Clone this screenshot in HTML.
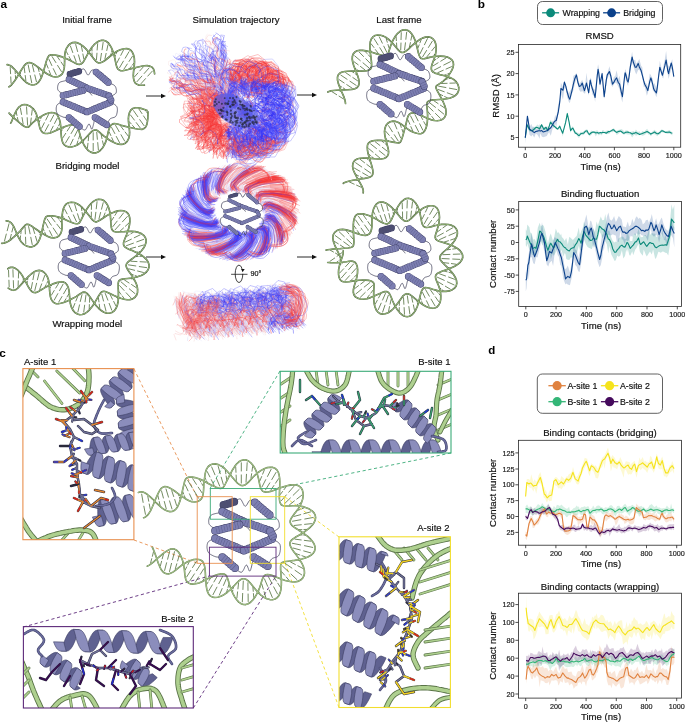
<!DOCTYPE html>
<html><head><meta charset="utf-8"><title>Figure</title>
<style>
html,body{margin:0;padding:0;background:#fff;}
svg{display:block;}
text{font-family:'Liberation Sans',Arial,sans-serif;}
</style></head>
<body>
<svg width="685" height="722" viewBox="0 0 685 722">
<rect width="685" height="722" fill="#fff"/>
<text x="0.6" y="8.1" font-size="11.8" text-anchor="start" font-weight="bold" fill="#000" stroke="#000" stroke-width="0.0">a</text>
<text x="477.8" y="8.0" font-size="11.8" text-anchor="start" font-weight="bold" fill="#000" stroke="#000" stroke-width="0.0">b</text>
<text x="-0.8" y="357.0" font-size="11.8" text-anchor="start" font-weight="bold" fill="#000" stroke="#000" stroke-width="0.0">c</text>
<text x="488.2" y="354.0" font-size="11.5" text-anchor="start" font-weight="bold" fill="#000" stroke="#000" stroke-width="0.0">d</text>
<text x="87.0" y="23.0" font-size="9.6" text-anchor="middle" fill="#111" stroke="#111" stroke-width="0.18">Initial frame</text>
<text x="236.0" y="23.0" font-size="9.6" text-anchor="middle" fill="#111" stroke="#111" stroke-width="0.18">Simulation trajectory</text>
<text x="399.0" y="23.0" font-size="9.6" text-anchor="middle" fill="#111" stroke="#111" stroke-width="0.18">Last frame</text>
<text x="87.5" y="169.0" font-size="9.6" text-anchor="middle" fill="#111" stroke="#111" stroke-width="0.18">Bridging model</text>
<text x="87.3" y="326.5" font-size="9.6" text-anchor="middle" fill="#111" stroke="#111" stroke-width="0.18">Wrapping model</text>
<line x1="231.1" y1="274.3" x2="247.5" y2="274.3" stroke="#111" stroke-width="0.75"/>
<ellipse cx="239" cy="273.8" rx="3.8" ry="8.7" fill="none" stroke="#111" stroke-width="0.8" stroke-dasharray="37.3 3.5"/>
<path d="M241.2,269.0 L244.7,269.0 L242.6,272.2Z" fill="#111"/>
<text x="250.6" y="275.8" font-size="7.2" text-anchor="start" fill="#111" stroke="#111" stroke-width="0.18">90°</text>
<text x="24.0" y="365.0" font-size="9.5" text-anchor="start" fill="#111" stroke="#111" stroke-width="0.18">A-site 1</text>
<text x="450.5" y="365.0" font-size="9.5" text-anchor="end" fill="#111" stroke="#111" stroke-width="0.18">B-site 1</text>
<text x="449.5" y="531.0" font-size="9.5" text-anchor="end" fill="#111" stroke="#111" stroke-width="0.18">A-site 2</text>
<text x="193.5" y="622.0" font-size="9.5" text-anchor="end" fill="#111" stroke="#111" stroke-width="0.18">B-site 2</text>
<rect x="537.5" y="1.5" width="125" height="23" rx="5" ry="5" fill="#fff" stroke="#3a3a3a" stroke-width="0.8"/>
<line x1="542.1" y1="12.8" x2="559.1" y2="12.8" stroke="#0b8a7a" stroke-width="1.3"/><circle cx="550.6" cy="12.8" r="4.45" fill="#0b8a7a"/>
<text x="562.5" y="16.0" font-size="8.8" text-anchor="start" fill="#111" stroke="#111" stroke-width="0.18">Wrapping</text>
<line x1="603.1" y1="12.8" x2="620.1" y2="12.8" stroke="#0b418b" stroke-width="1.3"/><circle cx="611.6" cy="12.8" r="4.45" fill="#0b418b"/>
<text x="623.2" y="16.0" font-size="8.8" text-anchor="start" fill="#111" stroke="#111" stroke-width="0.18">Bridging</text>
<rect x="518.5" y="44.5" width="162.20000000000005" height="102.69999999999999" fill="none" stroke="#262626" stroke-width="0.8"/>
<line x1="515.5" y1="137.5" x2="518.5" y2="137.5" stroke="#222" stroke-width="0.8"/>
<text x="514.5" y="140.1" font-size="7.2" text-anchor="end" fill="#222" stroke="#222" stroke-width="0.18">5</text>
<line x1="515.5" y1="116.2" x2="518.5" y2="116.2" stroke="#222" stroke-width="0.8"/>
<text x="514.5" y="118.8" font-size="7.2" text-anchor="end" fill="#222" stroke="#222" stroke-width="0.18">10</text>
<line x1="515.5" y1="94.9" x2="518.5" y2="94.9" stroke="#222" stroke-width="0.8"/>
<text x="514.5" y="97.5" font-size="7.2" text-anchor="end" fill="#222" stroke="#222" stroke-width="0.18">15</text>
<line x1="515.5" y1="73.6" x2="518.5" y2="73.6" stroke="#222" stroke-width="0.8"/>
<text x="514.5" y="76.2" font-size="7.2" text-anchor="end" fill="#222" stroke="#222" stroke-width="0.18">20</text>
<line x1="515.5" y1="52.3" x2="518.5" y2="52.3" stroke="#222" stroke-width="0.8"/>
<text x="514.5" y="54.9" font-size="7.2" text-anchor="end" fill="#222" stroke="#222" stroke-width="0.18">25</text>
<line x1="525.3" y1="147.2" x2="525.3" y2="150.2" stroke="#222" stroke-width="0.8"/>
<text x="525.3" y="157.8" font-size="7.2" text-anchor="middle" fill="#222" stroke="#222" stroke-width="0.18">0</text>
<line x1="555.0" y1="147.2" x2="555.0" y2="150.2" stroke="#222" stroke-width="0.8"/>
<text x="555.0" y="157.8" font-size="7.2" text-anchor="middle" fill="#222" stroke="#222" stroke-width="0.18">200</text>
<line x1="584.7" y1="147.2" x2="584.7" y2="150.2" stroke="#222" stroke-width="0.8"/>
<text x="584.7" y="157.8" font-size="7.2" text-anchor="middle" fill="#222" stroke="#222" stroke-width="0.18">400</text>
<line x1="614.4" y1="147.2" x2="614.4" y2="150.2" stroke="#222" stroke-width="0.8"/>
<text x="614.4" y="157.8" font-size="7.2" text-anchor="middle" fill="#222" stroke="#222" stroke-width="0.18">600</text>
<line x1="644.1" y1="147.2" x2="644.1" y2="150.2" stroke="#222" stroke-width="0.8"/>
<text x="644.1" y="157.8" font-size="7.2" text-anchor="middle" fill="#222" stroke="#222" stroke-width="0.18">800</text>
<line x1="673.8" y1="147.2" x2="673.8" y2="150.2" stroke="#222" stroke-width="0.8"/>
<text x="673.8" y="157.8" font-size="7.2" text-anchor="middle" fill="#222" stroke="#222" stroke-width="0.18">1000</text>
<text x="599.6" y="39.4" font-size="9.6" text-anchor="middle" fill="#111" stroke="#111" stroke-width="0.18">RMSD</text>
<text x="600.6" y="170.0" font-size="9.6" text-anchor="middle" fill="#111" stroke="#111" stroke-width="0.18">Time (ns)</text>
<text x="499.5" y="95.8" font-size="9.6" text-anchor="middle" fill="#111" stroke="#111" stroke-width="0.18" transform="rotate(-90 499.5 95.8)">RMSD (Å)</text>
<path d="M525.3,135.1 L527.4,114.2 L528.3,118.7 L529.5,127.0 L531.3,124.0 L532.4,126.8 L534.3,126.8 L535.7,129.6 L537.3,128.5 L538.8,128.3 L539.6,124.1 L540.3,125.4 L541.8,124.5 L543.1,130.0 L544.8,127.0 L546.8,128.6 L547.8,126.0 L549.1,127.8 L550.8,126.1 L552.6,120.7 L553.8,121.0 L555.3,114.8 L556.2,118.1 L558.3,104.0 L559.8,98.7 L560.9,82.7 L563.0,87.0 L564.4,80.2 L565.8,84.9 L567.0,88.4 L568.8,93.3 L569.8,91.3 L571.8,88.5 L573.4,75.8 L574.8,75.1 L576.4,73.1 L577.8,77.0 L579.2,83.8 L580.8,81.9 L582.2,79.7 L584.4,85.6 L585.3,83.8 L586.5,72.8 L588.7,91.3 L590.2,77.4 L591.3,79.3 L592.3,86.7 L594.3,89.2 L595.1,89.9 L595.8,84.8 L597.3,68.8 L598.1,64.3 L598.8,67.7 L600.0,82.6 L602.1,71.2 L603.3,85.0 L604.2,95.3 L606.3,75.1 L607.3,73.4 L609.4,66.3 L610.8,71.7 L612.5,82.2 L613.8,77.0 L615.3,75.9 L616.6,70.2 L618.3,79.0 L619.6,75.8 L621.3,86.7 L622.4,91.1 L624.3,77.8 L625.1,69.3 L625.8,70.3 L627.3,76.3 L628.1,80.7 L628.8,73.1 L630.3,61.7 L632.1,51.7 L633.3,60.4 L635.2,59.7 L636.3,63.7 L638.2,61.0 L639.3,58.9 L641.1,65.7 L642.3,67.2 L643.8,79.7 L644.7,82.3 L646.8,84.0 L647.8,86.6 L649.8,73.6 L650.9,75.2 L652.8,78.9 L653.6,86.0 L654.3,82.7 L656.4,87.9 L657.3,82.1 L658.8,71.7 L659.8,60.7 L662.4,72.5 L663.3,66.5 L664.8,59.4 L666.1,51.1 L667.8,65.2 L668.6,65.4 L669.3,67.4 L671.3,61.4 L672.3,59.3 L673.8,75.0 L673.8,78.4 L672.3,69.6 L671.3,69.2 L669.3,76.3 L668.6,79.0 L667.8,74.4 L666.1,61.3 L664.8,68.3 L663.3,78.6 L662.4,77.6 L659.8,68.8 L658.8,80.8 L657.3,93.8 L656.4,97.2 L654.3,91.9 L653.6,91.2 L652.8,90.2 L650.9,80.3 L649.8,84.0 L647.8,93.2 L646.8,95.7 L644.7,86.4 L643.8,87.2 L642.3,77.3 L641.1,73.2 L639.3,69.7 L638.2,70.0 L636.3,74.6 L635.2,72.0 L633.3,65.8 L632.1,63.1 L630.3,68.5 L628.8,80.2 L628.1,85.9 L627.3,84.3 L625.8,79.9 L625.1,77.1 L624.3,82.7 L622.4,102.4 L621.3,98.6 L619.6,89.7 L618.3,86.6 L616.6,83.5 L615.3,82.5 L613.8,84.2 L612.5,86.9 L610.8,84.2 L609.4,74.0 L607.3,79.0 L606.3,85.6 L604.2,99.1 L603.3,90.2 L602.1,75.9 L600.0,87.3 L598.8,76.8 L598.1,73.2 L597.3,78.3 L595.8,94.9 L595.1,102.1 L594.3,97.1 L592.3,94.3 L591.3,88.5 L590.2,83.7 L588.7,95.4 L586.5,85.0 L585.3,93.3 L584.4,93.6 L582.2,90.9 L580.8,92.1 L579.2,89.9 L577.8,84.7 L576.4,78.7 L574.8,83.9 L573.4,90.3 L571.8,94.3 L569.8,103.3 L568.8,101.8 L567.0,96.7 L565.8,88.2 L564.4,88.3 L563.0,99.7 L560.9,93.4 L559.8,103.7 L558.3,114.2 L556.2,127.2 L555.3,123.9 L553.8,127.7 L552.6,128.6 L550.8,135.7 L549.1,131.9 L547.8,134.0 L546.8,136.1 L544.8,136.7 L543.1,137.2 L541.8,136.6 L540.3,133.2 L539.6,138.7 L538.8,137.1 L537.3,134.5 L535.7,133.7 L534.3,137.6 L532.4,134.7 L531.3,136.5 L529.5,134.7 L528.3,128.1 L527.4,118.1 L525.3,143.7Z" fill="#0b418b" fill-opacity="0.2" stroke="none"/>
<path d="M525.3,136.7 L527.1,122.7 L528.3,126.5 L529.5,128.0 L531.3,129.7 L532.4,128.1 L534.3,127.3 L536.0,126.3 L537.3,124.5 L538.8,125.6 L539.6,127.4 L540.3,125.2 L541.6,124.0 L543.9,127.0 L544.8,127.2 L546.1,126.1 L547.6,129.7 L549.3,123.5 L550.5,119.7 L552.6,122.2 L553.8,124.8 L555.0,125.8 L556.8,127.1 L557.7,127.9 L559.8,124.5 L561.3,129.3 L562.7,132.5 L564.3,126.0 L565.7,120.0 L567.3,112.1 L569.1,121.0 L570.6,128.1 L571.8,127.6 L572.8,126.1 L574.8,131.3 L575.5,130.7 L576.3,132.0 L578.5,133.1 L579.3,133.5 L580.8,131.7 L582.8,131.9 L583.8,130.9 L585.3,130.1 L587.1,129.1 L588.3,132.5 L589.2,133.3 L591.3,130.5 L592.9,131.3 L594.3,131.3 L595.8,130.8 L597.3,130.3 L598.7,131.9 L600.3,131.7 L601.8,132.1 L602.5,129.9 L603.3,130.0 L604.8,131.8 L606.2,130.8 L608.5,130.2 L609.3,130.9 L610.8,129.9 L612.9,128.8 L613.8,128.0 L615.3,130.4 L616.6,130.8 L618.3,130.0 L620.3,129.5 L621.3,129.0 L623.3,130.2 L624.3,131.7 L625.8,130.2 L627.8,130.4 L628.8,131.2 L630.3,132.1 L632.2,131.6 L633.3,130.9 L634.8,131.9 L635.9,129.5 L637.8,131.9 L639.6,131.2 L640.8,133.3 L642.3,131.0 L644.1,131.7 L645.3,130.4 L647.1,128.7 L648.3,130.5 L649.8,132.4 L650.8,132.9 L652.8,131.3 L654.5,129.8 L655.8,130.9 L657.3,132.1 L658.2,132.8 L660.3,130.2 L661.9,129.2 L663.3,130.2 L664.8,131.1 L665.6,131.2 L667.8,130.7 L669.3,130.0 L670.8,131.1 L672.3,132.5 L672.3,135.6 L670.8,134.2 L669.3,133.4 L667.8,133.9 L665.6,133.3 L664.8,132.6 L663.3,133.1 L661.9,131.9 L660.3,134.2 L658.2,134.9 L657.3,136.2 L655.8,134.8 L654.5,134.2 L652.8,134.0 L650.8,136.2 L649.8,134.7 L648.3,134.6 L647.1,132.8 L645.3,134.5 L644.1,135.3 L642.3,135.8 L640.8,134.7 L639.6,135.2 L637.8,135.1 L635.9,135.7 L634.8,134.4 L633.3,135.7 L632.2,137.5 L630.3,134.4 L628.8,134.6 L627.8,134.4 L625.8,133.9 L624.3,134.5 L623.3,134.4 L621.3,132.7 L620.3,132.0 L618.3,134.0 L616.6,135.0 L615.3,132.1 L613.8,131.6 L612.9,132.2 L610.8,131.9 L609.3,133.8 L608.5,134.0 L606.2,134.2 L604.8,133.4 L603.3,133.2 L602.5,133.7 L601.8,135.5 L600.3,134.2 L598.7,135.5 L597.3,133.6 L595.8,136.5 L594.3,133.5 L592.9,132.9 L591.3,135.0 L589.2,136.3 L588.3,134.1 L587.1,133.2 L585.3,132.2 L583.8,134.9 L582.8,135.3 L580.8,134.7 L579.3,137.6 L578.5,137.7 L576.3,134.4 L575.5,133.9 L574.8,134.3 L572.8,130.4 L571.8,129.8 L570.6,133.0 L569.1,122.8 L567.3,115.3 L565.7,123.5 L564.3,129.6 L562.7,136.4 L561.3,131.6 L559.8,128.9 L557.7,129.9 L556.8,129.8 L555.0,128.0 L553.8,127.3 L552.6,126.0 L550.5,124.4 L549.3,127.2 L547.6,131.8 L546.1,129.0 L544.8,129.6 L543.9,130.4 L541.6,126.2 L540.3,128.4 L539.6,129.8 L538.8,130.2 L537.3,128.2 L536.0,129.4 L534.3,129.9 L532.4,133.0 L531.3,131.6 L529.5,131.7 L528.3,128.7 L527.1,126.7 L525.3,139.9Z" fill="#0b8a7a" fill-opacity="0.2" stroke="none"/>
<path d="M525.3,137.5 L527.1,124.7 L528.3,127.3 L529.5,129.8 L531.3,130.5 L532.4,130.7 L534.3,129.0 L536.0,127.3 L537.3,127.5 L538.8,128.2 L539.6,129.0 L540.3,127.5 L541.6,124.7 L543.9,129.4 L544.8,128.3 L546.1,127.3 L547.6,130.7 L549.3,125.9 L550.5,122.2 L552.6,124.7 L553.8,126.0 L555.0,126.8 L556.8,128.5 L557.7,129.0 L559.8,126.4 L561.3,130.1 L562.7,133.2 L564.3,127.4 L565.7,122.2 L567.3,113.6 L569.1,122.2 L570.6,130.7 L571.8,128.9 L572.8,128.1 L574.8,132.1 L575.5,133.2 L576.3,133.4 L578.5,135.4 L579.3,135.5 L580.8,133.7 L582.8,133.2 L583.8,133.1 L585.3,131.3 L587.1,130.7 L588.3,133.2 L589.2,134.5 L591.3,132.8 L592.9,132.0 L594.3,132.1 L595.8,133.0 L597.3,132.5 L598.7,133.2 L600.3,132.5 L601.8,132.9 L602.5,132.4 L603.3,132.5 L604.8,132.5 L606.2,133.2 L608.5,131.5 L609.3,131.8 L610.8,131.1 L612.9,129.8 L613.8,129.9 L615.3,131.5 L616.6,132.4 L618.3,131.5 L620.3,131.1 L621.3,131.5 L623.3,133.2 L624.3,133.1 L625.8,132.2 L627.8,132.0 L628.8,132.5 L630.3,132.8 L632.2,134.1 L633.3,133.3 L634.8,133.1 L635.9,132.4 L637.8,133.4 L639.6,134.5 L640.8,134.1 L642.3,133.6 L644.1,132.8 L645.3,132.3 L647.1,131.5 L648.3,132.2 L649.8,133.1 L650.8,134.1 L652.8,133.1 L654.5,132.0 L655.8,133.0 L657.3,133.8 L658.2,133.7 L660.3,132.1 L661.9,130.7 L663.3,131.1 L664.8,132.0 L665.6,132.4 L667.8,132.3 L669.3,132.0 L670.8,132.8 L672.3,133.2" fill="none" stroke="#0b8a7a" stroke-width="1.1" stroke-linejoin="round" stroke-opacity="1.0"/>
<path d="M525.3,137.7 L527.4,116.2 L528.3,121.5 L529.5,129.0 L531.3,130.5 L532.4,131.1 L534.3,132.6 L535.7,131.5 L537.3,131.1 L538.8,130.8 L539.6,130.7 L540.3,131.1 L541.8,130.6 L543.1,132.0 L544.8,131.4 L546.8,130.7 L547.8,130.3 L549.1,129.0 L550.8,127.7 L552.6,124.7 L553.8,122.4 L555.3,120.8 L556.2,120.5 L558.3,111.9 L559.8,101.7 L560.9,88.5 L563.0,90.2 L564.4,82.1 L565.8,86.1 L567.0,91.5 L568.8,97.4 L569.8,99.2 L571.8,91.3 L573.4,84.2 L574.8,78.7 L576.4,74.9 L577.8,82.0 L579.2,86.4 L580.8,85.8 L582.2,83.0 L584.4,90.6 L585.3,87.9 L586.5,83.0 L588.7,92.8 L590.2,80.0 L591.3,84.9 L592.3,88.5 L594.3,94.4 L595.1,97.5 L595.8,90.9 L597.3,75.2 L598.1,69.3 L598.8,73.3 L600.0,84.2 L602.1,73.6 L603.3,86.9 L604.2,96.6 L606.3,79.9 L607.3,74.9 L609.4,71.5 L610.8,76.0 L612.5,84.2 L613.8,82.4 L615.3,79.5 L616.6,77.9 L618.3,82.5 L619.6,84.2 L621.3,92.1 L622.4,96.6 L624.3,79.1 L625.1,72.7 L625.8,74.5 L627.3,80.7 L628.1,82.1 L628.8,78.7 L630.3,67.1 L632.1,57.0 L633.3,62.1 L635.2,67.2 L636.3,67.3 L638.2,63.4 L639.3,66.9 L641.1,70.6 L642.3,75.1 L643.8,81.0 L644.7,84.2 L646.8,88.1 L647.8,90.6 L649.8,81.4 L650.9,77.9 L652.8,84.6 L653.6,88.5 L654.3,90.1 L656.4,92.8 L657.3,87.3 L658.8,74.8 L659.8,67.2 L662.4,75.3 L663.3,71.9 L664.8,65.9 L666.1,60.0 L667.8,70.8 L668.6,73.6 L669.3,70.0 L671.3,63.0 L672.3,67.3 L673.8,76.6" fill="none" stroke="#0b418b" stroke-width="1.1" stroke-linejoin="round" stroke-opacity="1.0"/>
<rect x="518.7" y="201.5" width="162.79999999999995" height="104.89999999999998" fill="none" stroke="#262626" stroke-width="0.8"/>
<line x1="515.7" y1="209.9" x2="518.7" y2="209.9" stroke="#222" stroke-width="0.8"/>
<text x="514.7" y="212.5" font-size="7.2" text-anchor="end" fill="#222" stroke="#222" stroke-width="0.18">50</text>
<line x1="515.7" y1="226.2" x2="518.7" y2="226.2" stroke="#222" stroke-width="0.8"/>
<text x="514.7" y="228.8" font-size="7.2" text-anchor="end" fill="#222" stroke="#222" stroke-width="0.18">25</text>
<line x1="515.7" y1="242.5" x2="518.7" y2="242.5" stroke="#222" stroke-width="0.8"/>
<text x="514.7" y="245.1" font-size="7.2" text-anchor="end" fill="#222" stroke="#222" stroke-width="0.18">0</text>
<line x1="515.7" y1="258.8" x2="518.7" y2="258.8" stroke="#222" stroke-width="0.8"/>
<text x="514.7" y="261.4" font-size="7.2" text-anchor="end" fill="#222" stroke="#222" stroke-width="0.18">-25</text>
<line x1="515.7" y1="275.1" x2="518.7" y2="275.1" stroke="#222" stroke-width="0.8"/>
<text x="514.7" y="277.7" font-size="7.2" text-anchor="end" fill="#222" stroke="#222" stroke-width="0.18">-50</text>
<line x1="515.7" y1="291.4" x2="518.7" y2="291.4" stroke="#222" stroke-width="0.8"/>
<text x="514.7" y="294.0" font-size="7.2" text-anchor="end" fill="#222" stroke="#222" stroke-width="0.18">-75</text>
<line x1="525.8" y1="306.4" x2="525.8" y2="309.4" stroke="#222" stroke-width="0.8"/>
<text x="525.8" y="317.0" font-size="7.2" text-anchor="middle" fill="#222" stroke="#222" stroke-width="0.18">0</text>
<line x1="556.1" y1="306.4" x2="556.1" y2="309.4" stroke="#222" stroke-width="0.8"/>
<text x="556.1" y="317.0" font-size="7.2" text-anchor="middle" fill="#222" stroke="#222" stroke-width="0.18">200</text>
<line x1="586.4" y1="306.4" x2="586.4" y2="309.4" stroke="#222" stroke-width="0.8"/>
<text x="586.4" y="317.0" font-size="7.2" text-anchor="middle" fill="#222" stroke="#222" stroke-width="0.18">400</text>
<line x1="616.7" y1="306.4" x2="616.7" y2="309.4" stroke="#222" stroke-width="0.8"/>
<text x="616.7" y="317.0" font-size="7.2" text-anchor="middle" fill="#222" stroke="#222" stroke-width="0.18">600</text>
<line x1="647.0" y1="306.4" x2="647.0" y2="309.4" stroke="#222" stroke-width="0.8"/>
<text x="647.0" y="317.0" font-size="7.2" text-anchor="middle" fill="#222" stroke="#222" stroke-width="0.18">800</text>
<line x1="677.3" y1="306.4" x2="677.3" y2="309.4" stroke="#222" stroke-width="0.8"/>
<text x="677.3" y="317.0" font-size="7.2" text-anchor="middle" fill="#222" stroke="#222" stroke-width="0.18">1000</text>
<text x="600.1" y="196.8" font-size="9.6" text-anchor="middle" fill="#111" stroke="#111" stroke-width="0.18">Binding fluctuation</text>
<text x="601.1" y="328.6" font-size="9.6" text-anchor="middle" fill="#111" stroke="#111" stroke-width="0.18">Time (ns)</text>
<text x="496.5" y="253.9" font-size="9.6" text-anchor="middle" fill="#111" stroke="#111" stroke-width="0.18" transform="rotate(-90 496.5 253.9)">Contact number</text>
<path d="M525.8,229.2 L526.6,231.0 L527.3,224.6 L529.4,227.3 L530.3,232.4 L531.8,233.5 L533.1,239.5 L534.8,239.3 L536.0,241.5 L537.8,227.7 L539.7,222.8 L540.8,226.5 L542.6,224.7 L543.8,225.9 L545.5,231.7 L546.8,238.8 L547.9,243.3 L549.8,235.8 L550.8,233.4 L552.8,240.2 L553.8,239.3 L555.8,228.6 L557.5,233.1 L558.8,232.2 L560.3,235.4 L561.1,233.4 L561.8,237.1 L563.3,238.4 L564.8,241.1 L565.5,239.3 L566.3,238.0 L567.8,244.5 L569.3,236.8 L570.8,238.1 L572.9,239.9 L573.8,239.1 L575.3,237.3 L576.7,236.0 L578.8,227.5 L579.8,235.0 L581.1,231.6 L582.8,227.8 L584.0,221.4 L585.8,226.4 L587.6,227.1 L588.8,227.7 L590.5,226.2 L591.8,235.1 L593.5,228.3 L594.8,232.5 L596.6,221.5 L597.8,225.5 L599.4,220.7 L600.8,216.4 L602.3,220.2 L604.1,220.1 L605.3,214.0 L606.8,224.5 L608.3,230.9 L609.4,230.5 L611.3,237.6 L612.8,240.9 L614.6,242.4 L615.8,241.4 L617.3,241.9 L618.8,237.9 L620.3,237.5 L621.9,236.2 L623.3,237.1 L625.0,239.2 L626.3,238.4 L627.0,226.8 L627.8,232.2 L629.3,238.0 L630.2,241.0 L632.3,241.1 L633.2,234.4 L635.3,233.2 L636.4,236.4 L638.5,228.7 L639.8,233.4 L640.6,237.3 L642.8,236.9 L643.7,234.9 L645.8,234.9 L646.8,236.7 L648.8,229.7 L650.0,234.9 L651.8,233.0 L653.1,233.5 L655.2,233.7 L656.3,236.7 L658.4,237.5 L659.3,229.7 L660.8,238.2 L662.5,229.0 L663.8,239.9 L665.3,234.5 L666.7,240.0 L668.3,235.6 L669.7,225.1 L671.5,204.3 L672.8,209.8 L674.3,205.1 L674.3,230.3 L672.8,230.7 L671.5,229.2 L669.7,246.1 L668.3,255.5 L666.7,253.1 L665.3,252.8 L663.8,251.7 L662.5,251.6 L660.8,252.8 L659.3,252.0 L658.4,251.8 L656.3,257.8 L655.2,259.0 L653.1,249.4 L651.8,254.6 L650.0,251.5 L648.8,253.2 L646.8,256.6 L645.8,254.7 L643.7,249.6 L642.8,255.7 L640.6,253.0 L639.8,251.5 L638.5,243.7 L636.4,248.3 L635.3,249.4 L633.2,255.3 L632.3,251.3 L630.2,255.7 L629.3,254.9 L627.8,248.8 L627.0,252.2 L626.3,249.2 L625.0,256.1 L623.3,258.4 L621.9,250.2 L620.3,255.6 L618.8,256.7 L617.3,255.4 L615.8,260.3 L614.6,260.9 L612.8,257.2 L611.3,254.4 L609.4,245.7 L608.3,253.5 L606.8,244.3 L605.3,241.6 L604.1,235.3 L602.3,238.6 L600.8,233.8 L599.4,231.5 L597.8,240.3 L596.6,247.7 L594.8,247.3 L593.5,244.0 L591.8,249.2 L590.5,248.6 L588.8,247.8 L587.6,247.0 L585.8,244.1 L584.0,239.6 L582.8,244.4 L581.1,250.7 L579.8,249.7 L578.8,245.8 L576.7,253.9 L575.3,253.1 L573.8,253.0 L572.9,257.4 L570.8,257.5 L569.3,260.0 L567.8,259.7 L566.3,259.1 L565.5,254.2 L564.8,253.1 L563.3,256.5 L561.8,251.1 L561.1,249.8 L560.3,252.5 L558.8,249.7 L557.5,246.9 L555.8,252.3 L553.8,256.1 L552.8,253.5 L550.8,259.2 L549.8,251.4 L547.9,260.9 L546.8,254.6 L545.5,248.0 L543.8,242.2 L542.6,245.8 L540.8,241.6 L539.7,241.9 L537.8,250.3 L536.0,255.1 L534.8,254.0 L533.1,255.2 L531.8,254.8 L530.3,250.6 L529.4,249.8 L527.3,243.5 L526.6,246.9 L525.8,245.2Z" fill="#0b8a7a" fill-opacity="0.22" stroke="none"/>
<path d="M525.8,271.2 L526.6,274.6 L527.9,258.3 L528.8,253.4 L530.3,241.4 L531.6,233.4 L533.3,243.3 L534.6,247.5 L536.3,245.0 L537.5,239.5 L539.3,234.5 L540.8,230.4 L542.0,222.2 L544.4,238.5 L545.3,242.8 L546.7,250.2 L548.3,247.0 L549.4,242.2 L551.7,248.7 L553.1,241.9 L554.3,237.5 L555.3,237.4 L557.9,239.3 L558.8,239.2 L560.3,250.0 L561.3,251.9 L563.4,258.8 L564.8,268.4 L565.5,269.1 L566.3,268.5 L567.8,265.6 L569.9,272.2 L571.4,264.8 L572.3,260.4 L573.7,242.6 L575.3,249.6 L576.7,250.5 L578.3,257.9 L579.6,252.4 L581.9,236.5 L582.8,235.3 L584.4,222.2 L586.4,214.5 L587.3,219.7 L588.8,228.8 L590.3,220.4 L591.4,221.6 L593.3,228.4 L594.3,230.8 L596.6,240.7 L597.8,247.0 L599.6,255.7 L600.8,243.1 L602.3,233.8 L603.1,235.5 L603.8,229.7 L605.3,226.9 L606.8,217.2 L608.4,212.6 L609.8,219.3 L611.4,220.7 L612.8,219.0 L614.1,216.1 L615.8,222.0 L616.7,220.4 L618.8,216.1 L620.5,218.0 L621.8,219.8 L622.9,226.5 L624.8,226.8 L625.9,227.2 L627.8,221.6 L629.1,226.6 L630.8,224.8 L632.3,218.7 L633.8,223.2 L635.5,217.9 L636.8,216.2 L638.5,218.9 L639.8,217.8 L641.7,219.9 L642.8,224.5 L644.9,222.5 L645.8,220.3 L647.9,219.7 L648.8,223.0 L650.9,217.7 L651.8,213.9 L654.0,225.6 L654.8,222.6 L656.1,218.2 L657.8,224.9 L659.1,223.0 L660.8,219.1 L661.8,217.5 L663.8,224.8 L665.3,228.4 L666.8,229.9 L668.4,231.0 L669.8,226.8 L671.1,217.1 L672.9,225.0 L674.3,227.4 L674.3,247.5 L672.9,238.0 L671.1,235.1 L669.8,235.5 L668.4,244.4 L666.8,246.3 L665.3,240.2 L663.8,240.1 L661.8,233.6 L660.8,236.1 L659.1,242.5 L657.8,237.4 L656.1,234.6 L654.8,235.9 L654.0,236.7 L651.8,234.4 L650.9,228.0 L648.8,235.6 L647.9,241.1 L645.8,236.5 L644.9,235.4 L642.8,235.4 L641.7,235.2 L639.8,233.7 L638.5,234.8 L636.8,232.9 L635.5,235.5 L633.8,233.7 L632.3,237.1 L630.8,235.6 L629.1,239.8 L627.8,241.4 L625.9,240.1 L624.8,244.6 L622.9,239.4 L621.8,239.4 L620.5,230.7 L618.8,241.9 L616.7,241.6 L615.8,235.6 L614.1,235.1 L612.8,234.3 L611.4,235.2 L609.8,235.5 L608.4,234.5 L606.8,237.8 L605.3,240.1 L603.8,251.1 L603.1,247.8 L602.3,257.8 L600.8,265.0 L599.6,267.2 L597.8,262.0 L596.6,256.0 L594.3,244.5 L593.3,248.1 L591.4,236.6 L590.3,240.3 L588.8,242.2 L587.3,236.2 L586.4,232.3 L584.4,238.6 L582.8,248.2 L581.9,259.0 L579.6,272.1 L578.3,271.2 L576.7,266.4 L575.3,264.9 L573.7,257.8 L572.3,275.3 L571.4,279.0 L569.9,285.3 L567.8,284.4 L566.3,283.4 L565.5,284.5 L564.8,282.8 L563.4,279.0 L561.3,265.8 L560.3,265.0 L558.8,256.6 L557.9,255.5 L555.3,246.8 L554.3,256.0 L553.1,266.1 L551.7,260.7 L549.4,263.0 L548.3,266.5 L546.7,264.6 L545.3,255.6 L544.4,252.3 L542.0,239.5 L540.8,243.1 L539.3,249.8 L537.5,257.5 L536.3,257.0 L534.6,264.3 L533.3,263.2 L531.6,257.0 L530.3,257.5 L528.8,279.9 L527.9,269.9 L526.6,288.1 L525.8,291.6Z" fill="#0b418b" fill-opacity="0.2" stroke="none"/>
<path d="M525.8,239.9 L526.6,239.2 L527.3,236.0 L529.4,241.2 L530.3,243.4 L531.8,245.4 L533.1,248.4 L534.8,247.4 L536.0,248.4 L537.8,241.0 L539.7,231.1 L540.8,231.7 L542.6,234.7 L543.8,236.9 L545.5,242.5 L546.8,247.1 L547.9,250.3 L549.8,245.0 L550.8,243.2 L552.8,247.1 L553.8,247.7 L555.8,242.5 L557.5,239.2 L558.8,241.5 L560.3,242.1 L561.1,243.2 L561.8,243.9 L563.3,246.3 L564.8,247.6 L565.5,247.7 L566.3,249.1 L567.8,250.2 L569.3,251.0 L570.8,248.8 L572.9,247.7 L573.8,247.7 L575.3,244.9 L576.7,243.2 L578.8,238.6 L579.8,240.1 L581.1,243.2 L582.8,235.3 L584.0,231.4 L585.8,235.1 L587.6,237.3 L588.8,238.7 L590.5,240.5 L591.8,240.3 L593.5,237.9 L594.8,239.0 L596.6,239.2 L597.8,234.7 L599.4,226.2 L600.8,227.3 L602.3,229.1 L604.1,230.1 L605.3,231.9 L606.8,234.4 L608.3,239.0 L609.4,239.6 L611.3,243.4 L612.8,249.0 L614.6,252.3 L615.8,252.3 L617.3,249.9 L618.8,248.4 L620.3,246.1 L621.9,245.1 L623.3,246.6 L625.0,247.1 L626.3,244.3 L627.0,242.5 L627.8,243.0 L629.3,246.1 L630.2,248.4 L632.3,246.0 L633.2,245.1 L635.3,241.9 L636.4,241.8 L638.5,237.9 L639.8,242.9 L640.6,244.5 L642.8,242.5 L643.7,241.8 L645.8,245.1 L646.8,246.4 L648.8,243.7 L650.0,242.5 L651.8,243.4 L653.1,243.5 L655.2,247.1 L656.3,247.7 L658.4,246.4 L659.3,245.8 L660.8,245.3 L662.5,245.1 L663.8,245.3 L665.3,244.7 L666.7,245.1 L668.3,240.4 L669.7,236.0 L671.5,219.0 L672.8,220.9 L674.3,222.9" fill="none" stroke="#0b8a7a" stroke-width="1.1" stroke-linejoin="round" stroke-opacity="1.0"/>
<path d="M525.8,280.3 L526.6,279.0 L527.9,265.3 L528.8,262.7 L530.3,251.5 L531.6,243.8 L533.3,252.0 L534.6,256.8 L536.3,252.3 L537.5,249.0 L539.3,243.1 L540.8,236.1 L542.0,233.4 L544.4,242.5 L545.3,249.6 L546.7,260.8 L548.3,256.0 L549.4,251.6 L551.7,252.9 L553.1,249.0 L554.3,245.4 L555.3,242.5 L557.9,248.4 L558.8,250.3 L560.3,254.7 L561.3,257.5 L563.4,267.9 L564.8,274.7 L565.5,279.0 L566.3,277.9 L567.8,276.4 L569.9,277.7 L571.4,271.8 L572.3,265.0 L573.7,252.6 L575.3,255.0 L576.7,258.8 L578.3,262.8 L579.6,264.7 L581.9,247.1 L582.8,239.9 L584.4,227.5 L586.4,226.2 L587.3,228.4 L588.8,234.7 L590.3,229.7 L591.4,228.2 L593.3,237.1 L594.3,239.2 L596.6,247.7 L597.8,252.8 L599.6,259.5 L600.8,255.5 L602.3,246.7 L603.1,243.8 L603.8,240.8 L605.3,235.2 L606.8,228.4 L608.4,223.3 L609.8,224.9 L611.4,228.8 L612.8,227.9 L614.1,224.9 L615.8,228.6 L616.7,230.8 L618.8,227.3 L620.5,226.2 L621.8,230.2 L622.9,232.1 L624.8,232.0 L625.9,233.4 L627.8,232.8 L629.1,230.8 L630.8,229.6 L632.3,228.8 L633.8,227.7 L635.5,226.2 L636.8,226.4 L638.5,227.5 L639.8,228.7 L641.7,230.8 L642.8,230.2 L644.9,231.4 L645.8,230.0 L647.9,230.1 L648.8,229.1 L650.9,222.3 L651.8,223.6 L654.0,230.8 L654.8,229.3 L656.1,224.9 L657.8,229.9 L659.1,234.7 L660.8,229.5 L661.8,224.9 L663.8,230.7 L665.3,233.4 L666.8,235.5 L668.4,236.6 L669.8,231.7 L671.1,226.2 L672.9,230.8 L674.3,233.4" fill="none" stroke="#0b418b" stroke-width="1.1" stroke-linejoin="round" stroke-opacity="1.0"/>
<rect x="537.3" y="374" width="125.2" height="39.3" rx="5" ry="5" fill="#fff" stroke="#3a3a3a" stroke-width="0.8"/>
<line x1="548.4" y1="385.7" x2="565.8000000000001" y2="385.7" stroke="#e0823f" stroke-width="1.3"/><circle cx="557.1" cy="385.7" r="4.6" fill="#e0823f"/>
<text x="567.5" y="389.0" font-size="8.8" text-anchor="start" fill="#111" stroke="#111" stroke-width="0.18">A-site 1</text>
<line x1="600.9" y1="385.7" x2="618.3000000000001" y2="385.7" stroke="#f5e31c" stroke-width="1.3"/><circle cx="609.6" cy="385.7" r="4.6" fill="#f5e31c"/>
<text x="620.0" y="389.0" font-size="8.8" text-anchor="start" fill="#111" stroke="#111" stroke-width="0.18">A-site 2</text>
<line x1="548.4" y1="401.7" x2="565.8000000000001" y2="401.7" stroke="#34b677" stroke-width="1.3"/><circle cx="557.1" cy="401.7" r="4.6" fill="#34b677"/>
<text x="567.5" y="405.0" font-size="8.8" text-anchor="start" fill="#111" stroke="#111" stroke-width="0.18">B-site 1</text>
<line x1="600.9" y1="401.7" x2="618.3000000000001" y2="401.7" stroke="#450a5c" stroke-width="1.3"/><circle cx="609.6" cy="401.7" r="4.6" fill="#450a5c"/>
<text x="620.0" y="405.0" font-size="8.8" text-anchor="start" fill="#111" stroke="#111" stroke-width="0.18">B-site 2</text>
<rect x="518.4" y="440.3" width="163.10000000000002" height="104.90000000000003" fill="none" stroke="#262626" stroke-width="0.8"/>
<line x1="515.4" y1="452.9" x2="518.4" y2="452.9" stroke="#222" stroke-width="0.8"/>
<text x="514.4" y="455.5" font-size="7.2" text-anchor="end" fill="#222" stroke="#222" stroke-width="0.18">125</text>
<line x1="515.4" y1="469.0" x2="518.4" y2="469.0" stroke="#222" stroke-width="0.8"/>
<text x="514.4" y="471.6" font-size="7.2" text-anchor="end" fill="#222" stroke="#222" stroke-width="0.18">125</text>
<line x1="515.4" y1="484.8" x2="518.4" y2="484.8" stroke="#222" stroke-width="0.8"/>
<text x="514.4" y="487.4" font-size="7.2" text-anchor="end" fill="#222" stroke="#222" stroke-width="0.18">100</text>
<line x1="515.4" y1="500.6" x2="518.4" y2="500.6" stroke="#222" stroke-width="0.8"/>
<text x="514.4" y="503.2" font-size="7.2" text-anchor="end" fill="#222" stroke="#222" stroke-width="0.18">75</text>
<line x1="515.4" y1="516.5" x2="518.4" y2="516.5" stroke="#222" stroke-width="0.8"/>
<text x="514.4" y="519.1" font-size="7.2" text-anchor="end" fill="#222" stroke="#222" stroke-width="0.18">50</text>
<line x1="515.4" y1="532.4" x2="518.4" y2="532.4" stroke="#222" stroke-width="0.8"/>
<text x="514.4" y="535.0" font-size="7.2" text-anchor="end" fill="#222" stroke="#222" stroke-width="0.18">25</text>
<line x1="525.7" y1="545.2" x2="525.7" y2="548.2" stroke="#222" stroke-width="0.8"/>
<text x="525.7" y="555.8" font-size="7.2" text-anchor="middle" fill="#222" stroke="#222" stroke-width="0.18">0</text>
<line x1="555.9" y1="545.2" x2="555.9" y2="548.2" stroke="#222" stroke-width="0.8"/>
<text x="555.9" y="555.8" font-size="7.2" text-anchor="middle" fill="#222" stroke="#222" stroke-width="0.18">200</text>
<line x1="586.1" y1="545.2" x2="586.1" y2="548.2" stroke="#222" stroke-width="0.8"/>
<text x="586.1" y="555.8" font-size="7.2" text-anchor="middle" fill="#222" stroke="#222" stroke-width="0.18">400</text>
<line x1="616.3" y1="545.2" x2="616.3" y2="548.2" stroke="#222" stroke-width="0.8"/>
<text x="616.3" y="555.8" font-size="7.2" text-anchor="middle" fill="#222" stroke="#222" stroke-width="0.18">600</text>
<line x1="646.5" y1="545.2" x2="646.5" y2="548.2" stroke="#222" stroke-width="0.8"/>
<text x="646.5" y="555.8" font-size="7.2" text-anchor="middle" fill="#222" stroke="#222" stroke-width="0.18">800</text>
<line x1="676.7" y1="545.2" x2="676.7" y2="548.2" stroke="#222" stroke-width="0.8"/>
<text x="676.7" y="555.8" font-size="7.2" text-anchor="middle" fill="#222" stroke="#222" stroke-width="0.18">1000</text>
<text x="600.0" y="436.4" font-size="9.6" text-anchor="middle" fill="#111" stroke="#111" stroke-width="0.18">Binding contacts (bridging)</text>
<text x="601.0" y="567.0" font-size="9.6" text-anchor="middle" fill="#111" stroke="#111" stroke-width="0.18">Time (ns)</text>
<text x="496.5" y="492.8" font-size="9.6" text-anchor="middle" fill="#111" stroke="#111" stroke-width="0.18" transform="rotate(-90 496.5 492.8)">Contact number</text>
<path d="M525.6,493.1 L526.8,479.0 L529.0,478.9 L530.1,480.3 L531.2,474.2 L533.4,481.9 L534.6,479.3 L536.3,482.0 L537.6,479.2 L538.5,475.5 L540.3,471.9 L542.2,478.6 L543.6,487.2 L544.4,487.1 L545.1,489.7 L546.6,491.8 L547.3,495.1 L548.1,494.2 L549.5,491.0 L551.7,489.1 L552.6,486.2 L553.9,478.4 L555.8,477.1 L557.1,477.4 L558.3,479.3 L560.1,480.5 L561.3,476.0 L563.5,478.1 L564.6,479.6 L566.4,476.4 L567.6,476.4 L568.6,474.5 L570.8,473.1 L572.1,470.9 L573.0,466.8 L575.2,475.5 L576.6,477.1 L578.1,475.1 L579.6,471.2 L580.3,471.8 L581.1,467.9 L582.5,464.8 L584.7,457.7 L586.2,458.4 L587.1,458.4 L588.1,462.3 L589.6,468.2 L591.3,463.3 L593.5,465.0 L594.6,466.0 L595.7,465.3 L597.9,468.7 L599.1,464.9 L600.2,461.8 L602.4,457.4 L603.6,456.4 L604.6,455.3 L606.1,451.9 L608.0,447.4 L609.5,453.9 L610.9,457.6 L612.7,455.1 L614.1,457.3 L614.9,457.7 L615.6,460.3 L617.1,461.7 L619.3,459.9 L620.1,457.1 L621.5,459.7 L623.7,465.0 L624.6,464.2 L625.9,461.2 L628.1,461.7 L629.6,462.0 L630.6,464.9 L631.5,463.6 L633.2,462.1 L634.7,460.8 L636.5,468.1 L638.4,462.5 L639.6,457.3 L640.6,460.3 L642.8,456.9 L644.1,461.7 L645.0,460.5 L647.2,462.6 L648.6,462.2 L649.4,461.3 L650.1,455.7 L651.6,457.2 L653.8,464.2 L655.3,459.6 L656.7,453.6 L657.6,456.0 L658.5,460.1 L660.4,460.6 L662.2,456.5 L664.1,462.7 L665.1,468.8 L665.8,469.6 L666.6,468.3 L667.8,469.8 L670.0,464.7 L671.1,464.8 L672.2,460.9 L674.1,465.4 L674.1,473.8 L672.2,470.1 L671.1,472.0 L670.0,472.3 L667.8,476.1 L666.6,477.4 L665.8,477.0 L665.1,475.7 L664.1,476.7 L662.2,469.0 L660.4,469.6 L658.5,468.4 L657.6,465.2 L656.7,459.4 L655.3,468.5 L653.8,472.8 L651.6,468.8 L650.1,468.6 L649.4,467.7 L648.6,469.1 L647.2,473.0 L645.0,469.5 L644.1,469.4 L642.8,467.7 L640.6,470.2 L639.6,468.3 L638.4,469.4 L636.5,477.8 L634.7,470.5 L633.2,471.0 L631.5,474.3 L630.6,474.5 L629.6,473.9 L628.1,474.8 L625.9,469.7 L624.6,470.6 L623.7,477.8 L621.5,471.6 L620.1,468.3 L619.3,464.1 L617.1,469.3 L615.6,468.2 L614.9,467.3 L614.1,468.2 L612.7,465.4 L610.9,471.5 L609.5,462.5 L608.0,456.0 L606.1,459.0 L604.6,469.0 L603.6,463.3 L602.4,466.7 L600.2,468.8 L599.1,475.1 L597.9,478.6 L595.7,478.0 L594.6,474.4 L593.5,471.5 L591.3,469.3 L589.6,476.3 L588.1,472.6 L587.1,466.3 L586.2,464.8 L584.7,467.7 L582.5,472.6 L581.1,476.1 L580.3,478.8 L579.6,482.8 L578.1,484.7 L576.6,484.0 L575.2,481.3 L573.0,476.2 L572.1,479.3 L570.8,482.3 L568.6,482.8 L567.6,483.1 L566.4,482.0 L564.6,486.5 L563.5,486.2 L561.3,489.4 L560.1,488.1 L558.3,488.6 L557.1,486.0 L555.8,485.7 L553.9,484.0 L552.6,495.5 L551.7,500.8 L549.5,501.2 L548.1,499.6 L547.3,502.1 L546.6,502.3 L545.1,498.3 L544.4,498.2 L543.6,497.3 L542.2,487.4 L540.3,482.9 L538.5,483.8 L537.6,487.2 L536.3,493.8 L534.6,488.3 L533.4,491.6 L531.2,487.5 L530.1,488.3 L529.0,486.9 L526.8,485.4 L525.6,499.8Z" fill="#f5e31c" fill-opacity="0.2" stroke="none"/>
<path d="M525.6,506.2 L527.1,504.5 L529.0,507.7 L530.1,506.0 L531.6,507.3 L532.7,508.7 L534.6,507.8 L535.6,507.5 L537.6,504.5 L538.5,504.2 L540.6,505.9 L542.2,502.9 L543.6,505.1 L545.1,507.1 L546.6,506.0 L548.1,504.6 L549.6,506.1 L551.0,507.4 L552.6,508.8 L553.9,506.0 L555.6,508.1 L556.9,504.7 L558.6,505.2 L559.8,506.1 L561.6,504.6 L562.7,505.9 L564.6,507.4 L566.4,508.8 L567.6,508.5 L569.1,506.8 L570.1,511.1 L572.1,509.8 L573.7,508.1 L575.1,507.8 L576.7,505.4 L578.1,507.3 L578.9,506.2 L579.6,509.2 L581.1,507.2 L583.3,506.9 L584.1,506.3 L586.2,506.9 L587.1,506.6 L588.4,506.3 L589.9,509.5 L592.1,508.0 L593.1,505.6 L595.0,508.4 L596.1,506.4 L597.9,505.4 L599.1,505.6 L600.9,506.9 L602.1,507.3 L603.9,508.8 L605.1,507.3 L606.8,507.6 L608.1,507.8 L609.7,505.7 L611.1,504.9 L612.7,506.2 L614.1,508.6 L614.9,507.5 L615.6,509.4 L617.1,506.1 L619.3,505.7 L620.1,507.0 L621.5,507.8 L623.7,504.9 L625.2,503.8 L626.1,505.1 L627.4,507.1 L629.6,506.1 L630.6,506.0 L632.5,504.7 L633.6,505.7 L634.7,506.4 L636.9,508.3 L638.1,507.2 L639.1,506.7 L641.3,505.7 L642.6,506.9 L643.5,506.7 L645.7,509.0 L647.1,508.5 L647.9,508.1 L648.6,507.0 L650.1,504.6 L650.9,505.0 L651.6,503.7 L653.8,506.6 L654.6,506.9 L656.7,505.4 L657.6,507.4 L659.7,507.6 L660.6,508.3 L661.9,508.4 L664.1,507.9 L665.1,508.6 L667.0,505.6 L668.1,507.2 L670.0,508.4 L671.1,503.5 L672.2,508.2 L674.1,508.4 L674.1,513.2 L672.2,511.7 L671.1,512.8 L670.0,514.2 L668.1,514.2 L667.0,511.4 L665.1,514.4 L664.1,513.3 L661.9,515.7 L660.6,513.6 L659.7,514.4 L657.6,513.6 L656.7,511.5 L654.6,514.1 L653.8,512.7 L651.6,511.6 L650.9,512.2 L650.1,511.4 L648.6,513.9 L647.9,512.6 L647.1,512.7 L645.7,512.9 L643.5,510.6 L642.6,512.8 L641.3,513.9 L639.1,517.1 L638.1,513.7 L636.9,513.6 L634.7,511.7 L633.6,510.1 L632.5,511.6 L630.6,513.4 L629.6,516.1 L627.4,513.3 L626.1,512.3 L625.2,511.3 L623.7,512.6 L621.5,513.6 L620.1,513.2 L619.3,513.3 L617.1,513.6 L615.6,516.7 L614.9,515.8 L614.1,515.1 L612.7,511.9 L611.1,511.9 L609.7,510.7 L608.1,513.2 L606.8,513.3 L605.1,513.0 L603.9,514.4 L602.1,513.9 L600.9,511.9 L599.1,512.6 L597.9,512.2 L596.1,514.1 L595.0,512.2 L593.1,513.6 L592.1,514.3 L589.9,516.9 L588.4,513.7 L587.1,511.2 L586.2,512.1 L584.1,515.2 L583.3,514.6 L581.1,514.9 L579.6,513.7 L578.9,511.7 L578.1,515.1 L576.7,514.7 L575.1,515.4 L573.7,515.1 L572.1,513.2 L570.1,515.7 L569.1,514.7 L567.6,516.7 L566.4,517.3 L564.6,514.6 L562.7,514.4 L561.6,514.1 L559.8,510.6 L558.6,511.8 L556.9,514.4 L555.6,515.1 L553.9,514.5 L552.6,515.5 L551.0,512.2 L549.6,513.2 L548.1,513.2 L546.6,512.0 L545.1,515.2 L543.6,511.5 L542.2,510.6 L540.6,513.9 L538.5,512.8 L537.6,513.6 L535.6,513.3 L534.6,513.8 L532.7,515.4 L531.6,515.3 L530.1,513.1 L529.0,513.2 L527.1,513.3 L525.6,513.1Z" fill="#34b677" fill-opacity="0.2" stroke="none"/>
<path d="M525.6,531.4 L526.8,532.5 L529.0,521.2 L530.1,516.3 L531.2,516.0 L532.7,516.7 L534.1,521.9 L536.3,519.3 L537.6,518.3 L538.5,516.9 L540.7,511.4 L542.2,507.7 L543.6,507.7 L544.4,507.1 L545.1,506.4 L546.6,509.9 L548.1,508.9 L548.8,508.0 L549.6,510.0 L551.0,509.0 L553.2,509.9 L554.1,509.3 L555.4,512.7 L557.6,512.2 L558.6,509.7 L559.8,510.4 L562.0,512.2 L563.5,524.3 L564.9,526.2 L566.1,529.1 L567.9,526.4 L569.1,525.2 L570.1,526.5 L571.5,520.5 L573.0,513.0 L575.2,513.6 L576.6,514.1 L577.4,515.4 L578.1,517.3 L579.6,516.8 L580.3,517.5 L581.1,515.7 L582.5,516.2 L584.0,511.2 L585.5,508.3 L586.9,524.8 L588.1,524.1 L589.9,514.6 L592.1,514.8 L593.1,515.3 L594.3,516.2 L596.5,521.2 L597.6,522.6 L599.1,526.2 L600.2,526.5 L602.4,527.8 L603.6,517.7 L604.6,514.4 L606.1,511.5 L608.3,513.2 L609.6,512.4 L610.5,512.7 L612.7,511.1 L614.1,516.2 L614.9,517.2 L615.6,516.9 L617.1,515.9 L619.3,513.0 L620.1,514.5 L621.5,514.1 L623.7,515.6 L624.6,517.3 L625.9,515.4 L628.1,517.1 L629.1,518.4 L630.3,517.5 L632.5,517.5 L634.0,516.2 L635.4,508.1 L636.5,503.5 L637.6,505.1 L639.9,507.6 L641.1,508.4 L642.1,510.3 L643.5,514.7 L645.6,513.9 L646.5,511.4 L648.7,512.9 L650.1,512.8 L650.9,512.6 L651.6,513.7 L653.1,512.6 L655.3,515.3 L656.1,513.1 L657.5,515.7 L659.7,517.4 L661.1,512.3 L662.2,508.8 L663.3,512.9 L665.5,516.9 L666.6,514.7 L667.8,514.0 L670.0,514.5 L671.1,511.0 L672.2,515.4 L674.1,516.9 L674.1,522.8 L672.2,519.0 L671.1,521.8 L670.0,520.4 L667.8,522.0 L666.6,522.4 L665.5,521.9 L663.3,518.4 L662.2,517.4 L661.1,517.2 L659.7,521.1 L657.5,520.2 L656.1,521.0 L655.3,521.7 L653.1,519.5 L651.6,519.0 L650.9,518.5 L650.1,520.1 L648.7,520.1 L646.5,519.3 L645.6,520.5 L643.5,519.8 L642.1,514.5 L641.1,516.5 L639.9,514.2 L637.6,512.6 L636.5,510.8 L635.4,515.2 L634.0,523.1 L632.5,524.2 L630.3,524.6 L629.1,523.4 L628.1,521.4 L625.9,523.1 L624.6,524.0 L623.7,521.2 L621.5,519.7 L620.1,518.9 L619.3,518.1 L617.1,523.8 L615.6,525.5 L614.9,522.4 L614.1,519.8 L612.7,518.8 L610.5,517.5 L609.6,518.5 L608.3,518.7 L606.1,521.5 L604.6,518.4 L603.6,523.7 L602.4,533.9 L600.2,537.8 L599.1,532.4 L597.6,529.7 L596.5,527.1 L594.3,524.4 L593.1,523.5 L592.1,525.5 L589.9,520.3 L588.1,530.8 L586.9,528.6 L585.5,518.2 L584.0,520.4 L582.5,522.6 L581.1,522.6 L580.3,523.2 L579.6,523.4 L578.1,526.6 L577.4,521.3 L576.6,521.1 L575.2,519.0 L573.0,518.7 L571.5,531.2 L570.1,533.2 L569.1,534.1 L567.9,535.0 L566.1,534.5 L564.9,533.5 L563.5,530.8 L562.0,519.2 L559.8,515.5 L558.6,516.8 L557.6,516.8 L555.4,518.1 L554.1,517.4 L553.2,515.0 L551.0,515.7 L549.6,515.1 L548.8,514.0 L548.1,517.3 L546.6,517.0 L545.1,514.8 L544.4,510.8 L543.6,514.3 L542.2,514.3 L540.7,519.2 L538.5,524.2 L537.6,524.7 L536.3,524.6 L534.1,527.9 L532.7,528.0 L531.2,520.5 L530.1,523.7 L529.0,526.8 L526.8,540.1 L525.6,538.8Z" fill="#e0823f" fill-opacity="0.2" stroke="none"/>
<path d="M525.6,513.9 L527.5,517.2 L528.6,512.4 L529.7,508.2 L531.2,506.4 L532.7,509.8 L534.9,507.9 L536.1,510.4 L537.1,510.4 L539.1,510.5 L540.0,508.0 L542.2,507.9 L543.6,509.3 L544.4,507.7 L545.1,507.5 L546.6,508.5 L548.1,503.6 L549.5,506.2 L551.0,508.3 L552.5,512.3 L554.1,512.9 L555.4,514.1 L557.6,515.9 L559.1,523.1 L560.1,525.3 L562.0,525.0 L563.1,524.9 L564.2,526.9 L566.1,526.5 L567.1,526.8 L569.1,526.3 L570.1,527.0 L572.1,526.7 L573.0,525.3 L575.1,524.5 L575.9,527.4 L576.6,526.4 L578.1,525.9 L578.9,525.5 L579.6,526.9 L581.1,526.3 L582.5,522.6 L584.0,525.5 L585.6,525.6 L586.9,526.7 L588.6,525.9 L589.9,525.6 L591.6,525.1 L592.8,526.6 L594.6,522.4 L595.7,525.7 L597.9,529.7 L599.5,531.0 L600.6,529.8 L601.7,530.2 L603.9,529.0 L605.1,529.9 L606.1,527.9 L608.3,528.8 L609.6,528.3 L610.5,528.2 L612.7,527.2 L614.1,525.1 L614.9,527.7 L615.6,527.7 L617.1,526.7 L619.3,524.1 L620.1,527.1 L621.5,527.9 L623.7,527.8 L624.6,526.6 L625.9,527.0 L628.1,524.9 L629.1,524.4 L630.3,525.4 L632.5,527.0 L633.6,526.5 L634.7,525.1 L636.9,526.6 L638.1,526.1 L639.1,526.4 L641.3,526.8 L642.6,526.3 L643.5,524.1 L645.7,525.3 L647.1,525.4 L647.9,524.0 L648.6,524.7 L650.1,522.4 L651.6,524.0 L652.3,524.1 L653.1,524.2 L654.5,525.6 L656.7,524.9 L657.6,523.8 L658.9,526.2 L661.1,525.6 L662.1,525.1 L663.3,526.8 L665.5,527.2 L666.6,527.3 L667.8,525.0 L670.0,524.3 L671.1,524.3 L672.2,524.2 L674.1,524.1 L674.1,530.2 L672.2,529.3 L671.1,530.3 L670.0,529.2 L667.8,529.5 L666.6,531.1 L665.5,530.0 L663.3,529.5 L662.1,530.9 L661.1,530.2 L658.9,533.1 L657.6,531.7 L656.7,530.7 L654.5,531.4 L653.1,529.8 L652.3,529.0 L651.6,528.9 L650.1,527.4 L648.6,531.5 L647.9,529.1 L647.1,530.4 L645.7,531.2 L643.5,530.9 L642.6,531.2 L641.3,531.9 L639.1,532.5 L638.1,532.9 L636.9,530.2 L634.7,529.5 L633.6,529.4 L632.5,531.6 L630.3,529.8 L629.1,531.4 L628.1,531.3 L625.9,532.0 L624.6,533.6 L623.7,532.7 L621.5,533.5 L620.1,532.2 L619.3,531.5 L617.1,533.1 L615.6,532.1 L614.9,530.9 L614.1,531.7 L612.7,530.5 L610.5,534.0 L609.6,536.5 L608.3,531.7 L606.1,534.1 L605.1,535.0 L603.9,534.8 L601.7,533.2 L600.6,536.3 L599.5,536.5 L597.9,533.5 L595.7,531.0 L594.6,531.2 L592.8,530.8 L591.6,532.0 L589.9,531.4 L588.6,529.6 L586.9,531.1 L585.6,529.8 L584.0,530.7 L582.5,527.3 L581.1,529.4 L579.6,530.5 L578.9,530.8 L578.1,530.3 L576.6,531.2 L575.9,532.1 L575.1,532.1 L573.0,529.9 L572.1,530.8 L570.1,530.3 L569.1,529.4 L567.1,530.6 L566.1,531.8 L564.2,532.2 L563.1,530.9 L562.0,530.4 L560.1,530.1 L559.1,528.0 L557.6,522.0 L555.4,519.5 L554.1,517.9 L552.5,515.8 L551.0,513.4 L549.5,509.9 L548.1,511.4 L546.6,511.4 L545.1,513.7 L544.4,514.4 L543.6,514.8 L542.2,513.6 L540.0,516.4 L539.1,515.5 L537.1,513.8 L536.1,515.3 L534.9,514.1 L532.7,515.8 L531.2,512.6 L529.7,514.1 L528.6,516.8 L527.5,520.6 L525.6,519.7Z" fill="#450a5c" fill-opacity="0.2" stroke="none"/>
<path d="M525.6,508.9 L527.1,508.8 L529.0,509.7 L530.1,510.0 L531.6,511.2 L532.7,511.9 L534.6,511.2 L535.6,510.4 L537.6,509.3 L538.5,508.9 L540.6,507.9 L542.2,506.7 L543.6,507.4 L545.1,508.9 L546.6,509.0 L548.1,508.9 L549.6,510.1 L551.0,510.4 L552.6,511.3 L553.9,511.9 L555.6,511.0 L556.9,509.7 L558.6,509.6 L559.8,508.9 L561.6,509.8 L562.7,510.4 L564.6,510.7 L566.4,511.9 L567.6,512.3 L569.1,512.1 L570.1,512.6 L572.1,511.7 L573.7,511.9 L575.1,511.8 L576.7,511.1 L578.1,510.8 L578.9,510.1 L579.6,511.0 L581.1,511.9 L583.3,510.4 L584.1,510.8 L586.2,510.1 L587.1,509.6 L588.4,509.7 L589.9,513.3 L592.1,511.1 L593.1,510.5 L595.0,510.4 L596.1,509.8 L597.9,509.7 L599.1,509.9 L600.9,509.0 L602.1,509.5 L603.9,511.2 L605.1,510.6 L606.8,510.5 L608.1,509.4 L609.7,509.0 L611.1,508.9 L612.7,509.8 L614.1,510.8 L614.9,512.0 L615.6,511.4 L617.1,510.5 L619.3,509.0 L620.1,509.2 L621.5,510.5 L623.7,508.3 L625.2,507.5 L626.1,508.9 L627.4,511.2 L629.6,509.8 L630.6,509.5 L632.5,507.5 L633.6,508.0 L634.7,509.0 L636.9,510.5 L638.1,511.2 L639.1,511.2 L641.3,510.5 L642.6,509.8 L643.5,509.0 L645.7,511.2 L647.1,510.8 L647.9,510.5 L648.6,510.3 L650.1,509.6 L650.9,509.0 L651.6,509.4 L653.8,510.5 L654.6,510.0 L656.7,509.8 L657.6,509.8 L659.7,510.5 L660.6,510.8 L661.9,512.0 L664.1,510.5 L665.1,510.1 L667.0,509.8 L668.1,510.5 L670.0,510.5 L671.1,510.0 L672.2,509.8 L674.1,510.5" fill="none" stroke="#34b677" stroke-width="1.1" stroke-linejoin="round" stroke-opacity="1.0"/>
<path d="M525.6,534.6 L526.8,536.1 L529.0,523.6 L530.1,521.0 L531.2,518.5 L532.7,521.4 L534.1,525.1 L536.3,522.9 L537.6,521.2 L538.5,519.9 L540.7,514.8 L542.2,511.9 L543.6,510.2 L544.4,508.9 L545.1,510.2 L546.6,514.1 L548.1,512.6 L548.8,511.9 L549.6,512.8 L551.0,513.3 L553.2,512.6 L554.1,513.9 L555.4,514.8 L557.6,514.1 L558.6,513.4 L559.8,513.3 L562.0,514.8 L563.5,528.0 L564.9,530.9 L566.1,531.1 L567.9,530.9 L569.1,530.6 L570.1,530.2 L571.5,525.1 L573.0,515.5 L575.2,517.0 L576.6,518.5 L577.4,519.2 L578.1,519.8 L579.6,519.8 L580.3,519.9 L581.1,519.7 L582.5,519.2 L584.0,514.1 L585.5,514.8 L586.9,526.5 L588.1,528.0 L589.9,517.0 L592.1,519.2 L593.1,520.0 L594.3,519.9 L596.5,522.9 L597.6,525.7 L599.1,530.6 L600.2,533.2 L602.4,529.6 L603.6,521.8 L604.6,516.4 L606.1,514.9 L608.3,516.4 L609.6,515.9 L610.5,515.6 L612.7,517.1 L614.1,518.2 L614.9,519.3 L615.6,519.0 L617.1,517.8 L619.3,516.4 L620.1,517.1 L621.5,517.8 L623.7,519.3 L624.6,519.5 L625.9,520.0 L628.1,519.3 L629.1,520.0 L630.3,520.0 L632.5,519.3 L634.0,517.8 L635.4,510.5 L636.5,507.5 L637.6,509.0 L639.9,510.5 L641.1,511.8 L642.1,512.0 L643.5,517.8 L645.6,517.3 L646.5,517.1 L648.7,515.6 L650.1,515.8 L650.9,515.6 L651.6,515.5 L653.1,516.4 L655.3,517.1 L656.1,517.2 L657.5,518.6 L659.7,519.3 L661.1,514.9 L662.2,513.4 L663.3,516.4 L665.5,518.6 L666.6,518.7 L667.8,517.8 L670.0,517.8 L671.1,517.2 L672.2,517.1 L674.1,519.3" fill="none" stroke="#e0823f" stroke-width="1.1" stroke-linejoin="round" stroke-opacity="1.0"/>
<path d="M525.6,516.3 L527.5,518.5 L528.6,514.9 L529.7,511.1 L531.2,509.7 L532.7,512.6 L534.9,511.1 L536.1,511.7 L537.1,511.9 L539.1,513.3 L540.0,513.3 L542.2,511.9 L543.6,511.8 L544.4,511.1 L545.1,511.1 L546.6,509.7 L548.1,508.2 L549.5,507.5 L551.0,510.4 L552.5,514.1 L554.1,514.8 L555.4,515.5 L557.6,519.2 L559.1,525.1 L560.1,526.5 L562.0,528.0 L563.1,528.7 L564.2,529.5 L566.1,528.3 L567.1,528.0 L569.1,528.1 L570.1,528.7 L572.1,528.2 L573.0,528.0 L575.1,528.8 L575.9,529.5 L576.6,529.1 L578.1,529.0 L578.9,528.7 L579.6,528.8 L581.1,528.0 L582.5,524.3 L584.0,527.3 L585.6,527.9 L586.9,528.0 L588.6,528.0 L589.9,528.7 L591.6,528.8 L592.8,529.5 L594.6,528.3 L595.7,528.0 L597.9,531.7 L599.5,534.0 L600.6,532.9 L601.7,531.8 L603.9,532.5 L605.1,532.0 L606.1,531.0 L608.3,530.3 L609.6,531.1 L610.5,531.0 L612.7,528.8 L614.1,529.8 L614.9,529.6 L615.6,529.9 L617.1,530.3 L619.3,529.6 L620.1,530.0 L621.5,530.3 L623.7,531.0 L624.6,530.5 L625.9,530.3 L628.1,528.1 L629.1,527.9 L630.3,528.1 L632.5,528.8 L633.6,528.2 L634.7,528.1 L636.9,528.8 L638.1,529.3 L639.1,529.6 L641.3,528.8 L642.6,528.0 L643.5,527.4 L645.7,528.1 L647.1,527.2 L647.9,526.6 L648.6,526.3 L650.1,525.9 L651.6,526.4 L652.3,526.6 L653.1,526.9 L654.5,528.1 L656.7,527.4 L657.6,528.5 L658.9,529.6 L661.1,528.1 L662.1,528.2 L663.3,528.1 L665.5,528.8 L666.6,528.7 L667.8,528.1 L670.0,527.4 L671.1,527.7 L672.2,527.4 L674.1,527.4" fill="none" stroke="#450a5c" stroke-width="1.1" stroke-linejoin="round" stroke-opacity="1.0"/>
<path d="M525.6,496.5 L526.8,482.5 L529.0,484.0 L530.1,483.1 L531.2,483.3 L533.4,486.2 L534.6,485.5 L536.3,485.5 L537.6,482.7 L538.5,481.1 L540.3,477.4 L542.2,484.0 L543.6,491.2 L544.4,494.3 L545.1,494.6 L546.6,496.9 L547.3,497.9 L548.1,497.0 L549.5,495.7 L551.7,495.0 L552.6,490.0 L553.9,481.1 L555.8,479.6 L557.1,481.9 L558.3,484.7 L560.1,483.1 L561.3,481.8 L563.5,484.0 L564.6,482.3 L566.4,478.9 L567.6,479.3 L568.6,480.3 L570.8,478.1 L572.1,474.5 L573.0,472.3 L575.2,478.9 L576.6,479.9 L578.1,481.1 L579.6,476.8 L580.3,475.2 L581.1,473.4 L582.5,467.9 L584.7,463.5 L586.2,461.3 L587.1,463.3 L588.1,466.4 L589.6,470.8 L591.3,465.7 L593.5,467.1 L594.6,468.5 L595.7,470.8 L597.9,472.3 L599.1,469.6 L600.2,466.4 L602.4,460.6 L603.6,459.6 L604.6,459.1 L606.1,456.2 L608.0,453.2 L609.5,457.6 L610.9,463.5 L612.7,459.1 L614.1,461.3 L614.9,462.8 L615.6,463.0 L617.1,464.2 L619.3,462.0 L620.1,463.2 L621.5,465.7 L623.7,467.9 L624.6,467.8 L625.9,466.4 L628.1,465.0 L629.6,467.9 L630.6,468.4 L631.5,469.4 L633.2,465.7 L634.7,464.2 L636.5,471.6 L638.4,465.7 L639.6,464.6 L640.6,464.2 L642.8,462.8 L644.1,464.3 L645.0,465.0 L647.2,467.2 L648.6,464.7 L649.4,463.5 L650.1,463.5 L651.6,462.0 L653.8,468.6 L655.3,463.5 L656.7,456.9 L657.6,460.6 L658.5,463.5 L660.4,465.0 L662.2,460.6 L664.1,468.6 L665.1,471.2 L665.8,473.0 L666.6,472.7 L667.8,473.0 L670.0,467.9 L671.1,467.0 L672.2,465.7 L674.1,468.6" fill="none" stroke="#f5e31c" stroke-width="1.1" stroke-linejoin="round" stroke-opacity="1.0"/>
<rect x="518.4" y="593.2" width="163.10000000000002" height="104.89999999999998" fill="none" stroke="#262626" stroke-width="0.8"/>
<line x1="515.4" y1="604.6" x2="518.4" y2="604.6" stroke="#222" stroke-width="0.8"/>
<text x="514.4" y="607.2" font-size="7.2" text-anchor="end" fill="#222" stroke="#222" stroke-width="0.18">120</text>
<line x1="515.4" y1="622.4" x2="518.4" y2="622.4" stroke="#222" stroke-width="0.8"/>
<text x="514.4" y="625.0" font-size="7.2" text-anchor="end" fill="#222" stroke="#222" stroke-width="0.18">100</text>
<line x1="515.4" y1="640.3" x2="518.4" y2="640.3" stroke="#222" stroke-width="0.8"/>
<text x="514.4" y="642.9" font-size="7.2" text-anchor="end" fill="#222" stroke="#222" stroke-width="0.18">80</text>
<line x1="515.4" y1="658.2" x2="518.4" y2="658.2" stroke="#222" stroke-width="0.8"/>
<text x="514.4" y="660.8" font-size="7.2" text-anchor="end" fill="#222" stroke="#222" stroke-width="0.18">60</text>
<line x1="515.4" y1="676.1" x2="518.4" y2="676.1" stroke="#222" stroke-width="0.8"/>
<text x="514.4" y="678.7" font-size="7.2" text-anchor="end" fill="#222" stroke="#222" stroke-width="0.18">40</text>
<line x1="515.4" y1="694.0" x2="518.4" y2="694.0" stroke="#222" stroke-width="0.8"/>
<text x="514.4" y="696.6" font-size="7.2" text-anchor="end" fill="#222" stroke="#222" stroke-width="0.18">20</text>
<line x1="525.7" y1="698.1" x2="525.7" y2="701.1" stroke="#222" stroke-width="0.8"/>
<text x="525.7" y="708.7" font-size="7.2" text-anchor="middle" fill="#222" stroke="#222" stroke-width="0.18">0</text>
<line x1="555.9" y1="698.1" x2="555.9" y2="701.1" stroke="#222" stroke-width="0.8"/>
<text x="555.9" y="708.7" font-size="7.2" text-anchor="middle" fill="#222" stroke="#222" stroke-width="0.18">200</text>
<line x1="586.1" y1="698.1" x2="586.1" y2="701.1" stroke="#222" stroke-width="0.8"/>
<text x="586.1" y="708.7" font-size="7.2" text-anchor="middle" fill="#222" stroke="#222" stroke-width="0.18">400</text>
<line x1="616.3" y1="698.1" x2="616.3" y2="701.1" stroke="#222" stroke-width="0.8"/>
<text x="616.3" y="708.7" font-size="7.2" text-anchor="middle" fill="#222" stroke="#222" stroke-width="0.18">600</text>
<line x1="646.5" y1="698.1" x2="646.5" y2="701.1" stroke="#222" stroke-width="0.8"/>
<text x="646.5" y="708.7" font-size="7.2" text-anchor="middle" fill="#222" stroke="#222" stroke-width="0.18">800</text>
<line x1="676.7" y1="698.1" x2="676.7" y2="701.1" stroke="#222" stroke-width="0.8"/>
<text x="676.7" y="708.7" font-size="7.2" text-anchor="middle" fill="#222" stroke="#222" stroke-width="0.18">1000</text>
<text x="600.0" y="589.5" font-size="9.6" text-anchor="middle" fill="#111" stroke="#111" stroke-width="0.18">Binding contacts (wrapping)</text>
<text x="601.0" y="719.5" font-size="9.6" text-anchor="middle" fill="#111" stroke="#111" stroke-width="0.18">Time (ns)</text>
<text x="496.5" y="645.7" font-size="9.6" text-anchor="middle" fill="#111" stroke="#111" stroke-width="0.18" transform="rotate(-90 496.5 645.7)">Contact number</text>
<path d="M526.1,595.6 L526.8,609.9 L527.6,613.9 L528.3,618.9 L529.1,619.5 L530.5,618.6 L532.7,619.5 L533.6,620.2 L534.9,626.7 L537.1,616.7 L538.1,615.3 L539.3,611.4 L541.5,615.3 L542.6,616.5 L544.4,619.8 L545.6,619.9 L547.3,623.9 L548.6,619.0 L549.5,615.6 L551.0,614.9 L552.5,615.1 L553.9,621.5 L556.1,614.4 L557.6,613.4 L559.1,610.4 L560.5,615.1 L562.7,618.9 L563.6,619.0 L564.9,617.9 L567.1,621.3 L568.1,619.8 L569.3,615.6 L571.5,618.6 L572.6,618.0 L573.7,616.4 L575.9,609.7 L577.1,611.7 L578.1,615.8 L580.3,619.2 L581.6,622.9 L582.5,624.7 L584.7,618.1 L586.1,624.2 L586.9,623.9 L589.1,625.9 L590.6,621.5 L591.3,621.9 L592.1,616.4 L593.5,617.9 L595.1,615.1 L595.7,616.2 L596.6,613.2 L597.9,618.6 L599.6,617.3 L600.9,614.7 L602.6,614.9 L603.9,616.5 L606.1,621.9 L607.1,619.5 L608.3,622.4 L610.5,621.3 L611.6,623.0 L612.7,626.4 L614.9,620.7 L616.1,624.4 L617.1,623.0 L618.6,621.2 L620.8,620.2 L622.1,620.4 L623.0,628.5 L625.2,628.4 L626.6,621.5 L627.4,626.6 L628.1,627.1 L629.6,622.9 L631.1,625.4 L631.8,620.6 L632.6,621.0 L634.0,617.1 L636.2,620.4 L637.1,620.0 L638.4,624.3 L640.6,623.3 L641.6,624.2 L642.8,625.0 L645.0,623.6 L646.1,620.9 L647.2,621.7 L649.4,626.5 L650.6,622.6 L651.6,622.4 L653.8,620.5 L655.1,621.7 L656.0,622.7 L658.2,626.4 L659.6,623.1 L660.4,626.0 L662.6,618.9 L664.1,613.6 L664.8,614.3 L665.6,618.3 L667.0,617.5 L669.2,615.8 L670.1,618.0 L671.4,611.1 L672.9,614.5 L674.4,616.1 L674.4,628.7 L672.9,629.2 L671.4,627.1 L670.1,629.9 L669.2,630.6 L667.0,631.2 L665.6,630.9 L664.8,634.1 L664.1,633.4 L662.6,634.4 L660.4,639.3 L659.6,637.8 L658.2,636.0 L656.0,633.6 L655.1,635.9 L653.8,631.2 L651.6,639.4 L650.6,634.3 L649.4,637.4 L647.2,635.8 L646.1,632.8 L645.0,640.2 L642.8,637.9 L641.6,639.9 L640.6,638.4 L638.4,631.9 L637.1,633.4 L636.2,637.0 L634.0,631.7 L632.6,636.9 L631.8,637.7 L631.1,637.4 L629.6,636.0 L628.1,640.5 L627.4,645.3 L626.6,641.4 L625.2,642.4 L623.0,644.6 L622.1,637.0 L620.8,634.9 L618.6,631.7 L617.1,633.2 L616.1,633.9 L614.9,640.8 L612.7,636.7 L611.6,636.5 L610.5,634.6 L608.3,639.0 L607.1,632.9 L606.1,630.6 L603.9,631.0 L602.6,631.9 L600.9,631.6 L599.6,629.3 L597.9,627.2 L596.6,629.3 L595.7,623.9 L595.1,629.2 L593.5,627.0 L592.1,630.7 L591.3,633.1 L590.6,633.1 L589.1,638.2 L586.9,640.7 L586.1,638.5 L584.7,637.9 L582.5,636.3 L581.6,635.0 L580.3,632.1 L578.1,631.0 L577.1,626.3 L575.9,623.7 L573.7,634.0 L572.6,627.2 L571.5,633.2 L569.3,630.7 L568.1,630.7 L567.1,636.4 L564.9,630.0 L563.6,631.5 L562.7,629.4 L560.5,628.7 L559.1,623.1 L557.6,623.8 L556.1,629.6 L553.9,632.8 L552.5,631.4 L551.0,624.7 L549.5,626.9 L548.6,633.7 L547.3,634.3 L545.6,634.3 L544.4,627.7 L542.6,626.4 L541.5,626.6 L539.3,627.6 L538.1,626.3 L537.1,631.5 L534.9,637.8 L533.6,639.6 L532.7,632.6 L530.5,629.4 L529.1,632.0 L528.3,630.5 L527.6,624.2 L526.8,623.8 L526.1,612.3Z" fill="#f5e31c" fill-opacity="0.2" stroke="none"/>
<path d="M526.1,659.8 L527.6,659.5 L528.3,661.8 L529.1,659.2 L530.5,660.5 L532.7,656.7 L533.6,659.0 L534.9,657.1 L537.1,656.8 L538.1,657.4 L539.3,654.3 L541.5,655.4 L542.6,653.4 L543.7,656.4 L545.9,654.8 L547.1,657.6 L548.1,657.2 L550.3,658.3 L551.6,660.2 L552.5,654.1 L554.7,657.9 L556.1,654.1 L557.6,654.2 L558.3,657.6 L559.1,654.8 L560.5,657.4 L562.7,658.4 L563.6,655.6 L564.9,657.8 L567.1,657.8 L568.1,659.4 L569.3,658.9 L571.5,656.3 L572.6,659.2 L573.7,659.0 L575.9,655.9 L577.1,658.7 L578.1,657.2 L580.3,654.3 L581.6,657.5 L582.5,656.9 L584.7,652.1 L586.1,656.8 L586.9,657.7 L589.1,658.2 L590.6,655.1 L591.3,650.8 L592.1,654.7 L593.5,656.3 L595.1,657.7 L595.7,656.9 L596.6,656.3 L597.9,657.8 L599.6,657.8 L600.9,651.7 L602.6,654.8 L603.9,657.3 L606.1,653.4 L607.1,657.1 L608.3,656.7 L610.5,655.7 L611.6,655.4 L612.7,653.3 L614.9,658.0 L616.1,658.6 L617.1,653.9 L619.3,656.5 L620.6,653.2 L621.5,654.4 L623.7,655.8 L625.1,655.8 L625.9,656.0 L628.1,655.3 L629.6,653.6 L630.3,655.2 L631.1,655.8 L632.5,655.6 L634.7,653.3 L635.6,655.3 L636.9,652.7 L639.1,650.6 L640.1,653.5 L641.3,654.1 L643.5,657.5 L644.6,657.9 L645.7,657.6 L647.9,655.8 L649.1,654.0 L650.1,653.8 L652.3,653.6 L653.6,655.3 L654.5,654.7 L656.7,657.1 L658.1,654.6 L658.9,655.8 L661.1,654.2 L662.6,654.7 L663.3,655.8 L664.1,657.8 L665.5,658.6 L667.1,658.8 L667.8,655.5 L668.6,655.8 L670.0,654.3 L672.2,648.0 L673.1,649.9 L674.4,648.4 L674.4,657.6 L673.1,657.0 L672.2,658.3 L670.0,660.6 L668.6,665.0 L667.8,664.3 L667.1,666.5 L665.5,664.4 L664.1,663.9 L663.3,665.0 L662.6,662.4 L661.1,660.4 L658.9,662.2 L658.1,664.4 L656.7,665.1 L654.5,663.6 L653.6,666.2 L652.3,660.5 L650.1,662.5 L649.1,663.4 L647.9,664.1 L645.7,664.0 L644.6,665.9 L643.5,664.0 L641.3,662.0 L640.1,665.5 L639.1,661.6 L636.9,661.9 L635.6,661.4 L634.7,662.6 L632.5,664.8 L631.1,664.7 L630.3,661.9 L629.6,663.5 L628.1,666.3 L625.9,662.9 L625.1,661.6 L623.7,661.2 L621.5,664.9 L620.6,667.8 L619.3,666.5 L617.1,666.0 L616.1,666.6 L614.9,665.9 L612.7,664.3 L611.6,666.2 L610.5,665.3 L608.3,664.3 L607.1,663.3 L606.1,661.4 L603.9,664.5 L602.6,664.0 L600.9,663.2 L599.6,664.4 L597.9,665.7 L596.6,667.4 L595.7,665.0 L595.1,666.4 L593.5,663.4 L592.1,665.4 L591.3,663.7 L590.6,662.7 L589.1,666.1 L586.9,665.7 L586.1,664.4 L584.7,662.5 L582.5,663.4 L581.6,665.8 L580.3,666.3 L578.1,664.3 L577.1,666.4 L575.9,664.3 L573.7,667.1 L572.6,666.9 L571.5,666.4 L569.3,667.0 L568.1,666.9 L567.1,667.3 L564.9,666.4 L563.6,664.8 L562.7,664.9 L560.5,669.0 L559.1,666.0 L558.3,665.3 L557.6,663.9 L556.1,663.8 L554.7,666.0 L552.5,666.6 L551.6,667.5 L550.3,670.2 L548.1,665.1 L547.1,664.8 L545.9,663.8 L543.7,663.7 L542.6,663.5 L541.5,666.1 L539.3,665.8 L538.1,666.2 L537.1,666.7 L534.9,665.7 L533.6,667.5 L532.7,666.7 L530.5,665.7 L529.1,665.8 L528.3,667.5 L527.6,668.5 L526.1,668.1Z" fill="#34b677" fill-opacity="0.2" stroke="none"/>
<path d="M526.1,671.4 L527.1,663.3 L528.0,659.8 L529.7,664.4 L531.2,667.9 L532.7,666.9 L533.6,663.3 L534.9,666.9 L536.8,656.8 L538.5,666.9 L539.6,665.9 L540.7,667.5 L542.9,666.1 L544.1,668.4 L545.1,668.0 L547.3,668.2 L548.6,671.4 L549.5,669.8 L551.7,670.1 L553.1,672.0 L553.9,670.6 L556.1,666.6 L557.6,671.4 L558.3,672.3 L559.1,673.8 L560.5,671.0 L562.7,665.7 L563.6,666.8 L564.9,668.9 L567.1,668.3 L568.1,672.3 L569.3,671.9 L571.5,671.4 L572.6,674.7 L573.7,675.5 L575.9,676.6 L577.1,672.6 L578.1,671.1 L580.3,671.3 L581.6,666.8 L582.5,664.6 L584.7,673.6 L586.1,665.9 L586.9,667.1 L589.1,664.4 L590.6,661.0 L592.1,669.7 L593.5,668.8 L595.1,659.2 L595.7,664.5 L596.6,660.2 L597.9,659.0 L599.5,645.3 L601.7,649.6 L602.6,651.7 L604.6,652.2 L606.1,657.7 L606.8,664.8 L608.3,672.2 L610.5,671.5 L611.6,674.0 L612.7,672.2 L614.9,670.8 L616.1,676.7 L617.1,676.6 L619.3,670.8 L620.6,670.5 L621.5,669.0 L623.7,668.3 L625.1,663.3 L625.9,663.3 L627.4,660.9 L628.1,666.7 L628.8,671.0 L629.6,672.2 L631.0,668.4 L633.2,672.3 L634.1,669.8 L635.4,670.2 L637.6,666.4 L638.6,670.4 L639.9,673.1 L642.1,670.8 L643.1,673.1 L644.3,673.9 L646.5,664.3 L647.6,669.8 L648.7,670.3 L650.9,669.9 L652.1,671.3 L653.1,666.9 L655.3,674.1 L656.6,670.0 L657.5,669.3 L659.7,658.8 L661.1,669.0 L661.9,669.1 L662.6,667.7 L664.1,669.1 L665.6,669.8 L666.3,669.1 L667.1,669.8 L668.2,673.3 L670.0,665.9 L671.4,645.8 L672.9,652.6 L674.4,653.9 L674.4,662.5 L672.9,665.5 L671.4,664.0 L670.0,679.3 L668.2,684.9 L667.1,685.0 L666.3,684.4 L665.6,680.8 L664.1,679.3 L662.6,680.8 L661.9,684.3 L661.1,681.4 L659.7,680.0 L657.5,684.4 L656.6,680.3 L655.3,682.4 L653.1,679.9 L652.1,680.6 L650.9,677.7 L648.7,682.7 L647.6,684.3 L646.5,680.5 L644.3,682.3 L643.1,682.8 L642.1,683.4 L639.9,684.4 L638.6,680.8 L637.6,679.4 L635.4,682.2 L634.1,685.6 L633.2,682.7 L631.0,682.3 L629.6,683.9 L628.8,680.8 L628.1,677.3 L627.4,676.0 L625.9,676.4 L625.1,680.6 L623.7,687.0 L621.5,688.5 L620.6,687.8 L619.3,683.0 L617.1,685.3 L616.1,686.8 L614.9,685.8 L612.7,683.1 L611.6,688.3 L610.5,685.2 L608.3,685.2 L606.8,680.3 L606.1,667.6 L604.6,667.4 L602.6,662.2 L601.7,665.7 L599.5,662.0 L597.9,672.3 L596.6,672.7 L595.7,677.6 L595.1,677.6 L593.5,679.6 L592.1,680.6 L590.6,674.2 L589.1,678.1 L586.9,681.8 L586.1,686.5 L584.7,682.1 L582.5,681.5 L581.6,684.6 L580.3,681.9 L578.1,682.9 L577.1,686.2 L575.9,686.1 L573.7,688.8 L572.6,685.1 L571.5,683.6 L569.3,685.5 L568.1,681.9 L567.1,682.4 L564.9,683.1 L563.6,678.1 L562.7,682.7 L560.5,681.1 L559.1,684.5 L558.3,685.6 L557.6,681.5 L556.1,679.9 L553.9,680.4 L553.1,680.8 L551.7,680.3 L549.5,685.5 L548.6,681.4 L547.3,683.2 L545.1,683.0 L544.1,681.6 L542.9,681.0 L540.7,680.2 L539.6,687.6 L538.5,677.4 L536.8,675.2 L534.9,678.5 L533.6,675.7 L532.7,679.3 L531.2,678.7 L529.7,673.1 L528.0,670.3 L527.1,675.7 L526.1,684.1Z" fill="#e0823f" fill-opacity="0.2" stroke="none"/>
<path d="M526.1,655.7 L527.6,656.3 L528.3,654.3 L529.1,656.9 L530.5,652.8 L532.7,653.6 L533.6,654.4 L534.9,654.6 L537.1,654.4 L538.1,651.6 L539.3,651.2 L541.5,653.1 L542.6,646.5 L543.7,652.9 L545.9,653.3 L547.1,651.7 L548.1,657.0 L550.3,654.2 L551.6,655.5 L552.5,651.9 L554.7,654.8 L556.1,653.3 L557.6,655.1 L558.3,653.3 L559.1,649.7 L560.5,655.9 L562.7,655.2 L563.6,653.4 L564.9,655.0 L567.1,654.3 L568.1,653.1 L569.3,656.1 L571.5,652.1 L572.6,652.5 L573.7,649.3 L575.9,645.6 L577.1,649.4 L578.1,650.7 L580.3,652.4 L581.6,651.0 L582.5,649.3 L584.7,649.9 L586.1,649.0 L586.9,649.7 L589.1,654.0 L590.6,649.6 L591.3,653.6 L592.1,650.5 L593.5,651.1 L595.1,651.6 L595.7,651.6 L596.6,652.6 L597.9,650.4 L600.2,651.3 L601.1,651.8 L602.4,654.2 L604.6,647.5 L605.6,647.7 L606.8,643.4 L609.0,648.2 L610.1,649.2 L611.2,648.5 L613.4,648.1 L614.6,651.8 L615.6,651.5 L617.8,650.3 L619.1,650.5 L620.0,648.2 L622.2,648.3 L623.6,646.8 L624.4,649.0 L626.6,653.5 L628.1,652.7 L628.8,652.0 L629.6,650.4 L631.0,648.2 L633.2,650.1 L634.1,649.5 L635.4,650.1 L637.6,643.7 L638.6,647.6 L639.9,650.4 L642.1,653.1 L643.1,652.1 L644.3,653.5 L646.5,651.5 L647.6,652.4 L648.7,651.9 L650.9,652.1 L652.1,649.4 L653.1,653.0 L655.3,648.7 L656.6,650.0 L657.5,652.1 L659.7,650.6 L661.1,651.1 L661.9,648.0 L662.6,652.5 L664.1,652.8 L665.6,651.3 L666.3,650.2 L667.1,651.6 L668.5,649.3 L670.7,647.8 L671.6,647.9 L672.9,648.5 L674.4,649.6 L674.4,655.8 L672.9,656.0 L671.6,657.1 L670.7,656.7 L668.5,659.2 L667.1,659.7 L666.3,662.4 L665.6,662.5 L664.1,664.3 L662.6,665.9 L661.9,664.4 L661.1,662.7 L659.7,662.4 L657.5,664.0 L656.6,660.1 L655.3,660.3 L653.1,662.2 L652.1,659.5 L650.9,663.9 L648.7,663.8 L647.6,660.2 L646.5,663.3 L644.3,663.9 L643.1,665.5 L642.1,662.0 L639.9,658.6 L638.6,657.1 L637.6,656.1 L635.4,660.2 L634.1,659.7 L633.2,660.4 L631.0,660.7 L629.6,663.4 L628.8,663.2 L628.1,660.7 L626.6,660.9 L624.4,662.7 L623.6,659.3 L622.2,657.2 L620.0,656.9 L619.1,657.9 L617.8,663.0 L615.6,661.6 L614.6,659.9 L613.4,661.4 L611.2,659.7 L610.1,656.6 L609.0,659.0 L606.8,661.4 L605.6,658.9 L604.6,660.8 L602.4,663.0 L601.1,660.2 L600.2,661.7 L597.9,660.7 L596.6,660.8 L595.7,660.7 L595.1,661.7 L593.5,659.2 L592.1,659.9 L591.3,663.4 L590.6,661.1 L589.1,663.2 L586.9,661.5 L586.1,662.3 L584.7,662.2 L582.5,658.4 L581.6,660.6 L580.3,659.1 L578.1,662.8 L577.1,661.7 L575.9,661.1 L573.7,658.0 L572.6,661.0 L571.5,664.3 L569.3,663.4 L568.1,662.9 L567.1,661.2 L564.9,662.3 L563.6,665.1 L562.7,665.2 L560.5,666.9 L559.1,671.0 L558.3,664.9 L557.6,665.0 L556.1,661.9 L554.7,660.4 L552.5,663.8 L551.6,663.6 L550.3,664.1 L548.1,664.0 L547.1,661.9 L545.9,663.2 L543.7,659.4 L542.6,660.5 L541.5,665.0 L539.3,663.1 L538.1,667.1 L537.1,662.8 L534.9,663.0 L533.6,663.2 L532.7,660.5 L530.5,661.1 L529.1,666.0 L528.3,667.3 L527.6,664.3 L526.1,666.5Z" fill="#450a5c" fill-opacity="0.2" stroke="none"/>
<path d="M526.1,664.1 L527.6,664.3 L528.3,664.1 L529.1,663.2 L530.5,662.7 L532.7,661.9 L533.6,662.0 L534.9,662.7 L537.1,661.2 L538.1,660.6 L539.3,660.5 L541.5,660.5 L542.6,661.1 L543.7,661.2 L545.9,660.5 L547.1,661.5 L548.1,661.9 L550.3,661.9 L551.6,663.2 L552.5,663.4 L554.7,661.2 L556.1,658.3 L557.6,660.4 L558.3,661.9 L559.1,661.7 L560.5,661.2 L562.7,661.2 L563.6,661.0 L564.9,661.9 L567.1,661.9 L568.1,662.0 L569.3,662.7 L571.5,661.2 L572.6,661.6 L573.7,661.9 L575.9,661.2 L577.1,661.1 L578.1,661.9 L580.3,661.2 L581.6,660.5 L582.5,660.5 L584.7,658.3 L586.1,660.3 L586.9,661.2 L589.1,660.5 L590.6,660.0 L591.3,659.7 L592.1,659.9 L593.5,661.2 L595.1,661.8 L595.7,661.9 L596.6,661.8 L597.9,660.5 L599.6,660.2 L600.9,660.8 L602.6,660.6 L603.9,659.8 L606.1,659.1 L607.1,659.6 L608.3,659.8 L610.5,661.3 L611.6,661.1 L612.7,661.3 L614.9,662.0 L616.1,660.9 L617.1,660.5 L619.3,661.3 L620.6,660.9 L621.5,659.8 L623.7,658.3 L625.1,658.7 L625.9,659.1 L628.1,660.5 L629.6,659.1 L630.3,659.1 L631.1,659.1 L632.5,660.5 L634.7,659.1 L635.6,658.9 L636.9,657.6 L639.1,656.1 L640.1,657.5 L641.3,659.1 L643.5,660.5 L644.6,660.5 L645.7,659.8 L647.9,659.1 L649.1,658.9 L650.1,658.3 L652.3,657.6 L653.6,658.5 L654.5,659.1 L656.7,659.8 L658.1,659.8 L658.9,659.1 L661.1,657.6 L662.6,659.0 L663.3,659.8 L664.1,660.3 L665.5,661.3 L667.1,661.6 L667.8,661.3 L668.6,660.2 L670.0,657.6 L672.2,654.7 L673.1,654.5 L674.4,653.2" fill="none" stroke="#34b677" stroke-width="1.1" stroke-linejoin="round" stroke-opacity="1.0"/>
<path d="M526.1,679.5 L527.1,669.3 L528.0,666.3 L529.7,669.3 L531.2,672.2 L532.7,672.9 L533.6,671.6 L534.9,670.7 L536.8,667.8 L538.5,672.9 L539.6,674.2 L540.7,675.1 L542.9,676.6 L544.1,677.0 L545.1,678.1 L547.3,676.6 L548.6,677.0 L549.5,677.3 L551.7,674.4 L553.1,675.5 L553.9,675.9 L556.1,674.4 L557.6,677.2 L558.3,678.1 L559.1,677.8 L560.5,677.3 L562.7,672.9 L563.6,674.0 L564.9,675.9 L567.1,678.1 L568.1,677.9 L569.3,678.8 L571.5,679.5 L572.6,680.2 L573.7,681.0 L575.9,682.5 L577.1,680.1 L578.1,678.1 L580.3,676.6 L581.6,674.9 L582.5,672.9 L584.7,678.1 L586.1,676.3 L586.9,675.1 L589.1,670.0 L590.6,669.3 L592.1,674.4 L593.5,675.1 L595.1,672.2 L595.7,670.7 L596.6,668.7 L597.9,664.9 L599.5,651.7 L601.7,657.6 L602.6,657.3 L604.6,657.6 L606.1,662.0 L606.8,672.3 L608.3,676.7 L610.5,677.4 L611.6,678.1 L612.7,678.2 L614.9,679.6 L616.1,680.8 L617.1,681.1 L619.3,678.9 L620.6,677.9 L621.5,677.4 L623.7,676.7 L625.1,670.5 L625.9,667.9 L627.4,667.2 L628.1,671.0 L628.8,675.2 L629.6,675.7 L631.0,676.7 L633.2,678.2 L634.1,678.2 L635.4,677.4 L637.6,673.8 L638.6,675.3 L639.9,677.4 L642.1,676.7 L643.1,677.0 L644.3,677.4 L646.5,675.2 L647.6,676.8 L648.7,678.2 L650.9,673.8 L652.1,674.9 L653.1,676.0 L655.3,677.4 L656.6,676.5 L657.5,676.7 L659.7,673.0 L661.1,673.1 L661.9,673.8 L662.6,674.8 L664.1,676.0 L665.6,676.8 L666.3,676.7 L667.1,677.6 L668.2,679.6 L670.0,670.8 L671.4,657.6 L672.9,656.9 L674.4,657.6" fill="none" stroke="#e0823f" stroke-width="1.1" stroke-linejoin="round" stroke-opacity="1.0"/>
<path d="M526.1,660.5 L527.6,660.9 L528.3,661.2 L529.1,660.0 L530.5,657.5 L532.7,657.5 L533.6,658.2 L534.9,658.3 L537.1,657.5 L538.1,657.2 L539.3,657.5 L541.5,656.8 L542.6,656.2 L543.7,656.1 L545.9,656.8 L547.1,658.4 L548.1,660.5 L550.3,660.5 L551.6,659.2 L552.5,659.0 L554.7,657.5 L556.1,656.8 L557.6,658.3 L558.3,659.7 L559.1,659.8 L560.5,661.2 L562.7,659.0 L563.6,659.0 L564.9,659.0 L567.1,657.5 L568.1,659.2 L569.3,660.5 L571.5,657.5 L572.6,655.7 L573.7,653.1 L575.9,654.6 L577.1,654.9 L578.1,655.3 L580.3,656.1 L581.6,655.1 L582.5,654.6 L584.7,656.1 L586.1,655.3 L586.9,654.6 L589.1,656.8 L590.6,657.1 L591.3,657.5 L592.1,656.3 L593.5,654.6 L595.1,656.0 L595.7,656.1 L596.6,655.7 L597.9,654.6 L600.2,654.7 L601.1,655.4 L602.4,657.6 L604.6,654.7 L605.6,653.3 L606.8,652.5 L609.0,654.7 L610.1,653.6 L611.2,653.2 L613.4,654.7 L614.6,657.1 L615.6,658.3 L617.8,656.1 L619.1,654.0 L620.0,653.2 L622.2,652.5 L623.6,654.0 L624.4,654.7 L626.6,657.6 L628.1,657.1 L628.8,656.1 L629.6,655.3 L631.0,654.7 L633.2,655.4 L634.1,654.5 L635.4,653.2 L637.6,652.5 L638.6,653.3 L639.9,654.7 L642.1,658.3 L643.1,658.4 L644.3,657.6 L646.5,656.1 L647.6,656.6 L648.7,657.6 L650.9,656.1 L652.1,655.9 L653.1,656.1 L655.3,654.7 L656.6,655.8 L657.5,656.9 L659.7,656.1 L661.1,657.7 L661.9,659.1 L662.6,659.1 L664.1,658.3 L665.6,657.1 L666.3,656.1 L667.1,655.1 L668.5,653.2 L670.7,651.7 L671.6,651.5 L672.9,652.5 L674.4,652.5" fill="none" stroke="#450a5c" stroke-width="1.1" stroke-linejoin="round" stroke-opacity="1.0"/>
<path d="M526.1,607.7 L526.8,615.0 L527.6,619.6 L528.3,623.8 L529.1,624.0 L530.5,625.3 L532.7,626.7 L533.6,627.8 L534.9,630.4 L537.1,623.8 L538.1,622.0 L539.3,618.7 L541.5,620.9 L542.6,622.0 L544.4,623.8 L545.6,625.9 L547.3,628.9 L548.6,625.2 L549.5,622.3 L551.0,619.4 L552.5,624.5 L553.9,628.2 L556.1,621.6 L557.6,619.0 L559.1,616.5 L560.5,619.4 L562.7,625.3 L563.6,625.8 L564.9,626.0 L567.1,627.5 L568.1,626.4 L569.3,624.5 L571.5,624.5 L572.6,623.5 L573.7,621.6 L575.9,618.7 L577.1,620.7 L578.1,622.3 L580.3,626.7 L581.6,629.2 L582.5,630.4 L584.7,631.1 L586.1,631.5 L586.9,631.9 L589.1,634.1 L590.6,629.2 L591.3,627.5 L592.1,625.7 L593.5,622.3 L595.1,620.9 L595.7,620.1 L596.6,620.6 L597.9,622.3 L599.6,623.2 L600.9,623.5 L602.6,623.8 L603.9,623.8 L606.1,626.8 L607.1,627.6 L608.3,629.7 L610.5,629.0 L611.6,630.0 L612.7,630.4 L614.9,632.6 L616.1,629.8 L617.1,628.2 L618.6,626.0 L620.8,629.0 L622.1,631.6 L623.0,632.6 L625.2,634.9 L626.6,633.2 L627.4,631.9 L628.1,631.2 L629.6,630.4 L631.1,630.1 L631.8,629.7 L632.6,629.0 L634.0,626.8 L636.2,629.0 L637.1,628.3 L638.4,628.2 L640.6,630.4 L641.6,631.6 L642.8,632.6 L645.0,629.7 L646.1,628.3 L647.2,627.5 L649.4,630.4 L650.6,629.3 L651.6,627.5 L653.8,624.6 L655.1,627.4 L656.0,629.0 L658.2,631.2 L659.6,632.1 L660.4,631.9 L662.6,626.8 L664.1,625.3 L664.8,625.3 L665.6,624.7 L667.0,623.8 L669.2,622.4 L670.1,622.0 L671.4,620.9 L672.9,622.4 L674.4,623.8" fill="none" stroke="#f5e31c" stroke-width="1.1" stroke-linejoin="round" stroke-opacity="1.0"/>
<path d="M11.1,83.5L10.7,76.5M10.6,74.1L10.2,67.1M15.6,78.6L15.4,75.2M15.3,74.1L15.1,70.7M20.2,72.2L20.4,74.0M20.4,74.5L20.6,76.3M24.2,67.2L24.9,73.1M25.2,75.1L25.9,80.9M28.1,64.5L29.7,72.5M30.2,75.2L31.8,83.2M32.3,64.8L34.1,72.2M34.7,74.6L36.5,82.0M38.1,67.9L39.2,71.9M39.6,73.2L40.8,77.2M44.0,71.7L43.9,71.3M43.8,71.2L43.7,70.9M50.8,74.9L48.9,70.1M48.3,68.5L46.3,63.7M56.5,75.3L53.1,68.3M52.0,65.9L48.7,58.8M61.6,71.8L57.4,65.1M56.1,62.9L51.9,56.3M63.7,65.9L60.9,61.7M59.9,60.4L57.0,56.2M64.5,58.8L64.2,58.3M64.1,58.1L63.8,57.7M66.1,51.2L68.2,55.0M68.9,56.3L71.0,60.2M70.3,45.7L72.9,52.9M73.8,55.3L76.4,62.4M75.6,44.1L77.7,51.9M78.4,54.5L80.5,62.3M81.4,46.0L82.5,51.7M82.8,53.6L83.9,59.4M87.5,50.8L87.6,52.1M87.6,52.5L87.7,53.7M92.1,55.8L92.0,52.5M92.0,51.4L91.9,48.0M96.4,60.0L97.0,52.8M97.1,50.4L97.7,43.3M100.3,61.1L101.5,53.0M102.0,50.2L103.2,42.1M104.8,59.4L106.2,53.0M106.7,50.9L108.0,44.5M110.6,55.5L111.2,53.2M111.5,52.4L112.1,50.1M116.9,51.8L116.0,54.0M115.7,54.7L114.8,57.0M123.5,50.0L120.6,55.7M119.6,57.6L116.7,63.3M129.2,51.4L125.0,58.5M123.6,60.8L119.4,67.9M132.6,56.0L128.8,61.8M127.5,63.7L123.7,69.5M134.0,63.0L132.0,65.5M131.4,66.3L129.3,68.7M133.9,70.2L134.9,69.1M135.3,68.7L136.3,67.6M134.3,77.1L138.2,72.7M139.5,71.2L143.4,66.8M136.7,82.0L142.1,75.8M143.9,73.8L149.3,67.7M140.8,83.9L145.8,78.3M147.5,76.4L152.6,70.8" stroke="#4f6d3a" stroke-width="0.8" fill="none" stroke-opacity="1.0"/>
<path d="M8.9,86.9 L9.8,86.3 L11.2,85.1 L12.8,83.3 L14.7,80.8 L16.7,77.8 L18.7,74.4 L20.7,71.0 L22.7,67.9 L24.5,65.3 L26.2,63.6 L27.7,62.7 L29.5,62.6 L31.4,63.0 L33.5,64.0 L35.9,65.6 L38.4,67.5 L41.2,69.6 L44.0,71.7 L46.9,73.7 L49.8,75.3 L52.6,76.5 L55.3,77.0 L57.9,76.7 L60.3,75.6 L62.2,73.8 L63.4,71.4 L64.2,68.4 L64.5,65.2 L64.6,61.6 L64.6,58.0 L64.8,54.5 L65.4,51.1 L66.6,48.1 L68.2,45.7 L70.3,43.7 L72.6,42.6 L75.1,42.4 L77.8,42.9 L80.5,44.3 L83.1,46.2 L85.7,48.6 L88.0,51.2 L90.2,53.9 L92.1,56.5 L93.9,58.9 L95.5,60.8 L97.1,62.2 L98.7,62.9 L100.5,62.8 L102.4,62.1 L104.5,60.8 L106.8,59.0 L109.2,57.0 L111.7,55.0 L114.7,52.7 L117.9,50.8 L121.1,49.5 L124.1,48.7 L126.8,48.6 L129.2,49.3 L131.0,50.5 L132.4,52.3 L133.5,54.8 L134.3,58.0 L134.5,61.6 L134.3,65.2 L133.9,68.8 L133.5,72.2 L133.3,75.3 L133.5,78.1 L134.0,80.7 L135.1,82.9 L136.9,84.3 L139.1,85.1 L141.4,85.3 L143.6,85.2 L144.4,85.1" stroke="#4e6140" stroke-width="1.65" fill="none" stroke-linejoin="round" stroke-linecap="round"/>
<path d="M7.1,64.6 L8.5,64.9 L10.1,65.5 L12.0,66.8 L14.0,68.8 L16.3,71.3 L18.7,74.3 L21.3,77.5 L24.0,80.4 L26.7,82.8 L29.5,84.3 L32.2,85.0 L34.4,84.8 L36.5,84.0 L38.3,82.4 L40.0,80.1 L41.4,77.4 L42.6,74.2 L43.7,70.8 L44.6,67.4 L45.5,64.1 L46.3,61.2 L47.3,58.7 L48.1,56.9 L49.1,55.6 L50.5,54.9 L52.5,54.7 L55.0,55.0 L57.9,55.6 L61.2,56.6 L64.5,57.9 L67.8,59.2 L70.8,60.7 L73.3,62.1 L75.4,63.3 L77.5,64.2 L79.4,64.4 L81.0,64.0 L82.4,62.9 L83.8,61.2 L85.1,58.9 L86.6,56.2 L88.2,53.2 L90.0,50.2 L91.9,47.3 L94.1,44.7 L96.6,42.5 L99.1,41.0 L101.6,40.3 L104.0,40.4 L106.3,41.3 L108.4,43.0 L110.1,45.4 L111.6,48.1 L112.9,51.2 L114.0,54.8 L114.8,58.3 L115.5,61.6 L116.1,64.6 L116.8,67.0 L117.8,68.8 L119.1,70.0 L120.8,70.7 L122.8,70.7 L125.2,70.2 L128.1,69.5 L131.4,68.6 L134.8,67.7 L138.2,67.0 L141.4,66.3 L144.2,65.8 L147.1,65.6 L149.9,66.1 L152.1,67.3 L153.5,69.1 L154.2,71.1 L154.5,73.0 L154.6,73.8" stroke="#4e6140" stroke-width="1.65" fill="none" stroke-linejoin="round" stroke-linecap="round"/>
<path d="M8.9,86.9 L9.8,86.3 L11.2,85.1 L12.8,83.3 L14.7,80.8 L16.7,77.8 L18.7,74.4 L20.7,71.0 L22.7,67.9 L24.5,65.3 L26.2,63.6 L27.7,62.7 L29.5,62.6 L31.4,63.0 L33.5,64.0 L35.9,65.6 L38.4,67.5 L41.2,69.6 L44.0,71.7 L46.9,73.7 L49.8,75.3 L52.6,76.5 L55.3,77.0 L57.9,76.7 L60.3,75.6 L62.2,73.8 L63.4,71.4 L64.2,68.4 L64.5,65.2 L64.6,61.6 L64.6,58.0 L64.8,54.5 L65.4,51.1 L66.6,48.1 L68.2,45.7 L70.3,43.7 L72.6,42.6 L75.1,42.4 L77.8,42.9 L80.5,44.3 L83.1,46.2 L85.7,48.6 L88.0,51.2 L90.2,53.9 L92.1,56.5 L93.9,58.9 L95.5,60.8 L97.1,62.2 L98.7,62.9 L100.5,62.8 L102.4,62.1 L104.5,60.8 L106.8,59.0 L109.2,57.0 L111.7,55.0 L114.7,52.7 L117.9,50.8 L121.1,49.5 L124.1,48.7 L126.8,48.6 L129.2,49.3 L131.0,50.5 L132.4,52.3 L133.5,54.8 L134.3,58.0 L134.5,61.6 L134.3,65.2 L133.9,68.8 L133.5,72.2 L133.3,75.3 L133.5,78.1 L134.0,80.7 L135.1,82.9 L136.9,84.3 L139.1,85.1 L141.4,85.3 L143.6,85.2 L144.4,85.1" stroke="#a2c783" stroke-width="0.85" fill="none" stroke-linejoin="round" stroke-linecap="round"/>
<path d="M7.1,64.6 L8.5,64.9 L10.1,65.5 L12.0,66.8 L14.0,68.8 L16.3,71.3 L18.7,74.3 L21.3,77.5 L24.0,80.4 L26.7,82.8 L29.5,84.3 L32.2,85.0 L34.4,84.8 L36.5,84.0 L38.3,82.4 L40.0,80.1 L41.4,77.4 L42.6,74.2 L43.7,70.8 L44.6,67.4 L45.5,64.1 L46.3,61.2 L47.3,58.7 L48.1,56.9 L49.1,55.6 L50.5,54.9 L52.5,54.7 L55.0,55.0 L57.9,55.6 L61.2,56.6 L64.5,57.9 L67.8,59.2 L70.8,60.7 L73.3,62.1 L75.4,63.3 L77.5,64.2 L79.4,64.4 L81.0,64.0 L82.4,62.9 L83.8,61.2 L85.1,58.9 L86.6,56.2 L88.2,53.2 L90.0,50.2 L91.9,47.3 L94.1,44.7 L96.6,42.5 L99.1,41.0 L101.6,40.3 L104.0,40.4 L106.3,41.3 L108.4,43.0 L110.1,45.4 L111.6,48.1 L112.9,51.2 L114.0,54.8 L114.8,58.3 L115.5,61.6 L116.1,64.6 L116.8,67.0 L117.8,68.8 L119.1,70.0 L120.8,70.7 L122.8,70.7 L125.2,70.2 L128.1,69.5 L131.4,68.6 L134.8,67.7 L138.2,67.0 L141.4,66.3 L144.2,65.8 L147.1,65.6 L149.9,66.1 L152.1,67.3 L153.5,69.1 L154.2,71.1 L154.5,73.0 L154.6,73.8" stroke="#a2c783" stroke-width="0.85" fill="none" stroke-linejoin="round" stroke-linecap="round"/>
<path d="M12.7,118.6L12.5,117.7M12.4,117.3L12.2,116.4M16.2,112.0L17.0,115.8M17.3,117.1L18.2,120.9M20.3,107.7L21.6,114.8M22.0,117.2L23.2,124.3M26.5,106.5L27.0,114.6M27.2,117.3L27.6,125.5M32.3,109.3L31.5,115.5M31.3,117.6L30.5,123.8M36.5,115.5L35.9,117.6M35.7,118.2L35.0,120.3M39.0,122.6L40.1,120.0M40.5,119.1L41.6,116.6M41.4,128.6L44.5,122.4M45.6,120.4L48.7,114.2M44.9,131.6L48.8,124.3M50.1,121.9L54.0,114.6M50.3,131.8L53.4,125.8M54.4,123.8L57.5,117.8M56.3,129.8L57.9,127.1M58.4,126.2L59.9,123.4M64.0,127.2L62.8,129.0M62.4,129.6L61.3,131.4M70.4,126.0L67.0,131.3M65.9,133.0L62.5,138.3M75.0,126.9L70.9,133.9M69.5,136.3L65.3,143.3M77.7,130.0L74.4,136.6M73.3,138.9L70.1,145.5M79.7,135.5L78.5,139.3M78.0,140.6L76.8,144.5M83.1,142.8L83.4,141.7M83.5,141.3L83.7,140.1M87.4,148.3L88.0,142.9M88.2,141.1L88.8,135.6M93.2,151.1L93.2,143.0M93.2,140.4L93.2,132.3M98.4,150.0L97.7,142.2M97.4,139.7L96.7,131.9M103.5,145.2L102.4,140.5M102.1,139.0L101.1,134.3M106.9,137.9L107.0,138.1M107.0,138.2L107.1,138.4M109.0,131.6L111.0,135.9M111.6,137.3L113.5,141.6M111.4,127.1L115.0,133.9M116.1,136.1L119.7,142.9M115.4,125.1L119.4,132.0M120.8,134.4L124.8,141.3M120.4,125.7L123.8,130.2M124.9,131.7L128.3,136.2M128.0,127.1L128.5,127.7M128.7,127.9L129.2,128.5M134.8,128.0L132.3,125.2M131.5,124.2L129.0,121.4M140.4,128.1L136.0,122.3M134.6,120.4L130.2,114.6M144.3,126.0L139.5,119.3M138.0,117.0L133.3,110.3M146.7,120.6L143.3,115.6M142.2,113.9L138.8,108.9M147.7,113.8L146.6,112.2M146.2,111.6L145.2,110.0" stroke="#4f6d3a" stroke-width="0.8" fill="none" stroke-opacity="1.0"/>
<path d="M10.7,123.1 L11.7,121.3 L12.7,118.8 L13.9,115.9 L15.2,112.8 L16.9,109.7 L18.9,107.1 L21.3,105.3 L24.2,104.5 L27.2,104.9 L30.3,106.3 L33.1,108.6 L35.0,111.2 L36.4,114.2 L37.4,117.5 L38.2,120.8 L38.9,124.0 L39.6,126.9 L40.4,129.4 L41.6,131.4 L43.1,132.8 L45.1,133.5 L47.5,133.5 L50.3,133.0 L53.1,131.8 L56.0,130.4 L59.2,128.9 L62.5,127.5 L65.9,126.2 L69.0,125.3 L71.8,124.8 L74.1,124.8 L76.0,125.3 L77.3,126.4 L78.2,128.0 L78.9,130.1 L79.4,132.5 L80.2,135.4 L81.3,138.8 L82.7,142.3 L84.3,145.5 L86.2,148.3 L88.4,150.6 L90.7,152.1 L93.2,152.9 L95.6,152.9 L98.0,152.0 L100.2,150.5 L102.3,148.3 L104.1,145.4 L105.6,142.2 L106.7,138.7 L107.5,135.3 L108.2,132.1 L109.0,129.3 L109.8,127.0 L111.0,125.2 L112.4,124.1 L114.1,123.6 L116.0,123.7 L118.3,124.3 L121.2,125.2 L124.4,126.1 L127.9,127.0 L131.3,127.8 L134.6,128.5 L137.5,129.0 L139.9,129.3 L141.9,129.4 L144.0,128.6 L145.7,127.0 L146.8,124.6 L147.4,121.7 L147.8,118.5 L147.9,115.5 L148.0,112.9 L148.0,111.9" stroke="#4e6140" stroke-width="1.65" fill="none" stroke-linejoin="round" stroke-linecap="round"/>
<path d="M9.1,113.1 L10.3,114.4 L12.1,116.2 L14.4,118.3 L17.0,120.6 L19.7,122.9 L22.3,125.0 L24.5,126.5 L26.5,127.3 L28.1,127.2 L29.4,126.3 L30.7,124.8 L32.2,123.1 L34.3,121.3 L36.8,119.3 L39.6,117.3 L42.6,115.6 L45.7,114.1 L48.7,113.0 L51.4,112.5 L53.8,112.7 L55.8,113.5 L57.3,114.9 L58.4,117.0 L59.5,119.6 L60.3,122.8 L60.7,126.3 L60.9,130.0 L61.1,133.7 L61.4,137.1 L62.0,140.2 L62.9,142.9 L64.4,144.9 L66.3,146.3 L68.7,146.9 L71.4,147.0 L74.3,146.3 L77.3,145.0 L80.3,142.9 L83.1,140.5 L85.6,138.0 L87.9,135.5 L89.9,133.4 L91.6,131.7 L93.2,130.5 L94.7,130.0 L96.2,130.1 L97.8,130.8 L99.4,132.1 L101.3,133.8 L103.7,135.8 L106.4,137.9 L109.3,140.0 L112.4,141.8 L115.5,143.2 L118.4,144.1 L121.1,144.4 L123.4,144.1 L125.3,143.2 L127.2,141.3 L128.6,138.7 L129.4,135.6 L129.6,132.2 L129.3,128.6 L128.9,125.1 L128.5,121.6 L128.4,118.4 L128.7,115.4 L129.5,112.6 L130.8,110.2 L132.8,108.5 L135.2,107.7 L138.0,107.8 L141.0,108.4 L143.7,109.2 L146.0,110.1 L146.9,110.4" stroke="#4e6140" stroke-width="1.65" fill="none" stroke-linejoin="round" stroke-linecap="round"/>
<path d="M10.7,123.1 L11.7,121.3 L12.7,118.8 L13.9,115.9 L15.2,112.8 L16.9,109.7 L18.9,107.1 L21.3,105.3 L24.2,104.5 L27.2,104.9 L30.3,106.3 L33.1,108.6 L35.0,111.2 L36.4,114.2 L37.4,117.5 L38.2,120.8 L38.9,124.0 L39.6,126.9 L40.4,129.4 L41.6,131.4 L43.1,132.8 L45.1,133.5 L47.5,133.5 L50.3,133.0 L53.1,131.8 L56.0,130.4 L59.2,128.9 L62.5,127.5 L65.9,126.2 L69.0,125.3 L71.8,124.8 L74.1,124.8 L76.0,125.3 L77.3,126.4 L78.2,128.0 L78.9,130.1 L79.4,132.5 L80.2,135.4 L81.3,138.8 L82.7,142.3 L84.3,145.5 L86.2,148.3 L88.4,150.6 L90.7,152.1 L93.2,152.9 L95.6,152.9 L98.0,152.0 L100.2,150.5 L102.3,148.3 L104.1,145.4 L105.6,142.2 L106.7,138.7 L107.5,135.3 L108.2,132.1 L109.0,129.3 L109.8,127.0 L111.0,125.2 L112.4,124.1 L114.1,123.6 L116.0,123.7 L118.3,124.3 L121.2,125.2 L124.4,126.1 L127.9,127.0 L131.3,127.8 L134.6,128.5 L137.5,129.0 L139.9,129.3 L141.9,129.4 L144.0,128.6 L145.7,127.0 L146.8,124.6 L147.4,121.7 L147.8,118.5 L147.9,115.5 L148.0,112.9 L148.0,111.9" stroke="#a2c783" stroke-width="0.85" fill="none" stroke-linejoin="round" stroke-linecap="round"/>
<path d="M9.1,113.1 L10.3,114.4 L12.1,116.2 L14.4,118.3 L17.0,120.6 L19.7,122.9 L22.3,125.0 L24.5,126.5 L26.5,127.3 L28.1,127.2 L29.4,126.3 L30.7,124.8 L32.2,123.1 L34.3,121.3 L36.8,119.3 L39.6,117.3 L42.6,115.6 L45.7,114.1 L48.7,113.0 L51.4,112.5 L53.8,112.7 L55.8,113.5 L57.3,114.9 L58.4,117.0 L59.5,119.6 L60.3,122.8 L60.7,126.3 L60.9,130.0 L61.1,133.7 L61.4,137.1 L62.0,140.2 L62.9,142.9 L64.4,144.9 L66.3,146.3 L68.7,146.9 L71.4,147.0 L74.3,146.3 L77.3,145.0 L80.3,142.9 L83.1,140.5 L85.6,138.0 L87.9,135.5 L89.9,133.4 L91.6,131.7 L93.2,130.5 L94.7,130.0 L96.2,130.1 L97.8,130.8 L99.4,132.1 L101.3,133.8 L103.7,135.8 L106.4,137.9 L109.3,140.0 L112.4,141.8 L115.5,143.2 L118.4,144.1 L121.1,144.4 L123.4,144.1 L125.3,143.2 L127.2,141.3 L128.6,138.7 L129.4,135.6 L129.6,132.2 L129.3,128.6 L128.9,125.1 L128.5,121.6 L128.4,118.4 L128.7,115.4 L129.5,112.6 L130.8,110.2 L132.8,108.5 L135.2,107.7 L138.0,107.8 L141.0,108.4 L143.7,109.2 L146.0,110.1 L146.9,110.4" stroke="#a2c783" stroke-width="0.85" fill="none" stroke-linejoin="round" stroke-linecap="round"/>
<g><path d="M64.0,94.5 L63.6,94.2 L62.9,93.9 L62.2,93.4 L61.4,92.9 L60.5,92.4 L59.7,91.9 L59.0,91.3 L58.4,90.6 L58.0,90.0 L57.7,89.2 L57.6,88.3 L57.6,87.4 L57.7,86.4 L57.9,85.4 L58.2,84.5 L58.5,83.7 L59.0,83.0 L59.5,82.5 L60.2,82.1 L61.0,81.8 L61.9,81.5 L62.8,81.3 L63.7,81.1 L64.6,80.9 L65.4,80.7 L66.0,80.5 L67.4,80.0 L68.4,79.7 L69.0,79.5" stroke="#34344e" stroke-width="0.7" fill="none"/>
<path d="M64.0,101.5 L63.5,101.7 L62.8,102.0 L61.9,102.2 L61.0,102.6 L60.0,102.9 L59.1,103.4 L58.2,103.9 L57.5,104.4 L57.0,105.0 L56.7,105.6 L56.5,106.4 L56.3,107.2 L56.2,108.1 L56.2,109.0 L56.2,109.9 L56.3,110.8 L56.5,111.6 L56.7,112.3 L57.0,113.0 L57.4,113.6 L57.9,114.2 L58.6,114.8 L59.3,115.2 L60.0,115.7 L60.8,116.1 L61.6,116.4 L62.3,116.7 L63.0,117.0 L63.9,117.3 L64.9,117.4 L65.9,117.5 L66.8,117.5 L67.7,117.5 L68.5,117.5 L69.0,117.5" stroke="#34344e" stroke-width="0.7" fill="none"/>
<path d="M109.0,83.0 L109.5,83.2 L110.2,83.4 L111.0,83.7 L111.9,84.1 L112.9,84.5 L113.7,84.9 L114.4,85.4 L115.0,86.0 L115.4,86.7 L115.8,87.5 L116.1,88.5 L116.3,89.4 L116.4,90.4 L116.4,91.4 L116.3,92.2 L116.0,93.0 L115.6,93.5 L115.0,94.1 L114.3,94.5 L113.4,95.0 L112.6,95.4 L111.7,95.8 L110.8,96.2 L110.1,96.5 L109.5,96.8 L109.0,97.0" stroke="#34344e" stroke-width="0.7" fill="none"/>
<path d="M111.0,102.5 L111.4,102.8 L112.1,103.1 L112.8,103.5 L113.6,103.9 L114.5,104.4 L115.3,105.0 L116.0,105.6 L116.6,106.3 L117.0,107.0 L117.2,107.7 L117.3,108.4 L117.4,109.3 L117.4,110.2 L117.3,111.1 L117.2,112.1 L117.0,113.0 L116.8,113.9 L116.6,114.7 L116.3,115.4 L116.0,116.0 L115.5,116.6 L114.8,117.1 L114.0,117.4 L113.1,117.7 L112.2,117.9 L111.4,118.2 L110.6,118.5 L110.0,119.0 L109.5,119.6 L109.0,120.4 L108.5,121.3 L108.1,122.2 L107.8,123.1 L107.5,123.9 L107.2,124.5 L107.0,125.0" stroke="#34344e" stroke-width="0.7" fill="none"/>
<path d="M80.0,71.0 L80.5,70.6 L81.3,70.0 L82.2,69.3 L83.1,68.9 L84.0,69.0 L84.4,69.4 L84.9,70.0 L85.3,70.8 L85.8,71.7 L86.2,72.6 L86.7,73.5 L87.1,74.3 L87.6,74.8 L88.0,75.0 L88.5,74.9 L89.0,74.4 L89.5,73.6 L90.0,72.8 L90.5,71.8 L91.0,71.0 L91.5,70.4 L92.0,70.0 L92.9,70.0 L93.8,70.4 L94.7,71.0 L95.5,71.6 L96.0,72.0" stroke="#34344e" stroke-width="0.7" fill="none"/>
<path d="M80.0,127.0 L80.5,127.3 L81.1,127.9 L81.8,128.5 L82.7,129.2 L83.5,129.7 L84.3,130.0 L85.0,130.0 L85.5,129.7 L86.0,129.1 L86.4,128.3 L86.9,127.3 L87.3,126.4 L87.8,125.5 L88.2,124.8 L88.6,124.2 L89.0,124.0 L89.5,124.3 L89.9,125.1 L90.4,126.2 L90.8,127.4 L91.2,128.5 L91.6,129.1 L92.0,129.0 L92.2,128.7 L92.5,128.1 L92.7,127.4 L92.9,126.6 L93.2,125.6 L93.4,124.6 L93.7,123.6 L93.9,122.5 L94.1,121.4 L94.4,120.4 L94.6,119.5 L94.7,118.7 L94.9,118.0 L95.0,117.5" stroke="#34344e" stroke-width="0.7" fill="none"/>
<path d="M86.0,90.5 L86.6,90.8 L87.4,91.3 L88.4,91.9 L89.3,92.5 L90.0,93.0 L90.7,93.7 L91.2,94.4 L91.7,95.1 L92.0,95.5" stroke="#34344e" stroke-width="0.7" fill="none"/>
<path d="M70.0,74.0 L69.5,74.4 L68.8,75.0 L68.0,75.7 L67.3,76.4 L67.0,77.0 L67.2,77.7 L67.8,78.4 L68.5,79.1 L69.0,79.5" stroke="#34344e" stroke-width="0.7" fill="none"/>
<path d="M70.0,74.0L80.0,71.0" stroke="#3c3d64" stroke-width="6.70" stroke-linecap="round" stroke-dasharray="0 2.30"/>
<path d="M70.0,74.0L80.0,71.0" stroke="#4e4f72" stroke-width="5.90" stroke-linecap="round" stroke-dasharray="0 2.30"/>
<path d="M70.0,74.0L80.0,71.0" stroke="#4b4c78" stroke-width="4.72" stroke-dasharray="0.45 1.85" stroke-dashoffset="-0.90" stroke-opacity="0.6"/>
<path d="M96.0,72.0L109.0,83.0" stroke="#3c3d64" stroke-width="6.70" stroke-linecap="round" stroke-dasharray="0 2.30"/>
<path d="M96.0,72.0L109.0,83.0" stroke="#7c7eb1" stroke-width="5.90" stroke-linecap="round" stroke-dasharray="0 2.30"/>
<path d="M96.0,72.0L109.0,83.0" stroke="#4b4c78" stroke-width="4.72" stroke-dasharray="0.45 1.85" stroke-dashoffset="-0.90" stroke-opacity="0.6"/>
<path d="M69.0,79.5L87.0,88.0" stroke="#3c3d64" stroke-width="6.70" stroke-linecap="round" stroke-dasharray="0 2.30"/>
<path d="M69.0,79.5L87.0,88.0" stroke="#7c7eb1" stroke-width="5.90" stroke-linecap="round" stroke-dasharray="0 2.30"/>
<path d="M69.0,79.5L87.0,88.0" stroke="#4b4c78" stroke-width="4.72" stroke-dasharray="0.45 1.85" stroke-dashoffset="-0.90" stroke-opacity="0.6"/>
<path d="M87.0,88.0L110.0,96.0" stroke="#3c3d64" stroke-width="6.70" stroke-linecap="round" stroke-dasharray="0 2.30"/>
<path d="M87.0,88.0L110.0,96.0" stroke="#7c7eb1" stroke-width="5.90" stroke-linecap="round" stroke-dasharray="0 2.30"/>
<path d="M87.0,88.0L110.0,96.0" stroke="#4b4c78" stroke-width="4.72" stroke-dasharray="0.45 1.85" stroke-dashoffset="-0.90" stroke-opacity="0.6"/>
<path d="M63.0,95.5L85.0,90.0" stroke="#3c3d64" stroke-width="6.70" stroke-linecap="round" stroke-dasharray="0 2.30"/>
<path d="M63.0,95.5L85.0,90.0" stroke="#7c7eb1" stroke-width="5.90" stroke-linecap="round" stroke-dasharray="0 2.30"/>
<path d="M63.0,95.5L85.0,90.0" stroke="#4b4c78" stroke-width="4.72" stroke-dasharray="0.45 1.85" stroke-dashoffset="-0.90" stroke-opacity="0.6"/>
<path d="M63.0,102.0L87.0,112.0" stroke="#3c3d64" stroke-width="6.70" stroke-linecap="round" stroke-dasharray="0 2.30"/>
<path d="M63.0,102.0L87.0,112.0" stroke="#7c7eb1" stroke-width="5.90" stroke-linecap="round" stroke-dasharray="0 2.30"/>
<path d="M63.0,102.0L87.0,112.0" stroke="#4b4c78" stroke-width="4.72" stroke-dasharray="0.45 1.85" stroke-dashoffset="-0.90" stroke-opacity="0.6"/>
<path d="M87.0,112.0L111.0,102.0" stroke="#3c3d64" stroke-width="6.70" stroke-linecap="round" stroke-dasharray="0 2.30"/>
<path d="M87.0,112.0L111.0,102.0" stroke="#7c7eb1" stroke-width="5.90" stroke-linecap="round" stroke-dasharray="0 2.30"/>
<path d="M87.0,112.0L111.0,102.0" stroke="#4b4c78" stroke-width="4.72" stroke-dasharray="0.45 1.85" stroke-dashoffset="-0.90" stroke-opacity="0.6"/>
<path d="M109.0,96.0L112.0,102.0" stroke="#3c3d64" stroke-width="6.70" stroke-linecap="round" stroke-dasharray="0 2.30"/>
<path d="M109.0,96.0L112.0,102.0" stroke="#7c7eb1" stroke-width="5.90" stroke-linecap="round" stroke-dasharray="0 2.30"/>
<path d="M109.0,96.0L112.0,102.0" stroke="#4b4c78" stroke-width="4.72" stroke-dasharray="0.45 1.85" stroke-dashoffset="-0.90" stroke-opacity="0.6"/>
<path d="M69.0,117.5L80.0,127.0" stroke="#3c3d64" stroke-width="6.70" stroke-linecap="round" stroke-dasharray="0 2.30"/>
<path d="M69.0,117.5L80.0,127.0" stroke="#7c7eb1" stroke-width="5.90" stroke-linecap="round" stroke-dasharray="0 2.30"/>
<path d="M69.0,117.5L80.0,127.0" stroke="#4b4c78" stroke-width="4.72" stroke-dasharray="0.45 1.85" stroke-dashoffset="-0.90" stroke-opacity="0.6"/>
<path d="M95.0,117.5L107.0,125.0" stroke="#3c3d64" stroke-width="6.70" stroke-linecap="round" stroke-dasharray="0 2.30"/>
<path d="M95.0,117.5L107.0,125.0" stroke="#7c7eb1" stroke-width="5.90" stroke-linecap="round" stroke-dasharray="0 2.30"/>
<path d="M95.0,117.5L107.0,125.0" stroke="#4b4c78" stroke-width="4.72" stroke-dasharray="0.45 1.85" stroke-dashoffset="-0.90" stroke-opacity="0.6"/></g>
<line x1="146" y1="96" x2="162" y2="96" stroke="#111" stroke-width="0.9"/><path d="M166,96 L161,93.8 L161,98.2Z" fill="#111"/>
<path d="M4.4,241.4L6.4,233.7M7.1,231.1L9.1,223.4M10.1,239.1L11.4,234.0M11.8,232.3L13.1,227.2M15.9,235.1L16.1,234.1M16.1,233.8L16.3,232.9M21.2,230.5L20.8,234.2M20.6,235.5L20.1,239.3M25.1,227.0L25.4,234.3M25.5,236.8L25.8,244.1M28.5,226.2L30.2,234.2M30.7,236.9L32.3,244.9M33.0,228.0L34.8,233.9M35.4,235.9L37.1,241.7M38.9,231.4L39.6,233.3M39.8,234.0L40.5,235.8M45.9,235.0L44.7,232.1M44.2,231.2L43.0,228.2M52.4,236.5L49.3,230.3M48.2,228.2L45.1,222.0M57.6,234.6L53.0,227.7M51.5,225.5L46.9,218.6M60.8,229.2L56.7,223.9M55.3,222.2L51.2,216.9M61.5,222.8L59.7,220.4M59.1,219.6L57.3,217.2M62.4,215.2L63.4,216.9M63.7,217.4L64.7,219.1M64.4,208.8L67.3,214.2M68.3,216.0L71.2,221.4M68.7,204.6L72.1,212.1M73.2,214.5L76.6,222.0M74.6,204.0L76.7,211.0M77.4,213.4L79.6,220.4M81.3,207.3L81.9,211.0M82.1,212.2L82.6,215.8M86.4,212.1L86.4,211.3M86.3,211.0L86.3,210.2M91.3,217.3L91.4,211.7M91.4,209.8L91.5,204.2M94.9,219.8L95.9,211.9M96.2,209.2L97.1,201.3M98.8,219.5L100.7,212.1M101.4,209.6L103.3,202.3M103.5,217.1L105.2,212.6M105.8,211.1L107.5,206.7M110.4,213.7L110.3,213.8M110.3,213.9L110.2,214.0M117.2,211.8L114.7,215.7M113.9,217.0L111.4,220.9M123.8,212.6L119.0,218.7M117.4,220.8L112.6,226.9M127.6,216.2L122.2,222.1M120.3,224.0L114.9,230.0M129.0,222.9L125.1,226.5M123.8,227.7L120.0,231.2M128.1,230.1L127.4,230.6M127.2,230.8L126.5,231.3M126.3,236.7L129.4,234.7M130.5,234.0L133.7,232.0M125.0,242.2L131.7,239.0M133.9,237.9L140.5,234.7M126.1,245.8L133.8,243.0M136.4,242.0L144.1,239.2M130.0,248.7L136.0,247.1M138.1,246.6L144.1,244.9M136.5,252.2L138.2,251.9M138.8,251.8L140.5,251.5M142.3,256.2L139.4,256.4M138.5,256.5L135.6,256.6M146.7,262.1L139.7,261.7M137.4,261.6L130.5,261.2M147.1,267.7L138.9,266.5M136.2,266.0L128.0,264.8M143.8,272.6L137.2,270.9M135.0,270.4L128.4,268.7M137.4,276.4L134.7,275.4M133.8,275.1L131.2,274.1M130.6,278.4L132.2,279.2M132.8,279.4L134.4,280.2M124.2,279.8L129.4,283.2M131.2,284.3L136.4,287.8M120.7,281.6L126.9,286.9M129.0,288.6L135.3,293.9M119.3,285.3L124.3,290.7M125.9,292.5L130.9,297.9M118.9,291.5L121.2,294.6M122.0,295.6L124.3,298.7M118.1,299.4L117.5,298.3M117.3,298.0L116.6,296.9M116.0,306.1L113.5,301.1M112.6,299.5L110.1,294.5M111.9,310.5L109.0,303.0M108.0,300.5L105.1,293.1M106.1,311.4L104.2,303.9M103.6,301.4L101.7,293.9M99.8,308.5L99.2,303.8M99.0,302.3L98.4,297.7M94.6,303.5L94.6,303.3M94.6,303.2L94.6,303.1M89.7,297.8L89.5,302.6M89.4,304.2L89.2,309.1M86.0,294.6L85.0,302.2M84.7,304.8L83.7,312.4M82.1,294.2L80.2,301.9M79.6,304.5L77.8,312.3M77.8,296.3L75.7,301.4M75.0,303.1L72.9,308.3M70.9,299.5L70.6,300.1M70.4,300.4L70.1,301.0M64.2,301.7L66.2,298.4M66.8,297.3L68.8,293.9M58.5,302.4L62.2,296.2M63.4,294.1L67.1,287.8M54.0,300.5L58.0,293.3M59.4,290.9L63.3,283.8M51.2,295.5L54.4,290.2M55.5,288.4L58.8,283.1M49.8,288.2L50.7,286.7M51.0,286.1L52.0,284.6M48.2,280.7L46.7,283.5M46.2,284.4L44.8,287.3M44.9,275.1L42.6,281.4M41.8,283.5L39.5,289.8M39.3,272.2L37.3,280.2M36.7,282.9L34.7,290.9M34.2,273.2L32.9,280.0M32.5,282.2L31.2,289.0M27.9,277.6L27.6,280.2M27.4,281.1L27.0,283.8M22.9,282.2L23.2,280.4M23.2,279.8L23.4,278.1M18.1,286.6L18.3,280.4M18.4,278.4L18.6,272.2M13.6,288.4L13.3,280.2M13.2,277.5L12.9,269.3M9.2,287.1L8.9,279.8M8.8,277.3L8.5,269.9" stroke="#4f6d3a" stroke-width="0.8" fill="none" stroke-opacity="1.0"/>
<path d="M1.7,243.3 L2.5,243.3 L3.9,243.1 L5.9,242.4 L8.4,241.2 L11.3,239.2 L14.3,236.7 L17.3,233.8 L20.1,231.0 L22.4,228.4 L24.2,226.4 L25.3,225.1 L26.4,224.4 L27.8,224.4 L29.5,224.9 L31.5,226.0 L33.8,227.6 L36.5,229.5 L39.4,231.5 L42.5,233.5 L45.5,235.3 L48.4,236.7 L51.0,237.6 L53.9,237.9 L56.8,237.2 L59.1,235.7 L60.7,233.6 L61.6,231.0 L62.0,228.1 L62.0,224.9 L61.8,221.6 L61.8,218.2 L62.2,214.8 L62.7,211.3 L63.5,208.3 L64.7,205.8 L66.4,203.9 L68.5,202.7 L71.2,202.2 L74.1,202.5 L77.2,203.7 L80.0,205.5 L82.4,207.7 L84.8,210.3 L87.0,213.0 L89.0,215.6 L90.9,218.0 L92.5,219.9 L94.0,221.2 L95.4,221.8 L96.8,221.8 L98.3,221.1 L100.2,220.0 L102.5,218.5 L105.1,216.8 L108.0,214.9 L111.2,213.3 L114.5,211.9 L117.8,210.9 L120.8,210.5 L123.6,210.8 L126.0,211.7 L127.8,213.3 L129.1,215.4 L129.8,218.2 L129.9,221.3 L129.5,224.7 L128.7,228.3 L127.6,231.7 L126.4,235.0 L125.3,237.8 L124.3,240.3 L123.6,242.4 L123.5,244.2 L123.9,245.8 L125.1,247.1 L126.9,248.3 L129.3,249.4 L132.2,250.6 L135.3,251.9 L138.5,253.4 L141.5,255.2 L144.3,257.3 L146.6,259.6 L148.2,262.2 L149.0,264.8 L149.0,267.3 L148.1,269.8 L146.4,272.0 L144.1,273.9 L141.2,275.4 L138.0,276.6 L134.5,277.5 L131.1,278.1 L127.8,278.5 L124.9,278.8 L122.5,279.1 L120.6,279.6 L119.3,280.4 L118.5,281.7 L118.2,283.5 L118.2,285.9 L118.2,288.5 L118.4,291.6 L118.4,295.1 L118.4,298.7 L118.0,302.3 L117.2,305.7 L115.9,308.6 L114.2,310.9 L111.9,312.5 L109.4,313.2 L106.5,313.1 L103.9,312.2 L101.2,310.5 L98.6,308.3 L96.2,305.7 L94.0,302.8 L92.0,299.9 L90.2,297.3 L88.5,295.1 L87.0,293.4 L85.5,292.4 L84.0,292.1 L82.5,292.4 L80.8,293.4 L78.8,294.8 L76.3,296.4 L73.4,298.1 L70.2,299.7 L66.9,301.2 L63.7,302.5 L60.8,303.3 L58.3,303.7 L56.2,303.7 L54.6,303.1 L52.7,301.6 L51.3,299.4 L50.4,296.7 L49.9,293.6 L49.6,290.3 L49.4,286.8 L49.1,283.4 L48.5,280.0 L47.4,276.9 L45.9,274.3 L43.9,272.2 L41.6,270.8 L39.1,270.4 L36.5,270.8 L33.8,272.1 L31.2,274.0 L28.6,276.3 L26.2,278.9 L24.0,281.4 L21.9,283.6 L19.6,286.2 L17.5,288.4 L15.6,289.8 L13.7,290.3 L11.8,290.0 L10.1,289.2 L8.5,288.3 L8.2,288.1" stroke="#4e6140" stroke-width="1.65" fill="none" stroke-linejoin="round" stroke-linecap="round"/>
<path d="M6.2,220.9 L7.9,221.1 L9.5,221.7 L11.2,222.9 L12.7,224.8 L14.2,227.5 L15.6,230.8 L17.2,234.6 L19.0,238.3 L21.1,241.7 L23.7,244.4 L26.6,246.1 L29.4,246.8 L32.0,246.8 L34.5,245.9 L36.6,244.2 L38.4,241.7 L39.8,238.8 L40.9,235.4 L41.8,231.9 L42.5,228.4 L43.2,225.2 L43.9,222.4 L44.5,220.0 L45.2,218.1 L46.1,216.8 L47.6,216.1 L49.7,215.8 L52.3,215.9 L55.3,216.3 L58.5,217.1 L61.8,218.1 L64.9,219.5 L68.2,221.1 L71.2,222.3 L73.8,223.2 L76.0,223.7 L77.7,223.7 L79.0,223.1 L80.0,221.9 L81.0,220.1 L82.1,217.8 L83.5,215.2 L85.0,212.3 L86.7,209.2 L88.7,206.2 L91.0,203.5 L93.4,201.4 L96.0,199.9 L98.7,199.3 L101.3,199.5 L103.8,200.6 L105.8,202.5 L107.5,205.0 L108.8,208.0 L109.7,211.4 L110.3,214.9 L110.6,218.5 L110.8,221.8 L111.0,224.8 L111.3,227.2 L111.8,229.2 L112.7,230.5 L114.1,231.5 L116.0,231.9 L118.4,232.0 L121.3,231.8 L124.6,231.6 L128.2,231.3 L131.8,231.3 L135.3,231.6 L138.5,232.4 L141.4,233.6 L143.7,235.3 L145.3,237.4 L146.1,239.8 L146.0,242.5 L145.1,245.3 L143.6,248.1 L141.5,250.8 L139.0,253.4 L136.3,255.7 L133.7,257.7 L131.2,259.5 L129.0,261.1 L127.4,262.6 L126.4,264.1 L126.1,265.7 L126.5,267.4 L127.5,269.3 L128.9,271.5 L130.6,273.8 L132.5,276.6 L134.3,279.6 L135.9,282.8 L137.1,286.1 L137.6,289.3 L137.5,292.4 L136.7,295.1 L135.0,297.3 L132.7,298.9 L129.9,299.6 L127.1,299.7 L124.0,299.2 L120.7,298.3 L117.3,297.0 L114.0,295.5 L110.9,294.0 L108.2,292.7 L105.9,291.8 L104.0,291.3 L102.5,291.5 L101.3,292.2 L100.2,293.6 L98.9,295.5 L97.5,297.9 L95.9,300.7 L94.1,303.8 L92.0,306.8 L89.7,309.6 L87.3,311.9 L84.8,313.6 L82.2,314.5 L79.8,314.7 L77.4,314.0 L74.9,312.5 L72.9,310.1 L71.4,307.2 L70.4,303.8 L69.9,300.3 L69.6,296.7 L69.3,293.2 L68.9,289.9 L68.1,287.1 L66.9,284.7 L65.4,283.0 L63.8,282.1 L61.9,281.7 L59.6,282.0 L56.8,282.6 L53.8,283.6 L50.6,284.9 L47.4,286.3 L44.5,287.9 L41.8,289.5 L39.5,290.9 L37.4,292.0 L35.5,292.6 L33.8,292.5 L32.1,291.7 L30.5,290.1 L28.9,287.8 L27.4,285.1 L25.8,282.1 L24.2,279.1 L22.7,276.3 L20.6,273.1 L17.9,270.2 L15.3,268.3 L12.8,267.4 L10.7,267.4 L9.0,267.9 L8.0,268.7 L7.8,268.8" stroke="#4e6140" stroke-width="1.65" fill="none" stroke-linejoin="round" stroke-linecap="round"/>
<path d="M1.7,243.3 L2.5,243.3 L3.9,243.1 L5.9,242.4 L8.4,241.2 L11.3,239.2 L14.3,236.7 L17.3,233.8 L20.1,231.0 L22.4,228.4 L24.2,226.4 L25.3,225.1 L26.4,224.4 L27.8,224.4 L29.5,224.9 L31.5,226.0 L33.8,227.6 L36.5,229.5 L39.4,231.5 L42.5,233.5 L45.5,235.3 L48.4,236.7 L51.0,237.6 L53.9,237.9 L56.8,237.2 L59.1,235.7 L60.7,233.6 L61.6,231.0 L62.0,228.1 L62.0,224.9 L61.8,221.6 L61.8,218.2 L62.2,214.8 L62.7,211.3 L63.5,208.3 L64.7,205.8 L66.4,203.9 L68.5,202.7 L71.2,202.2 L74.1,202.5 L77.2,203.7 L80.0,205.5 L82.4,207.7 L84.8,210.3 L87.0,213.0 L89.0,215.6 L90.9,218.0 L92.5,219.9 L94.0,221.2 L95.4,221.8 L96.8,221.8 L98.3,221.1 L100.2,220.0 L102.5,218.5 L105.1,216.8 L108.0,214.9 L111.2,213.3 L114.5,211.9 L117.8,210.9 L120.8,210.5 L123.6,210.8 L126.0,211.7 L127.8,213.3 L129.1,215.4 L129.8,218.2 L129.9,221.3 L129.5,224.7 L128.7,228.3 L127.6,231.7 L126.4,235.0 L125.3,237.8 L124.3,240.3 L123.6,242.4 L123.5,244.2 L123.9,245.8 L125.1,247.1 L126.9,248.3 L129.3,249.4 L132.2,250.6 L135.3,251.9 L138.5,253.4 L141.5,255.2 L144.3,257.3 L146.6,259.6 L148.2,262.2 L149.0,264.8 L149.0,267.3 L148.1,269.8 L146.4,272.0 L144.1,273.9 L141.2,275.4 L138.0,276.6 L134.5,277.5 L131.1,278.1 L127.8,278.5 L124.9,278.8 L122.5,279.1 L120.6,279.6 L119.3,280.4 L118.5,281.7 L118.2,283.5 L118.2,285.9 L118.2,288.5 L118.4,291.6 L118.4,295.1 L118.4,298.7 L118.0,302.3 L117.2,305.7 L115.9,308.6 L114.2,310.9 L111.9,312.5 L109.4,313.2 L106.5,313.1 L103.9,312.2 L101.2,310.5 L98.6,308.3 L96.2,305.7 L94.0,302.8 L92.0,299.9 L90.2,297.3 L88.5,295.1 L87.0,293.4 L85.5,292.4 L84.0,292.1 L82.5,292.4 L80.8,293.4 L78.8,294.8 L76.3,296.4 L73.4,298.1 L70.2,299.7 L66.9,301.2 L63.7,302.5 L60.8,303.3 L58.3,303.7 L56.2,303.7 L54.6,303.1 L52.7,301.6 L51.3,299.4 L50.4,296.7 L49.9,293.6 L49.6,290.3 L49.4,286.8 L49.1,283.4 L48.5,280.0 L47.4,276.9 L45.9,274.3 L43.9,272.2 L41.6,270.8 L39.1,270.4 L36.5,270.8 L33.8,272.1 L31.2,274.0 L28.6,276.3 L26.2,278.9 L24.0,281.4 L21.9,283.6 L19.6,286.2 L17.5,288.4 L15.6,289.8 L13.7,290.3 L11.8,290.0 L10.1,289.2 L8.5,288.3 L8.2,288.1" stroke="#a2c783" stroke-width="0.85" fill="none" stroke-linejoin="round" stroke-linecap="round"/>
<path d="M6.2,220.9 L7.9,221.1 L9.5,221.7 L11.2,222.9 L12.7,224.8 L14.2,227.5 L15.6,230.8 L17.2,234.6 L19.0,238.3 L21.1,241.7 L23.7,244.4 L26.6,246.1 L29.4,246.8 L32.0,246.8 L34.5,245.9 L36.6,244.2 L38.4,241.7 L39.8,238.8 L40.9,235.4 L41.8,231.9 L42.5,228.4 L43.2,225.2 L43.9,222.4 L44.5,220.0 L45.2,218.1 L46.1,216.8 L47.6,216.1 L49.7,215.8 L52.3,215.9 L55.3,216.3 L58.5,217.1 L61.8,218.1 L64.9,219.5 L68.2,221.1 L71.2,222.3 L73.8,223.2 L76.0,223.7 L77.7,223.7 L79.0,223.1 L80.0,221.9 L81.0,220.1 L82.1,217.8 L83.5,215.2 L85.0,212.3 L86.7,209.2 L88.7,206.2 L91.0,203.5 L93.4,201.4 L96.0,199.9 L98.7,199.3 L101.3,199.5 L103.8,200.6 L105.8,202.5 L107.5,205.0 L108.8,208.0 L109.7,211.4 L110.3,214.9 L110.6,218.5 L110.8,221.8 L111.0,224.8 L111.3,227.2 L111.8,229.2 L112.7,230.5 L114.1,231.5 L116.0,231.9 L118.4,232.0 L121.3,231.8 L124.6,231.6 L128.2,231.3 L131.8,231.3 L135.3,231.6 L138.5,232.4 L141.4,233.6 L143.7,235.3 L145.3,237.4 L146.1,239.8 L146.0,242.5 L145.1,245.3 L143.6,248.1 L141.5,250.8 L139.0,253.4 L136.3,255.7 L133.7,257.7 L131.2,259.5 L129.0,261.1 L127.4,262.6 L126.4,264.1 L126.1,265.7 L126.5,267.4 L127.5,269.3 L128.9,271.5 L130.6,273.8 L132.5,276.6 L134.3,279.6 L135.9,282.8 L137.1,286.1 L137.6,289.3 L137.5,292.4 L136.7,295.1 L135.0,297.3 L132.7,298.9 L129.9,299.6 L127.1,299.7 L124.0,299.2 L120.7,298.3 L117.3,297.0 L114.0,295.5 L110.9,294.0 L108.2,292.7 L105.9,291.8 L104.0,291.3 L102.5,291.5 L101.3,292.2 L100.2,293.6 L98.9,295.5 L97.5,297.9 L95.9,300.7 L94.1,303.8 L92.0,306.8 L89.7,309.6 L87.3,311.9 L84.8,313.6 L82.2,314.5 L79.8,314.7 L77.4,314.0 L74.9,312.5 L72.9,310.1 L71.4,307.2 L70.4,303.8 L69.9,300.3 L69.6,296.7 L69.3,293.2 L68.9,289.9 L68.1,287.1 L66.9,284.7 L65.4,283.0 L63.8,282.1 L61.9,281.7 L59.6,282.0 L56.8,282.6 L53.8,283.6 L50.6,284.9 L47.4,286.3 L44.5,287.9 L41.8,289.5 L39.5,290.9 L37.4,292.0 L35.5,292.6 L33.8,292.5 L32.1,291.7 L30.5,290.1 L28.9,287.8 L27.4,285.1 L25.8,282.1 L24.2,279.1 L22.7,276.3 L20.6,273.1 L17.9,270.2 L15.3,268.3 L12.8,267.4 L10.7,267.4 L9.0,267.9 L8.0,268.7 L7.8,268.8" stroke="#a2c783" stroke-width="0.85" fill="none" stroke-linejoin="round" stroke-linecap="round"/>
<g><path d="M66.0,252.5 L65.6,252.2 L64.9,251.9 L64.2,251.4 L63.4,250.9 L62.5,250.4 L61.7,249.9 L61.0,249.3 L60.4,248.6 L60.0,248.0 L59.7,247.2 L59.6,246.3 L59.6,245.4 L59.7,244.4 L59.9,243.4 L60.2,242.5 L60.5,241.7 L61.0,241.0 L61.5,240.5 L62.2,240.1 L63.0,239.8 L63.9,239.5 L64.8,239.3 L65.7,239.1 L66.6,238.9 L67.4,238.7 L68.0,238.5 L69.4,238.0 L70.4,237.7 L71.0,237.5" stroke="#34344e" stroke-width="0.7" fill="none"/>
<path d="M66.0,259.5 L65.5,259.7 L64.8,260.0 L63.9,260.2 L63.0,260.6 L62.0,260.9 L61.1,261.4 L60.2,261.9 L59.5,262.4 L59.0,263.0 L58.7,263.6 L58.5,264.4 L58.3,265.2 L58.2,266.1 L58.2,267.0 L58.2,267.9 L58.3,268.8 L58.5,269.6 L58.7,270.3 L59.0,271.0 L59.4,271.6 L59.9,272.2 L60.6,272.8 L61.3,273.2 L62.0,273.7 L62.8,274.1 L63.6,274.4 L64.3,274.7 L65.0,275.0 L65.9,275.3 L66.9,275.4 L67.9,275.5 L68.8,275.5 L69.7,275.5 L70.5,275.5 L71.0,275.5" stroke="#34344e" stroke-width="0.7" fill="none"/>
<path d="M111.0,241.0 L111.5,241.2 L112.2,241.4 L113.0,241.7 L113.9,242.1 L114.9,242.5 L115.7,242.9 L116.4,243.4 L117.0,244.0 L117.4,244.7 L117.8,245.5 L118.1,246.5 L118.3,247.4 L118.4,248.4 L118.4,249.4 L118.3,250.2 L118.0,251.0 L117.6,251.5 L117.0,252.1 L116.3,252.5 L115.4,253.0 L114.6,253.4 L113.7,253.8 L112.8,254.2 L112.1,254.5 L111.5,254.8 L111.0,255.0" stroke="#34344e" stroke-width="0.7" fill="none"/>
<path d="M113.0,260.5 L113.4,260.8 L114.1,261.1 L114.8,261.5 L115.6,261.9 L116.5,262.4 L117.3,263.0 L118.0,263.6 L118.6,264.3 L119.0,265.0 L119.2,265.7 L119.3,266.4 L119.4,267.3 L119.4,268.2 L119.3,269.1 L119.2,270.1 L119.0,271.0 L118.8,271.9 L118.6,272.7 L118.3,273.4 L118.0,274.0 L117.5,274.6 L116.8,275.1 L116.0,275.4 L115.1,275.7 L114.2,275.9 L113.4,276.2 L112.6,276.5 L112.0,277.0 L111.5,277.6 L111.0,278.4 L110.5,279.3 L110.1,280.2 L109.8,281.1 L109.5,281.9 L109.2,282.5 L109.0,283.0" stroke="#34344e" stroke-width="0.7" fill="none"/>
<path d="M82.0,229.0 L82.5,228.6 L83.3,228.0 L84.2,227.3 L85.1,226.9 L86.0,227.0 L86.4,227.4 L86.9,228.0 L87.3,228.8 L87.8,229.7 L88.2,230.6 L88.7,231.5 L89.1,232.3 L89.6,232.8 L90.0,233.0 L90.5,232.9 L91.0,232.4 L91.5,231.6 L92.0,230.8 L92.5,229.8 L93.0,229.0 L93.5,228.4 L94.0,228.0 L94.9,228.0 L95.8,228.4 L96.7,229.0 L97.5,229.6 L98.0,230.0" stroke="#34344e" stroke-width="0.7" fill="none"/>
<path d="M82.0,285.0 L82.5,285.3 L83.1,285.9 L83.8,286.5 L84.7,287.2 L85.5,287.7 L86.3,288.0 L87.0,288.0 L87.5,287.7 L88.0,287.1 L88.4,286.3 L88.9,285.3 L89.3,284.4 L89.8,283.5 L90.2,282.8 L90.6,282.2 L91.0,282.0 L91.5,282.3 L91.9,283.1 L92.4,284.2 L92.8,285.4 L93.2,286.5 L93.6,287.1 L94.0,287.0 L94.2,286.7 L94.5,286.1 L94.7,285.4 L94.9,284.6 L95.2,283.6 L95.4,282.6 L95.7,281.6 L95.9,280.5 L96.1,279.4 L96.4,278.4 L96.6,277.5 L96.7,276.7 L96.9,276.0 L97.0,275.5" stroke="#34344e" stroke-width="0.7" fill="none"/>
<path d="M88.0,248.5 L88.6,248.8 L89.4,249.3 L90.4,249.9 L91.3,250.5 L92.0,251.0 L92.7,251.7 L93.2,252.4 L93.7,253.1 L94.0,253.5" stroke="#34344e" stroke-width="0.7" fill="none"/>
<path d="M72.0,232.0 L71.5,232.4 L70.8,233.0 L70.0,233.7 L69.3,234.4 L69.0,235.0 L69.2,235.7 L69.8,236.4 L70.5,237.1 L71.0,237.5" stroke="#34344e" stroke-width="0.7" fill="none"/>
<path d="M72.0,232.0L82.0,229.0" stroke="#3c3d64" stroke-width="6.70" stroke-linecap="round" stroke-dasharray="0 2.30"/>
<path d="M72.0,232.0L82.0,229.0" stroke="#4e4f72" stroke-width="5.90" stroke-linecap="round" stroke-dasharray="0 2.30"/>
<path d="M72.0,232.0L82.0,229.0" stroke="#4b4c78" stroke-width="4.72" stroke-dasharray="0.45 1.85" stroke-dashoffset="-0.90" stroke-opacity="0.6"/>
<path d="M98.0,230.0L111.0,241.0" stroke="#3c3d64" stroke-width="6.70" stroke-linecap="round" stroke-dasharray="0 2.30"/>
<path d="M98.0,230.0L111.0,241.0" stroke="#7c7eb1" stroke-width="5.90" stroke-linecap="round" stroke-dasharray="0 2.30"/>
<path d="M98.0,230.0L111.0,241.0" stroke="#4b4c78" stroke-width="4.72" stroke-dasharray="0.45 1.85" stroke-dashoffset="-0.90" stroke-opacity="0.6"/>
<path d="M71.0,237.5L89.0,246.0" stroke="#3c3d64" stroke-width="6.70" stroke-linecap="round" stroke-dasharray="0 2.30"/>
<path d="M71.0,237.5L89.0,246.0" stroke="#7c7eb1" stroke-width="5.90" stroke-linecap="round" stroke-dasharray="0 2.30"/>
<path d="M71.0,237.5L89.0,246.0" stroke="#4b4c78" stroke-width="4.72" stroke-dasharray="0.45 1.85" stroke-dashoffset="-0.90" stroke-opacity="0.6"/>
<path d="M89.0,246.0L112.0,254.0" stroke="#3c3d64" stroke-width="6.70" stroke-linecap="round" stroke-dasharray="0 2.30"/>
<path d="M89.0,246.0L112.0,254.0" stroke="#7c7eb1" stroke-width="5.90" stroke-linecap="round" stroke-dasharray="0 2.30"/>
<path d="M89.0,246.0L112.0,254.0" stroke="#4b4c78" stroke-width="4.72" stroke-dasharray="0.45 1.85" stroke-dashoffset="-0.90" stroke-opacity="0.6"/>
<path d="M65.0,253.5L87.0,248.0" stroke="#3c3d64" stroke-width="6.70" stroke-linecap="round" stroke-dasharray="0 2.30"/>
<path d="M65.0,253.5L87.0,248.0" stroke="#7c7eb1" stroke-width="5.90" stroke-linecap="round" stroke-dasharray="0 2.30"/>
<path d="M65.0,253.5L87.0,248.0" stroke="#4b4c78" stroke-width="4.72" stroke-dasharray="0.45 1.85" stroke-dashoffset="-0.90" stroke-opacity="0.6"/>
<path d="M65.0,260.0L89.0,270.0" stroke="#3c3d64" stroke-width="6.70" stroke-linecap="round" stroke-dasharray="0 2.30"/>
<path d="M65.0,260.0L89.0,270.0" stroke="#7c7eb1" stroke-width="5.90" stroke-linecap="round" stroke-dasharray="0 2.30"/>
<path d="M65.0,260.0L89.0,270.0" stroke="#4b4c78" stroke-width="4.72" stroke-dasharray="0.45 1.85" stroke-dashoffset="-0.90" stroke-opacity="0.6"/>
<path d="M89.0,270.0L113.0,260.0" stroke="#3c3d64" stroke-width="6.70" stroke-linecap="round" stroke-dasharray="0 2.30"/>
<path d="M89.0,270.0L113.0,260.0" stroke="#7c7eb1" stroke-width="5.90" stroke-linecap="round" stroke-dasharray="0 2.30"/>
<path d="M89.0,270.0L113.0,260.0" stroke="#4b4c78" stroke-width="4.72" stroke-dasharray="0.45 1.85" stroke-dashoffset="-0.90" stroke-opacity="0.6"/>
<path d="M111.0,254.0L114.0,260.0" stroke="#3c3d64" stroke-width="6.70" stroke-linecap="round" stroke-dasharray="0 2.30"/>
<path d="M111.0,254.0L114.0,260.0" stroke="#7c7eb1" stroke-width="5.90" stroke-linecap="round" stroke-dasharray="0 2.30"/>
<path d="M111.0,254.0L114.0,260.0" stroke="#4b4c78" stroke-width="4.72" stroke-dasharray="0.45 1.85" stroke-dashoffset="-0.90" stroke-opacity="0.6"/>
<path d="M71.0,275.5L82.0,285.0" stroke="#3c3d64" stroke-width="6.70" stroke-linecap="round" stroke-dasharray="0 2.30"/>
<path d="M71.0,275.5L82.0,285.0" stroke="#7c7eb1" stroke-width="5.90" stroke-linecap="round" stroke-dasharray="0 2.30"/>
<path d="M71.0,275.5L82.0,285.0" stroke="#4b4c78" stroke-width="4.72" stroke-dasharray="0.45 1.85" stroke-dashoffset="-0.90" stroke-opacity="0.6"/>
<path d="M97.0,275.5L109.0,283.0" stroke="#3c3d64" stroke-width="6.70" stroke-linecap="round" stroke-dasharray="0 2.30"/>
<path d="M97.0,275.5L109.0,283.0" stroke="#7c7eb1" stroke-width="5.90" stroke-linecap="round" stroke-dasharray="0 2.30"/>
<path d="M97.0,275.5L109.0,283.0" stroke="#4b4c78" stroke-width="4.72" stroke-dasharray="0.45 1.85" stroke-dashoffset="-0.90" stroke-opacity="0.6"/></g>
<line x1="146" y1="257" x2="162" y2="257" stroke="#111" stroke-width="0.9"/><path d="M166,257 L161,254.8 L161,259.2Z" fill="#111"/>
<path d="M343.7,99.1L338.7,95.9M337.0,94.9L332.0,91.7M341.7,92.3L340.3,91.4M339.9,91.1L338.5,90.3M339.5,85.6L342.1,87.3M343.0,87.8L345.6,89.5M338.7,79.3L344.5,83.2M346.4,84.4L352.2,88.2M340.5,74.9L347.4,79.5M349.6,81.0L356.5,85.6M345.3,72.4L350.7,76.1M352.5,77.3L357.9,81.0M351.8,71.4L354.0,72.9M354.8,73.5L357.0,75.0M358.9,70.9L357.2,69.7M356.6,69.3L354.9,68.1M365.1,70.0L360.1,66.2M358.5,65.0L353.5,61.3M369.0,67.9L362.7,62.6M360.6,60.9L354.4,55.6M370.5,63.6L365.5,58.5M363.8,56.8L358.8,51.7M370.5,57.3L368.1,54.6M367.3,53.8L364.9,51.2M370.2,49.8L371.1,50.8M371.4,51.2L372.3,52.3M370.9,43.5L374.2,47.8M375.2,49.3L378.5,53.7M373.9,38.4L378.2,45.2M379.6,47.4L383.8,54.2M379.1,36.5L382.5,43.5M383.6,45.8L387.0,52.7M386.1,38.3L387.4,42.6M387.9,44.1L389.2,48.4M392.0,42.6L392.0,42.5M392.0,42.5L392.0,42.4M396.8,47.3L396.5,42.6M396.4,41.0L396.1,36.3M400.7,50.3L401.0,42.6M401.0,40.0L401.3,32.3M404.5,50.3L405.5,42.4M405.8,39.7L406.7,31.8M409.4,47.2L410.5,42.2M410.8,40.5L411.9,35.4M414.9,43.0L415.1,42.3M415.2,42.1L415.4,41.5M421.3,39.4L419.8,43.2M419.3,44.5L417.8,48.4M427.6,38.3L424.3,45.1M423.2,47.3L419.9,54.0M432.5,40.9L428.2,47.8M426.8,50.1L422.5,57.0M435.2,46.5L431.5,51.1M430.2,52.7L426.4,57.4M435.4,53.7L434.0,54.9M433.6,55.3L432.2,56.6M433.8,60.9L436.3,59.0M437.2,58.4L439.8,56.5M432.7,66.1L438.4,62.6M440.4,61.4L446.1,57.9M433.7,70.3L441.0,66.5M443.4,65.2L450.8,61.5M437.3,72.9L443.6,70.1M445.7,69.2L451.9,66.5M444.0,75.3L446.5,74.4M447.3,74.1L449.7,73.2M450.8,78.2L448.6,78.7M447.8,78.8L445.6,79.3M455.7,83.0L449.5,83.2M447.5,83.3L441.3,83.5M457.0,89.6L449.0,88.1M446.3,87.6L438.2,86.1M453.6,95.2L446.9,92.7M444.6,91.9L437.9,89.4M447.8,98.0L444.3,96.4M443.1,95.8L439.6,94.1M440.5,99.5L441.3,100.0M441.6,100.2L442.5,100.7M433.7,100.6L438.4,103.8M440.0,104.9L444.7,108.0M429.4,102.6L435.8,107.6M437.9,109.3L444.2,114.4M427.9,106.1L433.4,111.4M435.2,113.2L440.6,118.5M427.9,111.5L430.7,115.1M431.6,116.2L434.4,119.8M427.5,118.6L427.4,118.5M427.4,118.4L427.3,118.3M426.0,125.6L423.6,121.4M422.9,119.9L420.6,115.7M423.0,130.5L419.5,123.5M418.3,121.2L414.8,114.3M418.8,132.2L415.2,125.1M414.0,122.7L410.4,115.6M412.9,131.2L410.7,126.3M410.0,124.6L407.8,119.6M406.3,127.8L406.0,127.0M405.9,126.7L405.6,125.9M400.2,124.1L401.4,127.8M401.9,129.0L403.1,132.7M394.2,122.6L397.0,129.3M398.0,131.6L400.8,138.3M388.3,125.3L392.6,132.1M394.1,134.4L398.4,141.3M385.5,131.0L389.5,135.6M390.9,137.1L394.9,141.6M385.6,138.1L387.0,139.4M387.5,139.8L388.9,141.2M386.9,145.2L384.7,143.3M383.9,142.7L381.6,140.9M387.4,151.3L382.0,147.1M380.2,145.7L374.9,141.5M385.4,155.7L378.9,150.5M376.8,148.8L370.3,143.7M380.0,158.1L375.0,153.9M373.4,152.5L368.4,148.3M373.9,158.4L371.6,156.5M370.9,155.9L368.6,154.0M366.5,158.3L368.0,159.6M368.5,160.0L370.1,161.3M360.0,159.2L364.9,163.0M366.5,164.2L371.4,167.9M355.3,162.5L362.1,167.2M364.4,168.7L371.2,173.4M354.1,167.9L360.3,171.5M362.3,172.7L368.5,176.3M355.8,174.5L358.9,176.1M360.0,176.6L363.1,178.2M359.0,181.2L357.7,180.6M357.3,180.4L356.1,179.9M361.5,187.4L356.2,185.0M354.5,184.3L349.2,181.9" stroke="#4f6d3a" stroke-width="0.8" fill="none" stroke-opacity="1.0"/>
<path d="M345.5,103.5 L345.3,101.9 L344.9,99.8 L344.0,97.2 L342.7,94.2 L341.2,90.7 L339.6,87.0 L338.3,83.4 L337.5,80.0 L337.5,77.1 L338.3,74.8 L340.0,73.0 L342.2,72.0 L344.8,71.5 L347.8,71.2 L351.3,71.1 L354.9,71.1 L358.5,71.1 L361.9,71.1 L364.9,70.9 L367.4,70.6 L369.3,69.9 L370.6,68.8 L371.3,67.3 L371.6,65.3 L371.5,62.7 L371.2,59.5 L370.8,56.1 L370.2,52.3 L369.9,48.6 L369.9,45.0 L370.3,41.7 L371.3,39.0 L372.9,36.9 L375.1,35.5 L377.7,35.0 L380.6,35.2 L383.5,36.1 L386.6,37.8 L389.4,40.0 L392.0,42.6 L394.3,45.3 L396.4,47.8 L398.2,49.9 L399.8,51.5 L401.4,52.4 L403.0,52.5 L404.7,51.9 L406.6,50.6 L408.7,48.9 L410.9,46.7 L413.5,44.4 L416.3,42.0 L419.3,39.8 L422.4,38.1 L425.5,37.1 L428.4,36.9 L430.9,37.5 L433.0,38.9 L434.7,41.1 L435.7,43.9 L436.2,47.1 L436.1,50.6 L435.5,54.3 L434.4,57.9 L433.2,61.3 L432.1,64.3 L431.4,66.9 L431.3,69.1 L431.8,70.8 L433.0,72.1 L434.9,73.1 L437.1,73.8 L439.9,74.6 L443.5,75.5 L447.1,76.4 L450.5,77.7 L453.6,79.4 L456.1,81.7 L457.9,84.4 L458.8,87.5 L458.6,90.7 L457.4,93.4 L455.7,95.3 L453.3,96.8 L450.3,98.0 L446.8,98.7 L443.1,99.2 L439.3,99.5 L435.8,99.7 L432.6,99.9 L430.1,100.4 L428.3,101.2 L427.2,102.4 L426.8,104.0 L426.8,106.0 L427.1,108.5 L427.4,111.5 L427.6,115.0 L427.5,118.7 L427.3,122.3 L426.7,125.8 L425.8,128.7 L424.5,131.1 L423.0,132.7 L421.2,133.6 L419.1,133.7 L416.6,133.3 L413.4,132.3 L410.2,130.7 L407.1,128.6 L404.2,126.4 L401.3,124.2 L398.5,122.5 L395.7,121.4 L392.9,121.1 L390.2,121.7 L387.8,123.2 L385.9,125.6 L384.9,128.5 L384.5,131.7 L384.8,135.1 L385.5,138.7 L386.5,142.2 L387.4,145.6 L388.2,148.8 L388.6,151.6 L388.4,154.0 L387.5,156.0 L386.0,157.5 L383.9,158.5 L381.1,159.0 L377.9,159.0 L374.4,158.8 L370.7,158.4 L367.0,158.1 L363.5,158.0 L360.3,158.2 L357.6,158.8 L355.4,159.9 L353.8,161.5 L352.9,163.6 L352.6,166.4 L353.2,169.7 L354.7,173.2 L356.6,176.9 L358.7,180.5 L360.6,183.8 L362.1,186.7 L363.0,189.1 L363.3,191.1 L363.2,192.6 L363.2,193.0" stroke="#4e6140" stroke-width="1.65" fill="none" stroke-linejoin="round" stroke-linecap="round"/>
<path d="M327.8,92.1 L329.0,91.5 L330.8,90.9 L333.3,90.5 L336.4,90.2 L340.1,90.0 L344.2,89.9 L348.2,89.8 L351.9,89.4 L355.0,88.7 L357.2,87.5 L358.5,85.8 L359.1,83.7 L359.1,81.2 L358.5,78.4 L357.5,75.3 L356.2,72.0 L354.9,68.7 L353.6,65.3 L352.7,62.0 L352.2,59.0 L352.4,56.2 L353.3,53.9 L354.9,52.0 L357.1,50.8 L359.7,50.3 L362.7,50.4 L366.1,50.9 L369.7,51.7 L373.4,52.8 L376.8,53.9 L380.0,54.8 L382.7,55.5 L384.8,55.7 L386.4,55.4 L387.5,54.6 L388.3,53.2 L388.9,51.3 L389.7,48.7 L390.7,45.7 L392.0,42.4 L393.6,39.1 L395.5,36.0 L397.7,33.3 L400.1,31.3 L402.6,30.1 L405.1,29.7 L407.5,30.2 L409.7,31.6 L411.6,33.7 L413.3,36.4 L414.8,39.6 L416.0,43.1 L416.9,46.7 L417.7,50.1 L418.4,53.1 L419.2,55.5 L420.1,57.3 L421.2,58.4 L422.7,58.8 L424.5,58.6 L426.8,58.1 L429.5,57.4 L432.8,56.7 L436.5,56.2 L440.4,56.1 L444.1,56.4 L447.4,57.1 L450.1,58.4 L452.1,60.1 L453.2,62.2 L453.5,64.6 L453.1,67.2 L452.0,69.9 L450.2,73.1 L448.1,76.1 L445.7,78.8 L443.3,81.1 L440.9,82.9 L438.9,84.1 L437.3,85.1 L436.2,86.1 L435.9,87.2 L436.2,88.5 L436.9,90.2 L438.1,92.4 L439.6,95.2 L441.4,98.3 L443.1,101.7 L444.6,105.2 L445.7,108.7 L446.1,112.0 L445.8,114.8 L444.7,117.2 L443.0,119.0 L440.5,120.2 L437.4,120.7 L434.1,120.5 L430.7,119.6 L427.3,118.2 L423.9,116.7 L420.8,115.1 L417.9,113.8 L415.3,112.9 L412.9,112.7 L410.9,113.2 L409.2,114.4 L408.0,116.2 L407.3,118.5 L406.6,121.5 L405.8,124.8 L404.9,128.3 L403.9,131.9 L403.0,135.2 L402.1,138.0 L401.3,140.3 L400.5,141.8 L399.6,142.7 L398.5,142.9 L396.8,142.8 L394.5,142.4 L391.7,141.9 L388.4,141.3 L384.8,140.8 L381.1,140.4 L377.6,140.3 L374.4,140.5 L371.7,141.1 L369.7,142.0 L368.3,143.3 L367.5,145.0 L367.3,147.4 L367.5,150.3 L368.1,153.6 L369.1,157.1 L370.2,160.7 L371.3,164.1 L372.2,167.3 L372.8,170.1 L373.0,172.5 L372.7,174.4 L371.9,175.8 L370.4,176.9 L368.0,177.7 L364.7,178.4 L360.9,179.0 L356.8,179.6 L352.9,180.2 L349.5,181.0 L346.8,181.7 L344.8,182.5 L343.5,183.1 L343.3,183.3" stroke="#4e6140" stroke-width="1.65" fill="none" stroke-linejoin="round" stroke-linecap="round"/>
<path d="M345.5,103.5 L345.3,101.9 L344.9,99.8 L344.0,97.2 L342.7,94.2 L341.2,90.7 L339.6,87.0 L338.3,83.4 L337.5,80.0 L337.5,77.1 L338.3,74.8 L340.0,73.0 L342.2,72.0 L344.8,71.5 L347.8,71.2 L351.3,71.1 L354.9,71.1 L358.5,71.1 L361.9,71.1 L364.9,70.9 L367.4,70.6 L369.3,69.9 L370.6,68.8 L371.3,67.3 L371.6,65.3 L371.5,62.7 L371.2,59.5 L370.8,56.1 L370.2,52.3 L369.9,48.6 L369.9,45.0 L370.3,41.7 L371.3,39.0 L372.9,36.9 L375.1,35.5 L377.7,35.0 L380.6,35.2 L383.5,36.1 L386.6,37.8 L389.4,40.0 L392.0,42.6 L394.3,45.3 L396.4,47.8 L398.2,49.9 L399.8,51.5 L401.4,52.4 L403.0,52.5 L404.7,51.9 L406.6,50.6 L408.7,48.9 L410.9,46.7 L413.5,44.4 L416.3,42.0 L419.3,39.8 L422.4,38.1 L425.5,37.1 L428.4,36.9 L430.9,37.5 L433.0,38.9 L434.7,41.1 L435.7,43.9 L436.2,47.1 L436.1,50.6 L435.5,54.3 L434.4,57.9 L433.2,61.3 L432.1,64.3 L431.4,66.9 L431.3,69.1 L431.8,70.8 L433.0,72.1 L434.9,73.1 L437.1,73.8 L439.9,74.6 L443.5,75.5 L447.1,76.4 L450.5,77.7 L453.6,79.4 L456.1,81.7 L457.9,84.4 L458.8,87.5 L458.6,90.7 L457.4,93.4 L455.7,95.3 L453.3,96.8 L450.3,98.0 L446.8,98.7 L443.1,99.2 L439.3,99.5 L435.8,99.7 L432.6,99.9 L430.1,100.4 L428.3,101.2 L427.2,102.4 L426.8,104.0 L426.8,106.0 L427.1,108.5 L427.4,111.5 L427.6,115.0 L427.5,118.7 L427.3,122.3 L426.7,125.8 L425.8,128.7 L424.5,131.1 L423.0,132.7 L421.2,133.6 L419.1,133.7 L416.6,133.3 L413.4,132.3 L410.2,130.7 L407.1,128.6 L404.2,126.4 L401.3,124.2 L398.5,122.5 L395.7,121.4 L392.9,121.1 L390.2,121.7 L387.8,123.2 L385.9,125.6 L384.9,128.5 L384.5,131.7 L384.8,135.1 L385.5,138.7 L386.5,142.2 L387.4,145.6 L388.2,148.8 L388.6,151.6 L388.4,154.0 L387.5,156.0 L386.0,157.5 L383.9,158.5 L381.1,159.0 L377.9,159.0 L374.4,158.8 L370.7,158.4 L367.0,158.1 L363.5,158.0 L360.3,158.2 L357.6,158.8 L355.4,159.9 L353.8,161.5 L352.9,163.6 L352.6,166.4 L353.2,169.7 L354.7,173.2 L356.6,176.9 L358.7,180.5 L360.6,183.8 L362.1,186.7 L363.0,189.1 L363.3,191.1 L363.2,192.6 L363.2,193.0" stroke="#a2c783" stroke-width="0.85" fill="none" stroke-linejoin="round" stroke-linecap="round"/>
<path d="M327.8,92.1 L329.0,91.5 L330.8,90.9 L333.3,90.5 L336.4,90.2 L340.1,90.0 L344.2,89.9 L348.2,89.8 L351.9,89.4 L355.0,88.7 L357.2,87.5 L358.5,85.8 L359.1,83.7 L359.1,81.2 L358.5,78.4 L357.5,75.3 L356.2,72.0 L354.9,68.7 L353.6,65.3 L352.7,62.0 L352.2,59.0 L352.4,56.2 L353.3,53.9 L354.9,52.0 L357.1,50.8 L359.7,50.3 L362.7,50.4 L366.1,50.9 L369.7,51.7 L373.4,52.8 L376.8,53.9 L380.0,54.8 L382.7,55.5 L384.8,55.7 L386.4,55.4 L387.5,54.6 L388.3,53.2 L388.9,51.3 L389.7,48.7 L390.7,45.7 L392.0,42.4 L393.6,39.1 L395.5,36.0 L397.7,33.3 L400.1,31.3 L402.6,30.1 L405.1,29.7 L407.5,30.2 L409.7,31.6 L411.6,33.7 L413.3,36.4 L414.8,39.6 L416.0,43.1 L416.9,46.7 L417.7,50.1 L418.4,53.1 L419.2,55.5 L420.1,57.3 L421.2,58.4 L422.7,58.8 L424.5,58.6 L426.8,58.1 L429.5,57.4 L432.8,56.7 L436.5,56.2 L440.4,56.1 L444.1,56.4 L447.4,57.1 L450.1,58.4 L452.1,60.1 L453.2,62.2 L453.5,64.6 L453.1,67.2 L452.0,69.9 L450.2,73.1 L448.1,76.1 L445.7,78.8 L443.3,81.1 L440.9,82.9 L438.9,84.1 L437.3,85.1 L436.2,86.1 L435.9,87.2 L436.2,88.5 L436.9,90.2 L438.1,92.4 L439.6,95.2 L441.4,98.3 L443.1,101.7 L444.6,105.2 L445.7,108.7 L446.1,112.0 L445.8,114.8 L444.7,117.2 L443.0,119.0 L440.5,120.2 L437.4,120.7 L434.1,120.5 L430.7,119.6 L427.3,118.2 L423.9,116.7 L420.8,115.1 L417.9,113.8 L415.3,112.9 L412.9,112.7 L410.9,113.2 L409.2,114.4 L408.0,116.2 L407.3,118.5 L406.6,121.5 L405.8,124.8 L404.9,128.3 L403.9,131.9 L403.0,135.2 L402.1,138.0 L401.3,140.3 L400.5,141.8 L399.6,142.7 L398.5,142.9 L396.8,142.8 L394.5,142.4 L391.7,141.9 L388.4,141.3 L384.8,140.8 L381.1,140.4 L377.6,140.3 L374.4,140.5 L371.7,141.1 L369.7,142.0 L368.3,143.3 L367.5,145.0 L367.3,147.4 L367.5,150.3 L368.1,153.6 L369.1,157.1 L370.2,160.7 L371.3,164.1 L372.2,167.3 L372.8,170.1 L373.0,172.5 L372.7,174.4 L371.9,175.8 L370.4,176.9 L368.0,177.7 L364.7,178.4 L360.9,179.0 L356.8,179.6 L352.9,180.2 L349.5,181.0 L346.8,181.7 L344.8,182.5 L343.5,183.1 L343.3,183.3" stroke="#a2c783" stroke-width="0.85" fill="none" stroke-linejoin="round" stroke-linecap="round"/>
<g><path d="M374.9,80.3 L374.4,80.0 L373.7,79.6 L372.9,79.1 L372.1,78.6 L371.2,78.1 L370.3,77.5 L369.6,76.9 L369.0,76.2 L368.6,75.5 L368.3,74.8 L368.2,74.0 L368.1,73.1 L368.2,72.2 L368.3,71.3 L368.5,70.4 L368.8,69.6 L369.2,68.8 L369.6,68.2 L370.2,67.7 L370.9,67.3 L371.7,66.9 L372.7,66.6 L373.6,66.4 L374.6,66.2 L375.5,66.0 L376.3,65.8 L376.9,65.6 L378.1,65.2 L379.0,64.9 L379.6,64.7 L380.1,64.5" stroke="#34344e" stroke-width="0.7" fill="none"/>
<path d="M374.9,87.6 L374.4,87.8 L373.7,88.0 L373.0,88.3 L372.1,88.6 L371.2,88.9 L370.3,89.3 L369.4,89.7 L368.6,90.2 L368.0,90.7 L367.5,91.3 L367.2,92.0 L366.9,92.7 L366.8,93.6 L366.7,94.5 L366.6,95.5 L366.7,96.4 L366.8,97.3 L367.0,98.2 L367.2,99.0 L367.5,99.7 L367.9,100.4 L368.5,101.0 L369.1,101.5 L369.9,102.1 L370.7,102.5 L371.5,102.9 L372.3,103.3 L373.1,103.6 L373.8,103.9 L374.8,104.2 L375.8,104.3 L376.8,104.4 L377.8,104.4 L378.8,104.4 L379.5,104.4 L380.1,104.4" stroke="#34344e" stroke-width="0.7" fill="none"/>
<path d="M422.1,68.2 L422.6,68.4 L423.4,68.7 L424.2,69.0 L425.2,69.3 L426.1,69.7 L427.0,70.2 L427.8,70.7 L428.4,71.3 L428.8,72.0 L429.1,72.8 L429.4,73.6 L429.7,74.5 L429.8,75.4 L429.9,76.3 L429.9,77.2 L429.7,78.0 L429.4,78.7 L429.0,79.3 L428.4,79.8 L427.6,80.3 L426.8,80.8 L425.8,81.3 L424.9,81.7 L424.0,82.0 L423.2,82.4 L422.6,82.7 L422.1,82.9" stroke="#34344e" stroke-width="0.7" fill="none"/>
<path d="M424.2,88.7 L424.7,89.0 L425.3,89.3 L426.1,89.7 L427.0,90.2 L427.9,90.7 L428.7,91.3 L429.5,91.9 L430.1,92.6 L430.5,93.4 L430.7,94.1 L430.8,94.9 L430.9,95.8 L430.9,96.8 L430.8,97.7 L430.7,98.7 L430.5,99.7 L430.3,100.6 L430.1,101.5 L429.8,102.2 L429.4,102.8 L428.9,103.5 L428.2,104.0 L427.3,104.4 L426.4,104.6 L425.5,104.9 L424.6,105.1 L423.8,105.5 L423.1,106.0 L422.6,106.7 L422.1,107.5 L421.6,108.4 L421.2,109.3 L420.8,110.3 L420.5,111.1 L420.2,111.8 L420.0,112.3" stroke="#34344e" stroke-width="0.7" fill="none"/>
<path d="M391.6,55.6 L392.2,55.2 L393.0,54.5 L394.0,53.8 L394.9,53.4 L395.9,53.5 L396.3,53.9 L396.8,54.6 L397.2,55.4 L397.7,56.4 L398.2,57.3 L398.7,58.2 L399.1,59.0 L399.6,59.6 L400.1,59.8 L400.6,59.6 L401.1,59.1 L401.6,58.4 L402.1,57.4 L402.7,56.5 L403.2,55.6 L403.7,54.9 L404.2,54.5 L405.2,54.5 L406.1,55.0 L407.1,55.6 L407.9,56.2 L408.4,56.6" stroke="#34344e" stroke-width="0.7" fill="none"/>
<path d="M391.6,114.4 L392.1,114.8 L392.8,115.3 L393.6,116.0 L394.4,116.7 L395.3,117.2 L396.2,117.6 L396.9,117.6 L397.4,117.2 L397.9,116.6 L398.4,115.7 L398.9,114.8 L399.4,113.8 L399.8,112.8 L400.3,112.1 L400.7,111.5 L401.1,111.2 L401.6,111.5 L402.1,112.4 L402.5,113.6 L403.0,114.9 L403.4,115.9 L403.8,116.6 L404.2,116.5 L404.5,116.2 L404.7,115.7 L404.9,115.0 L405.2,114.2 L405.4,113.3 L405.7,112.3 L405.9,111.3 L406.1,110.3 L406.4,109.2 L406.6,108.2 L406.8,107.2 L407.0,106.3 L407.1,105.6 L407.3,104.9 L407.4,104.4" stroke="#34344e" stroke-width="0.7" fill="none"/>
<path d="M397.9,76.1 L398.4,76.4 L399.1,76.8 L399.9,77.2 L400.7,77.7 L401.5,78.2 L402.1,78.7 L402.9,79.4 L403.5,80.2 L403.9,80.9 L404.2,81.3" stroke="#34344e" stroke-width="0.7" fill="none"/>
<path d="M381.1,58.8 L380.6,59.2 L379.9,59.8 L379.0,60.5 L378.3,61.3 L378.0,61.9 L378.2,62.7 L378.9,63.4 L379.6,64.1 L380.1,64.5" stroke="#34344e" stroke-width="0.7" fill="none"/>
<path d="M381.1,58.8L391.6,55.6" stroke="#3c3d64" stroke-width="7.04" stroke-linecap="round" stroke-dasharray="0 2.42"/>
<path d="M381.1,58.8L391.6,55.6" stroke="#4e4f72" stroke-width="6.20" stroke-linecap="round" stroke-dasharray="0 2.42"/>
<path d="M381.1,58.8L391.6,55.6" stroke="#4b4c78" stroke-width="4.96" stroke-dasharray="0.47 1.94" stroke-dashoffset="-0.95" stroke-opacity="0.6"/>
<path d="M408.4,56.6L422.1,68.2" stroke="#3c3d64" stroke-width="7.04" stroke-linecap="round" stroke-dasharray="0 2.42"/>
<path d="M408.4,56.6L422.1,68.2" stroke="#7c7eb1" stroke-width="6.20" stroke-linecap="round" stroke-dasharray="0 2.42"/>
<path d="M408.4,56.6L422.1,68.2" stroke="#4b4c78" stroke-width="4.96" stroke-dasharray="0.47 1.94" stroke-dashoffset="-0.95" stroke-opacity="0.6"/>
<path d="M380.1,64.5L399.0,73.5" stroke="#3c3d64" stroke-width="7.04" stroke-linecap="round" stroke-dasharray="0 2.42"/>
<path d="M380.1,64.5L399.0,73.5" stroke="#7c7eb1" stroke-width="6.20" stroke-linecap="round" stroke-dasharray="0 2.42"/>
<path d="M380.1,64.5L399.0,73.5" stroke="#4b4c78" stroke-width="4.96" stroke-dasharray="0.47 1.94" stroke-dashoffset="-0.95" stroke-opacity="0.6"/>
<path d="M399.0,73.5L423.1,81.8" stroke="#3c3d64" stroke-width="7.04" stroke-linecap="round" stroke-dasharray="0 2.42"/>
<path d="M399.0,73.5L423.1,81.8" stroke="#7c7eb1" stroke-width="6.20" stroke-linecap="round" stroke-dasharray="0 2.42"/>
<path d="M399.0,73.5L423.1,81.8" stroke="#4b4c78" stroke-width="4.96" stroke-dasharray="0.47 1.94" stroke-dashoffset="-0.95" stroke-opacity="0.6"/>
<path d="M373.8,81.3L396.9,75.5" stroke="#3c3d64" stroke-width="7.04" stroke-linecap="round" stroke-dasharray="0 2.42"/>
<path d="M373.8,81.3L396.9,75.5" stroke="#7c7eb1" stroke-width="6.20" stroke-linecap="round" stroke-dasharray="0 2.42"/>
<path d="M373.8,81.3L396.9,75.5" stroke="#4b4c78" stroke-width="4.96" stroke-dasharray="0.47 1.94" stroke-dashoffset="-0.95" stroke-opacity="0.6"/>
<path d="M373.8,88.2L399.0,98.7" stroke="#3c3d64" stroke-width="7.04" stroke-linecap="round" stroke-dasharray="0 2.42"/>
<path d="M373.8,88.2L399.0,98.7" stroke="#7c7eb1" stroke-width="6.20" stroke-linecap="round" stroke-dasharray="0 2.42"/>
<path d="M373.8,88.2L399.0,98.7" stroke="#4b4c78" stroke-width="4.96" stroke-dasharray="0.47 1.94" stroke-dashoffset="-0.95" stroke-opacity="0.6"/>
<path d="M399.0,98.7L424.2,88.2" stroke="#3c3d64" stroke-width="7.04" stroke-linecap="round" stroke-dasharray="0 2.42"/>
<path d="M399.0,98.7L424.2,88.2" stroke="#7c7eb1" stroke-width="6.20" stroke-linecap="round" stroke-dasharray="0 2.42"/>
<path d="M399.0,98.7L424.2,88.2" stroke="#4b4c78" stroke-width="4.96" stroke-dasharray="0.47 1.94" stroke-dashoffset="-0.95" stroke-opacity="0.6"/>
<path d="M422.1,81.8L425.2,88.2" stroke="#3c3d64" stroke-width="7.04" stroke-linecap="round" stroke-dasharray="0 2.42"/>
<path d="M422.1,81.8L425.2,88.2" stroke="#7c7eb1" stroke-width="6.20" stroke-linecap="round" stroke-dasharray="0 2.42"/>
<path d="M422.1,81.8L425.2,88.2" stroke="#4b4c78" stroke-width="4.96" stroke-dasharray="0.47 1.94" stroke-dashoffset="-0.95" stroke-opacity="0.6"/>
<path d="M380.1,104.4L391.6,114.4" stroke="#3c3d64" stroke-width="7.04" stroke-linecap="round" stroke-dasharray="0 2.42"/>
<path d="M380.1,104.4L391.6,114.4" stroke="#7c7eb1" stroke-width="6.20" stroke-linecap="round" stroke-dasharray="0 2.42"/>
<path d="M380.1,104.4L391.6,114.4" stroke="#4b4c78" stroke-width="4.96" stroke-dasharray="0.47 1.94" stroke-dashoffset="-0.95" stroke-opacity="0.6"/>
<path d="M407.4,104.4L420.0,112.3" stroke="#3c3d64" stroke-width="7.04" stroke-linecap="round" stroke-dasharray="0 2.42"/>
<path d="M407.4,104.4L420.0,112.3" stroke="#7c7eb1" stroke-width="6.20" stroke-linecap="round" stroke-dasharray="0 2.42"/>
<path d="M407.4,104.4L420.0,112.3" stroke="#4b4c78" stroke-width="4.96" stroke-dasharray="0.47 1.94" stroke-dashoffset="-0.95" stroke-opacity="0.6"/></g>
<line x1="297" y1="95" x2="313" y2="95" stroke="#111" stroke-width="0.9"/><path d="M317,95 L312,92.8 L312,97.2Z" fill="#111"/>
<path d="M338.8,255.1L335.1,252.9M333.8,252.2L330.1,250.1M336.0,247.9L336.6,248.2M336.8,248.3L337.4,248.7M334.1,241.2L338.6,244.0M340.0,244.9L344.4,247.7M334.9,235.3L341.3,240.0M343.4,241.6L349.8,246.3M338.9,231.5L344.6,236.9M346.5,238.8L352.2,244.2M346.0,230.6L349.1,234.2M350.1,235.5L353.1,239.2M353.3,232.1L353.3,232.2M353.4,232.2L353.4,232.2M359.5,233.8L357.1,230.3M356.3,229.1L353.9,225.6M365.1,234.0L360.9,227.8M359.5,225.7L355.3,219.5M369.1,231.3L364.4,224.7M362.9,222.5L358.2,215.9M371.1,226.1L367.7,221.3M366.6,219.7L363.2,214.9M371.9,218.5L371.3,217.6M371.1,217.3L370.5,216.3M373.4,211.5L375.0,214.7M375.5,215.8L377.1,219.1M376.6,206.0L379.2,212.7M380.0,214.9L382.6,221.6M381.1,203.7L383.6,211.6M384.4,214.2L386.9,222.0M386.7,204.8L388.3,211.1M388.8,213.2L390.3,219.5M392.6,208.7L393.0,211.2M393.1,212.0L393.5,214.4M397.8,213.8L397.6,211.4M397.5,210.6L397.3,208.2M402.6,218.1L402.5,211.5M402.4,209.2L402.2,202.6M406.6,219.4L406.9,211.2M407.0,208.4L407.3,200.2M410.7,217.6L411.5,210.7M411.7,208.4L412.6,201.5M415.5,213.6L416.2,210.5M416.4,209.5L417.1,206.4M421.4,209.5L420.9,211.0M420.7,211.5L420.1,213.0M427.8,207.1L425.3,212.4M424.5,214.2L421.9,219.4M433.6,207.8L429.5,214.8M428.1,217.1L424.0,224.2M437.5,212.0L433.2,218.1M431.8,220.1L427.5,226.1M438.9,218.7L436.3,221.7M435.4,222.7L432.9,225.8M438.4,225.9L438.9,225.4M439.0,225.3L439.5,224.8M437.0,232.2L441.2,229.1M442.6,228.1L446.8,225.1M436.7,236.7L443.7,232.9M446.0,231.6L452.9,227.7M439.1,239.8L446.2,236.6M448.6,235.6L455.8,232.5M444.1,242.1L448.8,240.6M450.3,240.1L455.0,238.6M450.6,244.9L450.9,244.8M451.0,244.8L451.3,244.7M456.5,248.6L452.3,249.1M450.9,249.3L446.8,249.9M460.5,254.0L452.9,254.3M450.3,254.4L442.6,254.7M460.3,259.4L452.3,259.0M449.6,258.9L441.6,258.5M456.5,264.3L451.0,263.5M449.1,263.3L443.6,262.6M450.4,268.1L449.2,267.8M448.8,267.7L447.7,267.5M444.1,271.0L447.5,271.9M448.6,272.2L452.0,273.2M439.2,273.7L445.9,276.1M448.2,276.9L454.9,279.4M437.1,277.1L444.6,280.5M447.1,281.7L454.5,285.1M437.8,281.7L443.2,284.9M445.0,286.0L450.5,289.3M439.6,287.8L441.4,289.2M442.0,289.7L443.8,291.2M440.4,295.5L438.6,293.4M437.9,292.7L436.1,290.6M438.9,301.9L435.1,296.5M433.8,294.7L430.0,289.3M435.1,306.0L430.9,298.8M429.5,296.5L425.4,289.3M429.3,306.6L426.3,300.4M425.3,298.3L422.4,292.1M422.7,304.1L421.6,301.3M421.3,300.3L420.2,297.5M416.7,300.3L417.2,301.9M417.3,302.5L417.8,304.2M411.6,296.8L412.8,302.6M413.3,304.5L414.5,310.3M407.3,295.5L408.4,303.5M408.8,306.2L409.9,314.3M403.5,297.3L403.9,304.7M404.1,307.2L404.5,314.6M399.4,301.8L399.3,305.8M399.3,307.2L399.2,311.2M394.7,307.1L394.7,306.5M394.8,306.3L394.8,305.7M388.5,311.5L389.6,306.2M390.0,304.5L391.2,299.2M382.5,312.4L385.1,304.8M385.9,302.3L388.5,294.8M378.1,310.0L381.3,302.8M382.4,300.4L385.6,293.1M375.1,304.4L377.5,299.9M378.3,298.3L380.8,293.8M373.7,296.5L373.8,296.4M373.8,296.4L373.8,296.3M373.2,289.9L370.6,293.4M369.7,294.6L367.0,298.1M372.8,285.2L367.4,290.4M365.5,292.2L360.1,297.5M370.2,282.3L363.9,287.3M361.9,289.0L355.6,294.1M364.8,280.9L360.4,284.3M358.9,285.4L354.4,288.8M357.8,280.5L356.9,281.3M356.5,281.6L355.5,282.4M350.4,281.0L353.1,278.3M354.0,277.4L356.7,274.6M345.0,280.7L349.8,275.4M351.4,273.6L356.3,268.2M341.2,278.1L346.6,271.9M348.4,269.9L353.8,263.7M339.5,273.2L343.9,268.5M345.3,266.9L349.7,262.2M339.7,265.4L341.2,264.1M341.7,263.7L343.1,262.4M341.3,258.8L339.1,260.4M338.4,260.9L336.3,262.5M342.0,252.6L336.7,256.5M335.0,257.8L329.6,261.6" stroke="#4f6d3a" stroke-width="0.8" fill="none" stroke-opacity="1.0"/>
<path d="M340.8,259.2 L340.3,257.3 L339.4,254.9 L338.0,252.0 L336.3,248.7 L334.7,245.1 L333.4,241.4 L332.8,238.0 L333.2,234.9 L334.7,232.4 L337.0,230.6 L339.7,229.6 L342.8,229.4 L346.2,229.9 L349.7,230.9 L353.3,232.1 L356.8,233.4 L360.0,234.5 L362.9,235.3 L365.5,235.4 L367.7,234.9 L369.5,233.7 L370.8,231.8 L371.5,229.3 L371.9,226.4 L371.9,223.1 L372.0,219.6 L372.1,216.0 L372.6,212.5 L373.5,209.1 L374.9,206.2 L376.4,204.1 L378.3,202.6 L380.5,202.0 L383.0,202.1 L385.7,203.0 L388.4,204.6 L391.1,206.9 L393.8,209.5 L396.2,212.3 L398.4,215.0 L400.3,217.3 L402.2,219.2 L404.0,220.6 L405.7,221.2 L407.4,221.1 L409.1,220.2 L411.0,218.7 L413.0,216.6 L415.3,214.3 L417.9,211.8 L420.9,209.6 L423.8,207.8 L426.9,206.4 L429.9,205.7 L432.7,205.7 L435.1,206.5 L437.0,208.2 L438.4,210.7 L439.2,213.7 L439.5,217.2 L439.2,220.8 L438.7,224.3 L437.8,227.6 L436.8,230.7 L435.9,233.5 L435.3,235.8 L435.2,237.6 L435.8,239.1 L437.0,240.2 L439.0,241.2 L441.6,242.0 L444.6,242.9 L448.0,244.0 L451.4,245.2 L454.5,246.7 L457.4,248.4 L459.9,250.5 L461.6,252.7 L462.6,255.1 L462.7,257.6 L461.8,260.0 L460.1,262.3 L457.7,264.4 L454.8,266.3 L451.5,267.8 L448.2,269.1 L444.9,270.2 L441.9,271.3 L439.3,272.4 L437.3,273.5 L436.0,274.8 L435.5,276.3 L435.6,278.1 L436.3,280.3 L437.4,282.9 L438.6,285.8 L439.8,289.1 L440.5,292.5 L440.8,295.9 L440.7,299.3 L440.1,302.4 L438.8,305.0 L437.1,306.9 L434.8,308.0 L432.2,308.3 L429.2,307.7 L426.1,306.5 L423.0,304.7 L420.0,302.6 L417.2,300.4 L414.7,298.3 L412.4,296.4 L410.3,294.8 L408.4,293.9 L406.7,293.7 L405.0,294.3 L403.3,295.6 L401.7,297.7 L399.9,300.2 L397.9,303.0 L395.8,305.8 L393.5,308.5 L391.0,310.8 L388.2,312.7 L385.3,313.8 L382.5,314.1 L380.0,313.6 L377.9,312.1 L376.2,309.9 L375.0,307.0 L374.2,303.7 L373.8,300.1 L373.7,296.5 L373.7,293.0 L373.8,289.9 L374.0,287.2 L374.1,284.9 L373.8,283.2 L372.8,281.9 L371.1,281.0 L368.7,280.4 L365.8,280.1 L362.5,280.1 L358.9,280.2 L355.5,280.6 L352.3,281.1 L348.9,281.7 L345.8,282.0 L343.3,281.8 L341.4,281.0 L340.0,279.5 L339.1,277.4 L338.6,274.9 L338.5,272.1 L338.7,269.1 L339.7,264.5 L341.1,260.3 L342.3,256.8 L343.1,253.9 L343.2,251.7 L343.2,250.9" stroke="#4e6140" stroke-width="1.65" fill="none" stroke-linejoin="round" stroke-linecap="round"/>
<path d="M326.1,250.1 L327.6,249.8 L329.9,249.5 L332.9,249.1 L336.6,248.8 L340.6,248.6 L344.5,248.3 L348.0,248.0 L350.7,247.5 L352.5,246.8 L353.4,245.7 L353.7,244.2 L353.9,242.0 L353.8,239.2 L353.6,235.9 L353.4,232.2 L353.3,228.4 L353.3,224.8 L353.6,221.5 L354.2,218.7 L355.0,216.6 L356.3,215.0 L358.1,214.0 L360.4,213.7 L363.2,213.9 L366.3,214.7 L369.5,215.8 L372.8,217.3 L376.0,218.9 L378.9,220.7 L381.5,222.2 L383.7,223.3 L385.7,223.8 L387.5,223.8 L389.0,223.0 L390.4,221.4 L391.6,219.3 L392.9,216.5 L394.3,213.4 L395.9,210.1 L397.8,206.8 L399.6,204.1 L401.6,201.6 L403.8,199.8 L406.1,198.6 L408.5,198.3 L411.0,199.0 L413.3,200.5 L415.4,202.7 L417.3,205.7 L418.8,209.0 L419.8,212.5 L420.5,215.9 L421.1,219.1 L421.7,222.0 L422.4,224.4 L423.4,226.1 L424.7,227.1 L426.5,227.5 L428.8,227.3 L431.6,226.6 L434.6,225.8 L437.9,225.0 L441.4,224.4 L445.1,224.2 L448.6,224.5 L451.8,225.4 L454.4,226.8 L456.2,228.8 L457.3,231.2 L457.4,233.8 L456.7,236.7 L455.2,239.7 L453.2,242.6 L450.8,245.3 L448.3,247.8 L445.8,250.0 L443.5,252.0 L441.7,253.9 L440.4,255.6 L439.8,257.2 L439.9,258.8 L440.8,260.5 L442.4,262.4 L444.4,264.5 L446.8,266.8 L449.2,269.3 L451.6,272.0 L453.7,274.8 L455.5,277.7 L456.5,280.6 L456.8,283.4 L456.2,285.9 L454.7,288.0 L452.4,289.7 L449.4,290.9 L446.0,291.4 L442.4,291.4 L439.0,291.0 L435.7,290.1 L432.6,289.2 L429.8,288.3 L427.4,287.7 L425.3,287.6 L423.7,288.1 L422.5,289.3 L421.5,291.2 L420.7,293.8 L419.9,296.9 L419.1,300.2 L418.2,303.7 L417.1,307.0 L415.6,310.2 L413.8,312.9 L411.8,315.0 L409.5,316.3 L407.1,316.7 L404.6,316.2 L402.2,314.9 L399.8,312.8 L397.6,310.1 L395.7,307.1 L394.0,304.0 L392.7,301.0 L391.5,298.0 L390.4,295.5 L389.4,293.5 L388.2,292.2 L386.7,291.6 L384.8,291.6 L382.6,292.3 L380.0,293.4 L377.0,294.8 L373.8,296.3 L370.5,297.6 L367.3,298.7 L363.7,299.2 L360.3,299.0 L357.5,298.1 L355.3,296.7 L353.9,294.7 L353.3,292.3 L353.4,289.5 L354.1,286.5 L355.0,283.4 L356.1,280.1 L356.9,276.9 L357.5,273.1 L357.6,269.4 L357.2,266.3 L356.3,264.0 L355.0,262.3 L353.2,261.4 L351.2,261.1 L348.9,261.3 L346.6,261.7 L342.3,262.3 L337.9,262.7 L333.9,262.8 L330.7,262.7 L328.4,262.5 L327.7,262.5" stroke="#4e6140" stroke-width="1.65" fill="none" stroke-linejoin="round" stroke-linecap="round"/>
<path d="M340.8,259.2 L340.3,257.3 L339.4,254.9 L338.0,252.0 L336.3,248.7 L334.7,245.1 L333.4,241.4 L332.8,238.0 L333.2,234.9 L334.7,232.4 L337.0,230.6 L339.7,229.6 L342.8,229.4 L346.2,229.9 L349.7,230.9 L353.3,232.1 L356.8,233.4 L360.0,234.5 L362.9,235.3 L365.5,235.4 L367.7,234.9 L369.5,233.7 L370.8,231.8 L371.5,229.3 L371.9,226.4 L371.9,223.1 L372.0,219.6 L372.1,216.0 L372.6,212.5 L373.5,209.1 L374.9,206.2 L376.4,204.1 L378.3,202.6 L380.5,202.0 L383.0,202.1 L385.7,203.0 L388.4,204.6 L391.1,206.9 L393.8,209.5 L396.2,212.3 L398.4,215.0 L400.3,217.3 L402.2,219.2 L404.0,220.6 L405.7,221.2 L407.4,221.1 L409.1,220.2 L411.0,218.7 L413.0,216.6 L415.3,214.3 L417.9,211.8 L420.9,209.6 L423.8,207.8 L426.9,206.4 L429.9,205.7 L432.7,205.7 L435.1,206.5 L437.0,208.2 L438.4,210.7 L439.2,213.7 L439.5,217.2 L439.2,220.8 L438.7,224.3 L437.8,227.6 L436.8,230.7 L435.9,233.5 L435.3,235.8 L435.2,237.6 L435.8,239.1 L437.0,240.2 L439.0,241.2 L441.6,242.0 L444.6,242.9 L448.0,244.0 L451.4,245.2 L454.5,246.7 L457.4,248.4 L459.9,250.5 L461.6,252.7 L462.6,255.1 L462.7,257.6 L461.8,260.0 L460.1,262.3 L457.7,264.4 L454.8,266.3 L451.5,267.8 L448.2,269.1 L444.9,270.2 L441.9,271.3 L439.3,272.4 L437.3,273.5 L436.0,274.8 L435.5,276.3 L435.6,278.1 L436.3,280.3 L437.4,282.9 L438.6,285.8 L439.8,289.1 L440.5,292.5 L440.8,295.9 L440.7,299.3 L440.1,302.4 L438.8,305.0 L437.1,306.9 L434.8,308.0 L432.2,308.3 L429.2,307.7 L426.1,306.5 L423.0,304.7 L420.0,302.6 L417.2,300.4 L414.7,298.3 L412.4,296.4 L410.3,294.8 L408.4,293.9 L406.7,293.7 L405.0,294.3 L403.3,295.6 L401.7,297.7 L399.9,300.2 L397.9,303.0 L395.8,305.8 L393.5,308.5 L391.0,310.8 L388.2,312.7 L385.3,313.8 L382.5,314.1 L380.0,313.6 L377.9,312.1 L376.2,309.9 L375.0,307.0 L374.2,303.7 L373.8,300.1 L373.7,296.5 L373.7,293.0 L373.8,289.9 L374.0,287.2 L374.1,284.9 L373.8,283.2 L372.8,281.9 L371.1,281.0 L368.7,280.4 L365.8,280.1 L362.5,280.1 L358.9,280.2 L355.5,280.6 L352.3,281.1 L348.9,281.7 L345.8,282.0 L343.3,281.8 L341.4,281.0 L340.0,279.5 L339.1,277.4 L338.6,274.9 L338.5,272.1 L338.7,269.1 L339.7,264.5 L341.1,260.3 L342.3,256.8 L343.1,253.9 L343.2,251.7 L343.2,250.9" stroke="#a2c783" stroke-width="0.85" fill="none" stroke-linejoin="round" stroke-linecap="round"/>
<path d="M326.1,250.1 L327.6,249.8 L329.9,249.5 L332.9,249.1 L336.6,248.8 L340.6,248.6 L344.5,248.3 L348.0,248.0 L350.7,247.5 L352.5,246.8 L353.4,245.7 L353.7,244.2 L353.9,242.0 L353.8,239.2 L353.6,235.9 L353.4,232.2 L353.3,228.4 L353.3,224.8 L353.6,221.5 L354.2,218.7 L355.0,216.6 L356.3,215.0 L358.1,214.0 L360.4,213.7 L363.2,213.9 L366.3,214.7 L369.5,215.8 L372.8,217.3 L376.0,218.9 L378.9,220.7 L381.5,222.2 L383.7,223.3 L385.7,223.8 L387.5,223.8 L389.0,223.0 L390.4,221.4 L391.6,219.3 L392.9,216.5 L394.3,213.4 L395.9,210.1 L397.8,206.8 L399.6,204.1 L401.6,201.6 L403.8,199.8 L406.1,198.6 L408.5,198.3 L411.0,199.0 L413.3,200.5 L415.4,202.7 L417.3,205.7 L418.8,209.0 L419.8,212.5 L420.5,215.9 L421.1,219.1 L421.7,222.0 L422.4,224.4 L423.4,226.1 L424.7,227.1 L426.5,227.5 L428.8,227.3 L431.6,226.6 L434.6,225.8 L437.9,225.0 L441.4,224.4 L445.1,224.2 L448.6,224.5 L451.8,225.4 L454.4,226.8 L456.2,228.8 L457.3,231.2 L457.4,233.8 L456.7,236.7 L455.2,239.7 L453.2,242.6 L450.8,245.3 L448.3,247.8 L445.8,250.0 L443.5,252.0 L441.7,253.9 L440.4,255.6 L439.8,257.2 L439.9,258.8 L440.8,260.5 L442.4,262.4 L444.4,264.5 L446.8,266.8 L449.2,269.3 L451.6,272.0 L453.7,274.8 L455.5,277.7 L456.5,280.6 L456.8,283.4 L456.2,285.9 L454.7,288.0 L452.4,289.7 L449.4,290.9 L446.0,291.4 L442.4,291.4 L439.0,291.0 L435.7,290.1 L432.6,289.2 L429.8,288.3 L427.4,287.7 L425.3,287.6 L423.7,288.1 L422.5,289.3 L421.5,291.2 L420.7,293.8 L419.9,296.9 L419.1,300.2 L418.2,303.7 L417.1,307.0 L415.6,310.2 L413.8,312.9 L411.8,315.0 L409.5,316.3 L407.1,316.7 L404.6,316.2 L402.2,314.9 L399.8,312.8 L397.6,310.1 L395.7,307.1 L394.0,304.0 L392.7,301.0 L391.5,298.0 L390.4,295.5 L389.4,293.5 L388.2,292.2 L386.7,291.6 L384.8,291.6 L382.6,292.3 L380.0,293.4 L377.0,294.8 L373.8,296.3 L370.5,297.6 L367.3,298.7 L363.7,299.2 L360.3,299.0 L357.5,298.1 L355.3,296.7 L353.9,294.7 L353.3,292.3 L353.4,289.5 L354.1,286.5 L355.0,283.4 L356.1,280.1 L356.9,276.9 L357.5,273.1 L357.6,269.4 L357.2,266.3 L356.3,264.0 L355.0,262.3 L353.2,261.4 L351.2,261.1 L348.9,261.3 L346.6,261.7 L342.3,262.3 L337.9,262.7 L333.9,262.8 L330.7,262.7 L328.4,262.5 L327.7,262.5" stroke="#a2c783" stroke-width="0.85" fill="none" stroke-linejoin="round" stroke-linecap="round"/>
<g><path d="M375.9,252.3 L375.4,252.0 L374.7,251.6 L373.9,251.1 L373.1,250.6 L372.2,250.1 L371.3,249.5 L370.6,248.9 L370.0,248.2 L369.6,247.6 L369.3,246.8 L369.2,246.0 L369.1,245.1 L369.2,244.2 L369.3,243.3 L369.5,242.4 L369.8,241.6 L370.2,240.8 L370.6,240.2 L371.2,239.7 L371.9,239.3 L372.7,238.9 L373.7,238.6 L374.6,238.4 L375.6,238.2 L376.5,238.0 L377.3,237.8 L377.9,237.6 L379.1,237.2 L380.0,236.9 L380.6,236.7 L381.1,236.5" stroke="#34344e" stroke-width="0.7" fill="none"/>
<path d="M375.9,259.6 L375.4,259.8 L374.7,260.0 L374.0,260.3 L373.1,260.6 L372.2,260.9 L371.3,261.3 L370.4,261.7 L369.6,262.2 L369.0,262.7 L368.5,263.3 L368.2,264.0 L367.9,264.7 L367.8,265.6 L367.7,266.5 L367.6,267.5 L367.7,268.4 L367.8,269.3 L368.0,270.2 L368.2,271.0 L368.5,271.7 L368.9,272.4 L369.5,273.0 L370.1,273.5 L370.9,274.1 L371.7,274.5 L372.5,274.9 L373.3,275.3 L374.1,275.6 L374.8,275.9 L375.8,276.2 L376.8,276.3 L377.8,276.4 L378.8,276.4 L379.8,276.4 L380.5,276.4 L381.1,276.4" stroke="#34344e" stroke-width="0.7" fill="none"/>
<path d="M423.1,240.2 L423.6,240.4 L424.4,240.7 L425.2,241.0 L426.2,241.3 L427.1,241.7 L428.0,242.2 L428.8,242.7 L429.4,243.3 L429.8,244.0 L430.1,244.8 L430.4,245.6 L430.7,246.5 L430.8,247.4 L430.9,248.3 L430.9,249.2 L430.7,250.0 L430.4,250.7 L430.0,251.3 L429.4,251.8 L428.6,252.3 L427.8,252.8 L426.8,253.3 L425.9,253.7 L425.0,254.0 L424.2,254.4 L423.6,254.7 L423.1,254.9" stroke="#34344e" stroke-width="0.7" fill="none"/>
<path d="M425.2,260.7 L425.7,261.0 L426.3,261.3 L427.1,261.7 L428.0,262.2 L428.9,262.7 L429.7,263.3 L430.5,263.9 L431.1,264.6 L431.5,265.4 L431.7,266.1 L431.8,266.9 L431.9,267.8 L431.9,268.8 L431.8,269.7 L431.7,270.7 L431.5,271.7 L431.3,272.6 L431.1,273.5 L430.8,274.2 L430.4,274.9 L429.9,275.5 L429.2,276.0 L428.3,276.4 L427.4,276.6 L426.5,276.9 L425.6,277.1 L424.8,277.5 L424.1,278.0 L423.6,278.7 L423.1,279.5 L422.6,280.4 L422.2,281.3 L421.8,282.3 L421.5,283.1 L421.2,283.8 L421.0,284.3" stroke="#34344e" stroke-width="0.7" fill="none"/>
<path d="M392.6,227.6 L393.2,227.2 L394.0,226.5 L395.0,225.8 L395.9,225.4 L396.9,225.5 L397.3,225.9 L397.8,226.6 L398.2,227.4 L398.7,228.4 L399.2,229.3 L399.7,230.2 L400.1,231.0 L400.6,231.6 L401.1,231.8 L401.6,231.6 L402.1,231.1 L402.6,230.4 L403.1,229.4 L403.7,228.5 L404.2,227.6 L404.7,226.9 L405.2,226.6 L406.2,226.5 L407.1,227.0 L408.1,227.6 L408.9,228.2 L409.4,228.7" stroke="#34344e" stroke-width="0.7" fill="none"/>
<path d="M392.6,286.4 L393.1,286.8 L393.8,287.3 L394.6,288.0 L395.4,288.7 L396.3,289.2 L397.2,289.6 L397.9,289.6 L398.4,289.2 L398.9,288.6 L399.4,287.7 L399.9,286.8 L400.4,285.8 L400.8,284.8 L401.3,284.1 L401.7,283.5 L402.1,283.2 L402.6,283.5 L403.1,284.4 L403.5,285.6 L404.0,286.9 L404.4,287.9 L404.8,288.6 L405.2,288.5 L405.5,288.2 L405.7,287.7 L405.9,287.0 L406.2,286.2 L406.4,285.3 L406.7,284.3 L406.9,283.3 L407.1,282.3 L407.4,281.2 L407.6,280.2 L407.8,279.2 L408.0,278.3 L408.1,277.6 L408.3,276.9 L408.4,276.4" stroke="#34344e" stroke-width="0.7" fill="none"/>
<path d="M398.9,248.1 L399.4,248.4 L400.1,248.8 L400.9,249.2 L401.7,249.7 L402.5,250.2 L403.1,250.7 L403.9,251.4 L404.5,252.2 L404.9,252.9 L405.2,253.3" stroke="#34344e" stroke-width="0.7" fill="none"/>
<path d="M382.1,230.8 L381.6,231.2 L380.9,231.8 L380.0,232.5 L379.3,233.3 L379.0,233.9 L379.2,234.7 L379.9,235.4 L380.6,236.1 L381.1,236.5" stroke="#34344e" stroke-width="0.7" fill="none"/>
<path d="M382.1,230.8L392.6,227.6" stroke="#3c3d64" stroke-width="7.04" stroke-linecap="round" stroke-dasharray="0 2.42"/>
<path d="M382.1,230.8L392.6,227.6" stroke="#4e4f72" stroke-width="6.20" stroke-linecap="round" stroke-dasharray="0 2.42"/>
<path d="M382.1,230.8L392.6,227.6" stroke="#4b4c78" stroke-width="4.96" stroke-dasharray="0.47 1.94" stroke-dashoffset="-0.95" stroke-opacity="0.6"/>
<path d="M409.4,228.7L423.1,240.2" stroke="#3c3d64" stroke-width="7.04" stroke-linecap="round" stroke-dasharray="0 2.42"/>
<path d="M409.4,228.7L423.1,240.2" stroke="#7c7eb1" stroke-width="6.20" stroke-linecap="round" stroke-dasharray="0 2.42"/>
<path d="M409.4,228.7L423.1,240.2" stroke="#4b4c78" stroke-width="4.96" stroke-dasharray="0.47 1.94" stroke-dashoffset="-0.95" stroke-opacity="0.6"/>
<path d="M381.1,236.5L400.0,245.4" stroke="#3c3d64" stroke-width="7.04" stroke-linecap="round" stroke-dasharray="0 2.42"/>
<path d="M381.1,236.5L400.0,245.4" stroke="#7c7eb1" stroke-width="6.20" stroke-linecap="round" stroke-dasharray="0 2.42"/>
<path d="M381.1,236.5L400.0,245.4" stroke="#4b4c78" stroke-width="4.96" stroke-dasharray="0.47 1.94" stroke-dashoffset="-0.95" stroke-opacity="0.6"/>
<path d="M400.0,245.4L424.1,253.8" stroke="#3c3d64" stroke-width="7.04" stroke-linecap="round" stroke-dasharray="0 2.42"/>
<path d="M400.0,245.4L424.1,253.8" stroke="#7c7eb1" stroke-width="6.20" stroke-linecap="round" stroke-dasharray="0 2.42"/>
<path d="M400.0,245.4L424.1,253.8" stroke="#4b4c78" stroke-width="4.96" stroke-dasharray="0.47 1.94" stroke-dashoffset="-0.95" stroke-opacity="0.6"/>
<path d="M374.8,253.3L397.9,247.6" stroke="#3c3d64" stroke-width="7.04" stroke-linecap="round" stroke-dasharray="0 2.42"/>
<path d="M374.8,253.3L397.9,247.6" stroke="#7c7eb1" stroke-width="6.20" stroke-linecap="round" stroke-dasharray="0 2.42"/>
<path d="M374.8,253.3L397.9,247.6" stroke="#4b4c78" stroke-width="4.96" stroke-dasharray="0.47 1.94" stroke-dashoffset="-0.95" stroke-opacity="0.6"/>
<path d="M374.8,260.1L400.0,270.6" stroke="#3c3d64" stroke-width="7.04" stroke-linecap="round" stroke-dasharray="0 2.42"/>
<path d="M374.8,260.1L400.0,270.6" stroke="#7c7eb1" stroke-width="6.20" stroke-linecap="round" stroke-dasharray="0 2.42"/>
<path d="M374.8,260.1L400.0,270.6" stroke="#4b4c78" stroke-width="4.96" stroke-dasharray="0.47 1.94" stroke-dashoffset="-0.95" stroke-opacity="0.6"/>
<path d="M400.0,270.6L425.2,260.1" stroke="#3c3d64" stroke-width="7.04" stroke-linecap="round" stroke-dasharray="0 2.42"/>
<path d="M400.0,270.6L425.2,260.1" stroke="#7c7eb1" stroke-width="6.20" stroke-linecap="round" stroke-dasharray="0 2.42"/>
<path d="M400.0,270.6L425.2,260.1" stroke="#4b4c78" stroke-width="4.96" stroke-dasharray="0.47 1.94" stroke-dashoffset="-0.95" stroke-opacity="0.6"/>
<path d="M423.1,253.8L426.2,260.1" stroke="#3c3d64" stroke-width="7.04" stroke-linecap="round" stroke-dasharray="0 2.42"/>
<path d="M423.1,253.8L426.2,260.1" stroke="#7c7eb1" stroke-width="6.20" stroke-linecap="round" stroke-dasharray="0 2.42"/>
<path d="M423.1,253.8L426.2,260.1" stroke="#4b4c78" stroke-width="4.96" stroke-dasharray="0.47 1.94" stroke-dashoffset="-0.95" stroke-opacity="0.6"/>
<path d="M381.1,276.4L392.6,286.4" stroke="#3c3d64" stroke-width="7.04" stroke-linecap="round" stroke-dasharray="0 2.42"/>
<path d="M381.1,276.4L392.6,286.4" stroke="#7c7eb1" stroke-width="6.20" stroke-linecap="round" stroke-dasharray="0 2.42"/>
<path d="M381.1,276.4L392.6,286.4" stroke="#4b4c78" stroke-width="4.96" stroke-dasharray="0.47 1.94" stroke-dashoffset="-0.95" stroke-opacity="0.6"/>
<path d="M408.4,276.4L421.0,284.3" stroke="#3c3d64" stroke-width="7.04" stroke-linecap="round" stroke-dasharray="0 2.42"/>
<path d="M408.4,276.4L421.0,284.3" stroke="#7c7eb1" stroke-width="6.20" stroke-linecap="round" stroke-dasharray="0 2.42"/>
<path d="M408.4,276.4L421.0,284.3" stroke="#4b4c78" stroke-width="4.96" stroke-dasharray="0.47 1.94" stroke-dashoffset="-0.95" stroke-opacity="0.6"/></g>
<line x1="297" y1="257" x2="313" y2="257" stroke="#111" stroke-width="0.9"/><path d="M317,257 L312,254.8 L312,259.2Z" fill="#111"/>
<line x1="134" y1="369" x2="197" y2="497" stroke="#e8904f" stroke-width="0.9" stroke-dasharray="3.2 2.6"/><line x1="134" y1="540" x2="197" y2="563" stroke="#e8904f" stroke-width="0.9" stroke-dasharray="3.2 2.6"/><line x1="280" y1="371" x2="210" y2="488.5" stroke="#3bab78" stroke-width="0.9" stroke-dasharray="3.2 2.6"/><line x1="451" y1="453" x2="276" y2="488.5" stroke="#3bab78" stroke-width="0.9" stroke-dasharray="3.2 2.6"/><line x1="339" y1="537" x2="285" y2="497" stroke="#f2de2e" stroke-width="0.9" stroke-dasharray="3.2 2.6"/><line x1="339" y1="707.5" x2="285" y2="563" stroke="#f2de2e" stroke-width="0.9" stroke-dasharray="3.2 2.6"/><line x1="23.4" y1="627" x2="209.4" y2="576" stroke="#5e2a7a" stroke-width="0.9" stroke-dasharray="3.2 2.6"/><line x1="193.3" y1="708" x2="276" y2="576" stroke="#5e2a7a" stroke-width="0.9" stroke-dasharray="3.2 2.6"/>
<path d="M145.5,514.7L143.8,505.8M143.2,502.8L141.6,493.8M150.3,509.5L149.2,503.6M148.8,501.6L147.7,495.8M154.1,502.5L153.9,501.6M153.8,501.2L153.6,500.3M157.9,495.3L158.8,499.7M159.2,501.2L160.1,505.6M161.4,490.5L163.5,498.4M164.2,501.1L166.3,509.0M165.9,488.6L168.6,497.5M169.4,500.5L172.1,509.3M171.6,490.2L173.8,496.9M174.6,499.1L176.7,505.8M178.4,494.1L179.1,496.3M179.4,497.0L180.2,499.2M185.3,498.2L184.2,495.3M183.8,494.4L182.7,491.5M192.5,500.4L189.3,493.5M188.2,491.2L185.0,484.3M198.8,498.6L194.0,490.6M192.3,487.9L187.5,480.0M202.2,493.1L198.0,486.8M196.6,484.7L192.5,478.4M203.3,486.2L201.6,483.3M201.0,482.3L199.3,479.4M204.9,477.6L206.0,479.8M206.4,480.5L207.5,482.7M207.0,471.2L210.1,477.3M211.1,479.3L214.2,485.4M211.5,466.6L215.1,475.1M216.3,478.0L219.9,486.5M218.1,466.1L220.4,474.1M221.1,476.8L223.4,484.8M225.3,469.9L225.9,474.2M226.1,475.6L226.7,479.8M231.2,475.6L231.1,474.5M231.0,474.2L230.9,473.1M236.4,480.8L236.1,474.7M236.0,472.7L235.7,466.6M241.3,483.5L241.3,474.5M241.3,471.4L241.3,462.4M246.0,482.5L246.5,473.9M246.7,471.0L247.2,462.3M250.9,478.5L251.7,473.3M251.9,471.6L252.7,466.3M257.4,473.2L257.3,473.4M257.3,473.5L257.2,473.7M264.5,469.5L262.5,474.5M261.8,476.2L259.7,481.2M271.3,469.0L267.3,476.8M265.9,479.3L261.9,487.1M276.2,472.1L271.6,479.9M270.0,482.5L265.3,490.2M278.8,478.3L275.3,483.5M274.1,485.2L270.7,490.4M279.6,486.7L279.1,487.5M278.9,487.8L278.3,488.6M280.0,494.8L282.8,491.2M283.7,490.0L286.4,486.5M281.2,500.9L286.6,494.6M288.5,492.5L294.0,486.2M284.1,504.1L290.7,497.7M292.9,495.5L299.5,489.1M289.2,505.0L294.7,500.7M296.5,499.3L302.0,495.0M296.2,505.4L298.4,504.2M299.1,503.8L301.2,502.6M304.7,507.6L301.6,508.9M300.6,509.3L297.4,510.5M310.9,511.8L303.5,513.8M301.1,514.5L293.7,516.5M313.5,517.4L304.4,519.1M301.3,519.6L292.1,521.3M311.9,523.6L304.2,524.4M301.7,524.7L294.0,525.5M307.0,529.4L303.5,529.5M302.3,529.6L298.8,529.7M300.1,534.9L302.5,535.0M303.3,535.0L305.7,535.2M294.6,539.1L301.6,540.0M303.9,540.3L311.0,541.2M291.9,543.2L301.0,545.0M304.1,545.6L313.1,547.5M292.7,547.9L300.7,550.1M303.3,550.8L311.2,553.0M295.9,553.6L300.2,555.1M301.6,555.6L305.9,557.1M300.4,561.3L299.2,560.8M298.8,560.6L297.6,560.1M303.0,568.5L297.5,565.6M295.7,564.7L290.2,561.8M302.1,575.2L294.7,570.1M292.2,568.3L284.9,563.2M297.1,579.8L290.7,573.8M288.6,571.8L282.2,565.8M289.3,580.7L286.0,576.7M284.8,575.4L281.4,571.4M281.0,578.9L281.1,579.1M281.2,579.2L281.3,579.3M273.7,576.8L276.6,581.4M277.6,582.9L280.5,587.5M268.1,576.2L272.2,583.9M273.5,586.5L277.7,594.3M264.3,578.5L267.8,586.7M269.0,589.5L272.5,597.8M261.7,583.7L263.4,589.5M264.0,591.4L265.7,597.1M258.7,590.4L258.9,591.6M259.0,592.0L259.2,593.3M253.8,597.7L253.4,593.2M253.3,591.7L252.9,587.1M248.2,601.9L248.1,593.6M248.0,590.8L247.9,582.4M242.3,602.2L242.7,593.0M242.9,589.9L243.3,580.7M236.9,598.3L237.6,591.5M237.9,589.3L238.6,582.5M232.5,592.0L232.9,589.8M233.0,589.1L233.4,586.9M228.9,584.4L227.9,587.8M227.6,588.9L226.6,592.3M226.4,578.6L223.3,585.8M222.3,588.2L219.2,595.4M222.9,575.8L218.6,584.0M217.1,586.8L212.8,595.0M217.5,575.8L213.7,582.3M212.5,584.5L208.6,591.1M210.6,577.9L208.9,580.8M208.3,581.7L206.6,584.6M202.7,581.1L203.8,579.0M204.2,578.4L205.3,576.3M195.0,582.7L198.8,576.6M200.1,574.6L203.9,568.5M189.5,581.3L194.6,573.6M196.3,571.0L201.4,563.2M186.5,577.2L190.9,570.2M192.3,567.9L196.7,560.9M185.0,570.3L186.9,566.5M187.5,565.3L189.4,561.6M182.9,562.4L182.5,563.5M182.3,563.9L181.9,565.1M179.3,555.2L177.5,561.3M176.9,563.4L175.1,569.5M174.6,551.3L172.4,560.1M171.6,563.0L169.4,571.9M169.7,551.1L167.5,559.6M166.7,562.4L164.5,570.8M163.5,554.1L162.1,559.2M161.7,560.9L160.3,566.0M156.7,559.0L156.8,558.9M156.8,558.9L156.8,558.8M150.5,563.3L151.8,558.3M152.3,556.7L153.5,551.7" stroke="#4f6d3a" stroke-width="0.8" fill="none" stroke-opacity="1.0"/>
<path d="M143.6,517.7 L144.6,517.4 L145.8,516.7 L147.3,515.4 L148.9,513.4 L150.5,510.8 L152.1,507.5 L153.7,503.7 L155.3,499.8 L156.9,496.1 L158.4,492.8 L159.9,490.2 L161.3,488.3 L162.9,487.2 L164.8,486.6 L166.9,486.8 L169.3,487.7 L171.8,489.1 L174.6,491.0 L177.4,493.1 L180.4,495.3 L183.4,497.4 L186.3,499.2 L189.1,500.7 L191.8,501.7 L194.8,502.0 L197.6,501.5 L199.9,500.3 L201.5,498.6 L202.6,496.4 L203.2,493.8 L203.5,490.9 L203.7,487.7 L203.8,484.2 L204.2,480.5 L204.7,477.1 L205.1,474.0 L205.8,471.1 L206.8,468.6 L208.3,466.5 L210.2,465.0 L212.6,464.1 L215.3,463.9 L218.4,464.6 L221.6,466.2 L224.6,468.5 L226.8,470.7 L229.0,473.2 L231.2,475.9 L233.4,478.5 L235.5,481.0 L237.5,483.1 L239.5,484.6 L241.3,485.5 L243.1,485.6 L244.9,485.0 L246.8,483.7 L248.7,481.9 L250.7,479.7 L252.9,477.3 L255.3,474.9 L258.1,472.5 L261.1,470.4 L264.2,468.7 L267.3,467.6 L270.2,467.2 L272.8,467.4 L275.1,468.3 L276.9,469.9 L278.2,472.1 L279.1,474.8 L279.6,478.0 L279.8,481.3 L279.8,484.8 L279.7,488.3 L279.5,492.1 L279.4,495.6 L279.4,498.7 L279.7,501.2 L280.3,503.2 L281.2,504.7 L282.6,505.5 L284.4,505.9 L286.7,506.0 L289.4,505.9 L292.4,505.7 L295.8,505.7 L299.3,506.0 L302.8,506.6 L306.2,507.7 L309.4,509.1 L312.0,510.8 L314.0,512.9 L315.2,515.2 L315.6,517.6 L315.2,520.2 L314.0,522.7 L312.2,525.2 L309.8,527.6 L307.1,529.9 L304.2,532.0 L301.1,534.0 L298.1,535.7 L295.3,537.3 L293.0,538.9 L291.3,540.4 L290.2,542.0 L289.8,543.6 L290.1,545.4 L291.0,547.4 L292.3,549.6 L294.0,552.0 L296.0,554.6 L298.2,557.6 L300.2,560.6 L302.1,563.7 L303.5,566.9 L304.3,570.0 L304.5,573.0 L304.0,575.7 L302.7,578.2 L300.6,580.1 L297.8,581.4 L294.5,582.0 L291.6,581.8 L288.5,581.3 L285.2,580.4 L281.8,579.2 L278.5,577.9 L275.3,576.7 L272.4,575.6 L269.8,574.8 L267.6,574.5 L265.8,574.7 L264.4,575.6 L263.3,577.1 L262.4,579.1 L261.5,581.7 L260.6,584.7 L259.6,587.7 L258.3,590.9 L256.7,594.2 L254.9,597.3 L252.8,600.0 L250.6,602.3 L248.2,603.8 L245.8,604.6 L243.4,604.5 L241.0,603.7 L238.8,602.1 L236.7,599.8 L234.8,597.1 L233.2,594.1 L231.7,590.9 L230.5,587.8 L229.3,584.4 L228.5,581.3 L227.7,578.7 L226.8,576.5 L225.7,575.0 L224.3,574.1 L222.5,573.7 L220.3,573.9 L217.7,574.6 L214.8,575.6 L211.8,576.9 L208.6,578.3 L205.5,579.9 L202.5,581.5 L199.0,582.9 L195.7,583.8 L192.8,584.1 L190.3,583.9 L188.4,583.0 L186.9,581.7 L185.9,579.8 L185.3,577.5 L184.9,574.9 L184.6,571.9 L184.3,568.6 L183.7,565.0 L182.8,561.2 L181.5,557.6 L180.1,554.5 L178.4,552.0 L176.5,550.2 L174.6,549.1 L172.6,548.7 L170.7,549.1 L168.7,549.9 L166.2,551.4 L163.0,553.6 L159.8,556.3 L156.7,559.0 L153.9,561.6 L151.4,563.6 L149.3,565.1 L147.6,566.0 L147.3,566.2" stroke="#64804f" stroke-width="1.6" fill="none" stroke-linejoin="round" stroke-linecap="round"/>
<path d="M138.4,492.5 L139.7,492.0 L141.2,491.8 L143.0,492.1 L145.1,492.9 L147.4,494.5 L150.0,496.6 L152.9,499.3 L155.8,502.3 L158.8,505.2 L161.8,507.8 L164.7,509.8 L167.4,511.0 L169.9,511.6 L172.1,511.5 L174.2,510.6 L176.0,509.0 L177.6,506.7 L178.9,503.8 L180.1,500.6 L181.1,497.0 L181.9,493.5 L182.6,490.0 L183.3,486.9 L184.0,484.1 L184.6,481.5 L185.4,479.5 L186.4,478.2 L187.9,477.4 L189.8,477.0 L192.2,477.1 L195.0,477.6 L198.1,478.4 L201.4,479.8 L204.8,481.5 L207.8,483.2 L210.7,484.8 L213.6,486.1 L216.1,487.2 L218.4,488.0 L220.3,488.4 L221.8,488.3 L223.1,487.5 L224.2,486.1 L225.3,484.0 L226.6,481.3 L227.9,478.8 L229.3,475.9 L230.9,472.8 L232.6,469.7 L234.6,466.6 L236.6,464.0 L238.9,461.8 L241.3,460.4 L243.7,459.7 L246.2,459.9 L248.6,461.0 L250.8,462.8 L252.9,465.2 L254.7,468.0 L256.2,471.2 L257.4,474.6 L258.4,478.2 L259.1,481.5 L259.7,484.6 L260.4,487.2 L261.3,489.3 L262.4,490.8 L263.9,491.8 L265.7,492.1 L268.0,492.0 L270.6,491.4 L273.5,490.5 L276.6,489.3 L279.8,488.1 L283.5,486.8 L287.0,485.7 L290.5,484.9 L293.7,484.7 L296.6,485.0 L299.0,486.0 L300.9,487.6 L302.3,489.8 L303.0,492.6 L303.2,495.7 L302.7,499.0 L301.6,502.3 L300.1,505.6 L298.3,508.6 L296.2,511.5 L294.2,514.1 L292.5,516.4 L291.1,518.5 L290.3,520.4 L290.1,522.1 L290.7,523.8 L291.9,525.3 L293.7,526.9 L296.1,528.5 L298.7,530.2 L301.7,532.0 L304.7,534.1 L307.7,536.4 L310.3,538.8 L312.5,541.4 L314.1,544.0 L315.0,546.6 L315.1,549.1 L314.4,551.4 L313.0,553.5 L310.9,555.3 L308.3,556.8 L305.3,558.0 L301.8,559.0 L298.2,559.8 L294.7,560.4 L291.3,560.8 L288.3,561.2 L285.7,561.5 L283.7,561.9 L282.2,562.5 L281.2,563.4 L280.7,564.9 L280.6,567.0 L280.6,569.2 L280.8,571.9 L281.0,575.0 L281.3,578.4 L281.4,582.1 L281.3,585.8 L281.0,589.4 L280.2,592.6 L279.0,595.4 L277.3,597.6 L275.1,599.0 L272.6,599.7 L269.8,599.6 L266.8,598.7 L263.9,597.2 L261.2,595.3 L258.6,592.9 L256.2,590.2 L253.9,587.5 L251.7,584.8 L249.8,582.5 L247.9,580.6 L246.1,579.3 L244.3,578.7 L242.5,578.8 L240.7,579.6 L238.7,581.0 L236.7,583.0 L234.6,585.2 L232.3,587.6 L230.0,590.0 L227.1,592.5 L224.0,594.7 L220.8,596.3 L217.8,597.2 L214.9,597.5 L212.4,597.1 L210.3,595.9 L208.7,594.2 L207.6,591.9 L206.8,589.2 L206.3,586.1 L206.0,582.8 L205.8,579.4 L205.5,575.9 L205.3,572.1 L205.0,568.7 L204.5,565.8 L203.7,563.4 L202.6,561.5 L200.9,560.2 L198.9,559.5 L196.4,559.3 L193.6,559.6 L190.6,560.5 L187.5,561.8 L184.2,563.7 L181.0,565.9 L178.1,568.2 L175.4,570.4 L172.9,572.1 L170.5,573.3 L168.4,573.9 L166.4,573.8 L164.5,573.0 L162.7,571.6 L161.1,569.5 L159.6,566.3 L158.1,562.7 L156.8,558.8 L155.5,555.1 L154.4,552.0 L153.3,549.4 L152.5,547.6 L152.3,547.3" stroke="#64804f" stroke-width="1.6" fill="none" stroke-linejoin="round" stroke-linecap="round"/>
<path d="M143.6,517.7 L144.6,517.4 L145.8,516.7 L147.3,515.4 L148.9,513.4 L150.5,510.8 L152.1,507.5 L153.7,503.7 L155.3,499.8 L156.9,496.1 L158.4,492.8 L159.9,490.2 L161.3,488.3 L162.9,487.2 L164.8,486.6 L166.9,486.8 L169.3,487.7 L171.8,489.1 L174.6,491.0 L177.4,493.1 L180.4,495.3 L183.4,497.4 L186.3,499.2 L189.1,500.7 L191.8,501.7 L194.8,502.0 L197.6,501.5 L199.9,500.3 L201.5,498.6 L202.6,496.4 L203.2,493.8 L203.5,490.9 L203.7,487.7 L203.8,484.2 L204.2,480.5 L204.7,477.1 L205.1,474.0 L205.8,471.1 L206.8,468.6 L208.3,466.5 L210.2,465.0 L212.6,464.1 L215.3,463.9 L218.4,464.6 L221.6,466.2 L224.6,468.5 L226.8,470.7 L229.0,473.2 L231.2,475.9 L233.4,478.5 L235.5,481.0 L237.5,483.1 L239.5,484.6 L241.3,485.5 L243.1,485.6 L244.9,485.0 L246.8,483.7 L248.7,481.9 L250.7,479.7 L252.9,477.3 L255.3,474.9 L258.1,472.5 L261.1,470.4 L264.2,468.7 L267.3,467.6 L270.2,467.2 L272.8,467.4 L275.1,468.3 L276.9,469.9 L278.2,472.1 L279.1,474.8 L279.6,478.0 L279.8,481.3 L279.8,484.8 L279.7,488.3 L279.5,492.1 L279.4,495.6 L279.4,498.7 L279.7,501.2 L280.3,503.2 L281.2,504.7 L282.6,505.5 L284.4,505.9 L286.7,506.0 L289.4,505.9 L292.4,505.7 L295.8,505.7 L299.3,506.0 L302.8,506.6 L306.2,507.7 L309.4,509.1 L312.0,510.8 L314.0,512.9 L315.2,515.2 L315.6,517.6 L315.2,520.2 L314.0,522.7 L312.2,525.2 L309.8,527.6 L307.1,529.9 L304.2,532.0 L301.1,534.0 L298.1,535.7 L295.3,537.3 L293.0,538.9 L291.3,540.4 L290.2,542.0 L289.8,543.6 L290.1,545.4 L291.0,547.4 L292.3,549.6 L294.0,552.0 L296.0,554.6 L298.2,557.6 L300.2,560.6 L302.1,563.7 L303.5,566.9 L304.3,570.0 L304.5,573.0 L304.0,575.7 L302.7,578.2 L300.6,580.1 L297.8,581.4 L294.5,582.0 L291.6,581.8 L288.5,581.3 L285.2,580.4 L281.8,579.2 L278.5,577.9 L275.3,576.7 L272.4,575.6 L269.8,574.8 L267.6,574.5 L265.8,574.7 L264.4,575.6 L263.3,577.1 L262.4,579.1 L261.5,581.7 L260.6,584.7 L259.6,587.7 L258.3,590.9 L256.7,594.2 L254.9,597.3 L252.8,600.0 L250.6,602.3 L248.2,603.8 L245.8,604.6 L243.4,604.5 L241.0,603.7 L238.8,602.1 L236.7,599.8 L234.8,597.1 L233.2,594.1 L231.7,590.9 L230.5,587.8 L229.3,584.4 L228.5,581.3 L227.7,578.7 L226.8,576.5 L225.7,575.0 L224.3,574.1 L222.5,573.7 L220.3,573.9 L217.7,574.6 L214.8,575.6 L211.8,576.9 L208.6,578.3 L205.5,579.9 L202.5,581.5 L199.0,582.9 L195.7,583.8 L192.8,584.1 L190.3,583.9 L188.4,583.0 L186.9,581.7 L185.9,579.8 L185.3,577.5 L184.9,574.9 L184.6,571.9 L184.3,568.6 L183.7,565.0 L182.8,561.2 L181.5,557.6 L180.1,554.5 L178.4,552.0 L176.5,550.2 L174.6,549.1 L172.6,548.7 L170.7,549.1 L168.7,549.9 L166.2,551.4 L163.0,553.6 L159.8,556.3 L156.7,559.0 L153.9,561.6 L151.4,563.6 L149.3,565.1 L147.6,566.0 L147.3,566.2" stroke="#b2d197" stroke-width="0.8" fill="none" stroke-linejoin="round" stroke-linecap="round"/>
<path d="M138.4,492.5 L139.7,492.0 L141.2,491.8 L143.0,492.1 L145.1,492.9 L147.4,494.5 L150.0,496.6 L152.9,499.3 L155.8,502.3 L158.8,505.2 L161.8,507.8 L164.7,509.8 L167.4,511.0 L169.9,511.6 L172.1,511.5 L174.2,510.6 L176.0,509.0 L177.6,506.7 L178.9,503.8 L180.1,500.6 L181.1,497.0 L181.9,493.5 L182.6,490.0 L183.3,486.9 L184.0,484.1 L184.6,481.5 L185.4,479.5 L186.4,478.2 L187.9,477.4 L189.8,477.0 L192.2,477.1 L195.0,477.6 L198.1,478.4 L201.4,479.8 L204.8,481.5 L207.8,483.2 L210.7,484.8 L213.6,486.1 L216.1,487.2 L218.4,488.0 L220.3,488.4 L221.8,488.3 L223.1,487.5 L224.2,486.1 L225.3,484.0 L226.6,481.3 L227.9,478.8 L229.3,475.9 L230.9,472.8 L232.6,469.7 L234.6,466.6 L236.6,464.0 L238.9,461.8 L241.3,460.4 L243.7,459.7 L246.2,459.9 L248.6,461.0 L250.8,462.8 L252.9,465.2 L254.7,468.0 L256.2,471.2 L257.4,474.6 L258.4,478.2 L259.1,481.5 L259.7,484.6 L260.4,487.2 L261.3,489.3 L262.4,490.8 L263.9,491.8 L265.7,492.1 L268.0,492.0 L270.6,491.4 L273.5,490.5 L276.6,489.3 L279.8,488.1 L283.5,486.8 L287.0,485.7 L290.5,484.9 L293.7,484.7 L296.6,485.0 L299.0,486.0 L300.9,487.6 L302.3,489.8 L303.0,492.6 L303.2,495.7 L302.7,499.0 L301.6,502.3 L300.1,505.6 L298.3,508.6 L296.2,511.5 L294.2,514.1 L292.5,516.4 L291.1,518.5 L290.3,520.4 L290.1,522.1 L290.7,523.8 L291.9,525.3 L293.7,526.9 L296.1,528.5 L298.7,530.2 L301.7,532.0 L304.7,534.1 L307.7,536.4 L310.3,538.8 L312.5,541.4 L314.1,544.0 L315.0,546.6 L315.1,549.1 L314.4,551.4 L313.0,553.5 L310.9,555.3 L308.3,556.8 L305.3,558.0 L301.8,559.0 L298.2,559.8 L294.7,560.4 L291.3,560.8 L288.3,561.2 L285.7,561.5 L283.7,561.9 L282.2,562.5 L281.2,563.4 L280.7,564.9 L280.6,567.0 L280.6,569.2 L280.8,571.9 L281.0,575.0 L281.3,578.4 L281.4,582.1 L281.3,585.8 L281.0,589.4 L280.2,592.6 L279.0,595.4 L277.3,597.6 L275.1,599.0 L272.6,599.7 L269.8,599.6 L266.8,598.7 L263.9,597.2 L261.2,595.3 L258.6,592.9 L256.2,590.2 L253.9,587.5 L251.7,584.8 L249.8,582.5 L247.9,580.6 L246.1,579.3 L244.3,578.7 L242.5,578.8 L240.7,579.6 L238.7,581.0 L236.7,583.0 L234.6,585.2 L232.3,587.6 L230.0,590.0 L227.1,592.5 L224.0,594.7 L220.8,596.3 L217.8,597.2 L214.9,597.5 L212.4,597.1 L210.3,595.9 L208.7,594.2 L207.6,591.9 L206.8,589.2 L206.3,586.1 L206.0,582.8 L205.8,579.4 L205.5,575.9 L205.3,572.1 L205.0,568.7 L204.5,565.8 L203.7,563.4 L202.6,561.5 L200.9,560.2 L198.9,559.5 L196.4,559.3 L193.6,559.6 L190.6,560.5 L187.5,561.8 L184.2,563.7 L181.0,565.9 L178.1,568.2 L175.4,570.4 L172.9,572.1 L170.5,573.3 L168.4,573.9 L166.4,573.8 L164.5,573.0 L162.7,571.6 L161.1,569.5 L159.6,566.3 L158.1,562.7 L156.8,558.8 L155.5,555.1 L154.4,552.0 L153.3,549.4 L152.5,547.6 L152.3,547.3" stroke="#b2d197" stroke-width="0.8" fill="none" stroke-linejoin="round" stroke-linecap="round"/>
<g><path d="M216.4,529.6 L216.0,529.3 L215.4,529.0 L214.7,528.6 L214.0,528.2 L213.1,527.7 L212.3,527.2 L211.5,526.6 L210.8,526.0 L210.1,525.4 L209.6,524.8 L209.2,524.2 L208.9,523.5 L208.8,522.6 L208.7,521.7 L208.7,520.8 L208.8,519.9 L209.0,518.9 L209.2,518.0 L209.6,517.2 L210.0,516.4 L210.4,515.8 L210.9,515.3 L211.6,514.9 L212.3,514.5 L213.1,514.2 L214.0,514.0 L214.9,513.7 L215.8,513.5 L216.7,513.3 L217.5,513.2 L218.2,513.0 L218.8,512.8 L220.1,512.3 L221.1,512.0 L221.9,511.8 L222.4,511.6" stroke="#34344e" stroke-width="0.7" fill="none"/>
<path d="M216.4,538.0 L215.9,538.2 L215.3,538.4 L214.5,538.7 L213.6,539.0 L212.7,539.3 L211.7,539.7 L210.8,540.1 L209.9,540.6 L209.1,541.1 L208.5,541.6 L208.0,542.2 L207.7,542.9 L207.4,543.7 L207.2,544.6 L207.1,545.5 L207.0,546.5 L207.0,547.5 L207.1,548.4 L207.3,549.4 L207.4,550.3 L207.7,551.1 L208.0,551.8 L208.4,552.5 L209.0,553.1 L209.6,553.7 L210.4,554.3 L211.2,554.8 L212.0,555.2 L212.8,555.6 L213.6,556.0 L214.4,556.3 L215.2,556.6 L216.0,556.9 L216.9,557.0 L217.9,557.1 L218.8,557.2 L219.7,557.2 L220.5,557.2 L221.3,557.2 L221.9,557.2 L222.4,557.2" stroke="#34344e" stroke-width="0.7" fill="none"/>
<path d="M270.4,515.8 L270.9,516.0 L271.5,516.2 L272.2,516.5 L273.0,516.8 L273.9,517.1 L274.8,517.4 L275.7,517.9 L276.4,518.3 L277.1,518.8 L277.6,519.4 L278.0,520.1 L278.4,520.8 L278.7,521.7 L279.0,522.6 L279.2,523.5 L279.3,524.5 L279.3,525.4 L279.3,526.3 L279.1,527.1 L278.8,527.8 L278.4,528.3 L277.9,528.9 L277.2,529.4 L276.4,529.8 L275.6,530.3 L274.7,530.7 L273.8,531.1 L272.9,531.5 L272.1,531.8 L271.4,532.1 L270.8,532.4 L270.4,532.6" stroke="#34344e" stroke-width="0.7" fill="none"/>
<path d="M272.8,539.2 L273.2,539.5 L273.8,539.8 L274.5,540.1 L275.2,540.5 L276.1,541.0 L276.9,541.5 L277.7,542.0 L278.4,542.6 L279.1,543.2 L279.6,543.9 L280.0,544.6 L280.2,545.3 L280.3,546.0 L280.4,546.9 L280.4,547.8 L280.4,548.7 L280.4,549.6 L280.2,550.6 L280.1,551.5 L279.9,552.4 L279.7,553.3 L279.4,554.1 L279.1,554.8 L278.8,555.4 L278.3,556.0 L277.7,556.5 L277.0,556.9 L276.2,557.2 L275.4,557.4 L274.5,557.6 L273.7,557.9 L272.9,558.2 L272.2,558.5 L271.6,559.0 L271.1,559.6 L270.6,560.3 L270.1,561.1 L269.7,562.0 L269.4,562.8 L269.0,563.7 L268.7,564.5 L268.4,565.2 L268.2,565.8 L268.0,566.2" stroke="#34344e" stroke-width="0.7" fill="none"/>
<path d="M235.6,501.4 L236.1,501.0 L236.8,500.4 L237.7,499.7 L238.6,499.2 L239.5,498.9 L240.4,499.0 L240.9,499.4 L241.4,500.0 L241.8,500.9 L242.3,501.8 L242.8,502.8 L243.3,503.8 L243.8,504.7 L244.2,505.5 L244.7,506.0 L245.2,506.2 L245.7,506.1 L246.3,505.6 L246.8,504.9 L247.3,504.0 L247.9,503.0 L248.4,502.1 L248.9,501.2 L249.5,500.6 L250.0,500.2 L250.9,500.1 L251.8,500.5 L252.7,501.0 L253.6,501.7 L254.3,502.2 L254.8,502.6" stroke="#34344e" stroke-width="0.7" fill="none"/>
<path d="M235.6,568.6 L236.1,569.0 L236.7,569.5 L237.5,570.2 L238.3,570.9 L239.2,571.5 L240.0,572.0 L240.9,572.2 L241.6,572.2 L242.1,571.9 L242.7,571.2 L243.2,570.4 L243.7,569.5 L244.2,568.5 L244.6,567.4 L245.1,566.5 L245.5,565.8 L246.0,565.2 L246.4,565.0 L246.9,565.3 L247.4,566.0 L247.8,567.2 L248.3,568.4 L248.7,569.6 L249.1,570.6 L249.6,571.1 L250.0,571.0 L250.2,570.7 L250.4,570.2 L250.7,569.6 L250.9,568.8 L251.2,568.0 L251.4,567.0 L251.7,566.0 L251.9,565.0 L252.1,563.9 L252.4,562.9 L252.6,561.8 L252.8,560.9 L253.0,559.9 L253.2,559.1 L253.3,558.3 L253.5,557.7 L253.6,557.2" stroke="#34344e" stroke-width="0.7" fill="none"/>
<path d="M242.8,524.8 L243.3,525.1 L243.9,525.4 L244.6,525.9 L245.5,526.4 L246.3,526.9 L247.0,527.3 L247.6,527.8 L248.4,528.6 L249.1,529.5 L249.6,530.3 L250.0,530.8" stroke="#34344e" stroke-width="0.7" fill="none"/>
<path d="M223.6,505.0 L223.1,505.4 L222.4,506.0 L221.6,506.6 L220.9,507.3 L220.3,508.0 L220.0,508.6 L220.2,509.5 L221.0,510.3 L221.8,511.1 L222.4,511.6" stroke="#34344e" stroke-width="0.7" fill="none"/>
<path d="M223.6,505.0L235.6,501.4" stroke="#3c3d64" stroke-width="8.04" stroke-linecap="round" stroke-dasharray="0 2.76"/>
<path d="M223.6,505.0L235.6,501.4" stroke="#4e4f72" stroke-width="7.08" stroke-linecap="round" stroke-dasharray="0 2.76"/>
<path d="M223.6,505.0L235.6,501.4" stroke="#4b4c78" stroke-width="5.66" stroke-dasharray="0.54 2.22" stroke-dashoffset="-1.08" stroke-opacity="0.6"/>
<path d="M254.8,502.6L270.4,515.8" stroke="#3c3d64" stroke-width="8.04" stroke-linecap="round" stroke-dasharray="0 2.76"/>
<path d="M254.8,502.6L270.4,515.8" stroke="#7c7eb1" stroke-width="7.08" stroke-linecap="round" stroke-dasharray="0 2.76"/>
<path d="M254.8,502.6L270.4,515.8" stroke="#4b4c78" stroke-width="5.66" stroke-dasharray="0.54 2.22" stroke-dashoffset="-1.08" stroke-opacity="0.6"/>
<path d="M222.4,511.6L244.0,521.8" stroke="#3c3d64" stroke-width="8.04" stroke-linecap="round" stroke-dasharray="0 2.76"/>
<path d="M222.4,511.6L244.0,521.8" stroke="#7c7eb1" stroke-width="7.08" stroke-linecap="round" stroke-dasharray="0 2.76"/>
<path d="M222.4,511.6L244.0,521.8" stroke="#4b4c78" stroke-width="5.66" stroke-dasharray="0.54 2.22" stroke-dashoffset="-1.08" stroke-opacity="0.6"/>
<path d="M244.0,521.8L271.6,531.4" stroke="#3c3d64" stroke-width="8.04" stroke-linecap="round" stroke-dasharray="0 2.76"/>
<path d="M244.0,521.8L271.6,531.4" stroke="#7c7eb1" stroke-width="7.08" stroke-linecap="round" stroke-dasharray="0 2.76"/>
<path d="M244.0,521.8L271.6,531.4" stroke="#4b4c78" stroke-width="5.66" stroke-dasharray="0.54 2.22" stroke-dashoffset="-1.08" stroke-opacity="0.6"/>
<path d="M215.2,530.8L241.6,524.2" stroke="#3c3d64" stroke-width="8.04" stroke-linecap="round" stroke-dasharray="0 2.76"/>
<path d="M215.2,530.8L241.6,524.2" stroke="#7c7eb1" stroke-width="7.08" stroke-linecap="round" stroke-dasharray="0 2.76"/>
<path d="M215.2,530.8L241.6,524.2" stroke="#4b4c78" stroke-width="5.66" stroke-dasharray="0.54 2.22" stroke-dashoffset="-1.08" stroke-opacity="0.6"/>
<path d="M215.2,538.6L244.0,550.6" stroke="#3c3d64" stroke-width="8.04" stroke-linecap="round" stroke-dasharray="0 2.76"/>
<path d="M215.2,538.6L244.0,550.6" stroke="#7c7eb1" stroke-width="7.08" stroke-linecap="round" stroke-dasharray="0 2.76"/>
<path d="M215.2,538.6L244.0,550.6" stroke="#4b4c78" stroke-width="5.66" stroke-dasharray="0.54 2.22" stroke-dashoffset="-1.08" stroke-opacity="0.6"/>
<path d="M244.0,550.6L272.8,538.6" stroke="#3c3d64" stroke-width="8.04" stroke-linecap="round" stroke-dasharray="0 2.76"/>
<path d="M244.0,550.6L272.8,538.6" stroke="#7c7eb1" stroke-width="7.08" stroke-linecap="round" stroke-dasharray="0 2.76"/>
<path d="M244.0,550.6L272.8,538.6" stroke="#4b4c78" stroke-width="5.66" stroke-dasharray="0.54 2.22" stroke-dashoffset="-1.08" stroke-opacity="0.6"/>
<path d="M270.4,531.4L274.0,538.6" stroke="#3c3d64" stroke-width="8.04" stroke-linecap="round" stroke-dasharray="0 2.76"/>
<path d="M270.4,531.4L274.0,538.6" stroke="#7c7eb1" stroke-width="7.08" stroke-linecap="round" stroke-dasharray="0 2.76"/>
<path d="M270.4,531.4L274.0,538.6" stroke="#4b4c78" stroke-width="5.66" stroke-dasharray="0.54 2.22" stroke-dashoffset="-1.08" stroke-opacity="0.6"/>
<path d="M222.4,557.2L235.6,568.6" stroke="#3c3d64" stroke-width="8.04" stroke-linecap="round" stroke-dasharray="0 2.76"/>
<path d="M222.4,557.2L235.6,568.6" stroke="#7c7eb1" stroke-width="7.08" stroke-linecap="round" stroke-dasharray="0 2.76"/>
<path d="M222.4,557.2L235.6,568.6" stroke="#4b4c78" stroke-width="5.66" stroke-dasharray="0.54 2.22" stroke-dashoffset="-1.08" stroke-opacity="0.6"/>
<path d="M253.6,557.2L268.0,566.2" stroke="#3c3d64" stroke-width="8.04" stroke-linecap="round" stroke-dasharray="0 2.76"/>
<path d="M253.6,557.2L268.0,566.2" stroke="#7c7eb1" stroke-width="7.08" stroke-linecap="round" stroke-dasharray="0 2.76"/>
<path d="M253.6,557.2L268.0,566.2" stroke="#4b4c78" stroke-width="5.66" stroke-dasharray="0.54 2.22" stroke-dashoffset="-1.08" stroke-opacity="0.6"/></g>
<rect x="210.3" y="488.5" width="65.7" height="30.7" fill="none" stroke="#3bab78" stroke-width="0.9"/><rect x="197.2" y="496.7" width="35" height="66.6" fill="none" stroke="#e8904f" stroke-width="0.9"/><rect x="250.3" y="496.7" width="34.4" height="66.6" fill="none" stroke="#f2de2e" stroke-width="0.9"/><rect x="209.4" y="547.2" width="66.6" height="28.9" fill="none" stroke="#5e2a7a" stroke-width="0.9"/>
<clipPath id="ca1"><rect x="22.9" y="368.6" width="111.0" height="171.10000000000002"/></clipPath><g clip-path="url(#ca1)"><path d="M44.5,381.0 L62.0,403.5" fill="none" stroke="#5a7448" stroke-width="2.80" stroke-linecap="round" stroke-linejoin="round"/><path d="M44.5,381.0 L62.0,403.5" fill="none" stroke="#aed08f" stroke-width="1.70" stroke-linecap="round" stroke-linejoin="round"/><path d="M56.8,371.0 L79.6,393.0" fill="none" stroke="#5a7448" stroke-width="2.80" stroke-linecap="round" stroke-linejoin="round"/><path d="M56.8,371.0 L79.6,393.0" fill="none" stroke="#aed08f" stroke-width="1.70" stroke-linecap="round" stroke-linejoin="round"/><path d="M72.6,368.0 L84.8,380.8" fill="none" stroke="#5a7448" stroke-width="2.80" stroke-linecap="round" stroke-linejoin="round"/><path d="M72.6,368.0 L84.8,380.8" fill="none" stroke="#aed08f" stroke-width="1.70" stroke-linecap="round" stroke-linejoin="round"/><path d="M30.0,369.0 L38.0,377.0" fill="none" stroke="#5a7448" stroke-width="2.80" stroke-linecap="round" stroke-linejoin="round"/><path d="M30.0,369.0 L38.0,377.0" fill="none" stroke="#aed08f" stroke-width="1.70" stroke-linecap="round" stroke-linejoin="round"/><path d="M21.0,383.0 L22.0,383.8 L23.2,384.8 L24.7,386.0 L26.3,387.4 L28.1,388.8 L30.0,390.3 L31.8,391.8 L33.7,393.3 L35.4,394.7 L37.0,396.0 L38.7,397.4 L40.4,398.9 L42.0,400.4 L43.7,401.8 L45.3,403.2 L46.9,404.4 L48.5,405.6 L50.2,406.6 L52.0,407.4 L54.0,408.2 L56.0,408.8 L58.0,409.3 L60.0,409.6 L62.0,409.7 L64.0,409.7 L66.0,409.5 L68.0,409.1 L70.0,408.6 L72.0,407.8 L74.0,406.9 L75.9,405.9 L77.6,404.8 L79.3,403.6 L80.8,402.3 L82.1,400.8 L83.4,399.2 L84.5,397.5 L85.5,395.7 L86.4,393.9 L87.2,392.0 L87.8,390.1 L88.2,388.1 L88.5,386.0 L88.7,383.9 L88.9,381.8 L88.9,379.7 L89.0,377.8 L89.0,376.0 L88.9,373.5 L88.7,371.2 L88.4,369.0 L88.2,367.3 L88.0,366.0 L88.0,366.0" fill="none" stroke="#5a7448" stroke-width="5.40" stroke-linecap="round" stroke-linejoin="round"/><path d="M21.0,383.0 L22.0,383.8 L23.2,384.8 L24.7,386.0 L26.3,387.4 L28.1,388.8 L30.0,390.3 L31.8,391.8 L33.7,393.3 L35.4,394.7 L37.0,396.0 L38.7,397.4 L40.4,398.9 L42.0,400.4 L43.7,401.8 L45.3,403.2 L46.9,404.4 L48.5,405.6 L50.2,406.6 L52.0,407.4 L54.0,408.2 L56.0,408.8 L58.0,409.3 L60.0,409.6 L62.0,409.7 L64.0,409.7 L66.0,409.5 L68.0,409.1 L70.0,408.6 L72.0,407.8 L74.0,406.9 L75.9,405.9 L77.6,404.8 L79.3,403.6 L80.8,402.3 L82.1,400.8 L83.4,399.2 L84.5,397.5 L85.5,395.7 L86.4,393.9 L87.2,392.0 L87.8,390.1 L88.2,388.1 L88.5,386.0 L88.7,383.9 L88.9,381.8 L88.9,379.7 L89.0,377.8 L89.0,376.0 L88.9,373.5 L88.7,371.2 L88.4,369.0 L88.2,367.3 L88.0,366.0 L88.0,366.0" fill="none" stroke="#aed08f" stroke-width="3.60" stroke-linecap="round" stroke-linejoin="round"/><path d="M21.0,396.0 L21.5,394.8 L22.1,393.3 L22.8,391.4 L23.6,389.4 L24.5,387.2 L25.4,385.0 L26.2,382.9 L27.0,381.0 L27.8,379.0 L28.8,376.8 L29.7,374.7 L30.6,372.5 L31.4,370.6 L32.2,368.9 L32.8,367.5 L33.0,367.0" fill="none" stroke="#5a7448" stroke-width="5.40" stroke-linecap="round" stroke-linejoin="round"/><path d="M21.0,396.0 L21.5,394.8 L22.1,393.3 L22.8,391.4 L23.6,389.4 L24.5,387.2 L25.4,385.0 L26.2,382.9 L27.0,381.0 L27.8,379.0 L28.8,376.8 L29.7,374.7 L30.6,372.5 L31.4,370.6 L32.2,368.9 L32.8,367.5 L33.0,367.0" fill="none" stroke="#aed08f" stroke-width="3.60" stroke-linecap="round" stroke-linejoin="round"/><path d="M62.0,540.0 L70.0,531.0" fill="none" stroke="#5a7448" stroke-width="2.80" stroke-linecap="round" stroke-linejoin="round"/><path d="M62.0,540.0 L70.0,531.0" fill="none" stroke="#aed08f" stroke-width="1.70" stroke-linecap="round" stroke-linejoin="round"/><path d="M78.0,541.0 L84.0,531.0" fill="none" stroke="#5a7448" stroke-width="2.80" stroke-linecap="round" stroke-linejoin="round"/><path d="M78.0,541.0 L84.0,531.0" fill="none" stroke="#aed08f" stroke-width="1.70" stroke-linecap="round" stroke-linejoin="round"/><path d="M21.0,519.0 L21.7,520.1 L22.5,521.6 L23.6,523.4 L24.7,525.3 L26.0,527.3 L27.2,529.3 L28.4,531.2 L29.6,532.9 L31.0,534.7 L32.5,536.5 L34.0,538.3 L35.4,540.0 L36.6,541.4 L37.6,542.6 L38.0,543.0" fill="none" stroke="#5a7448" stroke-width="5.40" stroke-linecap="round" stroke-linejoin="round"/><path d="M21.0,519.0 L21.7,520.1 L22.5,521.6 L23.6,523.4 L24.7,525.3 L26.0,527.3 L27.2,529.3 L28.4,531.2 L29.6,532.9 L31.0,534.7 L32.5,536.5 L34.0,538.3 L35.4,540.0 L36.6,541.4 L37.6,542.6 L38.0,543.0" fill="none" stroke="#aed08f" stroke-width="3.60" stroke-linecap="round" stroke-linejoin="round"/><path d="M34.0,543.0 L35.1,542.5 L36.7,541.8 L38.5,540.9 L40.5,540.0 L42.6,539.0 L44.8,538.1 L47.0,537.1 L49.0,536.3 L51.0,535.7 L53.0,535.0 L55.0,534.5 L57.0,533.9 L59.0,533.5 L61.0,533.0 L63.0,532.6 L65.0,532.2 L67.0,531.8 L69.1,531.4 L71.2,531.1 L73.3,530.7 L75.4,530.4 L77.4,530.2 L79.4,530.0 L81.2,530.0 L83.3,530.1 L85.6,530.3 L87.7,530.8 L89.6,531.4 L91.2,532.4 L92.7,533.7 L93.9,535.5 L94.9,537.6 L95.8,539.8 L96.5,541.7 L97.0,543.0 L97.0,543.0" fill="none" stroke="#5a7448" stroke-width="5.40" stroke-linecap="round" stroke-linejoin="round"/><path d="M34.0,543.0 L35.1,542.5 L36.7,541.8 L38.5,540.9 L40.5,540.0 L42.6,539.0 L44.8,538.1 L47.0,537.1 L49.0,536.3 L51.0,535.7 L53.0,535.0 L55.0,534.5 L57.0,533.9 L59.0,533.5 L61.0,533.0 L63.0,532.6 L65.0,532.2 L67.0,531.8 L69.1,531.4 L71.2,531.1 L73.3,530.7 L75.4,530.4 L77.4,530.2 L79.4,530.0 L81.2,530.0 L83.3,530.1 L85.6,530.3 L87.7,530.8 L89.6,531.4 L91.2,532.4 L92.7,533.7 L93.9,535.5 L94.9,537.6 L95.8,539.8 L96.5,541.7 L97.0,543.0 L97.0,543.0" fill="none" stroke="#aed08f" stroke-width="3.60" stroke-linecap="round" stroke-linejoin="round"/><path d="M127.0,364.1L126.5,365.4L126.8,367.6L127.9,370.4L129.6,373.5L131.6,376.5L133.6,379.3L135.3,381.5L136.5,382.8L136.9,383.3L140.3,380.1L140.9,378.7L140.5,376.5L139.4,373.8L137.8,370.7L135.8,367.6L133.8,364.8L132.0,362.7L130.9,361.3L130.4,360.8ZM118.3,372.2L117.8,373.6L118.1,375.8L119.2,378.5L120.9,381.6L122.9,384.7L124.9,387.5L126.6,389.6L127.8,391.0L128.2,391.5L131.7,388.2L132.2,386.9L131.9,384.7L130.8,381.9L129.1,378.9L127.1,375.8L125.1,373.0L123.4,370.8L122.2,369.5L121.8,369.0ZM109.7,380.4L109.1,381.8L109.5,383.9L110.6,386.7L112.2,389.8L114.2,392.9L116.2,395.6L118.0,397.8L119.2,399.2L119.6,399.6L123.0,396.4L123.5,395.0L123.2,392.9L122.1,390.1L120.4,387.0L118.4,383.9L116.4,381.2L114.7,379.0L113.5,377.6L113.1,377.2ZM101.0,388.6L100.5,389.9L100.8,392.1L101.9,394.8L103.6,397.9L105.6,401.0L107.6,403.8L109.3,405.9L110.5,407.3L110.9,407.8L114.4,404.5L114.9,403.2L114.5,401.0L113.4,398.2L111.8,395.2L109.8,392.1L107.8,389.3L106.0,387.1L104.9,385.8L104.4,385.3Z" fill="#5f6190" stroke="#3d3e63" stroke-width="0.6" stroke-linejoin="round"/><path d="M133.4,369.8L130.8,367.7L128.7,365.8L127.4,364.5L127.0,364.1L130.4,360.8L131.8,360.4L134.0,360.9L136.6,362.1L139.6,364.0ZM136.9,383.3L135.5,383.8L133.4,383.3L130.7,382.0L127.7,380.2L124.8,378.0L122.1,375.8L120.0,374.0L118.8,372.7L118.3,372.2L121.8,369.0L123.2,368.6L125.3,369.0L128.0,370.3L131.0,372.1L133.9,374.3L136.6,376.5L138.6,378.4L139.9,379.6L140.3,380.1ZM128.2,391.5L126.9,391.9L124.7,391.4L122.0,390.2L119.0,388.3L116.1,386.1L113.4,384.0L111.4,382.1L110.1,380.9L109.7,380.4L113.1,377.2L114.5,376.7L116.6,377.2L119.3,378.4L122.3,380.3L125.2,382.5L127.9,384.7L130.0,386.5L131.3,387.8L131.7,388.2ZM119.6,399.6L118.2,400.1L116.0,399.6L113.4,398.3L110.4,396.5L107.4,394.3L104.8,392.1L102.7,390.3L101.4,389.0L101.0,388.6L104.4,385.3L105.8,384.9L108.0,385.3L110.7,386.6L113.6,388.5L116.6,390.6L119.2,392.8L121.3,394.7L122.6,395.9L123.0,396.4ZM110.9,407.8L109.5,408.2L107.4,407.8L104.7,406.5L110.6,401.0L112.6,402.8L113.9,404.1L114.4,404.5Z" fill="#8b8dbc" stroke="#3d3e63" stroke-width="0.6" stroke-linejoin="round"/><path d="M116.7,404.0L117.4,405.3L119.2,406.3L121.8,407.2L125.1,407.8L128.6,408.2L131.8,408.3L134.4,408.4L136.1,408.3L136.7,408.3L136.3,403.8L135.6,402.6L133.8,401.5L131.1,400.7L127.9,400.1L124.4,399.7L121.2,399.5L118.6,399.5L116.9,399.5L116.3,399.5ZM117.7,415.9L118.4,417.1L120.1,418.2L122.8,419.0L126.1,419.6L129.5,420.0L132.8,420.2L135.4,420.2L137.1,420.2L137.7,420.2L137.3,415.7L136.6,414.5L134.8,413.4L132.1,412.5L128.9,411.9L125.4,411.6L122.2,411.4L119.6,411.3L117.9,411.4L117.3,411.4ZM118.6,427.7L119.3,429.0L121.1,430.0L123.8,430.9L127.1,431.5L130.5,431.9L133.8,432.1L136.4,432.1L138.1,432.1L138.7,432.0L138.3,427.6L137.6,426.3L135.8,425.3L133.1,424.4L129.9,423.8L126.4,423.4L123.2,423.2L120.6,423.2L118.9,423.2L118.3,423.3ZM119.6,439.6L120.3,440.8L122.1,441.9L124.8,442.8L128.1,443.4L131.5,443.7L134.7,443.9L137.4,444.0L139.1,443.9L139.7,443.9L139.3,439.4L138.6,438.2L136.8,437.1L134.1,436.3L130.8,435.6L127.4,435.3L124.2,435.1L121.6,435.1L119.9,435.1L119.3,435.1Z" fill="#5f6190" stroke="#3d3e63" stroke-width="0.6" stroke-linejoin="round"/><path d="M124.7,402.5L121.5,403.2L118.9,403.7L117.3,403.9L116.7,404.0L116.3,399.5L116.8,398.2L118.4,396.8L120.9,395.6L124.0,394.4ZM136.7,408.3L136.2,409.7L134.6,411.0L132.1,412.3L129.0,413.4L125.7,414.4L122.5,415.1L119.9,415.6L118.2,415.8L117.7,415.9L117.3,411.4L117.8,410.1L119.4,408.7L121.9,407.4L125.0,406.3L128.3,405.3L131.5,404.6L134.0,404.2L135.7,403.9L136.3,403.8ZM137.7,420.2L137.2,421.5L135.6,422.9L133.1,424.2L130.0,425.3L126.6,426.2L123.5,426.9L120.9,427.4L119.2,427.7L118.6,427.7L118.3,423.3L118.8,421.9L120.3,420.6L122.9,419.3L126.0,418.1L129.3,417.2L132.5,416.5L135.0,416.0L136.7,415.8L137.3,415.7ZM138.7,432.0L138.2,433.4L136.6,434.7L134.1,436.0L131.0,437.2L127.6,438.1L124.5,438.8L121.9,439.3L120.2,439.5L119.6,439.6L119.3,435.1L119.7,433.8L121.3,432.4L123.8,431.1L127.0,430.0L130.3,429.1L133.4,428.4L136.0,427.9L137.7,427.6L138.3,427.6ZM139.7,443.9L139.2,445.2L137.6,446.6L135.1,447.9L132.0,449.0L128.6,450.0L127.9,441.9L131.3,440.9L134.4,440.2L137.0,439.7L138.7,439.5L139.3,439.4Z" fill="#8b8dbc" stroke="#3d3e63" stroke-width="0.6" stroke-linejoin="round"/><path d="M94.4,454.7L95.6,454.0L96.6,452.4L97.3,450.0L97.8,447.1L98.0,444.1L98.1,441.3L98.0,439.0L97.9,437.5L97.9,437.0L93.4,437.7L92.2,438.3L91.2,440.0L90.5,442.4L90.0,445.2L89.7,448.2L89.7,451.1L89.8,453.3L89.9,454.8L89.9,455.3ZM106.1,453.0L107.3,452.4L108.3,450.7L109.1,448.3L109.6,445.5L109.8,442.5L109.9,439.6L109.8,437.4L109.7,435.9L109.7,435.4L105.2,436.0L104.0,436.7L103.0,438.3L102.3,440.7L101.8,443.6L101.5,446.6L101.5,449.4L101.5,451.7L101.6,453.2L101.7,453.7ZM117.9,451.4L119.1,450.7L120.1,449.1L120.9,446.7L121.4,443.8L121.6,440.8L121.7,438.0L121.6,435.7L121.5,434.2L121.5,433.7L117.0,434.4L115.8,435.0L114.8,436.7L114.0,439.1L113.6,441.9L113.3,444.9L113.3,447.8L113.3,450.0L113.4,451.5L113.5,452.0ZM129.7,449.7L130.9,449.1L131.9,447.4L132.7,445.0L133.1,442.2L133.4,439.2L133.4,436.3L133.4,434.1L133.3,432.6L133.2,432.1L128.8,432.7L127.6,433.4L126.6,435.0L125.8,437.4L125.3,440.3L125.1,443.3L125.0,446.1L125.1,448.4L125.2,449.9L125.3,450.4Z" fill="#5f6190" stroke="#3d3e63" stroke-width="0.6" stroke-linejoin="round"/><path d="M92.6,447.9L93.4,450.5L93.9,452.7L94.3,454.2L94.4,454.7L89.9,455.3L88.5,455.0L87.1,453.7L85.8,451.6L84.5,449.0ZM97.9,437.0L99.2,437.4L100.6,438.7L102.0,440.7L103.3,443.4L104.3,446.2L105.2,448.9L105.7,451.1L106.0,452.5L106.1,453.0L101.7,453.7L100.3,453.3L98.9,452.0L97.6,450.0L96.3,447.3L95.2,444.5L94.4,441.8L93.8,439.6L93.5,438.2L93.4,437.7ZM109.7,435.4L111.0,435.7L112.4,437.0L113.8,439.1L115.1,441.7L116.1,444.6L116.9,447.2L117.5,449.4L117.8,450.9L117.9,451.4L113.5,452.0L112.1,451.7L110.7,450.4L109.3,448.3L108.1,445.7L107.0,442.8L106.2,440.2L105.6,438.0L105.3,436.5L105.2,436.0ZM121.5,433.7L122.8,434.1L124.2,435.4L125.6,437.4L126.8,440.1L127.9,442.9L128.7,445.6L129.3,447.8L129.6,449.2L129.7,449.7L125.3,450.4L123.9,450.0L122.5,448.7L121.1,446.7L119.9,444.0L118.8,441.2L118.0,438.5L117.4,436.3L117.1,434.9L117.0,434.4ZM133.2,432.1L134.6,432.4L136.0,433.7L137.4,435.8L138.6,438.4L139.7,441.3L140.5,443.9L141.1,446.1L141.4,447.6L135.7,448.4L134.3,447.1L132.9,445.0L131.6,442.4L130.6,439.5L129.8,436.9L129.2,434.7L128.9,433.2L128.8,432.7Z" fill="#8b8dbc" stroke="#3d3e63" stroke-width="0.6" stroke-linejoin="round"/><path d="M87.1,474.4L88.6,474.2L90.6,472.6L92.8,470.0L95.0,466.5L97.1,462.8L98.9,459.2L100.2,456.3L101.1,454.3L101.3,453.6L96.7,451.9L95.1,452.1L93.2,453.7L91.0,456.3L88.7,459.7L86.6,463.5L84.8,467.1L83.5,470.0L82.7,472.0L82.4,472.7ZM98.8,478.7L100.4,478.5L102.3,476.9L104.5,474.3L106.7,470.8L108.9,467.1L110.6,463.5L112.0,460.5L112.8,458.6L113.1,457.9L108.4,456.2L106.9,456.4L104.9,458.0L102.7,460.6L100.5,464.0L98.4,467.8L96.6,471.4L95.2,474.3L94.4,476.3L94.2,477.0ZM110.5,483.0L112.1,482.7L114.1,481.2L116.2,478.5L118.5,475.1L120.6,471.4L122.4,467.8L123.7,464.8L124.5,462.9L124.8,462.2L120.2,460.5L118.6,460.7L116.7,462.2L114.5,464.9L112.2,468.3L110.1,472.1L108.3,475.6L107.0,478.6L106.2,480.6L105.9,481.3ZM122.3,487.2L123.8,487.0L125.8,485.5L128.0,482.8L130.2,479.4L132.3,475.7L134.1,472.1L135.5,469.1L136.3,467.2L136.5,466.5L131.9,464.8L130.3,465.0L128.4,466.5L126.2,469.2L124.0,472.6L121.9,476.4L120.1,479.9L118.7,482.9L117.9,484.9L117.7,485.6ZM134.0,491.5L135.6,491.3L137.5,489.8L139.7,487.1L131.8,484.2L130.5,487.2L129.6,489.2L129.4,489.8Z" fill="#5f6190" stroke="#3d3e63" stroke-width="0.6" stroke-linejoin="round"/><path d="M89.8,464.6L88.8,468.5L88.0,471.7L87.3,473.7L87.1,474.4L82.4,472.7L81.4,471.5L80.9,469.1L80.9,465.6L81.4,461.6ZM101.3,453.6L102.4,454.8L102.9,457.2L102.8,460.7L102.3,464.7L101.5,468.9L100.6,472.8L99.7,476.0L99.1,478.0L98.8,478.7L94.2,477.0L93.1,475.8L92.6,473.4L92.7,469.9L93.2,465.9L94.0,461.7L94.9,457.8L95.8,454.6L96.4,452.6L96.7,451.9ZM113.1,457.9L114.1,459.1L114.6,461.5L114.6,464.9L114.1,469.0L113.3,473.2L112.3,477.1L111.4,480.2L110.8,482.3L110.5,483.0L105.9,481.3L104.9,480.1L104.4,477.7L104.4,474.2L104.9,470.2L105.7,465.9L106.6,462.0L107.5,458.9L108.2,456.9L108.4,456.2ZM124.8,462.2L125.8,463.4L126.3,465.8L126.3,469.2L125.8,473.3L125.0,477.5L124.1,481.4L123.2,484.5L122.5,486.6L122.3,487.2L117.7,485.6L116.6,484.4L116.1,482.0L116.1,478.5L116.6,474.4L117.4,470.2L118.4,466.3L119.3,463.2L119.9,461.2L120.2,460.5ZM136.5,466.5L137.6,467.6L138.1,470.1L138.0,473.5L137.6,477.6L136.8,481.8L135.8,485.7L134.9,488.8L134.3,490.8L134.0,491.5L129.4,489.8L128.3,488.7L127.8,486.2L127.9,482.8L128.4,478.7L129.2,474.5L130.1,470.6L131.0,467.5L131.6,465.5L131.9,464.8Z" fill="#8b8dbc" stroke="#3d3e63" stroke-width="0.6" stroke-linejoin="round"/><path d="M103.9,525.5L105.1,524.5L106.0,522.1L106.5,518.5L106.6,514.2L106.4,509.7L106.1,505.6L105.7,502.2L105.4,500.0L105.2,499.2L100.4,500.1L99.2,501.2L98.3,503.6L97.8,507.1L97.7,511.4L97.8,515.9L98.2,520.1L98.6,523.5L98.9,525.7L99.0,526.5ZM116.2,523.2L117.4,522.2L118.2,519.7L118.7,516.2L118.9,511.9L118.7,507.4L118.4,503.2L118.0,499.8L117.7,497.6L117.5,496.9L112.7,497.8L111.5,498.8L110.6,501.2L110.1,504.8L110.0,509.1L110.1,513.6L110.4,517.8L110.8,521.2L111.2,523.4L111.3,524.1ZM128.4,520.8L129.7,519.8L130.5,517.4L131.0,513.8L131.2,509.6L131.0,505.1L130.7,500.9L130.3,497.5L129.9,495.3L129.8,494.5L124.9,495.5L123.7,496.5L122.9,498.9L122.4,502.5L122.2,506.7L122.4,511.2L122.7,515.4L123.1,518.8L123.5,521.0L123.6,521.8ZM140.7,518.5L141.9,517.5L142.8,515.1L143.3,511.5L135.0,513.1L135.4,516.5L135.7,518.7L135.9,519.4Z" fill="#5f6190" stroke="#3d3e63" stroke-width="0.6" stroke-linejoin="round"/><path d="M101.1,515.3L102.4,519.3L103.2,522.6L103.7,524.8L103.9,525.5L99.0,526.5L97.5,526.0L95.8,524.0L94.1,520.9L92.4,517.0ZM105.2,499.2L106.7,499.7L108.4,501.6L110.2,504.8L111.9,508.7L113.4,512.9L114.6,517.0L115.5,520.3L116.0,522.4L116.2,523.2L111.3,524.1L109.8,523.6L108.1,521.7L106.4,518.5L104.7,514.6L103.1,510.4L101.9,506.4L101.0,503.1L100.5,500.9L100.4,500.1ZM117.5,496.9L119.0,497.4L120.7,499.3L122.5,502.4L124.2,506.4L125.7,510.6L126.9,514.6L127.8,517.9L128.3,520.1L128.4,520.8L123.6,521.8L122.1,521.3L120.4,519.3L118.6,516.2L116.9,512.3L115.4,508.0L114.2,504.0L113.3,500.7L112.8,498.6L112.7,497.8ZM129.8,494.5L131.3,495.0L133.0,497.0L134.8,500.1L136.5,504.0L138.0,508.3L139.2,512.3L140.1,515.6L140.6,517.8L140.7,518.5L135.9,519.4L134.4,518.9L132.7,517.0L130.9,513.9L129.2,509.9L127.7,505.7L126.5,501.7L125.6,498.4L125.1,496.2L124.9,495.5Z" fill="#8b8dbc" stroke="#3d3e63" stroke-width="0.6" stroke-linejoin="round"/><path d="M104.0,400.0 L103.4,401.2 L102.5,402.8 L101.5,404.7 L100.4,406.8 L99.4,408.9 L98.4,411.0 L97.6,413.0 L96.7,415.0 L95.9,417.2 L95.1,419.3 L94.4,421.3 L94.0,423.3 L94.0,425.0 L94.5,427.0 L95.4,428.9 L96.7,430.6 L98.3,432.0 L100.0,433.0 L101.8,433.5 L104.0,433.6 L106.4,433.5 L108.7,433.3 L110.6,433.1 L112.0,433.0 L112.0,433.0" fill="none" stroke="#3f4068" stroke-width="2.60" stroke-linecap="round" stroke-linejoin="round"/><path d="M104.0,400.0 L103.4,401.2 L102.5,402.8 L101.5,404.7 L100.4,406.8 L99.4,408.9 L98.4,411.0 L97.6,413.0 L96.7,415.0 L95.9,417.2 L95.1,419.3 L94.4,421.3 L94.0,423.3 L94.0,425.0 L94.5,427.0 L95.4,428.9 L96.7,430.6 L98.3,432.0 L100.0,433.0 L101.8,433.5 L104.0,433.6 L106.4,433.5 L108.7,433.3 L110.6,433.1 L112.0,433.0 L112.0,433.0" fill="none" stroke="#6a6c9c" stroke-width="1.60" stroke-linecap="round" stroke-linejoin="round"/><path d="M112.0,488.0 L112.7,489.4 L113.7,491.5 L114.6,493.8 L115.1,496.0 L114.7,497.9 L113.6,499.7 L112.0,501.3 L110.1,502.8 L108.0,504.0 L106.2,504.6 L103.9,505.1 L101.6,505.4 L99.3,505.7 L97.4,505.8 L96.0,506.0 L96.0,506.0" fill="none" stroke="#3f4068" stroke-width="2.60" stroke-linecap="round" stroke-linejoin="round"/><path d="M112.0,488.0 L112.7,489.4 L113.7,491.5 L114.6,493.8 L115.1,496.0 L114.7,497.9 L113.6,499.7 L112.0,501.3 L110.1,502.8 L108.0,504.0 L106.2,504.6 L103.9,505.1 L101.6,505.4 L99.3,505.7 L97.4,505.8 L96.0,506.0 L96.0,506.0" fill="none" stroke="#6a6c9c" stroke-width="1.60" stroke-linecap="round" stroke-linejoin="round"/><path d="M86.0,398.0L80.0,408.0L72.0,416.0L64.0,422.0L70.0,429.0L74.0,437.0L70.0,446.0L72.0,456.0L77.0,464.0L77.0,474.0L79.0,484.0L80.0,494.0L83.0,502.0L91.0,506.0L100.0,508.0M74.0,420.0L84.0,419.0L92.0,425.0L98.0,430.0L92.0,434.0L84.0,432.0L78.0,426.0M64.0,422.0L56.0,419.0M59.0,420.1L56.0,419.0M72.0,416.0L66.0,408.0M68.3,411.0L66.0,408.0M86.0,398.0L81.0,391.0M82.9,393.7L81.0,391.0M80.0,402.0L74.0,400.0M92.0,425.0L102.0,422.0M98.2,423.1L102.0,422.0M70.0,446.0L60.0,446.0M72.0,456.0L64.0,462.0M67.0,459.7L64.0,462.0M64.0,462.0L54.0,462.0M57.8,462.0L54.0,462.0M77.0,474.0L86.0,470.0M82.6,471.5L86.0,470.0M79.0,484.0L71.0,486.0M83.0,502.0L74.0,498.0M77.4,499.5L74.0,498.0M83.0,502.0L78.0,511.0M79.9,507.6L78.0,511.0M91.0,506.0L101.0,498.0M101.0,498.0L108.0,500.0M105.3,499.2L108.0,500.0M95.0,490.0L104.0,492.0M100.0,516.0L84.0,528.0M86.0,398.0L92.0,392.0M89.7,394.3L92.0,392.0M74.0,437.0L82.0,441.0M79.0,439.5L82.0,441.0M70.0,429.0L62.0,432.0M65.0,430.9L62.0,432.0" fill="none" stroke="#2a2a40" stroke-width="2.4" stroke-linecap="round" stroke-linejoin="round"/><path d="M86.0,398.0L86.4,402.4M86.2,400.7L86.4,402.4M85.2,399.0L91.4,399.8M89.0,399.5L91.4,399.8M83.6,401.1L78.6,399.9M80.5,400.4L78.6,399.9M81.6,403.6L85.4,402.2M84.0,402.7L85.4,402.2M77.8,408.5L79.7,413.4M79.0,411.5L79.7,413.4M75.6,411.3L70.4,407.2M72.4,408.8L70.4,407.2M73.6,413.9L72.2,421.6M71.0,417.1L76.2,417.4M74.2,417.3L76.2,417.4M67.2,420.3L61.5,420.1M66.0,424.0L66.5,429.0M66.3,427.1L66.5,429.0M66.1,425.5L62.5,421.8M66.9,428.9L71.0,434.2M69.4,432.2L71.0,434.2M68.5,434.0L64.1,435.7M69.6,437.2L62.5,434.5M65.2,435.5L62.5,434.5M71.1,441.7L70.0,447.9M70.4,445.5L70.0,447.9M72.0,445.0L74.6,450.2M73.6,448.2L74.6,450.2M73.1,449.7L79.7,447.8M77.2,448.5L79.7,447.8M73.9,453.7L71.9,457.8M74.7,457.7L80.4,460.7M78.3,459.6L80.4,460.7M75.3,460.8L69.5,466.1M71.7,464.1L69.5,466.1M75.9,463.8L70.7,465.4M72.6,464.8L70.7,465.4M76.6,468.0L72.2,469.8M73.9,469.1L72.2,469.8M77.2,471.0L81.6,472.6M79.9,472.0L81.6,472.6M77.7,475.2L71.7,473.4M74.0,474.1L71.7,473.4M78.0,477.4L71.0,476.1M73.6,476.6L71.0,476.1M78.4,481.8L78.7,487.4M78.9,486.1L75.4,481.5M76.7,483.2L75.4,481.5M79.1,488.1L79.0,493.1M79.1,491.2L79.0,493.1M79.8,492.0L79.4,497.3M79.6,495.3L79.4,497.3M80.7,495.3L86.3,494.9M84.2,495.1L86.3,494.9M82.3,498.4L86.3,501.0M84.8,500.0L86.3,501.0M85.8,501.9L81.8,495.9M89.5,504.3L85.6,498.8" fill="none" stroke="#2a2a40" stroke-width="2.2" stroke-linecap="round" stroke-linejoin="round"/><path d="M86.0,398.0L80.0,408.0L72.0,416.0L64.0,422.0L70.0,429.0L74.0,437.0L70.0,446.0L72.0,456.0L77.0,464.0L77.0,474.0L79.0,484.0L80.0,494.0L83.0,502.0L91.0,506.0L100.0,508.0M74.0,420.0L84.0,419.0L92.0,425.0L98.0,430.0L92.0,434.0L84.0,432.0L78.0,426.0M74.0,437.0L82.0,441.0M70.0,429.0L62.0,432.0" fill="none" stroke="#6e7096" stroke-width="1.5" stroke-linecap="round" stroke-linejoin="round"/><path d="M81.6,403.6L85.4,402.2M77.8,408.5L79.7,413.4M73.6,413.9L72.2,421.6M71.0,417.1L76.2,417.4M66.0,424.0L66.5,429.0M71.1,441.7L70.0,447.9M73.1,449.7L79.7,447.8M73.9,453.7L71.9,457.8M74.7,457.7L80.4,460.7M75.9,463.8L70.7,465.4M76.6,468.0L72.2,469.8M77.2,471.0L81.6,472.6M79.8,492.0L79.4,497.3M80.7,495.3L86.3,494.9M82.3,498.4L86.3,501.0M85.8,501.9L81.8,495.9" fill="none" stroke="#6e7096" stroke-width="1.3" stroke-linecap="round" stroke-linejoin="round"/><path d="M86.0,398.0L86.4,402.4M85.2,399.0L91.4,399.8M83.6,401.1L78.6,399.9M75.6,411.3L70.4,407.2M67.2,420.3L61.5,420.1M66.1,425.5L62.5,421.8M66.9,428.9L71.0,434.2M68.5,434.0L64.1,435.7M69.6,437.2L62.5,434.5M72.0,445.0L74.6,450.2M75.3,460.8L69.5,466.1M77.7,475.2L71.7,473.4M78.0,477.4L71.0,476.1M78.4,481.8L78.7,487.4M78.9,486.1L75.4,481.5M79.1,488.1L79.0,493.1M89.5,504.3L85.6,498.8" fill="none" stroke="#e0852f" stroke-width="1.3" stroke-linecap="round" stroke-linejoin="round"/><path d="M84.0,402.7L85.4,402.2M79.0,411.5L79.7,413.4M74.2,417.3L76.2,417.4M78.3,459.6L80.4,460.7M72.6,464.8L70.7,465.4M79.6,495.3L79.4,497.3" fill="none" stroke="#2a2a3a" stroke-width="1.3" stroke-linecap="round" stroke-linejoin="round"/><path d="M64.0,422.0L56.0,419.0M72.0,416.0L66.0,408.0M86.0,398.0L81.0,391.0M80.0,402.0L74.0,400.0M92.0,425.0L102.0,422.0M72.0,456.0L64.0,462.0M64.0,462.0L54.0,462.0M77.0,474.0L86.0,470.0M83.0,502.0L74.0,498.0M83.0,502.0L78.0,511.0M91.0,506.0L101.0,498.0M101.0,498.0L108.0,500.0M95.0,490.0L104.0,492.0M100.0,516.0L84.0,528.0M86.0,398.0L92.0,392.0" fill="none" stroke="#e0852f" stroke-width="1.5" stroke-linecap="round" stroke-linejoin="round"/><path d="M70.0,446.0L60.0,446.0M79.0,484.0L71.0,486.0" fill="none" stroke="#2a2a3a" stroke-width="1.5" stroke-linecap="round" stroke-linejoin="round"/><path d="M86.2,400.7L86.4,402.4M72.4,408.8L70.4,407.2M69.4,432.2L71.0,434.2M79.9,472.0L81.6,472.6M73.6,476.6L71.0,476.1M76.7,483.2L75.4,481.5M79.1,491.2L79.0,493.1M84.8,500.0L86.3,501.0" fill="none" stroke="#d02020" stroke-width="1.3" stroke-linecap="round" stroke-linejoin="round"/><path d="M89.0,399.5L91.4,399.8M80.5,400.4L78.6,399.9M66.3,427.1L66.5,429.0M65.2,435.5L62.5,434.5M70.4,445.5L70.0,447.9M73.6,448.2L74.6,450.2M77.2,448.5L79.7,447.8M71.7,464.1L69.5,466.1M73.9,469.1L72.2,469.8M74.0,474.1L71.7,473.4M84.2,495.1L86.3,494.9" fill="none" stroke="#2030d0" stroke-width="1.3" stroke-linecap="round" stroke-linejoin="round"/><path d="M59.0,420.1L56.0,419.0M68.3,411.0L66.0,408.0M82.9,393.7L81.0,391.0M98.2,423.1L102.0,422.0M77.4,499.5L74.0,498.0M79.9,507.6L78.0,511.0M105.3,499.2L108.0,500.0M89.7,394.3L92.0,392.0" fill="none" stroke="#d02020" stroke-width="1.5" stroke-linecap="round" stroke-linejoin="round"/><path d="M67.0,459.7L64.0,462.0M57.8,462.0L54.0,462.0M82.6,471.5L86.0,470.0M79.0,439.5L82.0,441.0M65.0,430.9L62.0,432.0" fill="none" stroke="#2030d0" stroke-width="1.5" stroke-linecap="round" stroke-linejoin="round"/></g><rect x="22.9" y="368.6" width="111.0" height="171.10000000000002" fill="none" stroke="#e8904f" stroke-width="1.1"/><clipPath id="cb1"><rect x="280.2" y="371.3" width="170.8" height="81.69999999999999"/></clipPath><g clip-path="url(#cb1)"><path d="M281.0,384.0 L290.0,378.0" fill="none" stroke="#5a7448" stroke-width="2.80" stroke-linecap="round" stroke-linejoin="round"/><path d="M281.0,384.0 L290.0,378.0" fill="none" stroke="#aed08f" stroke-width="1.70" stroke-linecap="round" stroke-linejoin="round"/><path d="M281.0,398.0 L290.0,392.0" fill="none" stroke="#5a7448" stroke-width="2.80" stroke-linecap="round" stroke-linejoin="round"/><path d="M281.0,398.0 L290.0,392.0" fill="none" stroke="#aed08f" stroke-width="1.70" stroke-linecap="round" stroke-linejoin="round"/><path d="M281.0,412.0 L290.0,406.0" fill="none" stroke="#5a7448" stroke-width="2.80" stroke-linecap="round" stroke-linejoin="round"/><path d="M281.0,412.0 L290.0,406.0" fill="none" stroke="#aed08f" stroke-width="1.70" stroke-linecap="round" stroke-linejoin="round"/><path d="M281.0,426.0 L290.0,420.0" fill="none" stroke="#5a7448" stroke-width="2.80" stroke-linecap="round" stroke-linejoin="round"/><path d="M281.0,426.0 L290.0,420.0" fill="none" stroke="#aed08f" stroke-width="1.70" stroke-linecap="round" stroke-linejoin="round"/><path d="M293.0,368.0 L292.9,369.2 L292.7,370.8 L292.5,372.6 L292.3,374.7 L292.1,376.9 L291.8,379.3 L291.5,381.6 L291.2,383.9 L290.8,385.9 L290.5,387.8 L290.1,389.8 L289.7,391.8 L289.3,393.8 L288.8,395.8 L288.4,397.9 L288.0,399.9 L287.6,402.0 L287.2,404.0 L286.8,406.0 L286.5,408.0 L286.1,410.0 L285.8,412.0 L285.5,414.0 L285.2,416.0 L284.9,418.0 L284.6,420.0 L284.3,422.0 L284.1,424.0 L283.9,426.0 L283.7,428.1 L283.5,430.2 L283.3,432.4 L283.2,434.5 L283.1,436.6 L283.0,438.7 L282.9,440.6 L282.9,442.5 L283.0,444.2 L283.1,446.4 L283.6,448.9 L284.3,451.2 L285.0,453.2 L285.6,454.8 L286.0,456.0 L286.0,456.0" fill="none" stroke="#5a7448" stroke-width="5.20" stroke-linecap="round" stroke-linejoin="round"/><path d="M293.0,368.0 L292.9,369.2 L292.7,370.8 L292.5,372.6 L292.3,374.7 L292.1,376.9 L291.8,379.3 L291.5,381.6 L291.2,383.9 L290.8,385.9 L290.5,387.8 L290.1,389.8 L289.7,391.8 L289.3,393.8 L288.8,395.8 L288.4,397.9 L288.0,399.9 L287.6,402.0 L287.2,404.0 L286.8,406.0 L286.5,408.0 L286.1,410.0 L285.8,412.0 L285.5,414.0 L285.2,416.0 L284.9,418.0 L284.6,420.0 L284.3,422.0 L284.1,424.0 L283.9,426.0 L283.7,428.1 L283.5,430.2 L283.3,432.4 L283.2,434.5 L283.1,436.6 L283.0,438.7 L282.9,440.6 L282.9,442.5 L283.0,444.2 L283.1,446.4 L283.6,448.9 L284.3,451.2 L285.0,453.2 L285.6,454.8 L286.0,456.0 L286.0,456.0" fill="none" stroke="#aed08f" stroke-width="3.40" stroke-linecap="round" stroke-linejoin="round"/><path d="M316.0,370.0 L318.0,385.0" fill="none" stroke="#5a7448" stroke-width="2.80" stroke-linecap="round" stroke-linejoin="round"/><path d="M316.0,370.0 L318.0,385.0" fill="none" stroke="#aed08f" stroke-width="1.70" stroke-linecap="round" stroke-linejoin="round"/><path d="M326.0,370.0 L328.0,385.0" fill="none" stroke="#5a7448" stroke-width="2.80" stroke-linecap="round" stroke-linejoin="round"/><path d="M326.0,370.0 L328.0,385.0" fill="none" stroke="#aed08f" stroke-width="1.70" stroke-linecap="round" stroke-linejoin="round"/><path d="M336.0,370.0 L338.0,385.0" fill="none" stroke="#5a7448" stroke-width="2.80" stroke-linecap="round" stroke-linejoin="round"/><path d="M336.0,370.0 L338.0,385.0" fill="none" stroke="#aed08f" stroke-width="1.70" stroke-linecap="round" stroke-linejoin="round"/><path d="M305.0,368.0 L305.7,369.2 L306.5,370.9 L307.6,373.0 L308.8,375.1 L310.0,377.3 L311.3,379.2 L312.7,380.8 L314.2,382.4 L315.8,383.9 L317.5,385.2 L319.2,386.4 L321.1,387.5 L322.9,388.4 L324.9,389.2 L326.9,389.9 L329.0,390.5 L331.1,390.9 L333.1,391.1 L335.0,391.0 L337.1,390.6 L339.1,389.8 L341.0,388.7 L342.8,387.4 L344.3,385.8 L345.5,384.2 L346.4,382.3 L347.1,380.2 L347.7,377.9 L348.2,375.7 L348.6,373.7 L349.0,372.0 L349.6,369.3 L349.9,367.3 L350.0,366.0 L350.0,366.0" fill="none" stroke="#5a7448" stroke-width="5.20" stroke-linecap="round" stroke-linejoin="round"/><path d="M305.0,368.0 L305.7,369.2 L306.5,370.9 L307.6,373.0 L308.8,375.1 L310.0,377.3 L311.3,379.2 L312.7,380.8 L314.2,382.4 L315.8,383.9 L317.5,385.2 L319.2,386.4 L321.1,387.5 L322.9,388.4 L324.9,389.2 L326.9,389.9 L329.0,390.5 L331.1,390.9 L333.1,391.1 L335.0,391.0 L337.1,390.6 L339.1,389.8 L341.0,388.7 L342.8,387.4 L344.3,385.8 L345.5,384.2 L346.4,382.3 L347.1,380.2 L347.7,377.9 L348.2,375.7 L348.6,373.7 L349.0,372.0 L349.6,369.3 L349.9,367.3 L350.0,366.0 L350.0,366.0" fill="none" stroke="#aed08f" stroke-width="3.40" stroke-linecap="round" stroke-linejoin="round"/><path d="M388.0,370.0 L388.0,386.0" fill="none" stroke="#5a7448" stroke-width="2.80" stroke-linecap="round" stroke-linejoin="round"/><path d="M388.0,370.0 L388.0,386.0" fill="none" stroke="#aed08f" stroke-width="1.70" stroke-linecap="round" stroke-linejoin="round"/><path d="M398.0,370.0 L398.0,386.0" fill="none" stroke="#5a7448" stroke-width="2.80" stroke-linecap="round" stroke-linejoin="round"/><path d="M398.0,370.0 L398.0,386.0" fill="none" stroke="#aed08f" stroke-width="1.70" stroke-linecap="round" stroke-linejoin="round"/><path d="M408.0,370.0 L408.0,386.0" fill="none" stroke="#5a7448" stroke-width="2.80" stroke-linecap="round" stroke-linejoin="round"/><path d="M408.0,370.0 L408.0,386.0" fill="none" stroke="#aed08f" stroke-width="1.70" stroke-linecap="round" stroke-linejoin="round"/><path d="M377.0,368.0 L377.4,369.3 L377.9,371.2 L378.6,373.3 L379.3,375.7 L380.1,378.0 L381.0,380.2 L382.0,382.0 L383.3,383.7 L384.7,385.3 L386.2,386.7 L387.8,387.9 L389.4,389.0 L391.0,390.0 L393.0,391.1 L395.0,392.0 L397.0,392.7 L399.0,393.1 L401.0,393.0 L402.9,392.5 L404.8,391.5 L406.7,390.2 L408.4,388.7 L410.0,387.0 L411.2,385.4 L412.3,383.6 L413.4,381.6 L414.3,379.6 L415.2,377.7 L416.0,376.0 L417.0,373.6 L417.9,371.3 L418.5,369.4 L419.0,368.0 L419.0,368.0" fill="none" stroke="#5a7448" stroke-width="5.20" stroke-linecap="round" stroke-linejoin="round"/><path d="M377.0,368.0 L377.4,369.3 L377.9,371.2 L378.6,373.3 L379.3,375.7 L380.1,378.0 L381.0,380.2 L382.0,382.0 L383.3,383.7 L384.7,385.3 L386.2,386.7 L387.8,387.9 L389.4,389.0 L391.0,390.0 L393.0,391.1 L395.0,392.0 L397.0,392.7 L399.0,393.1 L401.0,393.0 L402.9,392.5 L404.8,391.5 L406.7,390.2 L408.4,388.7 L410.0,387.0 L411.2,385.4 L412.3,383.6 L413.4,381.6 L414.3,379.6 L415.2,377.7 L416.0,376.0 L417.0,373.6 L417.9,371.3 L418.5,369.4 L419.0,368.0 L419.0,368.0" fill="none" stroke="#aed08f" stroke-width="3.40" stroke-linecap="round" stroke-linejoin="round"/><path d="M438.0,385.0 L452.0,379.0" fill="none" stroke="#5a7448" stroke-width="2.80" stroke-linecap="round" stroke-linejoin="round"/><path d="M438.0,385.0 L452.0,379.0" fill="none" stroke="#aed08f" stroke-width="1.70" stroke-linecap="round" stroke-linejoin="round"/><path d="M438.0,400.0 L452.0,394.0" fill="none" stroke="#5a7448" stroke-width="2.80" stroke-linecap="round" stroke-linejoin="round"/><path d="M438.0,400.0 L452.0,394.0" fill="none" stroke="#aed08f" stroke-width="1.70" stroke-linecap="round" stroke-linejoin="round"/><path d="M438.0,415.0 L452.0,409.0" fill="none" stroke="#5a7448" stroke-width="2.80" stroke-linecap="round" stroke-linejoin="round"/><path d="M438.0,415.0 L452.0,409.0" fill="none" stroke="#aed08f" stroke-width="1.70" stroke-linecap="round" stroke-linejoin="round"/><path d="M438.0,430.0 L452.0,424.0" fill="none" stroke="#5a7448" stroke-width="2.80" stroke-linecap="round" stroke-linejoin="round"/><path d="M438.0,430.0 L452.0,424.0" fill="none" stroke="#aed08f" stroke-width="1.70" stroke-linecap="round" stroke-linejoin="round"/><path d="M442.0,368.0 L441.9,369.2 L441.7,370.9 L441.5,372.8 L441.2,375.0 L441.0,377.3 L440.7,379.6 L440.4,381.9 L440.1,384.0 L439.8,386.1 L439.4,388.1 L439.0,390.1 L438.6,392.1 L438.1,394.1 L437.7,396.1 L437.3,398.0 L437.0,400.0 L436.8,402.0 L436.6,404.1 L436.5,406.1 L436.4,408.1 L436.3,410.1 L436.2,412.1 L436.1,414.1 L435.9,416.1 L435.5,418.2 L435.0,420.2 L434.6,422.2 L434.2,424.1 L434.0,426.1 L434.0,428.0 L434.4,430.2 L435.0,432.5 L435.9,434.8 L436.7,436.9 L437.5,438.7 L438.0,440.0 L438.0,440.0" fill="none" stroke="#5a7448" stroke-width="5.20" stroke-linecap="round" stroke-linejoin="round"/><path d="M442.0,368.0 L441.9,369.2 L441.7,370.9 L441.5,372.8 L441.2,375.0 L441.0,377.3 L440.7,379.6 L440.4,381.9 L440.1,384.0 L439.8,386.1 L439.4,388.1 L439.0,390.1 L438.6,392.1 L438.1,394.1 L437.7,396.1 L437.3,398.0 L437.0,400.0 L436.8,402.0 L436.6,404.1 L436.5,406.1 L436.4,408.1 L436.3,410.1 L436.2,412.1 L436.1,414.1 L435.9,416.1 L435.5,418.2 L435.0,420.2 L434.6,422.2 L434.2,424.1 L434.0,426.1 L434.0,428.0 L434.4,430.2 L435.0,432.5 L435.9,434.8 L436.7,436.9 L437.5,438.7 L438.0,440.0 L438.0,440.0" fill="none" stroke="#aed08f" stroke-width="3.40" stroke-linecap="round" stroke-linejoin="round"/><path d="M452.0,410.0 L451.3,411.2 L450.3,412.8 L449.1,414.8 L447.8,416.9 L446.6,419.0 L445.5,420.9 L444.5,422.9 L443.4,425.0 L442.4,427.1 L441.4,429.1 L440.6,430.8 L440.0,432.0 L440.0,432.0" fill="none" stroke="#5a7448" stroke-width="4.80" stroke-linecap="round" stroke-linejoin="round"/><path d="M452.0,410.0 L451.3,411.2 L450.3,412.8 L449.1,414.8 L447.8,416.9 L446.6,419.0 L445.5,420.9 L444.5,422.9 L443.4,425.0 L442.4,427.1 L441.4,429.1 L440.6,430.8 L440.0,432.0 L440.0,432.0" fill="none" stroke="#aed08f" stroke-width="3.00" stroke-linecap="round" stroke-linejoin="round"/><path d="M323.5,460.0L325.3,459.4L327.1,457.7L328.7,455.0L330.0,451.7L331.1,448.3L332.0,445.0L332.6,442.3L333.1,440.6L333.5,440.0L328.5,440.0L326.7,440.6L324.9,442.3L323.3,445.0L322.0,448.3L320.9,451.7L320.0,455.0L319.4,457.7L318.9,459.4L318.5,460.0ZM343.5,460.0L345.3,459.4L347.1,457.7L348.7,455.0L350.0,451.7L351.1,448.3L352.0,445.0L352.6,442.3L353.1,440.6L353.5,440.0L348.5,440.0L346.7,440.6L344.9,442.3L343.3,445.0L342.0,448.3L340.9,451.7L340.0,455.0L339.4,457.7L338.9,459.4L338.5,460.0ZM363.5,460.0L365.3,459.4L367.1,457.7L368.7,455.0L370.0,451.7L371.1,448.3L372.0,445.0L372.6,442.3L373.1,440.6L373.5,440.0L368.5,440.0L366.7,440.6L364.9,442.3L363.3,445.0L362.0,448.3L360.9,451.7L360.0,455.0L359.4,457.7L358.9,459.4L358.5,460.0ZM383.5,460.0L385.3,459.4L387.1,457.7L388.7,455.0L390.0,451.7L391.1,448.3L392.0,445.0L392.6,442.3L393.1,440.6L393.5,440.0L388.5,440.0L386.7,440.6L384.9,442.3L383.3,445.0L382.0,448.3L380.9,451.7L380.0,455.0L379.4,457.7L378.9,459.4L378.5,460.0ZM403.5,460.0L405.3,459.4L407.1,457.7L408.7,455.0L410.0,451.7L411.1,448.3L412.0,445.0L412.6,442.3L413.1,440.6L413.5,440.0L408.5,440.0L406.7,440.6L404.9,442.3L403.3,445.0L402.0,448.3L400.9,451.7L400.0,455.0L399.4,457.7L398.9,459.4L398.5,460.0ZM423.5,460.0L425.3,459.4L427.1,457.7L428.7,455.0L430.0,451.7L431.1,448.3L432.0,445.0L432.6,442.3L433.1,440.6L433.5,440.0L428.5,440.0L426.7,440.6L424.9,442.3L423.3,445.0L422.0,448.3L420.9,451.7L420.0,455.0L419.4,457.7L418.9,459.4L418.5,460.0Z" fill="#5f6190" stroke="#3d3e63" stroke-width="0.6" stroke-linejoin="round"/><path d="M321.1,451.7L322.0,455.0L322.6,457.7L323.1,459.4L323.5,460.0L318.5,460.0L316.7,459.4L314.9,457.7L313.3,455.0L312.0,451.7ZM333.5,440.0L335.3,440.6L337.1,442.3L338.7,445.0L340.0,448.3L341.1,451.7L342.0,455.0L342.6,457.7L343.1,459.4L343.5,460.0L338.5,460.0L336.7,459.4L334.9,457.7L333.3,455.0L332.0,451.7L330.9,448.3L330.0,445.0L329.4,442.3L328.9,440.6L328.5,440.0ZM353.5,440.0L355.3,440.6L357.1,442.3L358.7,445.0L360.0,448.3L361.1,451.7L362.0,455.0L362.6,457.7L363.1,459.4L363.5,460.0L358.5,460.0L356.7,459.4L354.9,457.7L353.3,455.0L352.0,451.7L350.9,448.3L350.0,445.0L349.4,442.3L348.9,440.6L348.5,440.0ZM373.5,440.0L375.3,440.6L377.1,442.3L378.7,445.0L380.0,448.3L381.1,451.7L382.0,455.0L382.6,457.7L383.1,459.4L383.5,460.0L378.5,460.0L376.7,459.4L374.9,457.7L373.3,455.0L372.0,451.7L370.9,448.3L370.0,445.0L369.4,442.3L368.9,440.6L368.5,440.0ZM393.5,440.0L395.3,440.6L397.1,442.3L398.7,445.0L400.0,448.3L401.1,451.7L402.0,455.0L402.6,457.7L403.1,459.4L403.5,460.0L398.5,460.0L396.7,459.4L394.9,457.7L393.3,455.0L392.0,451.7L390.9,448.3L390.0,445.0L389.4,442.3L388.9,440.6L388.5,440.0ZM413.5,440.0L415.3,440.6L417.1,442.3L418.7,445.0L420.0,448.3L421.1,451.7L422.0,455.0L422.6,457.7L423.1,459.4L423.5,460.0L418.5,460.0L416.7,459.4L414.9,457.7L413.3,455.0L412.0,451.7L410.9,448.3L410.0,445.0L409.4,442.3L408.9,440.6L408.5,440.0ZM433.5,440.0L435.3,440.6L437.1,442.3L438.7,445.0L440.0,448.3L441.1,451.7L442.0,455.0L442.6,457.7L443.1,459.4L443.5,460.0L438.5,460.0L436.7,459.4L434.9,457.7L433.3,455.0L432.0,451.7L430.9,448.3L430.0,445.0L429.4,442.3L428.9,440.6L428.5,440.0Z" fill="#8b8dbc" stroke="#3d3e63" stroke-width="0.6" stroke-linejoin="round"/><path d="M292.0,446.0 L293.0,445.0 L294.4,443.5 L296.1,441.8 L298.0,440.5 L300.0,440.0 L301.7,440.3 L303.8,441.2 L306.0,442.3 L308.1,443.6 L310.0,444.8 L311.5,445.7 L312.0,446.0" fill="none" stroke="#3f4068" stroke-width="2.60" stroke-linecap="round" stroke-linejoin="round"/><path d="M292.0,446.0 L293.0,445.0 L294.4,443.5 L296.1,441.8 L298.0,440.5 L300.0,440.0 L301.7,440.3 L303.8,441.2 L306.0,442.3 L308.1,443.6 L310.0,444.8 L311.5,445.7 L312.0,446.0" fill="none" stroke="#6a6c9c" stroke-width="1.60" stroke-linecap="round" stroke-linejoin="round"/><path d="M315.6,434.4L316.1,433.2L315.9,431.3L315.0,429.0L313.7,426.4L312.0,423.9L310.3,421.7L308.9,419.9L307.9,418.8L307.5,418.5L304.3,421.6L303.8,422.9L304.0,424.8L304.9,427.1L306.3,429.6L307.9,432.2L309.6,434.4L311.0,436.2L312.0,437.3L312.4,437.6ZM323.5,426.5L324.0,425.3L323.8,423.4L322.9,421.1L321.6,418.5L319.9,416.0L318.3,413.7L316.8,412.0L315.8,410.9L315.4,410.5L312.3,413.7L311.7,415.0L311.9,416.8L312.8,419.2L314.2,421.7L315.8,424.3L317.5,426.5L319.0,428.3L320.0,429.3L320.3,429.7ZM331.4,418.6L331.9,417.4L331.7,415.5L330.9,413.1L329.5,410.6L327.8,408.1L326.2,405.8L324.7,404.1L323.7,403.0L323.4,402.6L320.2,405.8L319.7,407.0L319.9,408.9L320.7,411.3L322.1,413.8L323.8,416.3L325.4,418.6L326.9,420.3L327.9,421.4L328.2,421.8ZM339.3,410.7L339.9,409.4L339.7,407.6L338.8,405.2L337.4,402.7L335.8,400.1L334.1,397.9L332.6,396.2L331.6,395.1L331.3,394.7L328.1,397.9L327.6,399.1L327.8,401.0L328.7,403.3L330.0,405.9L331.7,408.4L333.3,410.7L334.8,412.4L335.8,413.5L336.2,413.9Z" fill="#5f6190" stroke="#3d3e63" stroke-width="0.6" stroke-linejoin="round"/><path d="M310.1,430.0L312.4,431.6L314.1,433.1L315.2,434.1L315.6,434.4L312.4,437.6L311.2,438.1L309.3,437.9L306.9,437.1L304.4,435.7ZM307.5,418.5L308.8,417.9L310.6,418.1L313.0,419.0L315.5,420.4L318.1,422.0L320.3,423.7L322.1,425.2L323.1,426.2L323.5,426.5L320.3,429.7L319.1,430.2L317.2,430.0L314.9,429.1L312.3,427.8L309.8,426.1L307.5,424.5L305.8,423.0L304.7,422.0L304.3,421.6ZM315.4,410.5L316.7,410.0L318.6,410.2L320.9,411.1L323.4,412.5L326.0,414.1L328.2,415.8L330.0,417.2L331.1,418.2L331.4,418.6L328.2,421.8L327.0,422.3L325.1,422.1L322.8,421.2L320.2,419.9L317.7,418.2L315.5,416.5L313.7,415.1L312.6,414.1L312.3,413.7ZM323.4,402.6L324.6,402.1L326.5,402.3L328.8,403.2L331.4,404.5L333.9,406.2L336.1,407.9L337.9,409.3L339.0,410.3L339.3,410.7L336.2,413.9L334.9,414.4L333.0,414.2L330.7,413.3L328.2,411.9L325.6,410.3L323.4,408.6L321.6,407.2L320.5,406.2L320.2,405.8ZM331.3,394.7L332.5,394.2L334.4,394.4L336.7,395.3L339.3,396.6L341.8,398.3L336.1,404.0L333.5,402.4L331.3,400.7L329.5,399.2L328.5,398.2L328.1,397.9Z" fill="#8b8dbc" stroke="#3d3e63" stroke-width="0.6" stroke-linejoin="round"/><path d="M395.6,411.6L396.8,412.1L398.7,411.9L401.0,411.0L403.6,409.7L406.1,408.0L408.3,406.3L410.1,404.9L411.2,403.9L411.5,403.5L408.4,400.3L407.1,399.8L405.2,400.0L402.9,400.9L400.4,402.3L397.8,403.9L395.6,405.6L393.8,407.0L392.7,408.0L392.4,408.4ZM403.5,419.5L404.7,420.0L406.6,419.8L408.9,418.9L411.5,417.6L414.0,415.9L416.3,414.3L418.0,412.8L419.1,411.8L419.5,411.4L416.3,408.3L415.0,407.7L413.2,407.9L410.8,408.8L408.3,410.2L405.7,411.8L403.5,413.5L401.7,415.0L400.7,416.0L400.3,416.3ZM411.4,427.4L412.6,427.9L414.5,427.7L416.9,426.9L419.4,425.5L421.9,423.8L424.2,422.2L425.9,420.7L427.0,419.7L427.4,419.4L424.2,416.2L423.0,415.7L421.1,415.9L418.7,416.7L416.2,418.1L413.7,419.8L411.4,421.4L409.7,422.9L408.6,423.9L408.2,424.2ZM419.3,435.3L420.6,435.9L422.4,435.7L424.8,434.8L427.3,433.4L429.9,431.8L432.1,430.1L433.8,428.6L434.9,427.6L435.3,427.3L432.1,424.1L430.9,423.6L429.0,423.8L426.7,424.7L424.1,426.0L421.6,427.7L419.3,429.3L417.6,430.8L416.5,431.8L416.1,432.2Z" fill="#5f6190" stroke="#3d3e63" stroke-width="0.6" stroke-linejoin="round"/><path d="M400.0,406.1L398.4,408.4L396.9,410.1L395.9,411.2L395.6,411.6L392.4,408.4L391.9,407.2L392.1,405.3L392.9,402.9L394.3,400.4ZM411.5,403.5L412.1,404.8L411.9,406.6L411.0,409.0L409.6,411.5L408.0,414.1L406.3,416.3L404.8,418.1L403.8,419.1L403.5,419.5L400.3,416.3L399.8,415.1L400.0,413.2L400.9,410.9L402.2,408.3L403.9,405.8L405.5,403.5L407.0,401.8L408.0,400.7L408.4,400.3ZM419.5,411.4L420.0,412.7L419.8,414.6L418.9,416.9L417.5,419.4L415.9,422.0L414.2,424.2L412.8,426.0L411.8,427.1L411.4,427.4L408.2,424.2L407.7,423.0L407.9,421.1L408.8,418.8L410.1,416.2L411.8,413.7L413.5,411.5L414.9,409.7L415.9,408.6L416.3,408.3ZM427.4,419.4L427.9,420.6L427.7,422.5L426.8,424.8L425.5,427.4L423.8,429.9L422.1,432.1L420.7,433.9L419.7,435.0L419.3,435.3L416.1,432.2L415.6,430.9L415.8,429.0L416.7,426.7L418.1,424.2L419.7,421.6L421.4,419.4L422.8,417.6L423.8,416.5L424.2,416.2ZM435.3,427.3L435.8,428.5L435.6,430.4L434.7,432.7L433.4,435.3L431.7,437.8L430.1,440.1L428.6,441.8L427.6,442.9L427.2,443.3L424.1,440.1L423.5,438.8L423.7,437.0L424.6,434.6L426.0,432.1L427.6,429.5L429.3,427.3L430.8,425.5L431.8,424.5L432.1,424.1Z" fill="#8b8dbc" stroke="#3d3e63" stroke-width="0.6" stroke-linejoin="round"/><path d="M306.0,432.0 L304.7,432.8 L302.7,434.0 L300.6,435.3 L298.8,436.7 L298.0,438.0 L298.4,439.7 L299.8,441.6 L301.8,443.2 L304.0,444.0 L305.8,443.9 L308.0,443.3 L310.4,442.4 L312.7,441.4 L314.6,440.6 L316.0,440.0 L316.0,440.0" fill="none" stroke="#3f4068" stroke-width="2.60" stroke-linecap="round" stroke-linejoin="round"/><path d="M306.0,432.0 L304.7,432.8 L302.7,434.0 L300.6,435.3 L298.8,436.7 L298.0,438.0 L298.4,439.7 L299.8,441.6 L301.8,443.2 L304.0,444.0 L305.8,443.9 L308.0,443.3 L310.4,442.4 L312.7,441.4 L314.6,440.6 L316.0,440.0 L316.0,440.0" fill="none" stroke="#6a6c9c" stroke-width="1.60" stroke-linecap="round" stroke-linejoin="round"/><path d="M432.0,436.0 L433.4,436.4 L435.5,436.8 L437.9,437.4 L440.3,438.1 L442.4,438.9 L444.0,440.0 L445.2,441.7 L446.0,444.0 L446.4,446.3 L446.4,448.4 L446.0,450.0 L444.5,451.1 L442.1,451.6 L439.7,451.8 L438.0,452.0 L438.0,452.0" fill="none" stroke="#3f4068" stroke-width="2.60" stroke-linecap="round" stroke-linejoin="round"/><path d="M432.0,436.0 L433.4,436.4 L435.5,436.8 L437.9,437.4 L440.3,438.1 L442.4,438.9 L444.0,440.0 L445.2,441.7 L446.0,444.0 L446.4,446.3 L446.4,448.4 L446.0,450.0 L444.5,451.1 L442.1,451.6 L439.7,451.8 L438.0,452.0 L438.0,452.0" fill="none" stroke="#6a6c9c" stroke-width="1.60" stroke-linecap="round" stroke-linejoin="round"/><path d="M338.0,401.0L345.0,404.0L352.0,410.0L360.0,416.0L368.0,418.0L376.0,413.0L382.0,405.0L390.0,406.0L396.0,410.0M352.0,410.0L356.0,420.0L364.0,426.0L372.0,424.0M345.0,404.0L342.0,395.0M343.1,398.4L342.0,395.0M352.0,410.0L360.0,400.0M360.0,400.0L358.0,392.0M358.8,395.0L358.0,392.0M360.0,416.0L352.0,426.0M368.0,418.0L374.0,428.0M376.0,413.0L384.0,398.0M384.0,398.0L392.0,394.0M389.0,395.5L392.0,394.0M382.0,405.0L388.0,414.0M320.0,405.0L312.0,396.0M315.0,399.4L312.0,396.0M312.0,396.0L306.0,400.0M300.0,380.0L300.0,392.0M404.0,405.0L404.0,396.0M404.0,399.4L404.0,396.0M420.0,416.0L428.0,410.0M425.0,412.3L428.0,410.0M430.0,418.0L432.0,408.0M364.0,426.0L360.0,434.0M390.0,406.0L396.0,400.0M393.7,402.3L396.0,400.0" fill="none" stroke="#2a2a40" stroke-width="2.4" stroke-linecap="round" stroke-linejoin="round"/><path d="M338.0,401.0L333.0,396.1M339.1,401.7L331.5,403.4M334.4,402.7L331.5,403.4M341.3,403.2L336.4,404.2M344.0,405.0L343.3,399.4M347.0,407.0L348.3,402.6M347.8,404.3L348.3,402.6M350.1,408.9L354.0,408.2M352.5,408.4L354.0,408.2M353.8,411.1L351.9,418.7M352.6,415.8L351.9,418.7M356.6,413.1L361.3,412.1M360.5,415.7L357.5,419.3M358.6,417.9L357.5,419.3M363.4,417.2L366.0,411.4M365.0,413.6L366.0,411.4M366.2,418.0L363.0,422.2M364.2,420.6L363.0,422.2M368.8,417.8L367.6,413.7M368.0,415.3L367.6,413.7M372.6,414.8L369.1,419.2M375.5,411.2L371.9,409.3M373.3,410.0L371.9,409.3M378.4,407.7L382.7,406.4M380.5,405.7L376.8,410.5M378.2,408.7L376.8,410.5M384.1,404.8L385.2,399.4M389.9,406.7L394.4,409.6M392.7,408.5L394.4,409.6M393.0,408.4L398.5,405.6M396.4,406.6L398.5,405.6M395.4,409.8L397.4,403.5M396.6,405.9L397.4,403.5" fill="none" stroke="#2a2a40" stroke-width="2.2" stroke-linecap="round" stroke-linejoin="round"/><path d="M338.0,401.0L345.0,404.0L352.0,410.0L360.0,416.0L368.0,418.0L376.0,413.0L382.0,405.0L390.0,406.0L396.0,410.0M352.0,410.0L356.0,420.0L364.0,426.0L372.0,424.0" fill="none" stroke="#6e7096" stroke-width="1.5" stroke-linecap="round" stroke-linejoin="round"/><path d="M338.0,401.0L333.0,396.1M339.1,401.7L331.5,403.4M347.0,407.0L348.3,402.6M350.1,408.9L354.0,408.2M356.6,413.1L361.3,412.1M366.2,418.0L363.0,422.2M368.8,417.8L367.6,413.7M380.5,405.7L376.8,410.5M389.9,406.7L394.4,409.6M395.4,409.8L397.4,403.5" fill="none" stroke="#6e7096" stroke-width="1.3" stroke-linecap="round" stroke-linejoin="round"/><path d="M341.3,403.2L336.4,404.2M344.0,405.0L343.3,399.4M353.8,411.1L351.9,418.7M360.5,415.7L357.5,419.3M363.4,417.2L366.0,411.4M372.6,414.8L369.1,419.2M375.5,411.2L371.9,409.3M378.4,407.7L382.7,406.4M384.1,404.8L385.2,399.4M393.0,408.4L398.5,405.6" fill="none" stroke="#3a9e6e" stroke-width="1.3" stroke-linecap="round" stroke-linejoin="round"/><path d="M365.0,413.6L366.0,411.4M396.4,406.6L398.5,405.6M396.6,405.9L397.4,403.5" fill="none" stroke="#2a2a3a" stroke-width="1.3" stroke-linecap="round" stroke-linejoin="round"/><path d="M345.0,404.0L342.0,395.0M352.0,410.0L360.0,400.0M360.0,400.0L358.0,392.0M358.8,395.0L358.0,392.0M360.0,416.0L352.0,426.0M368.0,418.0L374.0,428.0M376.0,413.0L384.0,398.0M384.0,398.0L392.0,394.0M382.0,405.0L388.0,414.0M320.0,405.0L312.0,396.0M312.0,396.0L306.0,400.0M300.0,380.0L300.0,392.0M404.0,405.0L404.0,396.0M420.0,416.0L428.0,410.0M430.0,418.0L432.0,408.0M364.0,426.0L360.0,434.0M390.0,406.0L396.0,400.0" fill="none" stroke="#3a9e6e" stroke-width="1.5" stroke-linecap="round" stroke-linejoin="round"/><path d="M334.4,402.7L331.5,403.4M347.8,404.3L348.3,402.6M352.5,408.4L354.0,408.2M352.6,415.8L351.9,418.7M364.2,420.6L363.0,422.2M373.3,410.0L371.9,409.3M392.7,408.5L394.4,409.6" fill="none" stroke="#d02020" stroke-width="1.3" stroke-linecap="round" stroke-linejoin="round"/><path d="M358.6,417.9L357.5,419.3M368.0,415.3L367.6,413.7M378.2,408.7L376.8,410.5" fill="none" stroke="#2030d0" stroke-width="1.3" stroke-linecap="round" stroke-linejoin="round"/><path d="M343.1,398.4L342.0,395.0M389.0,395.5L392.0,394.0M315.0,399.4L312.0,396.0M425.0,412.3L428.0,410.0" fill="none" stroke="#2030d0" stroke-width="1.5" stroke-linecap="round" stroke-linejoin="round"/><path d="M404.0,399.4L404.0,396.0M393.7,402.3L396.0,400.0" fill="none" stroke="#d02020" stroke-width="1.5" stroke-linecap="round" stroke-linejoin="round"/></g><rect x="280.2" y="371.3" width="170.8" height="81.69999999999999" fill="none" stroke="#3bab78" stroke-width="1.1"/><clipPath id="ca2"><rect x="339" y="536.8" width="111.39999999999998" height="170.70000000000005"/></clipPath><g clip-path="url(#ca2)"><path d="M392.0,548.0 L402.0,560.0" fill="none" stroke="#5a7448" stroke-width="2.80" stroke-linecap="round" stroke-linejoin="round"/><path d="M392.0,548.0 L402.0,560.0" fill="none" stroke="#aed08f" stroke-width="1.70" stroke-linecap="round" stroke-linejoin="round"/><path d="M404.0,548.0 L414.0,560.0" fill="none" stroke="#5a7448" stroke-width="2.80" stroke-linecap="round" stroke-linejoin="round"/><path d="M404.0,548.0 L414.0,560.0" fill="none" stroke="#aed08f" stroke-width="1.70" stroke-linecap="round" stroke-linejoin="round"/><path d="M416.0,548.0 L426.0,560.0" fill="none" stroke="#5a7448" stroke-width="2.80" stroke-linecap="round" stroke-linejoin="round"/><path d="M416.0,548.0 L426.0,560.0" fill="none" stroke="#aed08f" stroke-width="1.70" stroke-linecap="round" stroke-linejoin="round"/><path d="M428.0,548.0 L438.0,560.0" fill="none" stroke="#5a7448" stroke-width="2.80" stroke-linecap="round" stroke-linejoin="round"/><path d="M428.0,548.0 L438.0,560.0" fill="none" stroke="#aed08f" stroke-width="1.70" stroke-linecap="round" stroke-linejoin="round"/><path d="M377.0,535.0 L377.8,536.1 L379.0,537.8 L380.4,539.7 L381.9,541.7 L383.5,543.5 L385.0,545.0 L386.6,546.3 L388.3,547.4 L390.0,548.4 L391.9,549.2 L393.9,549.8 L395.8,550.1 L397.6,550.3 L399.4,550.3 L401.4,550.2 L403.4,550.0 L405.5,549.8 L407.7,549.4 L410.0,549.0 L411.8,548.6 L413.6,548.1 L415.6,547.5 L417.5,546.9 L419.6,546.2 L421.6,545.6 L423.7,544.9 L425.8,544.2 L427.9,543.6 L430.0,543.0 L432.0,542.5 L434.2,542.0 L436.5,541.4 L438.8,540.9 L441.1,540.4 L443.4,539.9 L445.5,539.4 L447.5,539.0 L449.3,538.6 L450.8,538.3 L452.0,538.0 L452.0,538.0" fill="none" stroke="#5a7448" stroke-width="5.40" stroke-linecap="round" stroke-linejoin="round"/><path d="M377.0,535.0 L377.8,536.1 L379.0,537.8 L380.4,539.7 L381.9,541.7 L383.5,543.5 L385.0,545.0 L386.6,546.3 L388.3,547.4 L390.0,548.4 L391.9,549.2 L393.9,549.8 L395.8,550.1 L397.6,550.3 L399.4,550.3 L401.4,550.2 L403.4,550.0 L405.5,549.8 L407.7,549.4 L410.0,549.0 L411.8,548.6 L413.6,548.1 L415.6,547.5 L417.5,546.9 L419.6,546.2 L421.6,545.6 L423.7,544.9 L425.8,544.2 L427.9,543.6 L430.0,543.0 L432.0,542.5 L434.2,542.0 L436.5,541.4 L438.8,540.9 L441.1,540.4 L443.4,539.9 L445.5,539.4 L447.5,539.0 L449.3,538.6 L450.8,538.3 L452.0,538.0 L452.0,538.0" fill="none" stroke="#aed08f" stroke-width="3.60" stroke-linecap="round" stroke-linejoin="round"/><path d="M412.0,598.0 L412.3,596.8 L412.7,595.1 L413.2,593.1 L413.7,591.0 L414.3,588.6 L414.9,586.3 L415.6,584.0 L416.3,581.9 L417.0,580.0 L417.9,578.0 L418.8,576.1 L419.7,574.4 L420.8,572.7 L421.9,571.1 L423.0,569.5 L424.3,567.8 L425.6,566.3 L427.0,564.8 L428.4,563.2 L429.9,561.7 L431.5,560.3 L433.1,558.8 L434.8,557.5 L436.4,556.2 L438.0,555.0 L439.9,553.8 L442.0,552.6 L444.2,551.5 L446.3,550.5 L448.3,549.6 L450.1,548.9 L451.5,548.3 L452.0,548.0" fill="none" stroke="#5a7448" stroke-width="5.40" stroke-linecap="round" stroke-linejoin="round"/><path d="M412.0,598.0 L412.3,596.8 L412.7,595.1 L413.2,593.1 L413.7,591.0 L414.3,588.6 L414.9,586.3 L415.6,584.0 L416.3,581.9 L417.0,580.0 L417.9,578.0 L418.8,576.1 L419.7,574.4 L420.8,572.7 L421.9,571.1 L423.0,569.5 L424.3,567.8 L425.6,566.3 L427.0,564.8 L428.4,563.2 L429.9,561.7 L431.5,560.3 L433.1,558.8 L434.8,557.5 L436.4,556.2 L438.0,555.0 L439.9,553.8 L442.0,552.6 L444.2,551.5 L446.3,550.5 L448.3,549.6 L450.1,548.9 L451.5,548.3 L452.0,548.0" fill="none" stroke="#aed08f" stroke-width="3.60" stroke-linecap="round" stroke-linejoin="round"/><path d="M420.0,570.0 L452.0,560.0" fill="none" stroke="#5a7448" stroke-width="2.80" stroke-linecap="round" stroke-linejoin="round"/><path d="M420.0,570.0 L452.0,560.0" fill="none" stroke="#aed08f" stroke-width="1.70" stroke-linecap="round" stroke-linejoin="round"/><path d="M420.0,582.0 L452.0,572.0" fill="none" stroke="#5a7448" stroke-width="2.80" stroke-linecap="round" stroke-linejoin="round"/><path d="M420.0,582.0 L452.0,572.0" fill="none" stroke="#aed08f" stroke-width="1.70" stroke-linecap="round" stroke-linejoin="round"/><path d="M420.0,594.0 L452.0,584.0" fill="none" stroke="#5a7448" stroke-width="2.80" stroke-linecap="round" stroke-linejoin="round"/><path d="M420.0,594.0 L452.0,584.0" fill="none" stroke="#aed08f" stroke-width="1.70" stroke-linecap="round" stroke-linejoin="round"/><path d="M452.0,612.0 L451.0,612.8 L449.7,613.9 L448.1,615.3 L446.3,616.8 L444.4,618.3 L442.6,619.8 L440.8,621.3 L439.2,622.7 L437.6,624.0 L435.9,625.3 L434.3,626.7 L432.7,628.0 L431.1,629.3 L429.5,630.7 L428.0,632.0 L426.4,633.4 L424.9,634.8 L423.3,636.1 L421.8,637.5 L420.4,638.9 L419.1,640.4 L418.0,642.0 L416.9,643.8 L415.8,645.8 L414.8,647.8 L414.0,649.9 L413.4,651.9 L413.0,654.0 L413.1,656.0 L413.6,658.3 L414.4,660.6 L415.5,662.9 L416.5,665.0 L417.4,666.7 L418.0,668.0 L418.0,668.0" fill="none" stroke="#5a7448" stroke-width="5.40" stroke-linecap="round" stroke-linejoin="round"/><path d="M452.0,612.0 L451.0,612.8 L449.7,613.9 L448.1,615.3 L446.3,616.8 L444.4,618.3 L442.6,619.8 L440.8,621.3 L439.2,622.7 L437.6,624.0 L435.9,625.3 L434.3,626.7 L432.7,628.0 L431.1,629.3 L429.5,630.7 L428.0,632.0 L426.4,633.4 L424.9,634.8 L423.3,636.1 L421.8,637.5 L420.4,638.9 L419.1,640.4 L418.0,642.0 L416.9,643.8 L415.8,645.8 L414.8,647.8 L414.0,649.9 L413.4,651.9 L413.0,654.0 L413.1,656.0 L413.6,658.3 L414.4,660.6 L415.5,662.9 L416.5,665.0 L417.4,666.7 L418.0,668.0 L418.0,668.0" fill="none" stroke="#aed08f" stroke-width="3.60" stroke-linecap="round" stroke-linejoin="round"/><path d="M425.0,630.0 L452.0,626.0" fill="none" stroke="#5a7448" stroke-width="2.80" stroke-linecap="round" stroke-linejoin="round"/><path d="M425.0,630.0 L452.0,626.0" fill="none" stroke="#aed08f" stroke-width="1.70" stroke-linecap="round" stroke-linejoin="round"/><path d="M425.0,642.0 L452.0,638.0" fill="none" stroke="#5a7448" stroke-width="2.80" stroke-linecap="round" stroke-linejoin="round"/><path d="M425.0,642.0 L452.0,638.0" fill="none" stroke="#aed08f" stroke-width="1.70" stroke-linecap="round" stroke-linejoin="round"/><path d="M425.0,655.0 L452.0,651.0" fill="none" stroke="#5a7448" stroke-width="2.80" stroke-linecap="round" stroke-linejoin="round"/><path d="M425.0,655.0 L452.0,651.0" fill="none" stroke="#aed08f" stroke-width="1.70" stroke-linecap="round" stroke-linejoin="round"/><path d="M425.0,668.0 L452.0,664.0" fill="none" stroke="#5a7448" stroke-width="2.80" stroke-linecap="round" stroke-linejoin="round"/><path d="M425.0,668.0 L452.0,664.0" fill="none" stroke="#aed08f" stroke-width="1.70" stroke-linecap="round" stroke-linejoin="round"/><path d="M385.0,710.0 L385.6,708.9 L386.4,707.3 L387.2,705.5 L388.2,703.4 L389.3,701.3 L390.6,699.2 L391.9,697.3 L393.3,695.7 L394.8,694.4 L396.4,693.3 L398.1,692.4 L399.9,691.6 L401.8,691.0 L403.8,690.4 L405.8,689.9 L407.9,689.4 L410.0,689.0 L411.8,688.7 L413.7,688.4 L415.6,688.2 L417.6,688.0 L419.6,687.9 L421.7,687.8 L423.7,687.8 L425.8,687.8 L427.9,687.9 L430.0,688.0 L432.0,688.2 L434.2,688.5 L436.5,688.8 L438.8,689.3 L441.1,689.7 L443.4,690.2 L445.5,690.6 L447.5,691.1 L449.3,691.4 L450.8,691.8 L452.0,692.0 L452.0,692.0" fill="none" stroke="#5a7448" stroke-width="5.40" stroke-linecap="round" stroke-linejoin="round"/><path d="M385.0,710.0 L385.6,708.9 L386.4,707.3 L387.2,705.5 L388.2,703.4 L389.3,701.3 L390.6,699.2 L391.9,697.3 L393.3,695.7 L394.8,694.4 L396.4,693.3 L398.1,692.4 L399.9,691.6 L401.8,691.0 L403.8,690.4 L405.8,689.9 L407.9,689.4 L410.0,689.0 L411.8,688.7 L413.7,688.4 L415.6,688.2 L417.6,688.0 L419.6,687.9 L421.7,687.8 L423.7,687.8 L425.8,687.8 L427.9,687.9 L430.0,688.0 L432.0,688.2 L434.2,688.5 L436.5,688.8 L438.8,689.3 L441.1,689.7 L443.4,690.2 L445.5,690.6 L447.5,691.1 L449.3,691.4 L450.8,691.8 L452.0,692.0 L452.0,692.0" fill="none" stroke="#aed08f" stroke-width="3.60" stroke-linecap="round" stroke-linejoin="round"/><path d="M430.0,710.0 L430.9,709.0 L432.1,707.7 L433.5,706.0 L435.0,704.3 L436.7,702.6 L438.4,701.1 L440.0,700.0 L442.0,699.1 L444.3,698.4 L446.6,697.9 L448.8,697.5 L450.7,697.2 L452.0,697.0 L452.0,697.0" fill="none" stroke="#5a7448" stroke-width="4.80" stroke-linecap="round" stroke-linejoin="round"/><path d="M430.0,710.0 L430.9,709.0 L432.1,707.7 L433.5,706.0 L435.0,704.3 L436.7,702.6 L438.4,701.1 L440.0,700.0 L442.0,699.1 L444.3,698.4 L446.6,697.9 L448.8,697.5 L450.7,697.2 L452.0,697.0 L452.0,697.0" fill="none" stroke="#aed08f" stroke-width="3.00" stroke-linecap="round" stroke-linejoin="round"/><path d="M337.9,560.2L339.4,560.0L341.3,558.6L343.3,556.2L345.3,553.0L347.1,549.6L348.6,546.3L349.8,543.6L350.5,541.8L350.7,541.2L346.0,539.7L344.5,539.9L342.6,541.3L340.6,543.7L338.6,546.8L336.8,550.3L335.2,553.5L334.1,556.2L333.4,558.0L333.2,558.7ZM349.8,564.1L351.3,563.9L353.1,562.5L355.1,560.0L357.1,556.9L359.0,553.5L360.5,550.2L361.7,547.5L362.3,545.7L362.6,545.1L357.9,543.6L356.3,543.8L354.5,545.2L352.5,547.6L350.5,550.7L348.7,554.1L347.1,557.4L346.0,560.1L345.3,561.9L345.1,562.5ZM361.7,567.9L363.2,567.7L365.0,566.3L367.0,563.9L369.0,560.8L370.9,557.4L372.4,554.1L373.6,551.4L374.2,549.6L374.4,549.0L369.7,547.4L368.2,547.6L366.4,549.0L364.4,551.5L362.4,554.6L360.5,558.0L359.0,561.3L357.9,564.0L357.2,565.8L357.0,566.4ZM373.6,571.8L375.1,571.6L376.9,570.2L378.9,567.8L380.9,564.7L382.8,561.2L384.3,558.0L385.4,555.3L386.1,553.5L386.3,552.8L381.6,551.3L380.1,551.5L378.3,552.9L376.3,555.3L374.3,558.5L372.4,561.9L370.9,565.2L369.7,567.9L369.1,569.7L368.9,570.3Z" fill="#5f6190" stroke="#3d3e63" stroke-width="0.6" stroke-linejoin="round"/><path d="M340.0,551.3L339.3,554.9L338.6,557.7L338.1,559.6L337.9,560.2L333.2,558.7L332.1,557.6L331.5,555.4L331.3,552.2L331.5,548.5ZM350.7,541.2L351.8,542.3L352.4,544.5L352.6,547.6L352.4,551.3L351.9,555.2L351.2,558.7L350.5,561.6L350.0,563.4L349.8,564.1L345.1,562.5L344.0,561.5L343.3,559.3L343.2,556.1L343.4,552.4L343.9,548.6L344.6,545.0L345.3,542.2L345.8,540.3L346.0,539.7ZM362.6,545.1L363.7,546.1L364.3,548.4L364.5,551.5L364.3,555.2L363.7,559.1L363.1,562.6L362.4,565.5L361.9,567.3L361.7,567.9L357.0,566.4L355.9,565.4L355.2,563.1L355.0,560.0L355.3,556.3L355.8,552.4L356.5,548.9L357.1,546.0L357.7,544.2L357.9,543.6ZM374.4,549.0L375.6,550.0L376.2,552.2L376.4,555.4L376.2,559.1L375.6,562.9L374.9,566.5L374.3,569.3L373.8,571.2L373.6,571.8L368.9,570.3L367.8,569.2L367.1,567.0L366.9,563.9L367.2,560.2L367.7,556.3L368.4,552.8L369.0,549.9L369.5,548.1L369.7,547.4ZM386.3,552.8L387.4,553.9L388.1,556.1L380.9,553.8L381.4,551.9L381.6,551.3Z" fill="#8b8dbc" stroke="#3d3e63" stroke-width="0.6" stroke-linejoin="round"/><path d="M335.0,609.5L336.6,609.6L338.9,608.4L341.5,606.2L344.4,603.2L347.1,599.9L349.5,596.7L351.3,594.0L352.4,592.2L352.8,591.6L348.3,589.0L346.7,588.9L344.5,590.1L341.8,592.3L339.0,595.3L336.3,598.6L333.9,601.8L332.1,604.5L330.9,606.3L330.6,606.9ZM346.4,616.0L348.0,616.1L350.3,614.9L352.9,612.7L355.7,609.7L358.5,606.4L360.9,603.2L362.7,600.5L363.8,598.7L364.2,598.1L359.7,595.5L358.1,595.4L355.9,596.6L353.2,598.8L350.4,601.8L347.7,605.1L345.3,608.3L343.4,611.0L342.3,612.8L341.9,613.4ZM357.8,622.5L359.4,622.6L361.6,621.4L364.3,619.2L367.1,616.2L369.8,612.9L372.2,609.7L374.1,607.0L375.2,605.2L375.6,604.6L371.1,602.0L369.5,601.9L367.2,603.1L364.6,605.3L361.8,608.3L359.0,611.6L356.6,614.8L354.8,617.5L353.7,619.3L353.3,619.9ZM369.1,629.0L370.8,629.1L373.0,627.9L375.7,625.7L378.5,622.7L381.2,619.4L383.6,616.2L385.4,613.5L386.6,611.7L386.9,611.1L382.5,608.5L380.8,608.4L378.6,609.6L376.0,611.8L373.1,614.8L370.4,618.1L368.0,621.3L366.2,624.0L365.0,625.8L364.7,626.4ZM380.5,635.5L382.1,635.6L384.4,634.4L387.0,632.2L389.9,629.2L392.6,625.9L395.0,622.7L396.8,620.0L397.9,618.2L398.3,617.6L393.8,615.0L392.2,614.9L390.0,616.1L387.3,618.3L384.5,621.3L381.8,624.6L379.4,627.8L377.6,630.5L376.4,632.3L376.1,632.9Z" fill="#5f6190" stroke="#3d3e63" stroke-width="0.6" stroke-linejoin="round"/><path d="M339.3,600.3L337.7,604.0L336.4,607.0L335.4,608.9L335.0,609.5L330.6,606.9L329.7,605.6L329.5,603.1L330.1,599.7L331.2,595.7ZM352.8,591.6L353.7,592.9L353.8,595.4L353.3,598.8L352.1,602.8L350.7,606.8L349.1,610.5L347.7,613.5L346.8,615.4L346.4,616.0L341.9,613.4L341.0,612.1L340.9,609.6L341.5,606.2L342.6,602.2L344.1,598.2L345.6,594.5L347.0,591.5L348.0,589.6L348.3,589.0ZM364.2,598.1L365.1,599.4L365.2,601.9L364.6,605.3L363.5,609.3L362.0,613.3L360.5,617.0L359.1,620.0L358.1,621.9L357.8,622.5L353.3,619.9L352.4,618.6L352.3,616.1L352.9,612.7L354.0,608.7L355.4,604.7L357.0,601.0L358.4,598.0L359.4,596.1L359.7,595.5ZM375.6,604.6L376.5,605.9L376.6,608.4L376.0,611.8L374.9,615.8L373.4,619.8L371.9,623.5L370.5,626.5L369.5,628.4L369.1,629.0L364.7,626.4L363.8,625.1L363.7,622.6L364.2,619.2L365.4,615.2L366.8,611.2L368.4,607.5L369.8,604.5L370.7,602.6L371.1,602.0ZM386.9,611.1L387.8,612.4L388.0,614.9L387.4,618.3L386.3,622.3L384.8,626.3L383.2,630.0L381.8,633.0L380.9,634.8L380.5,635.5L376.1,632.9L375.2,631.6L375.0,629.1L375.6,625.7L376.7,621.7L378.2,617.7L379.8,614.0L381.1,611.0L382.1,609.1L382.5,608.5ZM398.3,617.6L399.2,618.9L399.3,621.4L398.8,624.8L391.1,620.5L392.5,617.5L393.5,615.6L393.8,615.0Z" fill="#8b8dbc" stroke="#3d3e63" stroke-width="0.6" stroke-linejoin="round"/><path d="M336.8,662.9L338.3,662.7L340.3,661.4L342.5,658.9L344.8,655.8L347.0,652.3L348.9,649.0L350.2,646.2L351.1,644.4L351.4,643.7L346.8,641.9L345.2,642.0L343.3,643.4L341.0,645.8L338.7,648.9L336.6,652.4L334.7,655.7L333.3,658.5L332.5,660.3L332.2,661.0ZM348.4,667.6L349.9,667.5L351.9,666.1L354.1,663.7L356.4,660.5L358.6,657.1L360.4,653.7L361.8,651.0L362.7,649.1L362.9,648.5L358.4,646.6L356.8,646.7L354.8,648.1L352.6,650.5L350.3,653.7L348.1,657.1L346.3,660.5L344.9,663.2L344.1,665.1L343.8,665.7ZM359.9,672.3L361.5,672.2L363.4,670.8L365.7,668.4L368.0,665.3L370.1,661.8L372.0,658.5L373.4,655.7L374.2,653.9L374.5,653.2L369.9,651.3L368.4,651.5L366.4,652.8L364.2,655.3L361.9,658.4L359.7,661.9L357.9,665.2L356.5,668.0L355.6,669.8L355.4,670.5ZM371.5,677.1L373.0,676.9L375.0,675.6L377.2,673.1L379.5,670.0L381.7,666.5L383.6,663.2L385.0,660.4L385.8,658.6L386.1,657.9L381.5,656.1L379.9,656.2L378.0,657.6L375.7,660.0L373.4,663.1L371.3,666.6L369.4,669.9L368.0,672.7L367.2,674.5L366.9,675.2Z" fill="#5f6190" stroke="#3d3e63" stroke-width="0.6" stroke-linejoin="round"/><path d="M339.7,653.7L338.7,657.4L337.7,660.3L337.0,662.2L336.8,662.9L332.2,661.0L331.2,659.8L330.8,657.5L330.9,654.2L331.4,650.3ZM351.4,643.7L352.4,644.9L352.8,647.3L352.7,650.6L352.1,654.4L351.3,658.4L350.2,662.1L349.3,665.0L348.6,666.9L348.4,667.6L343.8,665.7L342.8,664.5L342.3,662.2L342.4,658.9L343.0,655.0L343.9,651.0L344.9,647.4L345.8,644.4L346.5,642.5L346.8,641.9ZM362.9,648.5L363.9,649.7L364.4,652.0L364.3,655.3L363.7,659.2L362.8,663.2L361.8,666.8L360.9,669.8L360.2,671.7L359.9,672.3L355.4,670.5L354.3,669.3L353.9,666.9L354.0,663.6L354.6,659.8L355.5,655.8L356.5,652.1L357.4,649.2L358.1,647.3L358.4,646.6ZM374.5,653.2L375.5,654.4L376.0,656.7L375.8,660.0L375.3,663.9L374.4,667.9L373.4,671.6L372.4,674.5L371.8,676.4L371.5,677.1L366.9,675.2L365.9,674.0L365.5,671.7L365.6,668.4L366.1,664.5L367.0,660.5L368.0,656.8L369.0,653.9L369.7,652.0L369.9,651.3Z" fill="#8b8dbc" stroke="#3d3e63" stroke-width="0.6" stroke-linejoin="round"/><path d="M338.0,701.0L339.4,700.8L341.1,699.6L343.0,697.5L344.8,694.7L346.5,691.7L348.0,688.8L349.0,686.4L349.6,684.8L349.8,684.3L345.3,682.8L343.9,682.9L342.2,684.1L340.3,686.3L338.5,689.0L336.8,692.0L335.3,694.9L334.3,697.3L333.7,698.9L333.5,699.5ZM349.3,704.7L350.7,704.6L352.4,703.4L354.3,701.3L356.1,698.5L357.8,695.5L359.2,692.6L360.3,690.2L360.9,688.6L361.1,688.0L356.6,686.5L355.2,686.7L353.5,687.9L351.6,690.0L349.7,692.8L348.0,695.8L346.6,698.7L345.6,701.1L345.0,702.7L344.8,703.3ZM360.5,708.5L362.0,708.4L363.7,707.1L365.6,705.0L367.4,702.3L369.1,699.2L370.5,696.3L371.6,693.9L364.7,691.7L362.9,693.8L361.0,696.6L359.3,699.6L357.9,702.5L356.9,704.9L356.3,706.5L356.1,707.0Z" fill="#5f6190" stroke="#3d3e63" stroke-width="0.6" stroke-linejoin="round"/><path d="M339.8,693.1L339.2,696.2L338.6,698.8L338.1,700.4L338.0,701.0L333.5,699.5L332.4,698.5L331.8,696.5L331.6,693.7L331.7,690.4ZM349.8,684.3L350.9,685.2L351.5,687.3L351.7,690.1L351.6,693.4L351.1,696.8L350.5,700.0L349.9,702.5L349.4,704.2L349.3,704.7L344.8,703.3L343.7,702.3L343.1,700.3L342.9,697.5L343.0,694.1L343.5,690.7L344.1,687.5L344.7,685.0L345.1,683.3L345.3,682.8ZM361.1,688.0L362.2,689.0L362.8,691.0L363.0,693.8L362.8,697.2L362.4,700.6L361.8,703.8L361.2,706.3L360.7,707.9L360.5,708.5L356.1,707.0L355.0,706.0L354.4,704.0L354.1,701.2L354.3,697.9L354.8,694.5L355.4,691.3L356.0,688.7L356.4,687.1L356.6,686.5Z" fill="#8b8dbc" stroke="#3d3e63" stroke-width="0.6" stroke-linejoin="round"/><path d="M382.0,563.0 L382.6,564.2 L383.6,565.7 L384.7,567.6 L385.7,569.6 L386.6,571.8 L387.0,573.9 L386.9,575.9 L386.4,577.8 L385.7,579.8 L384.8,581.8 L383.8,583.9 L382.7,585.9 L381.5,587.7 L380.5,589.3 L379.2,591.0 L377.4,592.7 L375.6,593.9 L373.8,594.9 L372.5,595.7 L372.0,596.0" fill="none" stroke="#3f4068" stroke-width="2.60" stroke-linecap="round" stroke-linejoin="round"/><path d="M382.0,563.0 L382.6,564.2 L383.6,565.7 L384.7,567.6 L385.7,569.6 L386.6,571.8 L387.0,573.9 L386.9,575.9 L386.4,577.8 L385.7,579.8 L384.8,581.8 L383.8,583.9 L382.7,585.9 L381.5,587.7 L380.5,589.3 L379.2,591.0 L377.4,592.7 L375.6,593.9 L373.8,594.9 L372.5,595.7 L372.0,596.0" fill="none" stroke="#6a6c9c" stroke-width="1.60" stroke-linecap="round" stroke-linejoin="round"/><path d="M380.0,668.0 L380.7,669.2 L381.8,670.9 L383.1,672.9 L384.3,675.0 L385.3,677.1 L385.9,679.1 L385.9,681.0 L385.1,683.1 L383.7,685.2 L382.2,687.2 L380.9,688.8 L380.0,690.0 L380.0,690.0" fill="none" stroke="#3f4068" stroke-width="2.60" stroke-linecap="round" stroke-linejoin="round"/><path d="M380.0,668.0 L380.7,669.2 L381.8,670.9 L383.1,672.9 L384.3,675.0 L385.3,677.1 L385.9,679.1 L385.9,681.0 L385.1,683.1 L383.7,685.2 L382.2,687.2 L380.9,688.8 L380.0,690.0 L380.0,690.0" fill="none" stroke="#6a6c9c" stroke-width="1.60" stroke-linecap="round" stroke-linejoin="round"/><path d="M381.0,566.0L388.0,578.0L396.0,588.0L404.0,596.0L410.0,606.0L412.0,618.0L408.0,630.0L404.0,640.0L400.0,652.0L392.0,662.0L386.0,672.0L380.0,680.0M388.0,578.0L396.0,572.0L404.0,578.0L404.0,588.0M392.0,662.0L400.0,666.0L404.0,676.0L396.0,682.0M388.0,578.0L380.0,572.0M383.0,574.3L380.0,572.0M396.0,572.0L402.0,562.0M402.0,562.0L412.0,560.0M404.0,596.0L414.0,590.0M410.2,592.3L414.0,590.0M410.0,606.0L420.0,612.0M420.0,612.0L418.0,622.0M412.0,618.0L402.0,620.0M405.8,619.2L402.0,620.0M408.0,630.0L418.0,636.0M414.2,633.7L418.0,636.0M404.0,640.0L396.0,646.0M400.0,652.0L410.0,656.0M406.2,654.5L410.0,656.0M404.0,676.0L414.0,680.0M410.2,678.5L414.0,680.0M396.0,682.0L404.0,694.0M404.0,694.0L414.0,692.0M386.0,672.0L378.0,678.0M396.0,588.0L386.0,596.0M389.8,593.0L386.0,596.0M410.0,606.0L418.0,600.0" fill="none" stroke="#2a2a40" stroke-width="2.4" stroke-linecap="round" stroke-linejoin="round"/><path d="M381.0,566.0L381.5,572.2M381.7,567.0L376.0,563.9M383.0,568.9L383.7,576.9M384.5,571.3L381.6,567.8M385.7,573.0L392.8,573.7M387.0,574.9L388.3,567.7M389.6,578.8L394.6,574.1M391.6,581.8L384.7,578.1M387.3,579.5L384.7,578.1M393.0,583.7L396.2,587.4M394.8,586.4L398.3,581.9M396.7,588.9L391.2,585.7M393.3,586.9L391.2,585.7M399.6,592.2L406.2,591.8M403.7,592.0L406.2,591.8M401.8,594.6L407.0,591.0M405.0,592.4L407.0,591.0M404.8,597.6L409.8,597.2M406.8,600.0L411.1,599.7M408.9,603.3L414.6,604.0M412.4,603.7L414.6,604.0M409.7,605.1L406.5,602.3M407.7,603.4L406.5,602.3M410.4,607.8L414.9,605.4M413.2,606.3L414.9,605.4M410.7,609.7L416.3,612.7M414.2,611.5L416.3,612.7M410.7,613.6L409.4,618.5M409.9,616.7L409.4,618.5M410.5,616.7L417.8,614.7M410.1,619.8L404.4,624.7M406.6,622.9L404.4,624.7M409.5,623.0L415.1,620.8M413.0,621.6L415.1,620.8M408.6,627.1L404.0,629.0M405.8,628.3L404.0,629.0M408.2,629.0L402.8,632.3M407.5,632.0L411.9,636.8M410.3,635.0L411.9,636.8M406.8,635.0L402.7,640.4M404.2,638.3L402.7,640.4M405.9,637.9L409.8,636.7M404.9,640.8L401.1,638.0M402.6,639.0L401.1,638.0M403.8,643.6L403.2,650.8M403.5,648.0L403.2,650.8M402.2,647.4L400.4,643.3M401.1,644.8L400.4,643.3M400.9,650.2L403.1,655.5M402.3,653.5L403.1,655.5M399.5,652.9L405.9,650.8M403.5,651.6L405.9,650.8M398.5,654.7L398.2,649.8M398.3,651.6L398.2,649.8M397.3,656.4L401.8,660.6M396.1,658.2L394.8,665.3M394.2,660.9L397.7,664.6M396.4,663.2L397.7,664.6M392.2,663.5L388.8,659.6M390.1,661.1L388.8,659.6M390.3,666.0L392.5,669.3M387.9,669.2L380.8,672.3M383.5,671.1L380.8,672.3M386.9,670.6L380.2,672.5M382.7,671.8L380.2,672.5M385.3,673.2L391.0,668.4M388.8,670.3L391.0,668.4M383.9,675.6L384.1,679.7M381.9,679.7L387.9,675.1M385.7,676.9L387.9,675.1M380.8,682.2L385.2,686.4M383.5,684.8L385.2,686.4" fill="none" stroke="#2a2a40" stroke-width="2.2" stroke-linecap="round" stroke-linejoin="round"/><path d="M381.0,566.0L388.0,578.0L396.0,588.0L404.0,596.0L410.0,606.0L412.0,618.0L408.0,630.0L404.0,640.0L400.0,652.0L392.0,662.0L386.0,672.0L380.0,680.0M388.0,578.0L396.0,572.0L404.0,578.0L404.0,588.0M392.0,662.0L400.0,666.0L404.0,676.0L396.0,682.0" fill="none" stroke="#6e7096" stroke-width="1.5" stroke-linecap="round" stroke-linejoin="round"/><path d="M381.7,567.0L376.0,563.9M384.5,571.3L381.6,567.8M389.6,578.8L394.6,574.1M393.0,583.7L396.2,587.4M394.8,586.4L398.3,581.9M396.7,588.9L391.2,585.7M401.8,594.6L407.0,591.0M406.8,600.0L411.1,599.7M409.7,605.1L406.5,602.3M410.7,613.6L409.4,618.5M410.1,619.8L404.4,624.7M406.8,635.0L402.7,640.4M400.9,650.2L403.1,655.5M396.1,658.2L394.8,665.3M394.2,660.9L397.7,664.6M390.3,666.0L392.5,669.3M387.9,669.2L380.8,672.3M386.9,670.6L380.2,672.5M385.3,673.2L391.0,668.4M383.9,675.6L384.1,679.7" fill="none" stroke="#6e7096" stroke-width="1.3" stroke-linecap="round" stroke-linejoin="round"/><path d="M381.0,566.0L381.5,572.2M383.0,568.9L383.7,576.9M385.7,573.0L392.8,573.7M387.0,574.9L388.3,567.7M391.6,581.8L384.7,578.1M399.6,592.2L406.2,591.8M404.8,597.6L409.8,597.2M408.9,603.3L414.6,604.0M410.4,607.8L414.9,605.4M410.7,609.7L416.3,612.7M410.5,616.7L417.8,614.7M409.5,623.0L415.1,620.8M408.6,627.1L404.0,629.0M408.2,629.0L402.8,632.3M407.5,632.0L411.9,636.8M405.9,637.9L409.8,636.7M404.9,640.8L401.1,638.0M403.8,643.6L403.2,650.8M402.2,647.4L400.4,643.3M399.5,652.9L405.9,650.8M398.5,654.7L398.2,649.8M397.3,656.4L401.8,660.6M392.2,663.5L388.8,659.6M381.9,679.7L387.9,675.1M380.8,682.2L385.2,686.4" fill="none" stroke="#f0d020" stroke-width="1.3" stroke-linecap="round" stroke-linejoin="round"/><path d="M387.3,579.5L384.7,578.1M403.7,592.0L406.2,591.8M407.7,603.4L406.5,602.3M409.9,616.7L409.4,618.5M405.8,628.3L404.0,629.0M410.3,635.0L411.9,636.8M402.6,639.0L401.1,638.0M401.1,644.8L400.4,643.3M398.3,651.6L398.2,649.8M396.4,663.2L397.7,664.6M382.7,671.8L380.2,672.5M388.8,670.3L391.0,668.4" fill="none" stroke="#2a2a3a" stroke-width="1.3" stroke-linecap="round" stroke-linejoin="round"/><path d="M388.0,578.0L380.0,572.0M396.0,572.0L402.0,562.0M402.0,562.0L412.0,560.0M404.0,596.0L414.0,590.0M410.0,606.0L420.0,612.0M420.0,612.0L418.0,622.0M412.0,618.0L402.0,620.0M408.0,630.0L418.0,636.0M404.0,640.0L396.0,646.0M400.0,652.0L410.0,656.0M404.0,676.0L414.0,680.0M396.0,682.0L404.0,694.0M404.0,694.0L414.0,692.0M386.0,672.0L378.0,678.0M396.0,588.0L386.0,596.0M410.0,606.0L418.0,600.0" fill="none" stroke="#f0d020" stroke-width="1.5" stroke-linecap="round" stroke-linejoin="round"/><path d="M393.3,586.9L391.2,585.7M412.4,603.7L414.6,604.0M413.2,606.3L414.9,605.4M406.6,622.9L404.4,624.7M404.2,638.3L402.7,640.4M403.5,648.0L403.2,650.8M402.3,653.5L403.1,655.5M390.1,661.1L388.8,659.6M385.7,676.9L387.9,675.1M383.5,684.8L385.2,686.4" fill="none" stroke="#2030d0" stroke-width="1.3" stroke-linecap="round" stroke-linejoin="round"/><path d="M405.0,592.4L407.0,591.0M414.2,611.5L416.3,612.7M413.0,621.6L415.1,620.8M403.5,651.6L405.9,650.8M383.5,671.1L380.8,672.3" fill="none" stroke="#d02020" stroke-width="1.3" stroke-linecap="round" stroke-linejoin="round"/><path d="M383.0,574.3L380.0,572.0M414.2,633.7L418.0,636.0M410.2,678.5L414.0,680.0" fill="none" stroke="#d02020" stroke-width="1.5" stroke-linecap="round" stroke-linejoin="round"/><path d="M410.2,592.3L414.0,590.0M405.8,619.2L402.0,620.0M406.2,654.5L410.0,656.0M389.8,593.0L386.0,596.0" fill="none" stroke="#2030d0" stroke-width="1.5" stroke-linecap="round" stroke-linejoin="round"/></g><rect x="339" y="536.8" width="111.39999999999998" height="170.70000000000005" fill="none" stroke="#f2de2e" stroke-width="1.1"/><clipPath id="cb2"><rect x="23.4" y="626.6" width="169.9" height="81.39999999999998"/></clipPath><g clip-path="url(#cb2)"><path d="M66.6,651.2L68.7,650.6L70.8,648.8L72.7,645.9L74.4,642.4L75.9,638.6L77.0,635.0L77.9,632.1L78.6,630.2L79.2,629.6L73.4,629.4L71.3,630.0L69.2,631.9L67.3,634.8L65.6,638.3L64.1,642.1L63.0,645.6L62.1,648.5L61.4,650.4L60.8,651.1ZM90.5,651.9L92.7,651.3L94.8,649.4L96.7,646.6L98.4,643.0L99.9,639.2L101.0,635.7L101.9,632.8L102.6,630.9L103.1,630.2L97.4,630.1L95.3,630.7L93.2,632.5L91.3,635.4L89.5,638.9L88.1,642.7L87.0,646.3L86.1,649.2L85.4,651.1L84.8,651.7ZM114.5,652.5L116.7,651.9L118.8,650.1L120.7,647.2L122.4,643.7L123.9,639.9L125.0,636.3L125.9,633.4L126.6,631.5L127.1,630.9L121.4,630.7L119.3,631.3L117.2,633.2L115.2,636.1L113.5,639.6L112.1,643.4L110.9,646.9L110.1,649.8L109.4,651.7L108.8,652.4ZM138.5,653.2L140.7,652.6L142.8,650.7L144.7,647.9L146.4,644.3L147.8,640.5L149.0,637.0L149.9,634.1L150.6,632.2L151.1,631.5L145.4,631.4L143.3,632.0L141.2,633.8L139.2,636.7L137.5,640.3L136.1,644.0L134.9,647.6L134.0,650.5L133.4,652.4L132.8,653.0ZM162.5,653.9L164.7,653.2L166.8,651.4L168.7,648.5L170.4,645.0L171.8,641.2L173.0,637.6L163.2,637.4L161.5,640.9L160.1,644.7L158.9,648.3L158.0,651.2L157.4,653.1L156.8,653.7Z" fill="#5f6190" stroke="#3d3e63" stroke-width="0.6" stroke-linejoin="round"/><path d="M63.8,642.1L64.7,645.7L65.5,648.6L66.0,650.6L66.6,651.2L60.8,651.1L58.7,650.4L56.7,648.4L55.0,645.4L53.5,641.8ZM79.2,629.6L81.3,630.3L83.3,632.3L85.0,635.2L86.5,638.9L87.8,642.7L88.7,646.3L89.5,649.3L90.0,651.2L90.5,651.9L84.8,651.7L82.7,651.0L80.7,649.0L79.0,646.1L77.4,642.4L76.2,638.6L75.3,635.0L74.5,632.0L73.9,630.1L73.4,629.4ZM103.1,630.2L105.3,630.9L107.2,632.9L109.0,635.9L110.5,639.5L111.8,643.4L112.7,647.0L113.4,649.9L114.0,651.9L114.5,652.5L108.8,652.4L106.7,651.7L104.7,649.7L102.9,646.7L101.4,643.1L100.2,639.2L99.2,635.6L98.5,632.7L97.9,630.7L97.4,630.1ZM127.1,630.9L129.2,631.6L131.2,633.6L133.0,636.5L134.5,640.2L135.8,644.0L136.7,647.6L137.4,650.6L138.0,652.5L138.5,653.2L132.8,653.0L130.7,652.3L128.7,650.4L126.9,647.4L125.4,643.7L124.2,639.9L123.2,636.3L122.5,633.3L121.9,631.4L121.4,630.7ZM151.1,631.5L153.2,632.3L155.2,634.2L157.0,637.2L158.5,640.8L159.7,644.7L160.7,648.3L161.4,651.3L162.0,653.2L162.5,653.9L156.8,653.7L154.7,653.0L152.7,651.0L150.9,648.0L149.4,644.4L148.2,640.5L147.2,636.9L146.5,634.0L145.9,632.1L145.4,631.4Z" fill="#8b8dbc" stroke="#3d3e63" stroke-width="0.6" stroke-linejoin="round"/><path d="M44.6,666.9L46.1,667.3L48.1,666.8L50.5,665.4L53.2,663.6L55.7,661.4L58.0,659.2L59.7,657.3L60.8,656.1L61.1,655.6L57.3,652.7L55.9,652.3L53.8,652.8L51.4,654.1L48.8,656.0L46.2,658.2L44.0,660.4L42.2,662.3L41.2,663.5L40.8,664.0ZM54.6,674.5L56.0,674.9L58.0,674.4L60.5,673.0L63.1,671.1L65.6,668.9L67.9,666.8L69.6,664.9L70.7,663.7L71.1,663.2L67.2,660.3L65.8,659.9L63.8,660.4L61.3,661.7L58.7,663.6L56.1,665.8L53.9,668.0L52.2,669.9L51.1,671.1L50.7,671.6ZM64.5,682.1L65.9,682.5L68.0,682.0L70.4,680.6L73.0,678.7L75.6,676.5L77.8,674.4L79.6,672.5L80.6,671.2L81.0,670.8L77.2,667.9L75.7,667.5L73.7,668.0L71.3,669.3L68.6,671.2L66.1,673.4L63.8,675.6L62.1,677.5L61.0,678.7L60.6,679.2ZM74.4,689.7L75.9,690.1L77.9,689.5L80.3,688.2L73.8,683.2L72.0,685.1L70.9,686.3L70.6,686.8Z" fill="#5f6190" stroke="#3d3e63" stroke-width="0.6" stroke-linejoin="round"/><path d="M48.7,660.2L47.2,662.9L45.9,665.1L45.0,666.4L44.6,666.9L40.8,664.0L40.0,662.7L40.0,660.6L40.7,657.9L41.8,654.9ZM61.1,655.6L61.9,656.9L61.9,659.0L61.3,661.7L60.1,664.7L58.7,667.8L57.2,670.5L55.8,672.7L54.9,674.0L54.6,674.5L50.7,671.6L50.0,670.3L50.0,668.2L50.6,665.5L51.7,662.5L53.2,659.4L54.7,656.7L56.0,654.5L57.0,653.1L57.3,652.7ZM71.1,663.2L71.8,664.5L71.8,666.6L71.2,669.3L70.1,672.3L68.6,675.4L67.1,678.1L65.8,680.3L64.8,681.6L64.5,682.1L60.6,679.2L59.9,677.9L59.9,675.8L60.5,673.1L61.7,670.1L63.1,667.0L64.6,664.3L66.0,662.1L66.9,660.7L67.2,660.3ZM81.0,670.8L81.7,672.1L81.8,674.2L81.1,676.9L80.0,679.9L78.5,683.0L77.0,685.7L75.7,687.9L74.8,689.2L74.4,689.7L70.6,686.8L69.8,685.5L69.8,683.4L70.4,680.7L71.6,677.6L73.0,674.6L74.6,671.9L75.9,669.7L76.8,668.3L77.2,667.9Z" fill="#8b8dbc" stroke="#3d3e63" stroke-width="0.6" stroke-linejoin="round"/><path d="M124.5,671.8L125.9,672.3L127.7,671.9L130.0,670.9L132.4,669.3L134.8,667.4L136.9,665.6L138.5,664.0L139.5,662.9L139.8,662.5L136.3,659.5L135.0,659.1L133.1,659.4L130.8,660.5L128.4,662.1L126.0,663.9L123.9,665.8L122.3,667.4L121.3,668.5L121.0,668.9ZM133.4,679.2L134.7,679.6L136.6,679.3L138.8,678.2L141.3,676.6L143.6,674.8L145.7,672.9L147.4,671.3L148.4,670.2L148.7,669.8L145.1,666.9L143.8,666.4L141.9,666.8L139.7,667.9L137.2,669.4L134.9,671.3L132.8,673.2L131.1,674.8L130.1,675.9L129.8,676.3ZM142.2,686.6L143.5,687.0L145.4,686.6L147.7,685.6L150.1,684.0L152.5,682.1L154.6,680.3L156.2,678.7L157.2,677.6L152.6,673.8L150.8,674.2L148.5,675.2L146.1,676.8L143.7,678.7L141.6,680.5L140.0,682.1L139.0,683.2L138.7,683.6Z" fill="#5f6190" stroke="#3d3e63" stroke-width="0.6" stroke-linejoin="round"/><path d="M128.5,666.0L127.0,668.4L125.8,670.3L124.9,671.5L124.5,671.8L121.0,668.9L120.3,667.7L120.4,665.8L121.0,663.4L122.1,660.7ZM139.8,662.5L140.5,663.7L140.5,665.6L139.9,668.0L138.7,670.7L137.3,673.4L135.9,675.8L134.6,677.6L133.7,678.8L133.4,679.2L129.8,676.3L129.2,675.0L129.2,673.1L129.8,670.7L130.9,668.0L132.3,665.4L133.8,663.0L135.1,661.1L136.0,659.9L136.3,659.5ZM148.7,669.8L149.3,671.0L149.3,673.0L148.7,675.4L147.6,678.1L146.2,680.7L144.7,683.1L143.4,685.0L142.5,686.2L142.2,686.6L138.7,683.6L138.0,682.4L138.0,680.5L138.7,678.1L139.8,675.4L141.2,672.7L142.6,670.3L143.9,668.4L144.8,667.3L145.1,666.9Z" fill="#8b8dbc" stroke="#3d3e63" stroke-width="0.6" stroke-linejoin="round"/><path d="M24.0,634.0 L25.4,633.2 L27.3,632.0 L29.5,630.8 L31.8,630.0 L34.0,630.0 L35.6,630.7 L37.3,631.8 L39.1,633.3 L40.8,635.0 L42.3,636.7 L43.4,638.4 L44.0,640.0 L43.7,641.9 L42.6,643.8 L41.0,645.7 L39.3,647.6 L38.2,649.2 L38.1,651.1 L39.2,653.2 L40.9,654.8 L42.0,656.0 L42.0,656.0" fill="none" stroke="#3f4068" stroke-width="2.60" stroke-linecap="round" stroke-linejoin="round"/><path d="M24.0,634.0 L25.4,633.2 L27.3,632.0 L29.5,630.8 L31.8,630.0 L34.0,630.0 L35.6,630.7 L37.3,631.8 L39.1,633.3 L40.8,635.0 L42.3,636.7 L43.4,638.4 L44.0,640.0 L43.7,641.9 L42.6,643.8 L41.0,645.7 L39.3,647.6 L38.2,649.2 L38.1,651.1 L39.2,653.2 L40.9,654.8 L42.0,656.0 L42.0,656.0" fill="none" stroke="#6a6c9c" stroke-width="1.60" stroke-linecap="round" stroke-linejoin="round"/><path d="M160.0,630.0 L161.3,630.5 L163.1,631.2 L165.2,632.0 L167.4,633.0 L169.5,634.1 L171.3,635.3 L172.7,636.8 L173.8,638.7 L174.8,640.8 L175.6,643.0 L176.0,645.1 L176.1,647.1 L175.7,648.9 L174.4,650.5 L172.5,651.9 L170.5,653.3 L168.9,654.6 L168.0,656.0 L168.2,658.2 L169.5,660.5 L171.0,662.6 L172.0,664.0 L172.0,664.0" fill="none" stroke="#3f4068" stroke-width="2.60" stroke-linecap="round" stroke-linejoin="round"/><path d="M160.0,630.0 L161.3,630.5 L163.1,631.2 L165.2,632.0 L167.4,633.0 L169.5,634.1 L171.3,635.3 L172.7,636.8 L173.8,638.7 L174.8,640.8 L175.6,643.0 L176.0,645.1 L176.1,647.1 L175.7,648.9 L174.4,650.5 L172.5,651.9 L170.5,653.3 L168.9,654.6 L168.0,656.0 L168.2,658.2 L169.5,660.5 L171.0,662.6 L172.0,664.0 L172.0,664.0" fill="none" stroke="#6a6c9c" stroke-width="1.60" stroke-linecap="round" stroke-linejoin="round"/><path d="M21.0,660.0 L21.5,661.1 L22.2,662.7 L23.0,664.5 L23.9,666.5 L24.8,668.6 L25.8,670.8 L26.7,673.0 L27.6,675.0 L28.4,676.9 L29.1,678.8 L29.8,680.6 L30.4,682.5 L31.1,684.3 L31.8,686.2 L32.5,688.1 L33.2,690.0 L34.0,692.0 L34.8,693.9 L35.7,696.0 L36.7,698.2 L37.6,700.4 L38.6,702.5 L39.6,704.6 L40.4,706.5 L41.2,708.1 L41.8,709.5 L42.0,710.0" fill="none" stroke="#5a7448" stroke-width="5.40" stroke-linecap="round" stroke-linejoin="round"/><path d="M21.0,660.0 L21.5,661.1 L22.2,662.7 L23.0,664.5 L23.9,666.5 L24.8,668.6 L25.8,670.8 L26.7,673.0 L27.6,675.0 L28.4,676.9 L29.1,678.8 L29.8,680.6 L30.4,682.5 L31.1,684.3 L31.8,686.2 L32.5,688.1 L33.2,690.0 L34.0,692.0 L34.8,693.9 L35.7,696.0 L36.7,698.2 L37.6,700.4 L38.6,702.5 L39.6,704.6 L40.4,706.5 L41.2,708.1 L41.8,709.5 L42.0,710.0" fill="none" stroke="#aed08f" stroke-width="3.60" stroke-linecap="round" stroke-linejoin="round"/><path d="M21.0,676.0 L29.0,668.0" fill="none" stroke="#5a7448" stroke-width="2.80" stroke-linecap="round" stroke-linejoin="round"/><path d="M21.0,676.0 L29.0,668.0" fill="none" stroke="#aed08f" stroke-width="1.70" stroke-linecap="round" stroke-linejoin="round"/><path d="M21.0,688.0 L29.0,680.0" fill="none" stroke="#5a7448" stroke-width="2.80" stroke-linecap="round" stroke-linejoin="round"/><path d="M21.0,688.0 L29.0,680.0" fill="none" stroke="#aed08f" stroke-width="1.70" stroke-linecap="round" stroke-linejoin="round"/><path d="M21.0,700.0 L29.0,692.0" fill="none" stroke="#5a7448" stroke-width="2.80" stroke-linecap="round" stroke-linejoin="round"/><path d="M21.0,700.0 L29.0,692.0" fill="none" stroke="#aed08f" stroke-width="1.70" stroke-linecap="round" stroke-linejoin="round"/><path d="M50.0,712.0 L50.9,711.0 L52.1,709.5 L53.5,707.7 L55.0,705.9 L56.7,704.0 L58.4,702.4 L60.0,701.0 L61.7,699.9 L63.4,698.9 L65.2,698.1 L67.0,697.4 L68.9,696.8 L70.9,696.2 L72.9,695.8 L74.8,695.3 L76.9,694.8 L79.0,694.3 L81.1,694.0 L83.2,693.8 L85.3,694.0 L87.1,694.6 L88.7,695.5 L90.0,696.7 L91.4,698.4 L92.7,700.3 L93.9,702.4 L95.1,704.5 L96.2,706.6 L97.1,708.5 L98.0,710.2 L98.7,711.5 L99.0,712.0" fill="none" stroke="#5a7448" stroke-width="5.40" stroke-linecap="round" stroke-linejoin="round"/><path d="M50.0,712.0 L50.9,711.0 L52.1,709.5 L53.5,707.7 L55.0,705.9 L56.7,704.0 L58.4,702.4 L60.0,701.0 L61.7,699.9 L63.4,698.9 L65.2,698.1 L67.0,697.4 L68.9,696.8 L70.9,696.2 L72.9,695.8 L74.8,695.3 L76.9,694.8 L79.0,694.3 L81.1,694.0 L83.2,693.8 L85.3,694.0 L87.1,694.6 L88.7,695.5 L90.0,696.7 L91.4,698.4 L92.7,700.3 L93.9,702.4 L95.1,704.5 L96.2,706.6 L97.1,708.5 L98.0,710.2 L98.7,711.5 L99.0,712.0" fill="none" stroke="#aed08f" stroke-width="3.60" stroke-linecap="round" stroke-linejoin="round"/><path d="M70.0,697.0 L72.0,710.0" fill="none" stroke="#5a7448" stroke-width="2.80" stroke-linecap="round" stroke-linejoin="round"/><path d="M70.0,697.0 L72.0,710.0" fill="none" stroke="#aed08f" stroke-width="1.70" stroke-linecap="round" stroke-linejoin="round"/><path d="M82.0,696.0 L86.0,710.0" fill="none" stroke="#5a7448" stroke-width="2.80" stroke-linecap="round" stroke-linejoin="round"/><path d="M82.0,696.0 L86.0,710.0" fill="none" stroke="#aed08f" stroke-width="1.70" stroke-linecap="round" stroke-linejoin="round"/><path d="M120.0,712.0 L120.7,710.9 L121.5,709.3 L122.5,707.5 L123.6,705.5 L124.9,703.4 L126.1,701.3 L127.5,699.3 L128.7,697.5 L130.0,696.0 L131.7,694.3 L133.5,692.9 L135.3,691.7 L137.1,690.6 L139.1,689.8 L141.0,689.2 L142.9,688.8 L144.9,688.5 L147.0,688.3 L149.1,688.2 L151.2,688.5 L153.2,689.2 L155.1,690.3 L156.5,691.6 L157.6,693.0 L158.6,694.7 L159.7,696.7 L160.7,698.8 L161.6,701.1 L162.6,703.3 L163.4,705.5 L164.2,707.5 L164.9,709.4 L165.5,710.9 L166.0,712.0 L166.0,712.0" fill="none" stroke="#5a7448" stroke-width="5.40" stroke-linecap="round" stroke-linejoin="round"/><path d="M120.0,712.0 L120.7,710.9 L121.5,709.3 L122.5,707.5 L123.6,705.5 L124.9,703.4 L126.1,701.3 L127.5,699.3 L128.7,697.5 L130.0,696.0 L131.7,694.3 L133.5,692.9 L135.3,691.7 L137.1,690.6 L139.1,689.8 L141.0,689.2 L142.9,688.8 L144.9,688.5 L147.0,688.3 L149.1,688.2 L151.2,688.5 L153.2,689.2 L155.1,690.3 L156.5,691.6 L157.6,693.0 L158.6,694.7 L159.7,696.7 L160.7,698.8 L161.6,701.1 L162.6,703.3 L163.4,705.5 L164.2,707.5 L164.9,709.4 L165.5,710.9 L166.0,712.0 L166.0,712.0" fill="none" stroke="#aed08f" stroke-width="3.60" stroke-linecap="round" stroke-linejoin="round"/><path d="M138.0,692.0 L140.0,710.0" fill="none" stroke="#5a7448" stroke-width="2.80" stroke-linecap="round" stroke-linejoin="round"/><path d="M138.0,692.0 L140.0,710.0" fill="none" stroke="#aed08f" stroke-width="1.70" stroke-linecap="round" stroke-linejoin="round"/><path d="M150.0,690.0 L152.0,710.0" fill="none" stroke="#5a7448" stroke-width="2.80" stroke-linecap="round" stroke-linejoin="round"/><path d="M150.0,690.0 L152.0,710.0" fill="none" stroke="#aed08f" stroke-width="1.70" stroke-linecap="round" stroke-linejoin="round"/><path d="M196.0,656.0 L194.6,656.6 L192.5,657.5 L190.2,658.6 L188.0,660.0 L186.5,661.1 L184.8,662.3 L183.2,663.6 L181.7,665.1 L180.5,667.0 L179.7,668.8 L179.2,670.5 L178.7,672.4 L178.4,674.4 L178.1,676.6 L178.0,678.7 L177.9,680.9 L177.9,683.0 L178.1,685.0 L178.4,687.1 L178.8,689.1 L179.3,691.2 L179.9,693.3 L180.5,695.3 L181.2,697.2 L181.7,699.1 L182.3,701.2 L183.1,703.6 L183.9,705.9 L184.6,708.1 L185.3,709.9 L185.8,711.4 L186.0,712.0" fill="none" stroke="#5a7448" stroke-width="5.40" stroke-linecap="round" stroke-linejoin="round"/><path d="M196.0,656.0 L194.6,656.6 L192.5,657.5 L190.2,658.6 L188.0,660.0 L186.5,661.1 L184.8,662.3 L183.2,663.6 L181.7,665.1 L180.5,667.0 L179.7,668.8 L179.2,670.5 L178.7,672.4 L178.4,674.4 L178.1,676.6 L178.0,678.7 L177.9,680.9 L177.9,683.0 L178.1,685.0 L178.4,687.1 L178.8,689.1 L179.3,691.2 L179.9,693.3 L180.5,695.3 L181.2,697.2 L181.7,699.1 L182.3,701.2 L183.1,703.6 L183.9,705.9 L184.6,708.1 L185.3,709.9 L185.8,711.4 L186.0,712.0" fill="none" stroke="#aed08f" stroke-width="3.60" stroke-linecap="round" stroke-linejoin="round"/><path d="M182.0,668.0 L196.0,664.0" fill="none" stroke="#5a7448" stroke-width="2.80" stroke-linecap="round" stroke-linejoin="round"/><path d="M182.0,668.0 L196.0,664.0" fill="none" stroke="#aed08f" stroke-width="1.70" stroke-linecap="round" stroke-linejoin="round"/><path d="M182.0,680.0 L196.0,676.0" fill="none" stroke="#5a7448" stroke-width="2.80" stroke-linecap="round" stroke-linejoin="round"/><path d="M182.0,680.0 L196.0,676.0" fill="none" stroke="#aed08f" stroke-width="1.70" stroke-linecap="round" stroke-linejoin="round"/><path d="M182.0,692.0 L196.0,688.0" fill="none" stroke="#5a7448" stroke-width="2.80" stroke-linecap="round" stroke-linejoin="round"/><path d="M182.0,692.0 L196.0,688.0" fill="none" stroke="#aed08f" stroke-width="1.70" stroke-linecap="round" stroke-linejoin="round"/><path d="M80.0,660.0L88.0,664.0L98.0,668.0L108.0,668.0L116.0,670.0L122.0,672.0L130.0,674.0M88.0,664.0L92.0,654.0L100.0,650.0L106.0,656.0M60.0,664.0L52.0,672.0M52.0,672.0L46.0,680.0M70.0,676.0L64.0,686.0M80.0,660.0L84.0,674.0M82.5,668.7L84.0,674.0M84.0,674.0L80.0,684.0M98.0,668.0L96.0,680.0M96.0,680.0L104.0,686.0M108.0,668.0L116.0,660.0M116.0,670.0L112.0,684.0M113.5,678.7L112.0,684.0M112.0,684.0L118.0,690.0M130.0,674.0L136.0,686.0M136.0,686.0L130.0,694.0M150.0,664.0L160.0,670.0M160.0,670.0L166.0,664.0M160.0,648.0L168.0,660.0M100.0,650.0L108.0,642.0M46.0,680.0L40.0,678.0" fill="none" stroke="#2a2a40" stroke-width="2.4" stroke-linecap="round" stroke-linejoin="round"/><path d="M80.0,662.0L81.5,656.7M80.9,658.7L81.5,656.7M81.2,662.4L84.1,666.2M83.0,664.8L84.1,666.2M84.7,663.7L89.1,664.3M90.2,665.7L87.0,664.9M88.2,665.2L87.0,664.9M95.9,667.5L93.4,665.4M94.3,666.2L93.4,665.4M100.0,668.4L96.9,670.4M98.1,669.6L96.9,670.4M104.1,668.9L105.1,665.7M104.7,666.9L105.1,665.7M110.3,669.3L114.1,667.0M112.7,667.9L114.1,667.0M114.2,669.7L111.0,665.7M112.2,667.2L111.0,665.7M118.2,670.6L118.3,674.9M118.2,673.2L118.3,674.9M121.0,671.9L124.4,668.7M123.1,669.9L124.4,668.7M124.7,673.5L126.2,677.7M125.6,676.1L126.2,677.7M130.0,674.0L133.2,670.8M132.0,672.0L133.2,670.8M132.6,673.3L129.7,678.2M130.8,676.3L129.7,678.2M136.6,671.5L132.8,670.9M139.8,669.8L135.2,672.3M142.9,668.1L148.6,667.3M146.7,665.9L149.3,661.2M149.5,664.3L151.8,658.9M151.0,661.0L151.8,658.9" fill="none" stroke="#2a2a40" stroke-width="2.2" stroke-linecap="round" stroke-linejoin="round"/><path d="M80.0,660.0L88.0,664.0L98.0,668.0L108.0,668.0L116.0,670.0L122.0,672.0L130.0,674.0M88.0,664.0L92.0,654.0L100.0,650.0L106.0,656.0" fill="none" stroke="#6e7096" stroke-width="1.5" stroke-linecap="round" stroke-linejoin="round"/><path d="M81.2,662.4L84.1,666.2M100.0,668.4L96.9,670.4M110.3,669.3L114.1,667.0M114.2,669.7L111.0,665.7M132.6,673.3L129.7,678.2M136.6,671.5L132.8,670.9M142.9,668.1L148.6,667.3" fill="none" stroke="#6e7096" stroke-width="1.3" stroke-linecap="round" stroke-linejoin="round"/><path d="M80.0,662.0L81.5,656.7M84.7,663.7L89.1,664.3M90.2,665.7L87.0,664.9M95.9,667.5L93.4,665.4M104.1,668.9L105.1,665.7M118.2,670.6L118.3,674.9M121.0,671.9L124.4,668.7M124.7,673.5L126.2,677.7M130.0,674.0L133.2,670.8M139.8,669.8L135.2,672.3M146.7,665.9L149.3,661.2M149.5,664.3L151.8,658.9" fill="none" stroke="#3a0a50" stroke-width="1.3" stroke-linecap="round" stroke-linejoin="round"/><path d="M80.9,658.7L81.5,656.7M83.0,664.8L84.1,666.2M88.2,665.2L87.0,664.9M123.1,669.9L124.4,668.7M130.8,676.3L129.7,678.2M151.0,661.0L151.8,658.9" fill="none" stroke="#2a2a3a" stroke-width="1.3" stroke-linecap="round" stroke-linejoin="round"/><path d="M60.0,664.0L52.0,672.0M52.0,672.0L46.0,680.0M70.0,676.0L64.0,686.0M80.0,660.0L84.0,674.0M84.0,674.0L80.0,684.0M98.0,668.0L96.0,680.0M96.0,680.0L104.0,686.0M108.0,668.0L116.0,660.0M116.0,670.0L112.0,684.0M112.0,684.0L118.0,690.0M130.0,674.0L136.0,686.0M136.0,686.0L130.0,694.0M150.0,664.0L160.0,670.0M160.0,670.0L166.0,664.0M160.0,648.0L168.0,660.0M100.0,650.0L108.0,642.0M46.0,680.0L40.0,678.0" fill="none" stroke="#3a0a50" stroke-width="1.5" stroke-linecap="round" stroke-linejoin="round"/><path d="M94.3,666.2L93.4,665.4M112.2,667.2L111.0,665.7M118.2,673.2L118.3,674.9" fill="none" stroke="#2030d0" stroke-width="1.3" stroke-linecap="round" stroke-linejoin="round"/><path d="M98.1,669.6L96.9,670.4M104.7,666.9L105.1,665.7M112.7,667.9L114.1,667.0M125.6,676.1L126.2,677.7M132.0,672.0L133.2,670.8" fill="none" stroke="#d02020" stroke-width="1.3" stroke-linecap="round" stroke-linejoin="round"/><path d="M82.5,668.7L84.0,674.0M113.5,678.7L112.0,684.0" fill="none" stroke="#2030d0" stroke-width="1.5" stroke-linecap="round" stroke-linejoin="round"/></g><rect x="23.4" y="626.6" width="169.9" height="81.39999999999998" fill="none" stroke="#5e2a7a" stroke-width="1.1"/>
<g transform="scale(0.5)" fill="none" stroke-width="0.80" stroke-opacity="0.75" stroke-linecap="round" stroke-linejoin="round"><path d="M562 480l-5-23M413 386l11 12M468 329l-16 16-12 24 4 14M519 334l-24 11-23 19-2 14M562 358l-29 3-31 10-7 12M588 396l-28-7-33-2-12 9M587 441l-20-17-24-14-15 4M407 378l9 22 15 2M438 358l-4 21 15 6M476 353l-14 19 12 8M512 362l-22 13 8 12M541 382l-25 4 3 14M554 410l-22-5M555 441l-16-12M525 506l9-15 4-25M492 501l16-22M409 384l10 15 15-5M438 365l1 18M473 359l-7 16M505 368l-13 12M532 385l-17 7M572 424l-25-13-17 0M560 460l-12-21-14-4M523 504l8-19M513 329l-24 12M559 352l-31 4-34 13M407 377l6 23 15 5M440 357l-6 23 12 8M479 352l-17 20 9 11M515 363l-24 13 5 12M543 385l-28 3-1 13M557 415l-24-8M555 446l-15-14M521 511l9-14 5-26M505 371l-15 12M531 388l-18 6M588 451l-17-19M546 414l-19-1M413 499l34-11M380 467l36 2M412 381l8 18M475 327l-17 12-17 25-1 18M503 342l-29 19-9 18M479 354l-16 19 12 9M566 359l-18-1-34 7-23 12 8 12M593 399l-17-7-35-6-27 3M437 378l15 6M507 337l-27 18-16 19 13 8M516 363l-23 12 9 13M540 385l-26 3M593 444l-10-13-26-18-22-6M563 468l-11-26M417 503l27-8 29-16M380 472l31 1M411 376l6 22 16 2M459 334l-17 22-5 23M530 475l-5-18M452 520l23-13 24-23 3-18M439 468l15-10M362 419l25 16 32 13 17-4M381 375l9 24 19 22 17 1M423 346l-7 26M551 452l-13-16M457 487l17-15-12-10M425 471l23-8M406 445l22 1M376 381l6 14M399 416l18 8M414 348l-5 16 2 24M528 480l0-21-15-3M493 491l9-19-14-6M463 375l12 8M512 367l-21 12 8 12M541 387l-24 4 2 13M553 415l-21-5M422 507l24-8M383 478l28 0 32-6M407 380l7 21 16 2M454 341l-14 21-5 21 14 5M501 340l-24 16-14 19M411 418l15 0M418 348l-3 23M531 471l-6-15M500 481l1-15M467 480l7-14M409 468l33-3 11-10M388 436l30 9 16-5M384 380l11 21 17 18M518 380l-16 9M569 412l-30-11-17 3M566 448l-18-20-17-2M539 501l4-23M539 454l-14-6M425 375l4 17M456 363l-3 17M490 366l-11 15M553 351l-30 6M411 380l8 19 18-5M440 362l-1 19M475 359l-10 17M507 369l-16 12M533 387l-19 5M547 412l-18-1M560 485l-3-21-10-24-15-6M515 508l11-20M517 509l9-11 6-23M414 373l4 21 14 4M449 357l-7 20 11 7M488 353l-16 18 8 9M523 366l-22 11 4 11M547 390l-24 2-2 12M560 420l-21-7-8 11M560 485l1-12M554 451l-13-12M415 389l13 12M476 329l-20 19-15 26 6 14M498 348l-27 20 1 14M533 366l-34 9-4 13M559 393l-35-4-10 11M541 411l-13 8M400 500l23-2 36-13M391 468l39 1M434 356l-4 21M558 442l-15-13-12 7M541 470l-7-16-16 3M482 514l13-9M509 484l2-16M450 502l24-15M442 476l14-11M369 443l20 7 30 5 17-5M372 399l12 13 22 16 16 1M402 361l1 18M411 400l13 6M548 469l-7-20-13-4M517 491l4-21-12-7M457 511l21-16M492 477l-9-9M441 487l22-13M413 465l25-4 0-12M363 414l8 9 24 13 23 5 7-11M387 372l1 12 12 21 15 13M428 344l-7 12-4 23M567 438l-20-16M415 400l14 0M448 339l-12 19-2 20 14 4M495 337l-21 16-12 18 12 8M510 362l-19 13 9 10M537 383l-22 4 3 13M589 433l-10-10M554 410l-20-3M566 475l-2-14-12-21M427 505l22-9M390 477l25-1M406 380l9 19M537 455l-16-3M410 394l12 13M433 374l6 14M464 365l0 15M496 369l-7 14M563 450l-16-19-15 1M512 339l-18 9M473 365l-4 14M556 359l-22 3-28 9-9 12M583 396l-24-5M529 390l-13 7M416 344l-6 13 0 27M420 403l18-5M493 497l16-23-8-12M453 493l26-17-4-13M421 473l31-7 2-12M400 445l30 5 8-11M377 378l1 12M395 413l20 14 13-9M432 470l21-8M357 423l19 12 33 13 23 0M376 377l8 19 18 24 19 6M415 345l-6 21 2 26 13 11M435 375l8 13M555 454l-14-20-17 4M530 478l-2-21-18 0M456 519l17-8 23-21 8-20-19-5M494 338l-21 16-14 19 9 9M511 360l-21 13 5 12M539 382l-26 5 1 12M591 432l-9-8M556 411l-23-5M569 475l-2-12-12-21M429 509l21-8M389 482l23-1 31-6M403 381l8 21M446 340l-11 20-4 22 12 7M408 388l11 16M462 332l-14 13-12 25 1 17M514 334l-21 9-24 19-6 17M558 357l-25 3-33 10-11 13M588 394l-26-6-35-2-17 8M589 440l-18-16M545 410l-17 2M565 481l-6-22M466 486l12-15M471 480l2-13M481 472l-12-9M532 467l-7-15M462 517l21-14 20-23-1-16M442 493l30-15M409 471l35-4 10-11M365 425l26 14 31 9 13-7M379 381l14 23 19 19 16-2M415 349l-4 25M553 444l-16-12M507 341l-27 18-12 17M515 366l-18 12M537 388l-22 4M591 446l-13-14-24-18-19-3M561 467l-10-24M414 377l7 20 16-2M474 329l-13 9-16 23-3 20 17 2M530 385l-21 7M515 333l-20 8M469 361l-9 19M560 356l-24 2-34 10-16 14M589 394l-24-6-36-3M414 387l9 15M441 369l2 16M474 366l-5 16M505 374l-11 12M564 395l-34-4-15 7M570 431l-25-16-16 2M559 488l-3-24-11-22-15-3M515 510l12-23M417 397l14 0M453 340l-12 20-3 19 14 4M500 342l-22 15-11 16 13 8M513 367l-18 11 9 11M540 388l-22 4M585 441l-11-11-23-14-19-3M561 481l-2-14-9-20M422 503l22-8 23-14M385 475l26-1M410 379l7 18" stroke="#f5dcdc"/><path d="M434 511l28-12M390 488l34-4M399 388l13 22M426 365l0 23 17 3M503 327l-17 6-25 22-11 21 17 6M497 359l-20 16 14 11M527 375l-25 7M548 399l-25-2M451 330l-15 20M427 378l8 15M504 329l-25 16-23 23 2 15M487 369l-4 14M550 378l-36 3-10 11M565 411l-31-11-13 7M536 500l6-28M553 356l-30 6M462 328l-16 16-13 27 4 18M490 343l-26 21-3 17M495 369l-10 15M523 383l-14 9M596 437l-24-18-31-15-17 4M569 479l-6-25M409 392l13 16M556 478l-6-24M417 370l3 23 15 4M470 337l-18 20-8 20 14 7M490 358l-18 17 11 9M525 369l-23 10 6 13M546 394l-25 1 0 14M587 456l-8-13-22-19M390 485l22-1 32-7M442 338l-10 19M427 380l11 10M492 332l-21 16-15 21 6 11M510 357l-24 13 2 12M542 376l-29 5-4 12M560 406l-27-6-8 10M533 501l7-10 2-24M497 507l15-22M432 509l19-6M564 354l-24 3-34 10-16 13M591 394l-24-6-34-4-19 7M593 441l-17-16-27-16M566 482l-4-21-12-23M467 328l-14 10-14 25M519 333l-20 7-26 19-8 17M412 374l5 24 17 2M464 333l-19 24-7 24 16 6M482 354l-17 20 14 10M516 366l-26 12 10 13M542 386l-28 3M595 451l-12-16-26-21-23-7M563 472l-9-28M409 381l7 21M455 340l-15 21-4 20 16 4M518 337l-16 4-26 18-13 18 15 7M562 360l-18 0-33 8-20 12M588 400l-18-6-34-5-23 4M588 446l-12-13-25-16-20-5M560 470l-11-24M468 362l-5 16M552 354l-21 4-29 11-13 12M584 389l-22-4-33 0-17 8M555 454l-13-16-14 3M531 479l-2-18-16 0M466 517l13-6 18-20 6-17-16-5M431 473l19-8M365 432l16 9 29 9 19-2M376 387l8 15 19 19 16 5M412 354l-3 17 4 22 11 10M437 375l7 11M470 333l-12 7-15 21-3 20 16 4M505 342l-25 16-13 18 15 7M513 368l-19 12M541 388l-22 4M553 416l-19-4M564 485l-2-17M519 510l10-17 5-24M413 380l7 20 16 0M551 495l5-12-5-25M503 516l12-12 10-25M417 391l13 8M471 333l-18 19-12 22 10 11M492 354l-21 18 5 12M528 368l-27 10 0 12M551 395l-29-2-6 12M538 415l-11 10M593 448l-10-13-26-20-24-8M564 473l-10-28M409 374l5 25 16 4M460 332l-18 24-7 25 13 8M510 336l-29 17-19 20 11 10M516 364l-27 13 7 13M543 386l-30 2 0 14M420 350l-5 22M525 471l-6-13M457 514l19-11 18-20-1-14M436 491l27-13 5-13M404 468l31-3 10-10M368 422l22 12 26 9 13-6M384 380l10 20 16 17 14-2M446 330l-13 15M423 373l4 20M500 328l-21 12-24 23-5 19M550 345l-28 5-34 15-12 16M586 379l-29-4-39 2-17 10M596 426l-24-15-34-12-19 3M579 471l-10-22-20-23M531 473l-6-17M500 484l2-16M468 482l8-14M439 470l14-10M387 440l31 10 16-5M378 382l12 22 19 20 16 0M414 349l-4 24M533 388l-20 6M548 413l-18-1M423 504l29-11M386 475l33 0M410 384l9 18 17-4M466 332l-13 11-14 23-1 18M499 343l-26 19-8 16M507 369l-16 13M454 332l-11 11-10 23 3 16M505 333l-17 9-21 19-5 15M500 366l-11 12M529 381l-15 8M592 429l-19-12M546 405l-18 2M569 471l-7-19M436 503l26-12M397 480l30-4M409 389l11 15M408 392l11 14M433 372l4 15M467 363l-4 16M499 370l-9 12M527 385l-14 8M570 420l-26-11-16 2M563 456l-15-19-14-2M531 503l6-20M535 461l-13-5M413 389l10 16M474 328l-19 15-17 27 2 17M526 336l-26 10-29 21-6 16M570 362l-32 2-37 10-12 13M594 404l-31-10-36-5-16 8M590 451l-20-21M543 413l-17 2M510 363l-17 12 10 10M538 382l-21 6M590 431l-12-9M554 410l-20-3M569 473l-3-14-12-20M433 505l21-9M393 480l25-2M408 382l9 18 14 0M448 342l-11 20-1 18 14 4M506 335l-12 3-20 16-10 17 13 7M472 367l-2 13M533 364l-29 9-7 12M557 393l-30-2-12 8M565 428l-22-12-14 3M558 482l-5-21-11-19-14-1M517 505l9-20M413 388l10 12M439 369l4 14M492 348l-26 20-1 15M530 363l-34 11-7 13M557 390l-35-2-12 10M588 445l-22-21M540 409l-15 6M404 504l21-2 35-14M367 470l22 5 38-1M411 392l12 13M467 329l-18 18-14 27 6 15M424 475l29-7 0-13M363 428l10 8 30 12 27 4 6-12M377 381l3 13 17 22 20 13 13-10M417 348l-5 14 0 26M473 517l22-18M509 477l-10-11M426 377l8 14M456 365l1 16M487 369l-6 14M550 378l-35 2-11 11M567 411l-31-11-15 6M562 445l-18-20-16 2M536 500l5-27M537 450l-17-2M414 389l11 10M439 371l6 13M470 366l1 13M528 363l-28 10-4 12M554 390l-30-1-9 10M565 423l-24-11-12 6M554 455l-12-18-15 3M521 502l8-22M419 382l11 10M478 332l-18 15-13 22 6 11M527 339l-25 10-23 16 0 13M564 367l-29 2-29 7-4 12M585 407l-28-10-29-3-9 9M579 450l-16-19M542 418l-12 6M412 380l7 21 17-2M441 360l-3 21 18 3M477 360l-13 18M511 368l-20 12M535 388l-23 5M550 415l-20-4M558 489l0-20M548 443l-14-8M513 513l12-20 6-26M491 341l-23 19-6 16M500 368l-13 13M530 382l-18 8M591 434l-18-14M546 407l-17 1M571 477l-7-21-14-22M432 506l28-13M392 480l33-3M408 388l10 16M459 332l-13 12-11 25 1 18M511 331l-19 9M414 397l15 6M461 330l-18 22M434 376l12 10M482 351l-20 20 8 11M519 361l-28 13 2 13M546 385l-30 1-2 13M558 415l-25-10-9 12M562 488l2-15M514 513l12-14 8-28M414 387l10 12M467 335l-14 14-11 22 4 13M495 350l-21 17-1 13M533 366l-28 9-7 12M557 395l-29-2-10 8M543 417l-13 4M556 482l-4-21M516 506l9-21M465 476l2-13M478 352l-15 18 9 9M544 354l-30 8-23 13 5 11M585 392l-11-5-32-4-25 4 0 12M465 359l-9 19M559 350l-25 3-36 11-16 14M591 388l-27-6-39-1-21 7M575 420l-30-16M550 454l-13-14M418 368l2 22 13 5M453 353l-10 22 12 8M492 353l-19 17 9 11M498 379l4 12" stroke="#dcdcfa"/><path d="M552 446l-14-9M531 469l-8-12M468 513l18-13 15-20-3-13M445 493l24-14M412 471l29-4 8-11M372 429l24 11 26 6 11-7M383 387l12 19 18 15 13-4M415 354l-2 22 7 19 15 0M446 360l-4 19 15 3M426 472l30-7-2-14M357 422l12 10 33 14 30 4 5-14M378 375l4 15 19 25 20 14M418 341l-7 16 0 29M534 484l2-26M472 516l24-21 15-24-12-10M419 367l0 26 15 6M478 334l-23 21-12 23 13 9M493 359l-22 17 9 12M527 373l-30 10 4 13M548 399l-28-2-3 14M392 497l31-4 35-13M394 465l37 1M521 488l4-23-12-7M483 496l15-20-10-10M445 488l23-14-5-11M415 468l29-6 1-12M398 439l24 6 6-12M382 372l2 13 13 22 17 14 13-10M424 342l-7 14-2 25M428 511l26-10M387 484l31-2 34-8M403 385l11 22M447 340l-14 23-3 22 16 4M495 336l-25 20-13 20 14 8M505 364l-21 14 10 12M537 381l-26 5M596 435l-15-12M551 408l-23-4M574 480l-4-17-14-25M533 480l-1-19M497 493l9-19-12-7M459 490l17-14-9-10M427 474l22-9-4-11M407 448l22 0 2-12M399 417l18 8M411 353l-3 13 3 22M410 379l7 20 14 2M442 360l-4 20 13 6M480 356l-13 18 11 9M516 366l-21 12 8 11M542 388l-24 4 2 13M557 416l-21-5M554 447l-15-11M522 509l9-14 4-24M496 370l-8 14M555 384l-35 1-12 9M570 418l-29-12-15 4M419 509l16-2 31-14M379 479l18 3 37-4M409 395l13 14M457 332l-14 16-11 26 5 16M509 333l-23 12-23 21-1 16M556 458l-12-18-15 3M529 481l-1-20-16-2M460 516l14-5 20-19 8-18-16-6M428 471l20-8M365 425l16 10 28 11 21 0M379 381l7 15 17 20 17 7M419 349l-5 17 1 23M565 425l-24-12M542 475l-4-20-14-3M493 509l14-19 6-19-11-7M445 504l24-13M434 478l21-10M369 443l12 5 29 6 23-2M373 398l7 10 20 16 19 7M401 359l-1 13 7 21M437 350l-7 22M564 446l-16-16-13 0M462 366l3 12M544 351l-26 7-25 13-3 12M576 384l-27-3-28 3-7 10M431 512l20-7M387 487l24-1 35-8M439 333l-12 21M423 380l10 12M491 330l-22 17-18 22 6 12M482 369l0 13M541 374l-33 5-6 12M561 403l-29-7-10 10M540 420l-13 6M417 391l12 8M441 372l9 12M493 351l-22 19 4 12M528 366l-29 10 0 12M554 391l-30-1-6 11M563 424l-24-12-11 9M554 492l4-12M553 454l-13-17-16 5M506 513l12-11 10-25M453 516l16-7 23-19 10-19-18-6M458 484l16-15M428 467l22-7M364 417l16 12 30 13 21 1M385 373l6 18 15 22 16 8M426 343l-7 19 0 25M527 481l0-21-17-1M407 381l8 22M454 340l-15 23-4 21 15 4M517 336l-15 4-26 17-14 19 14 8M562 359l-18 0-34 8-21 13 11 12M591 397l-19-6-35-4-24 4M591 444l-12-13-27-16-21-5M563 469l-11-24M551 357l-32 7" stroke="#bfbffa"/><path d="M545 386l-27 2-2 13M587 441l-8-9-23-16-23-7M564 483l0-12-9-23M419 504l22-6 27-15M380 476l25 0 32-4M408 375l6 22 13 5M454 335l-13 20M435 377l11 8M504 338l-24 15-16 18 8 10M517 362l-23 12 3 12M424 380l9 10M454 368l4 12M507 355l-22 14 0 12M541 374l-27 6-5 11M559 405l-26-5-9 8M561 438l-18-13-13 5M544 489l0-21-7-17-15 2M502 507l12-20M491 496l11-19M452 491l20-15-5-11M407 394l12 13M451 334l-13 15M430 373l5 15M501 331l-20 11-20 20-1 15M493 367l-8 14M551 380l-32 2-12 9M590 427l-22-14-28-10-14 5M571 469l-10-21M359 433l21 11 36 11 25-1M371 385l10 19 23 23 20 7M408 349l-3 21 5 28M442 351l-10 27M562 449l-17-21-16 4M541 477l-3-23-18-1M468 521l17-7 22-24 8-23-18-5M488 472l-16-10M438 477l24-10M515 334l-22 9M562 355l-27 3-35 11M381 402l20 19 19 6M408 351l-3 18 5 24M441 349l-9 23M558 449l-15-18-15 3M536 476l-4-20-16-1M469 515l13-6 19-21 7-20-16-5M432 474l21-10M362 433l17 8 32 9 22-1M374 387l8 15M450 370l5 12M505 353l-24 17-1 13M540 370l-29 8-5 11M559 401l-29-5-9 9M567 435l-21-14-13 5M552 487l-2-23-9-18-15 2M500 515l10-7 12-22M422 384l10 11M555 415l-20-4M553 446l-14-11M520 507l9-15 4-22M412 377l6 20 14 1M443 358l-4 20 14 5M481 355l-13 17 12 8M516 365l-20 12 8 11M542 387l-23 4M563 471l-8-20M411 392l12 8M455 338l-12 15M436 374l7 10M504 336l-20 11-17 18 3 12M547 356l-26 6-24 11-2 11M576 390l-27-4-27 2-7 10M582 432l-21-14-22-8-11 7M423 382l10 11M480 334l-16 13-13 20 5 12M484 367l-1 12M540 370l-28 7-5 11M562 400l-28-4-10 8M581 451l-15-17M546 421l-12 5M518 335l-22 9M564 357l-27 3-35 10M478 355l-12 16 12 8M555 357l-14 0-28 9-19 11 8 11M583 394l-14-5-30-2-21 4M409 375l5 25 16 3M459 333l-17 24-8 24 15 7M509 334l-29 18-18 20 12 10M515 363l-27 14 7 13M541 385l-28 2 2 15M558 413l-25-8M564 488l0-17M517 514l12-17 7-29M474 481l7-15M461 336l-14 18-7 21 11 7M485 354l-16 17 8 9M521 366l-23 10 4 11M547 390l-25 1-2 12M556 421l-21-8M414 500l21-6 26-13M379 468l23 2 31-3M412 372l4 20 13 5M527 390l-9 10M540 413l-12 6M412 504l18-3 29-13M379 470l19 3 32-2M414 390l12 11M465 336l-15 15-10 23 6 11M492 349l-21 18 1 13M529 365l-28 10-5 12M555 391l-29-1M415 505l28-8 29-16M380 472l31 1M411 378l7 23 16 1M459 336l-17 23-5 22 16 5M507 340l-28 17-15 19 14 8M514 367l-22 12 10 12M539 388l-25 3M555 416l-21-6M484 349l-19 19 1 13M550 356l-27 6-27 11-4 12M579 391l-29-4M520 389l-9 10M408 377l5 23 15 4M441 358l-6 23 12 7M480 356l-17 19 10 10M492 378l5 12M515 391l-1 13M533 411l-7 12M553 449l-15-14M454 492l24-17-4-12M430 450l5-11" stroke="#f5bfbf"/><path d="M533 409l-7 11M555 448l-15-14M518 508l9-13 5-24-6-16M468 517l16-10 17-21 2-16M468 483l8-14M437 472l14-11M365 433l22 9 30 8 16-4M375 388l11 18 20 17 16 1M410 355l-2 20M441 355l-6 22M438 506l27-15 17-17-11-10M383 479l17 2 33-5 24-10-7-12M363 437l14 8 32 8 25-1M369 391l8 13 21 19 20 8M403 353l-2 16 6 25M438 349l-8 24M561 448l-16-19-15 1M532 498l6-22-3-22-15-3M486 511l18-20 7-21-13-7M471 490l17-18M568 483l-6-23-14-24-17-4M525 510l10-23 1-25-13-8M475 519l22-20 13-24-9-11M426 508l31-13 24-17-6-12M388 480l36-2 31-8 0-13M370 440l32 11 29 4 5-12M372 384l4 13 20 23 21 13 13-10M412 349l-6 14 2 27 10 18M462 331l-14 13-14 26 1 19M493 343l-26 20-7 18M500 369l-14 14M590 394l-27-6-37-2-18 7M594 441l-19-16-30-16-19 1M465 487l15-16-15-8M522 486l1-20-16-2M448 514l15-5 23-18 10-17-16-6M452 484l17-13M371 459l20 5M424 465l21-6M367 413l14 12 26 14 20 2M390 371l4 17 13 22 16 8M431 343l-8 17-1 24M555 451l-13-14-14 4M518 505l8-8 5-21-4-17-15 0M469 512l12-6 16-18 5-17-16-3M420 504l16-3 25-14 12-14M383 474l18 1 30-4 17-8M365 433l17 8 28 7 19-2M376 389l8 13 17 17 16 5M409 354l-2 16 4 22M443 353l-7 21M431 344l-6 16-2 22M566 434l-20-13M551 485l-1-21-9-18-15 1M510 505l11-20 1-18-15-3M450 512l13-4 21-17 10-17-14-7M405 492l16-1 29-9 16-12M374 458l17 4 31 1 20-5M369 413l13 10 24 13 19 2M391 371l3 16 13 20 14 8M375 380l3 12 17 24 19 13 13-10M415 346l-6 14 0 28 10 18M466 330l-15 12-15 26 1 20M496 344l-26 19-8 17M502 370l-15 13M592 396l-26-7-37-3-18 8M589 444l-18-17-27-17-18 1M564 485l-4-23-13-24-16-5M520 511l11-23 3-25-14-8M470 517l23-20 14-23-10-10M422 506l32-13 24-17-5-12M386 476l35-1 30-7-1-12M357 426l11 9 33 13 29 4 6-12M370 434l23 9 26 6 11-7M376 391l13 17 19 15 14-3M410 359l-1 20 7 18 13 0M452 339l-12 20-3 19 14 5M499 341l-21 14M586 439l-10-10-23-14-20-4M561 479l-1-13-10-21-13-9M520 506l8-14 3-22-8-13M471 513l15-12 15-19-2-12M423 504l22-8 23-15 4-13M386 475l24 0 28-5 8-10M474 481l8-16M409 474l37-5 13-11M360 428l26 14 34 9 17-6M376 383l14 23 21 20 17 0M412 349l-3 26M554 443l-15-14M536 468l-7-17M464 518l21-14 21-24 1-17M564 425l-24-12M556 457l-13-17-14 3M522 504l8-23-2-20-16-1M461 515l14-5 20-19 7-18-15-4M459 488l15-15M430 471l20-8M362 427l16 10 30 10 21 0M381 383l7 16 16 19 16 7M415 349l-4 17 3 24M562 489l0-18M552 445l-15-11M516 513l11-18 6-26-8-14M464 519l21-15 19-23-2-15M472 481l4-14M411 473l34-4 10-11M363 429l27 13 32 9 15-7M379 385l13 23 19 17 15-3M413 352l-2 26M402 424l17 5M407 355l-2 17 5 23 12 11M455 338l-13 16-8 22 6 12M505 337l-21 12M550 387l-30 2M583 435l-21-15-24-10-11 7M565 475l-8-22-15-17-14 3M528 503l6-23-3-19-16-1M468 516l13-6 18-20 6-18-15-4M419 508l16-3 28-14 14-16-13-9M381 478l18 2 32-4 19-8M362 436l17 8 31 8 22-1M374 390l8 15 19 18M411 354l-3 23M532 473l-6-16M464 519l19-11 19-22 1-16M468 485l8-15M440 472l13-10M362 433l23 11 31 8 16-4M376 388l12 20 20 19 16 0" stroke="#8484fa"/><path d="M588 444l-11-12-22-15-19-4M562 484l-1-16-9-22M518 507l9-16 4-22M420 501l25-8M385 471l27 0M460 339l-14 21M520 338l-14 3-24 16-11 16 13 7M564 359l-17 0-30 8-19 11M589 398l-17-5-31-4-21 3M388 473l38-1M411 386l11 18M470 325l-17 15-16 26 2 19M523 331l-25 10-28 21-7 17M568 354l-29 3-37 11-14 14M594 395l-28-8-37-3-17 7M595 443l-20-19-29-17-19 1M566 484l-4-25-13-25-17-4M522 508l12-24M536 458l-14-6M424 502l34-12M526 345l-33 14M582 375l-17-4-38 2M597 421l-14-10-35-12M581 469l-5-16-20-24M456 340l-14 20M503 340l-23 16M560 359l-14-1-30 8M588 396l-14-5-32-3M591 442l-10-11-24-15M564 483l0-14-10-22M423 506l23-8M386 477l26 0M557 351l-29 6-32 13M586 389l-31-5M593 434l-23-16M571 476l-9-23M541 413l-12 6M561 480l-5-22M520 503l9-22M412 501l18-2 29-13M376 470l19 3 33-2M415 389l11 11M466 333l-14 16-11 23 6 13M516 339l-22 10-21 18 1 12M559 360l-28 5-29 10-5 12M584 398l-27-6-29-2-9 10M585 442l-20-17M538 494l4-19M405 483l29-5M407 393l12 12M446 338l-9 12M430 372l6 14M496 332l-16 10-17 19-1 14M543 347l-22 6-26 13-7 13M577 379l-24-2-29 3-11 9M589 422l-21-11-26-9-15 5M572 463l-8-17M470 330l-18 19-11 23M520 337l-27 14M561 362l-33 4M586 399l-32-8M584 443l-21-19M558 480l-5-26M406 499l23-4 32-13M372 465l24 3 36-1M405 498l21-3 32-11M372 463l21 4 35 0M419 387l11 11M475 331l-17 17-13 23 6 13M525 338l-26 11-23 18 1 13M566 363l-31 3-30 9-5 12M588 403l-29-9-31-3-9 10M586 447l-19-20-23-13-13 6M558 483l-4-24-11-19-16 2M505 513l11-8 11-24" stroke="#f58484"/><path d="M557 457l-12-20-15 1M520 504l9-23 0-22-15-4M472 509l21-19 11-20-14-7M410 499l16-1 31-12 18-15-11-10M373 467l18 4 35-2 24-7M362 421l15 10 30 12 23 2M380 376l5 16 17 22 18 9M418 344l-6 16 1 26M367 435l25 10 31 6 14-6M376 391l15 19 20 16 15-2M407 355l0 23M538 466l-8-13M474 515l18-14M508 479l-1-15M449 498l26-17 5-14M414 476l32-6 9-10M447 466l1-11M373 436l27 9 26 4 6-11M377 385l3 9 16 19 18 12 12-8M413 351l-5 10 1 23M531 485l1-22-11-8M475 513l17-16 12-20-8-10M454 491l20-15-4-11M420 474l26-7M404 362l3 29 13 15M461 328l-16 17-13 27 4 17M489 341l-26 22-3 17M494 369l-9 14M590 389l-31-6-37-1-14 9M592 436l-24-18-30-15-16 4M570 478l-7-25-15-22-17 0M527 505l9-27-1-25-16-5M478 513l23-21 11-23-15-7M412 507l18-2 33-15 21-18-11-12M374 473l19 4 38-3 27-9-6-13M356 429l16 10 35 11 28 2M371 381l7 16 22 24 21 10M410 345l-5 18M409 355l-2 22M533 407l-8 12M535 471l-6-17M469 518l17-11 19-22 1-17M443 501l28-16 8-15M442 472l15-10M363 434l23 11 32 8 17-5M374 389l13 19 21 19 16 0M571 432l-25-18M555 489l-1-24-10-24-15-6M510 511l13-23 5-25-13-8M460 515l24-18 17-22-10-11M447 488l26-15-5-13M416 469l30-5 0-13M356 415l10 10 30 15 29 7 7-13M381 370l1 14 15 25 18 15 13-11M423 339l-9 14-2 28M368 408l13 11 23 14 18 3M394 368l2 16 10 21 14 7M435 342l-8 16-3 22M491 514l11-7M514 487l1-18-15-3M441 510l15-4 22-16 9-16-15-6M444 481l15-12M369 453l17 5M417 461l19-5M377 470l30 2 35-4 11-11M361 427l26 13 31 9 16-6M376 383l12 21 20 19 16-1M412 351l-3 24 6 23 15 2M458 334l-17 22-6 22 15 7M507 337l-28 17M514 389l1 14M589 447l-10-13-25-19-23-7M559 487l1-17-9-25-14-12M514 512l11-16 6-27-7-16M461 516l21-12 19-23 0-15M413 503l27-8 29-15 6-14M563 485l0-17M552 442l-15-12M518 511l11-17 6-26-8-15M466 516l20-14 19-23-1-16M473 479l5-14M411 473l34-5 11-12M365 428l27 13 31 8 14-7M378 384l13 21 21 19 15-3M413 351l-2 25M466 482l10-15M553 446l-15-11M521 510l9-16 4-24-8-13M471 519l17-13 16-22-1-15M446 499l26-15 4-13M443 472l11-11M367 436l24 11 30 6 13-6M377 392l13 19 20 17 14-3M407 357l0 23M533 470l-7-13M470 515l17-13 16-21-2-13M445 496l25-15 4-13M412 473l30-5 9-10M369 432l23 10 29 6 13-6M380 389l13 18 18 16 14-3M413 356l-1 21M543 478l-4-24M490 514l18-21 9-23-12-8M441 512l27-15 19-19-8-11M434 482l26-11-3-13M362 445l13 6 34 7 28 0 2-13M365 397l7 12 23 19 22 9 10-12M397 357l-2 15 8 26 14 16M433 349l-8 26M522 358l-29 13-3 13M585 386l-32-5-33 2-8 11M590 430l-24-16-27-10-12 7M572 472l-10-24-16-19-16 4M533 499l6-25-3-21-17 0M473 518l14-7 20-22 6-21-17-4M422 507l19-4 29-15 15-17M382 478l21 2 36-5 21-10M362 435l19 9 33 9 24-2M374 388l10 17 22 20 18 6M407 351l-2 19 6 26 13 11M456 333l-14 18-9 24 7 13M507 332l-23 14-21 21 2 14M368 428l29 13 28 6 7-11M379 375l2 11 15 23 19 15 13-9M420 343l-8 12-1 25M526 488l4-25-11-9M465 514l22-17 15-22-7-11M447 491l25-16-2-13M417 470l30-6 2-12M532 475l-5-15M466 515l16-10 18-19 1-15M466 483l8-13M407 473l30-4 13-9M369 429l20 10 28 8 15-4M381 385l11 18 17 17 16 1M417 353l-3 20M410 445l22 1M382 370l7 21 17 26 18 8M424 339l-8 22-1 28M566 426l-25-15M559 486l-4-28-12-22-18 4M502 518l14-10 13-27 0-23-19-1M449 519l19-8 26-22 11-20-19-6M459 485l19-16M367 463l24 5M430 469l24-8M359 415l19 14 33 16M474 487l8-14M478 495l14-18M463 474l-5-11M552 440l-15-9M525 502l7-14 3-22-9-13M476 513l16-12 13-20-2-14M449 496l24-15 3-14M415 476l29-7 8-10M367 438l24 8 29 5 12-7M376 394l14 17 20 14 13-3M405 359l1 21M540 478l-3-23M486 512l19-20 8-21-14-6M467 491l18-17-12-10M435 477l23-10-7-13M363 436l16 8 32 9 25 0M373 389l9 15 21 20 19 8M408 353l-3 16 5 25M443 349l-10 25M415 352l-4 14 3 22 9 14M463 336l-13 11-10 21 2 14M494 348l-21 17M559 391l-30-1M586 440l-17-14-23-12-14 3M562 479l-5-19-12-19-14-1M522 504l7-19 0-20-12-5M475 512l17-16 10-19-11-8M429 501l26-11 18-14-8-10M380 472l13 3 30-2 23-7-3-12M366 430l11 7 27 9 22 2 4-12M379 385l5 12 15 18 17 10M461 485l17-16M533 406l-6 11M555 442l-15-12M528 505l7-13 2-24-7-15M479 516l14-10 15-21 0-16M450 501l24-17 7-14M443 475l12-11M367 442l23 8 30 5 15-6M372 397l14 16 22 16 16 0M402 361l1 20M411 402l14 3M523 507l9-22 1-24-14-6M474 515l20-18 13-22-11-10M426 505l30-12 21-17-6-11M389 477l34-2 28-7-2-13M361 429l11 9 30 11 27 3 4-13M374 383l5 13 18 22 20 11 11-11M413 349l-6 14 1 25M571 424l-26-14M559 459l-13-22-16-3M472 478l5-14M535 413l-8 11M555 485l1-12M549 451l-12-13M511 509l10-12 6-22-5-15M461 515l16-10 17-19 2-15M461 481l9-13M433 467l12-9M364 426l20 11 27 8 16-4M380 383l9 17 17 18 15 1M416 352l-4 20M562 486l-1-19M551 443l-15-9M516 508l11-19 5-24-9-11M466 516l21-15 17-22-5-13M419 499l29-9 26-15 0-13M382 470l31 1 32-5 6-12M370 426l27 14 29 7 10-9M383 384l13 22 19 16 14-5M423 343l-7 9-2 25M592 441l-18-15-28-16-19-1M566 482l-4-21-14-23-15-6M524 510l9-21 2-26-12-10M473 517l21-17 14-23-7-12M424 507l30-12 25-17-4-12M386 479l34-1 31-8 2-13M368 438l31 12 29 4 7-11M373 384l3 11 18 22 21 14 13-8M412 349l-6 12 1 26 10 19 17-5M462 332l-14 11-14 24 0 19M495 341l-26 20M453 490l22-16-8-11M422 472l27-6-3-14M360 421l13 10 30 14 25 4 5-14M381 376l3 15 16 23 18 12M422 345l-7 16-1 26M527 487l2-23-14-6M466 516l24-19 13-21-12-9M550 447l-14-9M518 507l9-15 3-22-8-12M469 514l16-13 15-19-3-13M467 481l3-12M411 474l28-5 8-11M370 433l23 10 26 5 11-6M378 391l13 17 18 15 13-4M410 358l0 21" stroke="#6767fa"/><path d="M553 343l-21 2-35 14M588 379l-22-5-39 1M600 426l-19-13-33-14M580 472l-7-19-18-25M379 482l23 2 39-7M552 347l-33 7-32 15M585 382l-35-4M592 428l-27-17M576 471l-11-25M421 512l20-5M585 451l-15-18-24-16-17 0M554 488l-1-21-9-23-14-4M509 510l12-22M460 513l23-17M415 497l30-9M381 467l34 1M363 416l8 9 27 14M415 381l8 17M475 330l-16 11-15 22-1 17M526 338l-22 8-27 17-7 16M568 363l-26 1-32 8-14 11M589 405l-24-8-33-6-16 6M515 331l-25 12M562 351l-31 5-36 13M590 391l-31-7-36-1M557 352l-18 1-34 11M590 388l-17-6-36-1M581 423l-30-15M517 343l-27 15M573 367l-15-2-33 4M594 409l-15-7-33-8M527 500l6-20M532 461l-13-4M480 510l17-17M434 502l25-12M384 475l13 2 30-3M368 432l12 7 27 9M377 388l5 11 17 18M411 388l11 13M459 336l-12 13-9 21 4 13M508 335l-18 10-19 17-2 14M552 355l-23 4-27 11-7 11M582 390l-24-4-29 0-13 8M585 434l-18-13-24-11-13 3M567 475l-6-19-13-18-14 0M538 348l-28 9M574 377l-32-1M586 419l-26-13M572 460l-14-21M531 333l-18 3-31 18M575 360l-21-2-38 8M600 402l-20-8-38-8M524 390l-8 10M583 437l-20-15-23-10-11 7M563 476l-8-22M516 509l9-8 6-22M418 505l17-3 26-13M380 475l19 2 32-4M459 337l-13 16-9 22M508 338l-21 12-19 18 3 12M552 358l-28 6-26 11-3 12M580 394l-28-5-29 1M521 337l-16 5M565 360l-19 0-33 8M593 398l-18-6-34-4M590 445l-12-13-25-16M562 468l-10-23M421 503l27-8M384 474l30 1M403 500l23-3 32-13M371 465l24 3 35 0M520 341l-28 13M561 364l-33 4M583 403l-32-8M583 457l-3-11-21-20M553 357l-37 7M597 399l-16-7-38-6M415 372l5 20 14 1M465 337l-16 20-6 19 14 6M526 340l-14 2-25 14-15 16 12 8M568 364l-17-1-32 6-21 11 7 12M589 405l-14-7-30-6-22 2M584 451l-10-13-21-17-20-6M554 489l1-15-6-22-13-11M507 510l11-16 7-23M411 497l25-6M377 465l27 3M594 403l-15-7-35-6-28 1 0 14M589 451l-9-13-24-19-23-8M559 492l2-16-9-27-14-14M512 515l11-16 8-26M459 519l21-13 20-22M410 504l27-7 31-15M374 472l29 2 36-4M363 427l24 13M410 373l5 24 15 5M462 336l-17 22-8 22 13 7M511 339l-28 16-18 19 10 11M569 362l-16-2-35 6-25 12 6 13M473 518l24-20 14-23-11-10M425 507l33-13 24-17-7-13M388 478l38-1 29-8-2-13M360 427l13 10 33 13 29 4 4-14M375 380l4 14 19 25 22 13M418 347l-7 15 0 28 10 17M468 330l-16 15-14 27 1 19M521 334l-23 9-27 21-7 17M566 359l-29 2-36 11-12 13M595 397l-29-7-38-3-18 8M594 445l-19-18-28-16-18 1M567 486l-5-24-13-25-16-3M524 512l10-25 2-25-14-8M567 390l-34-2M589 443l-15-15-26-15M560 464l-11-23M518 336l-19 7M563 357l-23 2-33 10M589 397l-23-6M551 351l-22 3-29 12M584 384l-23-3-32 0M573 417l-27-12M454 337l-11 12M504 336l-17 9-20 18M550 354l-23 4-28 12M582 388l-24-4-31 1M588 432l-18-12M569 474l-6-18M436 507l25-12M397 483l31-4M551 353l-14 1-27 9M584 386l-16-3-30-1M578 422l-24-12M514 340l-20 9-22 18M557 361l-24 3M583 399l-26-6M582 443l-17-15M412 500l13-1 28-10M375 470l15 3 31-1M464 335l-13 12-12 22M539 343l-30 10-27 16M575 374l-34 0M590 417l-29-14M575 460l-15-24M519 335l-27 13M564 358l-34 5M589 398l-32-8M390 476l34-1M412 388l10 17M468 332l-15 12-14 25 1 18M520 334l-21 9-26 19-7 17M564 358l-25 2-34 11-14 13M591 397l-25-7-35-2-18 6M593 443l-18-16-26-15-18 0M566 484l-4-21-12-24-16-4M523 509l10-22 2-24-13-8M495 499l14-22M426 505l30-11M450 331l-15 18M502 328l-24 15-22 22M550 347l-32 7-31 15M583 382l-33-4M594 427l-27-16M573 470l-11-25M422 510l18-3M380 481l21 2 38-6M464 333l-15 16-10 22M514 336l-23 12-21 18M556 359l-28 4M583 396l-29-6M584 439l-19-16M560 477l-6-22M412 501l18-3 28-12M376 470l19 2 33-2M473 328l-14 8-18 24M526 335l-20 7-29 18M569 361l-22-1-36 8M594 402l-23-8-36-6M590 450l-14-16-26-19M558 469l-10-26M413 503l31-9M378 470l34 2M557 352l-25 4-32 12M589 388l-25-5-34-1M573 420l-27-13M411 504l26-7 33-16M373 472l29 2 37-4M511 334l-29 17M556 354l-37 7M582 391l-36-6M593 447l-8-12-27-20M564 473l-9-27M517 340l-22 10M559 363l-26 3M583 401l-26-6M583 445l-18-16M410 500l15-1 28-11M375 468l16 4 31-1M582 374l-25-3-39 4-21 10M597 419l-22-11-36-11-23 2M584 467l-11-20-21-22-19-6M546 502l4-22-5-28-14-10M496 519l17-21 10-26-8-13M445 518l27-15 22-22-4-14M400 496l34-7 31-13M370 459l35 6 35-1 7-11M365 414l26 19 28 12 12-9M389 375l9 26 16 20 15-6M437 335l-11 11-8 28 4 22 19 0M491 330l-17 8-22 24-7 20M542 343l-23 5-33 16-15 16M584 456l-6-13-21-20-21-9M551 493l4-14-5-25M502 512l13-14 9-25M405 495l26-5 30-13M397 466l34-1M471 333l-18 20M519 340l-27 13M558 365l-34 4-26 10M594 409l-12-8-31-8-27 0-2 13" stroke="#f56767"/><path d="M452 336l-14 22M500 337l-24 16M560 352l-16 0-32 10M589 390l-15-5-33-3M592 436l-11-11-27-15M570 479l-2-15-13-23M425 506l24-8M387 477l27-1M461 333l-11 10-12 22M512 335l-17 7-22 17M556 356l-21 2-30 10M586 392l-22-5-32-2M587 437l-15-13M564 478l-4-18M428 501l26-10M390 476l30-2M455 336l-15 21M504 336l-25 16M547 356l-32 7M590 395l-13-6-34-4M592 442l-9-11-26-16M565 484l0-14-10-24M419 507l24-6M381 477l27 1 34-6M569 362l-28 1-36 8M592 403l-25-9-36-6M527 334l-24 8M484 334l-17 14-13 20M531 347l-24 8M568 374l-27 0M584 415l-25-10M574 457l-13-19M397 490l18-1 29-8M386 458l31 3M523 333l-16 4M568 356l-18-1-34 8M594 397l-18-7-36-5M505 518l14-16 11-27M403 502l30-6 33-14M370 466l31 4 38-2M416 372l2 25 15 4M471 332l-21 23-10 25 14 8M520 340l-32 16-20 19 10 11M578 366l-17-2-38 5-28 11 6 13M599 411l-17-9-36-9-29 0-1 14M591 459l-8-14-24-23-23-10M554 497l3-17-6-28M412 501l16-2 29-12M375 470l17 3 33-2M361 426l15 9 30 10M382 395l17 21M411 388l11 12M462 332l-14 15-11 22 5 14M512 335l-22 11-21 18-1 14M555 357l-27 4-29 10-6 12M583 394l-28-6-31-1-10 9M584 438l-19-16-24-12-14 5M561 478l-6-22-13-19-14 1M520 502l8-22M473 510l20-19M559 359l-16-1-31 9M589 395l-15-5-33-3M590 442l-11-11-26-16M565 484l-1-15-11-23M415 371l5 22 14 4M466 335l-17 20-7 21 13 6M514 337l-27 16-17 18 11 10M569 362l-15-2-32 5-23 11 7 12M594 402l-15-7-33-6-26 1 1 14M591 448l-9-12-24-18-21-7M559 487l1-15-7-24-13-13M513 511l11-16 7-24M462 514l19-12 19-21M413 500l25-6 29-14M381 466l28 2M365 423l23 13M582 379l-28-2-36 3M592 425l-23-13M577 469l-11-21M400 488l34-6M445 336l-12 13M497 330l-19 11-22 22M546 345l-25 6-31 15M470 328l-14 11-16 23M522 333l-20 8-27 18M565 359l-25 1-33 9M592 398l-24-7-35-4M588 445l-15-16-26-17M417 501l30-10M383 469l34 1M418 503l22-6 26-14M383 471l24 2M463 338l-14 19M511 340l-23 13M552 360l-29 6M589 400l-12-5-30-5M589 446l-7-10-22-16M561 473l-7-22M528 335l-30 13M568 363l-35 3M593 403l-34-10M586 449l-20-23M445 339l-11 17M430 377l10 9M494 335l-19 14-15 20 6 11M539 351l-27 8-22 13 2 11M574 380l-29-1-27 4-3 11M584 422l-25-12-25-6-8 9M569 471l1-9-12-20M532 502l7-9 2-23M495 505l14-21M433 508l17-6M391 484l20-1 31-7M403 379l8 21M506 510l11-19M413 495l28-8M383 463l30 2M417 379l7 15M478 333l-15 11-15 21 0 15M527 341l-20 6-24 16-7 14M566 369l-24 1-31 6-12 11M586 409l-21-8-30-6-15 6M581 454l-14-16M547 422l-16 0M549 490l0-20M552 353l-14 0-28 9M583 388l-15-4-31-1M579 423l-25-13M533 501l7-23M423 508l16-2 28-15M383 479l18 2 34-4M456 333l-13 16M507 333l-21 12-22 20M554 351l-28 6-30 12M584 386l-29-4-33 1-11 10M592 431l-22-15-28-11-15 5M571 473l-8-23M410 384l10 19M467 328l-15 11-15 25 0 19M519 332l-20 8-27 19-9 17M565 354l-25 2-36 11-16 13M593 394l-25-7-36-3-20 6M593 441l-18-16-27-17-19 0M567 483l-4-22-13-25-16-6M522 508l10-22 3-26-12-9M471 515l22-18M423 504l30-11M386 474l35-1M369 433l31 12M378 390l17 23M465 330l-18 19-12 26M516 335l-27 13-23 20 2 13M559 358l-33 5-32 11-3 13M586 396l-33-7-33-1-9 11M585 441l-23-19-25-13-12 8M561 480l-6-26M508 514l12-10 10-26M406 503l22-4 33-14M369 470l23 3 38-1M539 352l-28 8M571 383l-32-1M582 424l-26-13M551 361l-30 7-22 11 4 11M589 401l-12-5-30-5-25 2-2 12M587 447l-6-10-21-16-21-7-8 12M559 486l1-13-8-22-13-13M516 511l9-13 6-23-6-15M465 515l16-10 18-20 1-14M417 502l22-6 26-13 8-13M380 472l25 1 31-4 13-9M369 428l21 11 27 8 14-4M382 385l10 18 18 18 15 0M416 353l-3 20 5 21 13 4M462 338l-14 19-7 20 12 7M510 341l-24 15-15 17 8 10M497 373l0 12M580 391l-31-4-29 1-5 11M585 434l-23-16-24-9-11 8M563 483l3-10-8-22-14-16-15 6M519 509l9-10 6-24-4-19-18 2M468 516l14-8 19-21 5-17M418 504l20-4 28-14M380 475l22 1 33-4 18-9M365 431l20 10 30 8 20-2M377 386l9 17 19 19 17 3M411 351l-2 20 4 23 13 8M459 334l-14 18-8 24 8 10M508 337l-23 13-18 19 4 11M553 355l-30 7-26 11M520 506l9-16 3-24-9-11M471 516l17-14 15-22-3-13M422 504l25-9 24-15M385 475l29-1 30-6 6-10M367 434l26 10 29 6 11-8M379 391l14 19 18 15 13-5M409 357l0 23 8 19 15 0M453 340l-13 21-3 20 16 3M515 335l-15 4-23 17-12 17 14 8M559 357l-18 1-31 9-18 12M588 394l-17-5-32-3-22 5M587 441l-12-13-25-15-19-3M565 482l-2-16-11-22-16-10M583 387l-27-4-32 0-10 10M587 431l-21-14-26-11-13 5M569 472l-8-21-14-18-15 1M529 499l6-23-2-21-15-2M483 511l18-20 8-20-15-6M421 503l16-2 27-14 17-15M381 476l17 2 33-4 22-9-7-13M365 432l15 8 31 9 23 0M374 387l7 13 20 20 18 7M410 352l-3 16 4 24 12 11M456 332l-12 15-10 24 6 14M507 333l-21 12-20 19 0 14M553 352l-27 5-29 12-6 13M413 501l29-8M377 470l32 1M411 374l6 23 17 1M462 334l-18 24-6 22 16 5M527 333l-17 4-29 17-15 19 13 9M571 359l-20-1-36 7-23 12 10 13M596 400l-19-7-36-6-25 2M592 448l-12-14-26-20-22-6M561 489l1-18-9-27M513 511l13-17 7-27M525 335l-18 6M570 358l-21 0-34 8M593 400l-21-7-35-5M421 501l32-11M370 467l16 5 36 0M473 331l-17 13-15 25M524 338l-24 9-26 19M567 363l-29 2-33 9M592 403l-28-8M588 449l-18-18M513 339l-13 3M557 359l-16 0-28 8M585 396l-16-5-29-3" stroke="#f54949"/><path d="M505 500l14-26-5-15M462 499l27-21 0-14M424 484l34-11 8-13M366 447l32 9 35 2 12-9M369 401l21 20 27 16 14-6M394 361l5 27M412 410l17-1M438 339l-12 26M555 428l-19-9M537 503l7-20 0-28-12-13M486 518l19-18M473 490l17-18-16-10M441 477l24-11M358 438l21 10 37 9 25-2M366 390l12 17 26 22 22 7M402 351l-2 21 7 28 14 12M436 350l-9 28M565 446l-19-21-16 4M542 472l-5-24-17-1M474 520l15-7 21-24 7-23-18-4M441 507l33-17M414 448l19-3M379 385l9 17 18 18 15 3M413 351l-2 20 5 23 13 7M460 334l-15 17-7 23 9 9M509 338l-23 13-18 18 6 10M523 362l-26 12 0 12M580 391l-30-4-27 1-4 11M583 434l-23-16-23-9-9 9M563 483l2-10-9-23-14-15-14 6M517 507l9-10 7-23-4-17-18 3M467 515l15-9 18-20 4-17M418 503l20-4 27-14 11-15M381 472l23 2 32-4 16-9M365 429l20 10 30 9M563 454l-15-23-17-1M528 506l9-26 0-25-16-5M479 515l23-22 11-23-14-9M431 505l33-14 21-18-10-11M374 475l19 4 38-3 28-9-6-14M357 429l16 10 36 12 29 2M374 381l6 17 20 23 21 11M410 345l-4 18 3 29M479 519l18-14 16-24-3-15M454 501l28-19 3-15M452 474l9-12M365 443l28 9 34 5 13-8M373 397l17 20 24 17 15-4M401 360l2 25M414 407l16 2M556 438l-18-11M530 509l9-18 2-26-10-15M558 424l-20-8M553 494l3-16M550 454l-13-13M506 514l12-15 8-25-5-14M455 516l20-12 20-20 1-15M408 499l25-5 29-13 7-13M376 464l28 4 33-2 12-10M367 420l22 14 28 10 15-4M386 378l9 21 15 19 15-1M422 347l-5 23M451 505l25-17 10-16M444 477l16-12M366 445l22 7 32 4 19-4M369 399l14 15 24 16 17 2M397 360l1 19 9 22 14 6M432 357l-5 23M558 439l-17-15-13 8M542 467l-7-18-17 4M484 516l13-9M512 485l1-18M549 409l-19 0M550 438l-15-6M522 506l10-20 2-25-11-9M472 515l21-18 15-22-8-12M424 502l30-10 24-17-4-12M387 473l34-1 31-7 2-12M371 432l29 12 28 5 6-11M376 378l3 12 17 22 21 14 13-8M419 346l-7 12 0 26 8 17 17-5M439 363l0 19M416 347l-4 27M562 492l1-20M554 444l-16-14M512 514l14-19 8-28-7-16M460 519l23-15 22-24 0-16M410 503l31-8 32-16 6-15M376 468l34 3 38-4 11-11M363 423l28 16 32 10 15-7M378 378l13 25 21 21 16-2M391 444l29 7 13-7M377 389l13 21 19 16 14-4M410 357l-1 24M416 402l16 0M561 487l-1-17M549 446l-14-10M515 511l10-17 5-25-8-12M465 519l19-14 17-22-3-14M417 504l26-8 27-15 2-13M379 476l30 0 32-6 9-11M367 432l25 12M480 515l17-17 11-22-8-9M432 507l26-11 19-16-5-11M394 481l31-3 26-9 0-11M373 443l28 8 27 2 5-11M374 391l4 10 17 18 20 11 11-9M409 356l-3 11 2 23 11 16 15-6M455 335l-11 10-10 23 2 17M507 337l-17 7-22 18M588 435l-17-13-25-12-17 1M568 476l-6-18-13-20-15-4M528 504l7-19 0-22-12-8M461 489l14-15M552 445l-15-10M534 469l-9-12M469 517l19-14 16-21-3-13M448 495l26-16 2-13M414 475l31-6 7-11M369 432l26 12 29 6 11-8M381 389l14 20 19 16 13-4M414 356l-1 24M551 458l-11-17-17 7M525 479l-2-19M451 516l18-8 23-20 6-17M458 484l13-14M430 468l18-8M362 419l20 13 29 13 19-2M382 375l7 20 16 22 16 4M422 346l-6 21 1 24M559 426l-21-11M563 490l1-17M554 445l-16-15M515 514l12-16 8-28-7-17M462 519l21-13 21-24 2-17M411 506l28-8 33-16 9-16M375 472l31 2 37-3 14-11M360 427l27 14 34 10 17-5M375 382l13 22 21 21 17 1M413 349l-4 25M433 484l30-12-3-13M372 451l36 8 32 0 3-13M363 395l7 12 25 22 25 11 11-12M398 355l-3 15 7 28 14 18M433 345l-10 28M549 426l-18-4M538 503l6-25-3-27-14-6M490 518l19-22 11-26-12-10M439 512l30-16 22-20-7-12M397 489l37-6M537 412l-12 10M550 498l5-14-4-28-12-19-17 7M500 519l14-13 13-28-2-20M446 519l22-10 25-22 8-19M398 499l27-3 35-14 15-15M365 462l28 6 39 0 20-9M359 415l21 15 32 15 20-1M382 371l7 22 17 25 17 5M424 341l-8 23 0 27 13 9M475 330l-22 21-13 25 9 12M525 338l-31 14-25 19 5 13M565 364l-36 4-32 9-1 14M587 404l-35-10-32-3-6 13M587 461l-4-13-21-22-24-13M564 484l-4-20M549 441l-15-6M520 510l10-21 3-25-12-9M470 516l21-17 14-21-7-11M452 493l24-16-3-12M419 475l29-7 3-12M370 435l28 11 28 5 7-11M378 381l2 11 17 22 19 14 13-8M416 347l-6 12 0 25M562 452l-14-19-14-3M532 500l6-19-1-22-13-7M484 512l17-17 10-21-10-9M462 491l19-17-5-11M427 476l25-8-2-12M374 442l30 8 26 1 5-11M375 390l4 10 19 18 20 11 11-10M409 354l-4 12 4 23M420 404l15-7M418 431l9-10M407 357l-3 12 4 23M443 349l-10 23M537 483l-2-22M483 514l17-18 9-20-10-8M461 495l18-16-7-10M428 479l24-9-2-12M366 439l11 6 28 8 25 1 3-12M373 393l6 11 19 18 19 9M559 490l-2-26-12-25-16-2M515 513l13-26 3-25-16-6M465 517l26-20 14-23-13-9M418 502l36-12 24-16-9-12M365 467l18 5 39 1 29-7-3-14M357 419l14 12 33 15 27 5M378 373l3 16 17 26 20 13M422 342l-8 18-1 29M570 430l-27-17M554 439l-15-8M530 502l7-15 0-22-9-11M481 512l15-13 12-19-3-12M454 496l22-15 2-13M418 478l28-7 6-11M374 440l24 8 27 3 11-7M377 397l15 16 19 13 14-4M406 362l2 20M526 485l0-20-14-3M470 513l19-18 10-19-12-8M453 489l17-14-10-10M421 472l23-7-4-13M364 426l12 8 27 11 22 2M378 382l4 13 16 19 17 9M417 351l-5 14 1 23M515 484l3-20-19-2M451 505l29-18 11-18M446 478l19-13M361 447l22 7 37 5 23-5M366 399l14 16 25 18 20 3M394 358l2 21 11 26 15 8M427 354l-4 26M560 436l-20-16M536 504l8-11 1-27-8-21-18 3M483 517l15-9 17-24M566 424l-26-15M562 484l-6-27-14-22-17 1M519 508l12-26 0-23-17-2M454 521l17-7 24-22 11-22-16-7M460 488l19-16-13-11M427 474l26-9M357 423l18 12 34 14 25 1M374 376l7 19 19 24 19 10M416 344l-6 20 1 28M456 494l23-16-5-13M406 399l14 12M435 349l-9 28M541 473l-4-23M488 513l20-23 8-23-17-5M440 507l32-17 17-19-14-10M439 477l24-11M357 439l19 9 36 8 26-1M366 390l11 17 25 21 22 7M401 352l-2 19 7 28M416 349l-4 17 2 23M529 480l-2-20-16-1M460 515l14-6 20-19 8-18-16-6M458 486l15-14M428 470l21-8M363 425l16 10 29 10 20 0M378 381l7 15 17 20 17 7M400 492l19-2 31-10 16-13M368 457l20 4 33 2 20-7M365 410l15 13 26 13 19 2M386 368l5 17 13 22 16 8M429 341l-8 18-2 23M563 431l-21-13M549 484l-2-23-9-19-15 3M497 513l11-8 12-23 0-19-17-2M445 511l16-6 23-18 9-17-17-5M423 343l-8 11-3 26M531 467l-10-13M461 516l23-16 18-22-4-13M444 494l28-16 0-14M412 472l33-5 6-12M366 427l28 14 30 8 10-9M378 384l14 23 20 18 15-6M550 434l-16-4M529 505l8-21 0-24-13-8M480 514l19-18 12-22-9-10M460 493l21-17-4-12M425 477l28-8 0-13M374 440l30 10 28 2 4-11M373 386l4 12 20 20 21 12 12-9M410 351l-5 12 3 25M418 404l17-6M461 517l20-11 22-23 3-18M470 481l11-16M439 470l17-11M360 425l25 14 33 10 19-3M375 380l12 21 21 22 17 2M412 346l-4 24 6 27M443 352l-9 24M555 446l-15-17M534 471l-5-19M377 433l27 11 22 2M382 381l5 14 14 20 16 7M419 349l-6 15 1 23M565 429l-22-12M552 461l-11-18-14 1M525 485l0-19-14-3M469 511l20-18 9-18-13-6M453 488l17-14-11-10M422 471l22-7M364 424l13 9M366 435l22 9 30 7 16-5M375 391l13 17 19 17 15-1M406 355l0 21 7 22 15 4M452 337l-13 20-5 21 12 7M500 336l-22 16M590 437l-9-9-25-15-23-6-6 12M565 479l0-13-11-22-15-13M522 506l9-13 4-23-7-15M472 515l16-11 16-22 1-15M423 506l21-7 26-16 8-14M384 477l25 0 31-6 13-10M569 479l-5-22-15-25-17-6M527 508l9-23 1-27-13-10M475 516l22-19 15-25-9-12M426 507l31-13 25-18-3-14M386 480l36-2 32-9 1-13M366 438l34 12 32 4 8-12M373 394l19 23 22 14 13-9M407 345l-5 14 2 28 12 20 18-5M459 329l-14 11-14 26 0 20M512 328l-21 9-26 22M594 436l-19-16M545 404l-20 0M524 473l-4-16M451 515l20-10 21-20 3-16M461 477l10-13M371 462l26 4M431 465l14-9M366 416l22 14 28 12 15-3M383 373l8 21 16 20 16 2M424 345l-6 23" stroke="#4949fa"/><path d="M577 389l-32-3M548 355l-31 7M520 504l9-19 1-21-11-7M473 512l18-16M502 477l-8-10M426 501l26-10M390 474l30-2 25-6 0-12M372 435l27 10 25 3 6-11M380 384l2 10 15 19 18 11 11-9M414 350l-4 11 1 22 9 16M463 334l-12 10-11 22 0 16M513 336l-17 8-22 17-6 15M557 357l-21 3-29 9-12 12M584 395l-22-5-31-2-16 6M587 439l-15-13-24-13-16 1M561 479l-4-19-11-20-14-4M548 348l-26 6-29 13M579 384l-28-4M410 398l14 13M459 331l-17 20M432 378l7 14M511 330l-26 15-24 23 2 15M557 352l-33 7-33 13-5 14M588 388l-34-5-36 1-10 11M594 434l-26-18-30-12-14 7M571 476l-9-27M533 505l8-28M417 510l20-4 34-16M376 479l23 3 39-5M410 393l12 11M455 332l-14 17M432 372l7 13M506 333l-23 13-20 20 2 14M550 352l-28 6-28 12-3 12M582 386l-30-4-32 2-9 10M586 431l-23-15-26-11-12 7M566 471l-8-22M529 500l7-24M420 503l17-2 28-14M379 476l19 2 34-4M481 334l-17 15-14 21M530 342l-25 11M569 369l-29 1M587 410l-28-9M583 453l-16-18M402 495l19-1 31-10M391 464l33 1M579 430l-24-15M564 482l-1-14-10-22M422 503l23-7M386 473l26 0M457 338l-14 20M504 340l-23 15M561 358l-15 0-30 7M588 395l-14-5-32-3M589 441l-9-11M529 342l-23 9-22 16M567 369l-27 1M587 408l-25-8M413 506l29-8 32-17M377 472l32 2M570 356l-18-1-37 8M595 398l-16-7-38-6M596 447l-10-14-28-20M564 471l-10-28M418 505l26-7 30-17M379 475l29 1 37-6 14-11M361 432l26 11 33 8 17-5M374 386l14 21 22 19 16 0M407 350l-1 25 7 24 16 5M455 333l-16 22-7 24 14 7M504 333l-27 18-17 21 10 10M548 352l-34 8-26 14 6 12M592 393l-15-6-36-5-28 3 0 14M595 440l-11-11-28-18-25-8-7 14M566 483l0-15-10-26-16-14M520 509l11-15 5-28-7-16M468 518l19-13 20-24 1-17M509 340l-24 14M550 361l-29 5M587 400l-10-5-30-5M583 446l-6-9-21-16M556 473l-7-22M584 441l-20-16M561 479l-5-22M515 338l-23 11M557 360l-28 5M583 397l-28-6M562 471l-10-26M524 336l-17 4M568 360l-19-1-35 8M594 400l-19-7-36-5M592 448l-11-14-26-18M457 337l-16 21M506 340l-26 16M549 359l-33 7-24 12M590 399l-14-5-34-5-27 2M589 447l-8-12-25-17-23-7M562 488l1-14-10-25M516 513l10-14 6-26M415 508l24-7 29-16M379 475l27 2 34-5M473 514l21-18 14-22-9-10M425 504l29-12M388 475l33-1 29-7 1-12M371 434l31 12 28 4M375 380l3 12 18 22 21 13 13-8M415 347l-6 12 0 25 9 17 18-5M465 330l-14 12-14 24 1 19M517 332l-20 8-26 19-7 17M562 355l-25 2-33 10-14 13M590 393l-25-6-35-2-18 6M592 440l-17-16-28-15-19 0M566 481l-4-21-13-23-15-5M522 506l10-21 2-24-12-8" stroke="#f52c2c"/><path d="M469 479l2-12M482 472l-7-12M458 490l24-17M386 369l7 25 15 24 16 2M428 342l-9 25M556 429l-21-11M544 505l5-17-2-29-13-17M492 521l16-16 14-27-4-17M439 518l24-11 27-21 4-16M458 480l12-14M363 458l31 7M431 466l16-9M361 411l22 18 29 15 17-3M411 358l-1 21M535 471l-8-14M472 517l16-12 16-21-1-14M446 498l26-15 5-13M412 477l30-5 10-11M369 435l23 10 29 6 13-6M379 391l13 19 19 16 15-2M562 453l-15-21-16 0M532 505l7-25-2-23-16-4M483 514l20-21 10-22-14-7M466 493l18-18-11-10M434 478l25-10-6-13M361 435l16 9 33 10 26 0M371 388l8 15 21 21 21 9M408 351l-3 18 4 26M459 486l15-14-13-9M469 491l14-16-9-9M455 468l-5-11M433 452l1-12M404 359l-1 16 7 22 12 9M448 337l-11 15-6 22 8 12M498 336l-19 12-17 18M584 427l-22-13-25-8-10 7M569 467l-10-19-15-16-14 3M533 496l4-22-4-18-15 1M477 515l12-6 15-20 5-18-16-4M428 506l15-3 24-13 12-15-13-8M387 481l18 0 31-5 18-10M366 440l15 7 30 6 20-2M374 395l9 13 20 17 17 4M528 477l-2-19-19 2M454 518l18-9 23-21 6-18M461 482l14-15M432 467l19-8M362 419l19 13 30 12 20-1M381 375l8 19 17 22 17 5M422 345l-6 21 1 25M422 454l13-8M376 391l15 21 21 17 14-3M408 357l-1 24M415 403l16 0M565 486l-2-17M552 445l-16-11M519 511l10-17 5-26-9-13M469 520l19-14 17-23-2-15M419 507l27-9 28-16 3-14M382 478l30 0 33-6 9-12M365 435l27 12 31 6M417 504l23-6 28-15 9-14M380 473l25 1 34-4 14-10M364 430l22 11 31 8 17-4M377 385l12 19 19 18 16 2M412 352l-2 21 5 23 13 5M459 335l-15 20-7 23 11 8M508 336l-25 15-17 19 8 10M519 364l-25 12 4 11M579 391l-32-5-28 2-2 13M590 443l-7-10-24-16-22-8-9 11M562 484l1-13-9-24-14-14M518 510l10-12 6-25-6-17M466 515l17-10 19-21 2-16" stroke="#2c2cfa"/></g>
<g transform="scale(0.5)" fill="none" stroke-width="0.80" stroke-opacity="0.85" stroke-linecap="round" stroke-linejoin="round"><path d="M406 360l2-6 2-5 4-5 5-4 7-1 7 0 7 1 7 2M457 344l5-5 6-4 6-2 6-1 6 1 6 3 5 4 5 6M502 343l7-4 8-2 7-1 7 2 5 3 4 5 2 7 1 7" stroke="#f5dcdc"/><path d="M575 424l4 5 3 5 2 5-1 5-2 4-4 5-6 3-6 3M572 462l3 7 2 7-1 6-3 5-6 4-7 1-9 1-9-1M452 342l5-5 5-4 7-2 6-1 7 0 6 3 6 4 5 5M497 342l8-4 7-3 8-1 6 1 6 4 4 5 2 6 1 7M501 342l8-3 7-1 7 0 6 1 6 3 4 5 2 6 2 6" stroke="#dcdcfa"/><path d="M459 338l5-5 7-5 6-2 7-1 7 1 6 4 5 5 5 6" stroke="#bfbffa"/><path d="M575 427l5 5 4 5 1 6 0 5-3 4-5 4-6 3-7 3M562 463l1 6-1 5-1 5-4 5-5 3-6 2-6 1-7 0M569 458l2 6 1 6-1 6-3 4-5 4-6 2-8 1-7 0M456 339l6-6 6-5 6-3 7 0 7 1 6 3 6 5 4 6M570 384l8 2 7 4 6 4 3 5 0 5-2 6-4 6-6 5" stroke="#f5bfbf"/><path d="M412 358l3-5 3-5 4-4 6-3 6-2 7 0 6 1 7 2M456 339l5-6 6-5 7-4 7 0 7 1 6 4 5 5 5 6" stroke="#f5a1a1"/><path d="M407 485l-9 0-7-1-7-2-5-4-3-5 0-5 2-7 2-6" stroke="#6767fa"/><path d="M490 507l-6 5-6 4-6 2-7 1-6-1-6-4-5-5-4-6M373 427l-6-5-4-5-3-6 0-5 3-5 5-5 6-3 8-3" stroke="#f56767"/><path d="M579 427l5 5 4 5 2 6 0 5-3 5-5 4-7 3-7 3M578 421l6 4 5 6 3 5 0 6-2 5-5 4-7 3-8 3M580 429l4 6 3 5 2 6-1 5-3 5-5 4-6 3-7 2M572 459l3 6 0 7 0 5-3 5-5 4-7 2-8 1-8 0M573 463l2 7 1 7-1 6-4 5-5 3-7 2-9 1-8-1M571 461l2 7 1 6-1 6-4 5-5 3-6 2-8 1-8 0M540 487l-1 6-3 6-3 5-5 4-7 1-7-1-7-2-7-3M500 509l-5 5-6 5-6 3-7 1-7-1-6-3-6-5-5-5M447 504l-6 1-7 1-7 0-6-2-5-3-4-5-3-5-2-5M455 503l-6 3-7 1-6 0-6-1-6-3-4-4-3-5-2-6M453 505l-6 2-7 1-7 0-6-2-5-3-4-4-4-4-2-6M409 492l-9 1-8-1-7-2-5-4-4-5-1-6 1-6 3-7M381 464l-8-2-7-3-5-5-3-5-1-5 2-6 4-6 5-5M387 381l0-6 1-5 3-5 3-5 5-3 7-2 6-1 7 0M386 382l0-6 0-5 3-5 3-5 5-3 6-2 7-1 7-1M408 362l2-6 3-5 4-4 5-4 6-1 6 0 7 1 7 2M413 362l2-6 3-5 4-4 5-3 6-1 7 0 6 1 7 2M460 345l5-4 6-3 6-2 6-1 6 2 6 2 5 4 4 4M502 344l6-2 7-1 7 0 6 2 5 3 4 4 3 5 2 6M538 357l8 0 7 1 7 2 5 3 3 5 1 5 0 6-2 7M542 357l9 0 7 1 7 2 5 3 4 5 1 6-1 7-2 6M541 364l7 0 7 1 6 2 4 4 3 5 1 5-1 5-1 6M537 361l8 0 7 1 6 2 5 3 3 5 1 5 0 6-2 6M534 355l8 0 8 0 6 2 5 3 4 5 2 5 0 6-2 6M571 387l7 3 7 4 4 4 3 5 0 6-2 5-4 5-5 5M569 389l7 2 7 4 5 4 2 5 1 5-3 6-4 5-5 5M566 390l7 3 6 3 5 4 2 5 0 5-2 5-4 5-5 5" stroke="#f54949"/><path d="M543 489l-2 6-3 5-4 5-5 3-7 2-7 0-7-2-7-2M536 492l-1 7-3 6-4 5-6 3-7 1-7-1-7-3-7-4M505 503l-5 6-5 5-6 3-6 1-6 0-7-3-6-5-5-5M500 508l-5 5-5 5-7 3-6 1-7-1-6-3-6-4-5-6M408 485l-7 0-7-2-6-2-5-4-3-4-1-6 1-6 2-6M418 489l-8 1-8 0-7-1-6-3-3-5-1-6 1-6 2-6M414 494l-7-1-7-1-7-2-5-3-3-5-2-5-1-6 1-6M380 460l-8-3-7-3-5-5-3-5 0-5 3-6 4-5 6-5M385 455l-8-2-7-4-4-4-3-5 0-5 3-5 5-5 6-5M376 431l-5-4-4-5-2-5 0-5 2-5 4-4 5-4 6-3M376 421l-4-5-3-5-2-5 1-5 3-5 4-4 6-3 6-3M378 389l-2-7 0-6 1-6 3-5 5-3 6-3 8-1 8 0M387 388l-1-6-1-6 2-5 3-5 5-3 6-2 7-1 8 0M413 358l2-7 3-5 4-5 5-3 7-1 7 0 7 2 7 3M451 343l5-6 5-5 7-4 6-1 7 1 6 3 6 5 5 6" stroke="#4949fa"/><path d="M543 485l-2 5-3 5-4 5-5 3-6 1-6 1-7-1-7-2M534 492l-2 6-2 6-5 5-5 3-7 1-7-1-7-3-7-3M541 494l-2 7-2 6-5 5-5 4-7 1-8-1-8-3-7-4M495 507l-5 6-5 4-7 3-7 1-6-1-6-4-6-5-4-6M453 508l-7 4-8 2-7 1-7-2-5-3-4-5-3-6-2-7M384 462l-6-3-5-4-4-4-2-5-1-5 1-5 3-5 3-5M380 459l-7-3-7-4-4-4-3-5 0-6 2-5 4-6 6-5M382 465l-8-2-7-4-5-4-3-5-1-5 2-6 4-6 5-5M382 465l-7-2-6-4-5-4-3-5-1-5 2-6 3-6 4-5M376 417l-5-6-4-5-1-6 1-5 3-4 5-4 7-3 8-2M374 425l-6-5-5-5-2-6 0-5 2-5 6-4 7-3 8-3M371 426l-4-4-4-6-1-5 0-5 2-5 4-5 6-3 6-4M373 425l-6-5-5-6-3-5 0-6 3-5 6-4 7-3 8-3M382 384l0-6 0-6 2-5 4-5 5-3 6-2 7-2 7 0M382 394l-2-6-1-6 0-5 3-5 4-4 7-2 7-2 8 0M412 362l2-5 3-5 4-4 5-3 6-2 6 0 7 1 6 2" stroke="#2c2cfa"/><path d="M579 428l6 6 4 5 2 6-1 5-3 5-5 4-7 3-8 2M578 427l3 5 3 5 1 5-1 6-3 4-4 4-5 4-6 3M572 463l3 6 1 7-1 6-3 5-6 4-7 2-8 0-9-1M537 487l-1 7-2 5-4 5-5 3-6 2-7-1-8-2-7-4M503 502l-5 5-5 4-6 3-6 1-6-1-6-2-6-4-5-4M506 506l-4 5-5 5-6 3-7 1-7 0-6-3-6-4-5-5M462 504l-7 4-7 3-7 1-6-1-6-3-4-4-3-6-2-7M454 504l-6 3-8 2-6 1-7-2-5-3-4-4-3-6-2-6M450 506l-7 2-8 2-6 0-7-2-5-3-4-5-3-5-2-6M409 493l-8-1-7-1-7-2-5-4-3-4-1-6 0-6 1-6M409 487l-8 0-7-1-7-2-5-3-3-5-1-6 1-6 3-6M382 388l-1-5 1-6 1-5 3-5 5-3 6-3 7-1 6-1M407 359l1-7 2-6 4-5 5-4 7-1 7 0 8 2 8 3M496 343l7-3 8-3 7-1 6 2 6 3 4 5 2 6 2 6M495 341l6-3 7-1 7 0 6 1 6 3 4 4 4 5 3 5M501 345l7-3 7-2 7 0 6 1 5 3 4 5 2 6 2 6M543 356l9-1 8 1 6 3 6 3 3 5 1 6-1 6-2 7M538 355l8-1 9 0 7 1 5 4 4 5 1 6-1 6-2 7M570 392l5 3 5 4 4 4 2 5 0 5-1 5-3 5-4 5M564 384l8 1 7 3 5 4 4 5 0 5-2 6-4 5-5 5M572 389l6 3 6 4 4 4 3 5 0 6-2 5-3 5-5 5" stroke="#f52c2c"/></g>
<g><path d="M225.9,210.8 L225.4,210.5 L224.6,210.1 L223.8,209.6 L222.9,209.0 L222.2,208.4 L221.7,207.7 L221.5,206.9 L221.4,206.1 L221.5,205.2 L221.7,204.3 L222.0,203.5 L222.4,202.8 L223.0,202.3 L223.8,201.9 L224.8,201.7 L225.7,201.4 L226.6,201.2 L227.3,201.1 L228.7,200.6 L229.4,200.3" stroke="#34344e" stroke-width="0.7" fill="none"/>
<path d="M225.9,215.8 L225.3,216.0 L224.4,216.3 L223.5,216.6 L222.5,217.1 L221.6,217.6 L221.0,218.2 L220.7,218.9 L220.5,219.7 L220.4,220.5 L220.4,221.4 L220.6,222.3 L220.7,223.1 L221.0,223.8 L221.5,224.5 L222.1,225.0 L222.8,225.5 L223.6,226.0 L224.5,226.3 L225.2,226.6 L226.1,226.8 L227.1,226.9 L228.0,227.0 L228.8,226.9 L229.4,226.9" stroke="#34344e" stroke-width="0.7" fill="none"/>
<path d="M257.4,202.8 L258.0,203.0 L258.9,203.4 L260.0,203.8 L260.9,204.3 L261.6,204.9 L262.0,205.6 L262.3,206.4 L262.5,207.3 L262.6,208.2 L262.5,209.1 L262.3,209.8 L261.9,210.3 L261.2,210.8 L260.3,211.3 L259.5,211.7 L258.6,212.1 L257.9,212.4 L257.4,212.6" stroke="#34344e" stroke-width="0.7" fill="none"/>
<path d="M258.8,216.4 L259.3,216.8 L260.1,217.1 L260.9,217.6 L261.8,218.2 L262.5,218.9 L263.0,219.6 L263.2,220.4 L263.3,221.3 L263.2,222.3 L263.1,223.3 L262.9,224.3 L262.6,225.2 L262.3,225.9 L261.7,226.6 L260.8,226.9 L259.8,227.2 L258.9,227.5 L258.1,228.0 L257.5,228.8 L257.0,229.7 L256.6,230.7 L256.3,231.6 L256.0,232.2" stroke="#34344e" stroke-width="0.7" fill="none"/>
<path d="M237.1,194.4 L237.8,193.8 L238.9,193.1 L239.9,193.0 L240.4,193.5 L240.8,194.3 L241.3,195.2 L241.8,196.2 L242.2,196.9 L242.7,197.2 L243.3,196.9 L243.8,196.1 L244.4,195.1 L244.9,194.2 L245.5,193.7 L246.5,193.9 L247.6,194.6 L248.3,195.1" stroke="#34344e" stroke-width="0.7" fill="none"/>
<path d="M237.1,233.6 L237.6,234.0 L238.3,234.6 L239.1,235.2 L239.9,235.6 L240.6,235.7 L241.1,235.3 L241.6,234.5 L242.1,233.5 L242.5,232.6 L243.0,231.8 L243.4,231.5 L243.9,231.9 L244.3,232.9 L244.7,234.1 L245.1,234.9 L245.5,235.0 L245.7,234.6 L246.0,234.0 L246.2,233.2 L246.4,232.2 L246.7,231.2 L246.9,230.1 L247.1,229.1 L247.3,228.2 L247.5,227.5 L247.6,226.9" stroke="#34344e" stroke-width="0.7" fill="none"/>
<path d="M241.3,208.1 L241.8,208.4 L242.6,208.8 L243.4,209.3 L244.1,209.8 L245.0,210.8 L245.5,211.6" stroke="#34344e" stroke-width="0.7" fill="none"/>
<path d="M230.1,196.5 L229.4,197.1 L228.5,197.8 L228.0,198.6 L228.6,199.6 L229.4,200.3" stroke="#34344e" stroke-width="0.7" fill="none"/>
<path d="M230.1,196.5L237.1,194.4" stroke="#3c3d64" stroke-width="4.06" stroke-linecap="round" stroke-dasharray="0 1.61"/>
<path d="M230.1,196.5L237.1,194.4" stroke="#4e4f72" stroke-width="3.50" stroke-linecap="round" stroke-dasharray="0 1.61"/>
<path d="M230.1,196.5L237.1,194.4" stroke="#4b4c78" stroke-width="2.80" stroke-dasharray="0.32 1.29" stroke-dashoffset="-0.63" stroke-opacity="0.6"/>
<path d="M248.3,195.1L257.4,202.8" stroke="#3c3d64" stroke-width="4.06" stroke-linecap="round" stroke-dasharray="0 1.61"/>
<path d="M248.3,195.1L257.4,202.8" stroke="#7c7eb1" stroke-width="3.50" stroke-linecap="round" stroke-dasharray="0 1.61"/>
<path d="M248.3,195.1L257.4,202.8" stroke="#4b4c78" stroke-width="2.80" stroke-dasharray="0.32 1.29" stroke-dashoffset="-0.63" stroke-opacity="0.6"/>
<path d="M229.4,200.3L242.0,206.3" stroke="#3c3d64" stroke-width="4.06" stroke-linecap="round" stroke-dasharray="0 1.61"/>
<path d="M229.4,200.3L242.0,206.3" stroke="#7c7eb1" stroke-width="3.50" stroke-linecap="round" stroke-dasharray="0 1.61"/>
<path d="M229.4,200.3L242.0,206.3" stroke="#4b4c78" stroke-width="2.80" stroke-dasharray="0.32 1.29" stroke-dashoffset="-0.63" stroke-opacity="0.6"/>
<path d="M242.0,206.3L258.1,211.9" stroke="#3c3d64" stroke-width="4.06" stroke-linecap="round" stroke-dasharray="0 1.61"/>
<path d="M242.0,206.3L258.1,211.9" stroke="#7c7eb1" stroke-width="3.50" stroke-linecap="round" stroke-dasharray="0 1.61"/>
<path d="M242.0,206.3L258.1,211.9" stroke="#4b4c78" stroke-width="2.80" stroke-dasharray="0.32 1.29" stroke-dashoffset="-0.63" stroke-opacity="0.6"/>
<path d="M225.2,211.6L240.6,207.7" stroke="#3c3d64" stroke-width="4.06" stroke-linecap="round" stroke-dasharray="0 1.61"/>
<path d="M225.2,211.6L240.6,207.7" stroke="#7c7eb1" stroke-width="3.50" stroke-linecap="round" stroke-dasharray="0 1.61"/>
<path d="M225.2,211.6L240.6,207.7" stroke="#4b4c78" stroke-width="2.80" stroke-dasharray="0.32 1.29" stroke-dashoffset="-0.63" stroke-opacity="0.6"/>
<path d="M225.2,216.1L242.0,223.1" stroke="#3c3d64" stroke-width="4.06" stroke-linecap="round" stroke-dasharray="0 1.61"/>
<path d="M225.2,216.1L242.0,223.1" stroke="#7c7eb1" stroke-width="3.50" stroke-linecap="round" stroke-dasharray="0 1.61"/>
<path d="M225.2,216.1L242.0,223.1" stroke="#4b4c78" stroke-width="2.80" stroke-dasharray="0.32 1.29" stroke-dashoffset="-0.63" stroke-opacity="0.6"/>
<path d="M242.0,223.1L258.8,216.1" stroke="#3c3d64" stroke-width="4.06" stroke-linecap="round" stroke-dasharray="0 1.61"/>
<path d="M242.0,223.1L258.8,216.1" stroke="#7c7eb1" stroke-width="3.50" stroke-linecap="round" stroke-dasharray="0 1.61"/>
<path d="M242.0,223.1L258.8,216.1" stroke="#4b4c78" stroke-width="2.80" stroke-dasharray="0.32 1.29" stroke-dashoffset="-0.63" stroke-opacity="0.6"/>
<path d="M257.4,211.9L259.5,216.1" stroke="#3c3d64" stroke-width="4.06" stroke-linecap="round" stroke-dasharray="0 1.61"/>
<path d="M257.4,211.9L259.5,216.1" stroke="#7c7eb1" stroke-width="3.50" stroke-linecap="round" stroke-dasharray="0 1.61"/>
<path d="M257.4,211.9L259.5,216.1" stroke="#4b4c78" stroke-width="2.80" stroke-dasharray="0.32 1.29" stroke-dashoffset="-0.63" stroke-opacity="0.6"/>
<path d="M229.4,226.9L237.1,233.6" stroke="#3c3d64" stroke-width="4.06" stroke-linecap="round" stroke-dasharray="0 1.61"/>
<path d="M229.4,226.9L237.1,233.6" stroke="#7c7eb1" stroke-width="3.50" stroke-linecap="round" stroke-dasharray="0 1.61"/>
<path d="M229.4,226.9L237.1,233.6" stroke="#4b4c78" stroke-width="2.80" stroke-dasharray="0.32 1.29" stroke-dashoffset="-0.63" stroke-opacity="0.6"/>
<path d="M247.6,226.9L256.0,232.2" stroke="#3c3d64" stroke-width="4.06" stroke-linecap="round" stroke-dasharray="0 1.61"/>
<path d="M247.6,226.9L256.0,232.2" stroke="#7c7eb1" stroke-width="3.50" stroke-linecap="round" stroke-dasharray="0 1.61"/>
<path d="M247.6,226.9L256.0,232.2" stroke="#4b4c78" stroke-width="2.80" stroke-dasharray="0.32 1.29" stroke-dashoffset="-0.63" stroke-opacity="0.6"/></g>
<g transform="scale(0.5)" fill="none" stroke-width="0.80" stroke-opacity="0.8" stroke-linecap="round" stroke-linejoin="round"><path d="M396 677l-20-29-15-40 11-14M426 670l-22-34-11-39M459 668l-24-37-10-40M491 666l-23-37-13-38M527 664l-18-21-22-47M473 605l4-23M504 598l7-18M564 643l-26-45-3-28M422 616l2-27M454 612l-1-26M493 624l-13-40M548 654l-25-34-10-37M581 651l-19-25-18-38 6-14M416 639l-13-37M446 634l-12-36M468 606l3-17M499 606l5-19M550 635l-19-36 1-20M590 639l-14-17-14-29 2-15M436 674l-17-20-20-44M468 671l-15-16-23-49M501 670l-16-17-21-41 2-23M527 660l-27-43-5-33M557 655l-27-44-3-30M575 632l-19-43M407 672l-24-41-8-34M445 673l-18-22-20-48M477 670l-21-27-18-46M511 668l-14-14-25-46M529 647l-26-47M404 664l-15-31-4-28M442 668l-16-25-10-36M474 662l-18-28-8-31M508 661l-14-19-15-36M541 658l-15-19-16-39M573 653l-13-13-17-35M395 666l-12-12-17-38 2-18M426 665l-17-27-13-39M458 667l-18-30-12-42M491 662l-17-22-15-37M513 645l-21-41M404 666l-18-28-14-39 10-7M433 665l-22-42M465 660l-24-42M500 660l-21-32-12-37M535 655l-21-26-16-39M403 666l-19-36-4-26M442 673l-15-20-16-43M474 667l-17-22-15-39M507 665l-11-11-20-40 3-21M530 651l-23-41 5-18M562 647l-21-37-2-24M359 607l8-16M425 674l-21-32-14-44M460 669l-22-29-17-46M492 670l-23-33-17-45M526 661l-16-14-25-47M385 664l-17-29-8-29M414 656l-17-33M447 656l-19-37M479 655l-19-34M515 650l-18-27M564 623l-14-30M397 667l-15-23M427 661l-21-37-7-36M458 658l-22-40-4-32M492 657l-21-34-11-34M528 655l-21-28-16-41M558 649l-23-33-12-37M386 656l-14-25-9-31M417 658l-17-36M449 653l-18-33M482 648l-18-31M519 654l-16-23-14-38M385 660l-20-43 1-22M430 673l-16-21-19-43M463 670l-15-17-21-48M495 667l-15-17-21-42M521 658l-26-43-3-31M552 652l-26-42-2-27M568 626l-17-42M434 608l9-13M560 596l7-16M380 668l-24-42-8-34M409 663l-24-46-1-31M444 665l-27-49-1-32M475 660l-26-47-4-31M516 665l-26-35-17-46M546 658l-29-41-12-41M557 628l-20-42M400 674l-16-14M431 671l-19-23-21-48M463 670l-20-26-21-51M496 669l-19-23-22-48M518 655l-29-50M547 646l-28-49M587 650l-24-33-16-41M398 664l-18-31-9-30M432 668l-12-16-16-43M464 661l-14-17-15-38M497 659l-10-11-18-37M523 651l-22-40M419 669l-17-28-10-36M452 662l-18-27-10-35M484 665l-17-27-12-35M517 655l-11-12-19-38M550 656l-14-16-17-40M571 638l-18-34M404 615l3-19M435 610l6-15M468 614l0-21M502 614l-4-28M552 643l-19-33-2-24M588 643l-14-19-14-34 6-11M411 668l-12-17-19-41 3-17M441 666l-20-34-10-39M472 662l-22-37-6-35M507 660l-18-24-16-41M522 633l-17-41M553 627l-16-36M391 669l-18-32-8-35M397 677l-20-26M426 674l-23-36-14-44M459 671l-25-37-13-44M491 669l-23-35-16-43M527 666l-18-19-25-50M559 659l-20-20-24-47M583 649l-28-43-8-32" stroke="#f5dcdc"/><path d="M396 681l-24-38M423 672l-25-45-4-35M456 671l-27-48-2-32M488 667l-27-46-6-33M528 670l-28-37-16-46M559 666l-29-40-14-42M594 661l-18-18-26-48M397 625l-1-24M428 621l1-27M461 622l-3-24M498 627l-11-36M548 654l-20-30-8-32M581 647l-16-22-14-32 8-11M363 626l2-23M423 673l-14-20-16-39M445 657l-20-42M489 668l-13-14-19-41M516 658l-23-38M564 629l-14-38M381 673l-23-38-7-37M419 675l-13-14-22-47 3-24M441 663l-24-48M472 659l-24-46M513 667l-25-38-12-42M552 624l-14-39M488 595l9-18M561 654l-18-19-24-49M582 644l-24-39-8-31M394 674l-18-23-19-47 10-17M420 664l-25-44-5-35M452 664l-27-50-2-33M484 659l-26-45-7-35M523 664l-24-32-18-48M555 656l-27-35-15-43M567 629l-21-42M420 664l-17-31-9-34M455 666l-17-26-13-40M486 661l-19-29-10-35M520 654l-12-13-19-38M418 672l-16-19-20-45M438 658l-23-48M483 669l-14-14-23-49M510 661l-25-40-9-37M543 659l-27-41-7-35M575 654l-26-39-11-37M403 674l-17-23M434 672l-21-29-15-42M467 671l-23-35-14-46M499 664l-21-25-17-39M533 664l-15-16-25-50M565 655l-18-18-22-45M590 650l-26-40-8-33M357 617l4-18M416 667l-14-20-14-37 9-12M439 653l-19-42M481 659l-12-12-17-38M508 653l-20-36M363 636l-6-30M416 668l-7-6-17-34-1-25M445 666l-20-37-1-28M475 657l-19-35-2-25M513 665l-18-27-12-37M524 626l-10-33M376 648l-11-33 9-8M420 664l-16-26-7-31M453 665l-15-25-9-34M486 662l-16-24-11-32M519 655l-11-12-17-36M411 678l-18-25-18-45 8-13M439 673l-24-41-6-37M469 665l-25-44M505 667l-23-36-13-39M515 632l-14-43M546 625l-14-39M415 681l-21-30-17-45M450 676l-17-19-24-53M482 675l-19-21-22-49M506 663l-28-47-4-32M538 660l-30-48-1-29M572 657l-28-42-11-36M611 655l-11-7M374 623l-4-30M389 669l-18-34-6-29M418 659l-19-36M451 658l-21-41M484 658l-20-38M521 660l-21-31-9-35M403 682l-17-22-19-42 3-25M433 675l-22-32-15-45M466 675l-25-36-13-44M498 672l-21-31-19-44M533 665l-19-19-24-47M383 663l-20-36-6-30M413 657l-20-37-2-28M447 657l-22-40-1-27M479 654l-22-39-5-29M518 658l-21-29-15-42M549 655l-22-32-14-41M565 630l-18-37M351 610l8-15M413 665l-16-23-14-37M447 665l-12-15-20-45M479 661l-14-15-18-41M505 652l-22-38" stroke="#dcdcfa"/><path d="M422 674l-14-13-22-42-4-31M451 673l-25-38-14-45M481 668l-27-44M518 666l-22-26-21-48M528 637l-22-51M358 636l-9-37M409 670l-21-40-5-33M445 671l-24-41-7-38M476 666l-24-40-7-34M514 669l-20-26-19-45M524 634l-19-45M398 667l-10-10M429 667l-14-20-13-37M461 662l-15-23-12-37M494 661l-15-21-14-34M517 646l-19-39M559 650l-13-13-17-36M569 617l-9-28M400 670l-9-9-18-36-1-23M432 670l-15-22-15-42M464 667l-16-23-15-40M497 664l-13-17-18-39M521 651l-22-40M572 624l-13-33M415 669l-13-15-18-39M438 661l-22-45 5-21M468 653l-21-43 4-19M509 664l-24-38-8-37M540 656l-24-37-7-32M574 653l-21-27-14-35M423 628l-3-30M454 622l-3-26M493 634l-13-37M543 656l-19-27-13-37M575 649l-16-19-15-32 6-13M468 606l1-25M532 603l0-26M561 587l3-17" stroke="#bfbffa"/><path d="M421 671l-17-24-16-42M454 669l-17-21-17-44M486 665l-16-20-18-41M511 656l-24-42 0-26M541 647l-24-43M555 616l-10-31M401 664l-15-27-6-29M438 668l-10-13-16-38 8-15M470 661l-12-15-15-38M503 661l-9-10-17-34 2-20M528 648l-20-37 4-19M558 643l-19-36 2-19M386 670l-18-30-12-35M416 666l-20-35-7-35M449 664l-21-37-7-35M481 662l-21-35-9-34M518 660l-19-23-17-42M528 626l-15-39M411 668l-10-16-15-33M441 666l-18-32-6-34M472 660l-20-36-2-28M507 660l-16-24-13-37M540 655l-17-22-13-35M571 647l-17-23-13-31M597 638l-19-34M390 673l-19-30-11-37M417 665l-20-38M450 667l-22-42M483 661l-21-36-7-29M521 665l-20-27-15-42M531 630l-14-39M553 649l-19-28M586 642l-11-10-20-38 2-18M410 680l-19-27-19-47 8-14M438 674l-26-45-7-40M470 671l-27-45-6-36M506 667l-24-33-17-42M514 631l-18-45M545 625l-18-43M383 656l-16-33-1-25M362 609l10-11M421 664l-17-28-10-35M455 664l-16-22-13-40M486 658l-18-27-11-34M520 653l-12-12-19-38M552 648l-18-27M586 647l-10-11-17-36 2-18M396 672l-18-22M427 670l-21-28-19-49M460 669l-21-28-20-51M492 665l-20-24-21-46M514 649l-29-49M542 640l-28-51M556 608l-12-40M375 655l-20-44 3-26M378 633l-6-30" stroke="#f5bfbf"/><path d="M355 629l-2-28M384 615l5-18M360 631l-5-28M407 660l-17-36-2-27M443 663l-20-35M474 657l-20-35M511 659l-18-25M409 672l-12-10-21-39-4-32M441 671l-18-21-21-47M473 669l-19-24-21-49M506 667l-15-16-23-45M530 655l-28-46-1-30M559 647l-27-44M601 652l-21-26-19-39" stroke="#f58484"/><path d="M598 646l-14-18M549 655l-21-29M582 651l-14-15-19-35 0-23M397 627l-3-29M428 625l-1-30M552 660l-21-30M585 654l-16-19-18-36 2-16M540 666l-26-35M571 660l-26-35M597 653l-25-37M393 667l-10-11M425 666l-13-17-16-39 10-12M457 662l-13-16-17-41M489 661l-11-13-18-37 4-18M516 650l-22-37-1-26M547 647l-22-38 1-22M584 646l-17-24-15-36M552 652l-15-19-17-41M584 648l-12-14-18-35 0-20M393 679l-18-24M424 674l-21-28-19-49M457 673l-22-28-19-53M489 667l-21-24-20-45 10-12M510 651l-28-50 3-24M540 646l-28-51 6-19M579 649l-26-39-12-40M393 662l-15-29M431 664l-9-10-18-39 6-19M454 652l-18-39 7-14M488 652l-18-35-2-24M524 653l-21-36-4-29M555 646l-21-34-3-24M592 648l-15-19-16-32 3-17" stroke="#8484fa"/><path d="M372 643l-13-40M386 669l-18-32-7-31M415 658l-18-33M448 661l-20-40M479 655l-18-33M517 658l-19-31M400 671l-17-25-15-39 11-7M429 669l-23-43-3-34M460 664l-24-42 1-27M492 659l-21-38-8-32M531 665l-23-31-13-41M561 654l-24-35-11-36M597 658l-15-15-22-44 2-21M399 673l-20-28-17-42 6-18M429 668l-22-32-15-45M463 669l-24-34-15-47M494 661l-23-33-16-41M529 660l-15-15-26-50M377 669l-22-43-3-33M382 608l7-19M388 657l-14-32 0-23M386 651l-18-40 5-20M395 672l-19-29-12-32M425 669l-20-37-8-36M459 673l-22-38-8-39M491 665l-21-32-11-34M527 664l-17-20-20-44M559 659l-19-22-18-42M591 654l-11-10-20-35-5-29M346 610l8-16M385 647l-14-35 5-13M428 661l-14-21-12-35M461 660l-13-19-14-38M493 656l-14-22-13-32 7-11M519 646l-19-36 3-19M548 636l-18-38 6-15M586 642l-16-25-9-31" stroke="#f56767"/><path d="M452 604l8-13M517 604l3-20M577 650l-22-34M559 660l-21-26-20-46M592 656l-14-14-23-40-1-28M399 610l10-15M595 657l-20-25M556 589l10-10M472 608l4-23M503 600l8-16M575 659l-13-12-26-45-1-26M606 651l-17-17M543 605l3-17M492 604l8-16M556 652l-14-14-19-41M580 640l-20-32-6-26M411 623l-4-34M441 618l-2-31M566 651l-22-32-15-38M591 642l-22-36-7-31M559 659l-21-23-23-49M580 648l-23-35-10-35M397 623l-3-26M428 619l-1-27M460 621l-3-27M497 623l-11-33M547 652l-20-32-8-34M579 642l-15-19M550 593l9-10M593 646l-13-11-22-40 0-21M400 622l-3-30M431 620l-1-24M464 617l-6-27M550 644l-17-22-12-32M583 641l-10-12-17-30-2-23M395 609l11-13M459 608l4-18M589 654l-21-28M580 657l-23-29M455 598l6-18M489 605l1-29M519 597l4-23M469 611l2-19M501 611l2-24M553 644l-21-36 2-20M591 645l-19-29-12-31M487 605l9-12M581 648l-10-10M553 604l-1-20M451 595l9-15M485 600l4-23M514 589l8-17M582 647l-26-39M540 655l-18-22M572 648l-19-21M537 591l10-8M600 641l-18-26M420 663l-20-39 1-26M453 661l-22-42 4-22M485 656l-21-39-3-25M524 662l-22-34-11-38M555 659l-23-36-9-36M589 654l-17-21-17-34 6-18" stroke="#6767fa"/><path d="M410 670l-25-42-9-35M448 674l-18-23-22-53M480 670l-21-24-20-49M513 662l-14-12-26-45M532 647l-28-49M383 665l-21-37-7-31M412 657l-21-42-1-27M446 661l-24-45M477 654l-23-42M516 658l-23-34M394 659l-17-33-5-28M429 659l-13-20M461 657l-15-23M494 652l-10-11-16-35M519 643l-20-37M391 665l-22-44 0-25M390 663l-15-24-12-37 10-8M420 657l-19-35-4-30M453 658l-20-37-3-30M486 653l-19-32-9-32M522 653l-18-22-15-39M534 621l-14-37M382 644l-16-40 8-12M394 664l-18-32-5-31M434 669l-11-12-20-42 7-18M454 651l-20-43M499 663l-11-10-20-37-1-24M527 657l-25-40-4-32M556 650l-24-40-2-27M595 654l-16-19-19-39M384 660l-20-41-2-31M388 666l-11-14-14-31 2-19M416 671l-15-23-13-36 10-10M441 659l-20-42 7-18M483 664l-13-13-18-40 9-13M510 657l-21-36-5-28M542 655l-23-40-2-28M575 653l-21-33-9-31M378 650l-20-41 3-24M410 663l-15-23-9-30M435 649l-17-36 8-14M475 656l-11-14-15-37M502 650l-18-34-1-25M534 644l-19-35 1-21M566 638l-17-28-5-24M392 659l-17-31-5-26M428 659l-8-8-16-36M452 647l-17-37M484 647l-16-33M522 646l-20-32M377 651l-18-41 7-19" stroke="#f54949"/><path d="M550 595l4-20M393 614l9-14M425 615l9-14M457 613l5-17M493 620l-4-30M546 653l-23-38-1-25M583 656l-19-27M417 615l3-25M448 613l1-25M545 658l-28-40-9-36M577 660l-25-36M605 648l-23-35M588 654l-21-25M546 587l5-16M552 652l-15-19-17-39M584 648l-12-14-18-35-1-20M602 651l-14-16M415 610l7-19M446 606l5-21M612 650l-11-7-23-38M465 606l10-9M498 607l8-14M529 601l8-12M587 646l-18-29M420 611l8-16M452 609l7-14M488 617l-4-28M540 649l-22-38-1-25M573 647l-20-32-8-29M609 642l-8-5M544 655l-20-29M578 655l-16-20-15-33 8-13M552 655l-14-17-15-37M583 646l-7-6-16-27-5-25M444 621l-1-28M540 666l-25-34M571 658l-25-33M606 656l-13-11-23-41M420 664l-19-31-10-37M456 662l-18-24-15-41M488 663l-20-28-14-40M520 654l-10-10-22-42 5-20M540 640l-21-43 8-14M575 640l-22-38-3-26M395 666l-21-39-9-35M433 666l-13-13-22-47 9-17M465 667l-16-18-20-48M497 659l-13-13-21-40 1-23M523 653l-27-43 0-27M552 643l-26-44 0-25M593 649l-24-31-15-37M441 605l11-14M408 678l-12-12-22-43M437 679l-26-43-10-44M467 673l-27-47-7-39M504 674l-23-29-19-47M538 668l-26-30-19-48M569 662l-26-31-19-42M594 653l-25-36-13-37M399 623l2-23M430 617l4-21M464 620l-3-27M552 651l-23-34-6-28M587 652l-15-20-18-39 6-12M565 664l-23-28-21-47M586 648l-25-39-7-31M582 649l-17-19M547 593l3-18M447 605l9-14M483 614l-3-29M537 649l-24-41 1-25M569 643l-22-36-6-29M608 646l-13-13" stroke="#4949fa"/><path d="M454 624l-9-40M551 664l-23-27M582 658l-22-26-22-46 10-12M609 652l-25-35M546 663l-22-29M579 657l-18-19-21-39 2-19M466 608l5-16M499 611l4-20M551 643l-22-40 4-18M592 651l-20-27M559 591l9-9" stroke="#2c2cfa"/><path d="M390 671l-11-9-17-34-4-29M584 628l-14-31M386 619l1-21M391 664l-15-27-9-28M420 660l-16-33-3-28M453 659l-18-33 0-26M484 651l-16-29-5-24M521 654l-17-25-10-33M534 621l-9-31" stroke="#f52c2c"/></g>
<g transform="scale(0.5)" fill="none" stroke-width="0.80" stroke-opacity="0.8" stroke-linecap="round" stroke-linejoin="round"><path d="M362 637l11-5 11 4 4 8-1-2 3-11 11-5M416 646l-1-4M580 617l4 11-1-1 2-12M397 648l-1 5-2-7 7-12 15 0 10 15-3 5 1-14 14-11 14 10 0 12-1-8 10-13 16 3 5 12-3 1 2-12 13-8 14 9 1 10-3-8 10-15 16 4 6 15-3-2 4-16 15-6 11 11 0 9-3-5 5-11 14-5M395 595l10 9 2 11-2-3 5-12 14-4 11 10-2 5 1-11 13-9 14 8 1 9-2-7 9-13 14 2 7 11-2 5 1-9 12-9 14 7 3 10-3-6 8-15 16 1 6 11-2 0 3-13 14-5 11 9 2 8-3-3 4-11 12-5M397 670l-2 4-1-11 9-13 16 2 6 14-3 3 3-13 16-6 12 12-2 7 0-13 12-11 15 7 4 13-3-2 3-13 14-7 13 11 1 10-3-9 11-14 16 3 5 13-4-3 6-14 16-2 10 13-1 6-3-9 6-14 15-2M413 638l12 7M435 638l15 4M459 636l14-4 10 10M491 634l14 0 7 9M514 632l14-4 11 9 0 4 0-9 12-8 12 6 5 10-2-2 3-13 10-8M369 618l-2-1 3-9 10-7 11 6 6 11M388 647l9 11 0 8-2-5 7-9 13-1 10 11 0 6-2-10 11-14 15 4 4 12-2-2 7-13 16 1 8 12-2 3 1-11 10-10 15 5 5 12-3-2 5-15 16-3 9 11M385 634l1 9-2-3 4-13 12-5M412 631l2 11-2-2 5-13M442 633l-2 5 2-12M469 629l1 10-2-7 8-13M498 628l-1 5 0-10M526 631l-2-6 8-14M555 625l-3 2 2-12M578 611l4 9-2 1 0-10 9-9M390 640l0 6-1-6 8-10 11-1 9 8 1 7 0-6 8-11 14 2 6 10-1-1 5-11 15-1 9 10 0 2 1-11 9-8M503 635l-1 1 3-12M529 624l0 6 2-7 12-6M556 622l2 6-1-7M585 620l1 8-1-4M369 646l10 8 3 7-2-2 5-12 12-5 10 8 2 8-1-4 8-11 14 2 8 11-2 1 5-12 14-5 10 9 0 5 1-8 10-9 12 3 6 11-1 1 3-10 13-7 12 7 1 7 0-9 10-10 14 5M568 629l9 8M379 652l8 13-2 6-2-9 7-12 14-3 10 10-1 9-2-7 10-11 17 5 5 14-4-4 5-18 17-3 10 15-3 7 1-12 12-11 14 6 5 13-4 0 4-16 16-7 11 11-2 7 0-11 14-8 15 10 2 11-4-9 7-17 15-1 9 12M377 614l5-13 13-4M392 597l6 8-1 3 0-9 11-8 13 7 5 11-2-3 6-15 15-4 8 12-1 5 3-8 13-5 11 7 1 4-1-7 6-11 14 0 9 13-1 5 2-12 13-9 12 7 1 8 0-8 10-10 13 3 5 9-1 1 2-9 11-7 12 6M394 623l11 9 1 11-2-4 6-13 16-2 9 12-3 4 2-12 15-7 12 9 1 9-2-8 9-12 14 2 7 11-1 4 0-12 12-10 15 8 2 11-2-6 8-14 16 1 6 12-3 1 3-12 13-7 12 7 3 8-3-1 2-11 10-8M399 643l14 1M432 639l15 8M478 639l13-7 13 10M511 635l16 0 8 13M535 636l16-4 11 12-1 6-2-12 9-15 14 1M589 634l-1 8-1-6M384 666l6 12-2 5 1-6 8-9 13 1 8 9-1 4 0-10 11-10 14 6 4 11-2-5 8-12 16 3 7 13-2 0 3-14 11-9 13 6 3 10-2 0 6-11 16-1 9 10-2 1 2-13 14-7M383 634l-3-1 3-12 13-8M411 629l-3-1 3-11M439 626l-1 9-1-12M467 628l-3-5M493 624l-1-8M523 626l-4-6M579 613l-4 0M578 602l13-6M396 616l12 5 4 10-2 1 2-11 13-8 13 8 2 11-2-6 10-12 15 3 5 11-2-3 4-13 13-4 11 8 1 10-1-4 7-12 15 0 8 12-3-1 4-15 14-5 11 10 0 7 0-8 10-8 14 3 5 10M377 667l-3 0 2-10 12-9 12 5 5 11-3 3 2-12 13-8 14 8 1 9-2-8 10-12 16 6 6 14-3-1 4-16 14-7 11 8 1 9-2-4 8-10 17 2 7 12-3-2 3-17 15-7 12 13M376 648l15-1 7 10-2 7-1-7 8-11 14 0 9 11-2 4 1-12 13-8 15 11 1 12-2-9 10-14 15 2 6 13-3 1 2-11 13-9 14 7 1 9-2-7 8-13 17 4 7 14-4-1 4-16 15-5 11 11 0 9-2-5 5-12 14-5M375 602l9 10 1 7-1-4 6-10 12-2M577 593l2 7-2-3M372 661l1 5 0-7 8-9 11 1 8 10 1 7 0-6 8-12 14-1 6 9-1 2 5-9 14-1 10 9 0 3 1-11 11-10 12 5 5 11-1 2 4-9 12-7 11 6 2 5 0-7 10-9 14 5M589 631l8 9" stroke="#f5dcdc"/><path d="M376 676l-1 6 0-7 8-13 12-2 8 9 0 6-1-6 9-10 15 3 6 12-2 0 5-13 15-4 10 11-1 4 1-10 11-9 13 5 6 11-2 2 3-11 14-7 12 6 0 5 0-9 11-9 15 9M378 606l1 12-3-3 4-15 13-7M375 623l3-10 10-7 13 5M390 645l0 10-2-5 6-14 12-4 11 8 1 9-2-5 8-11 15 1 8 12-3 2 4-15 14-6 12 11 0 8-1-8 8-10 15 0 7 11-2 2 2-13 14-8 13 11 0 9-1-9 11-12 15 4 4 10M559 619l11-5 14 8M440 608l17 5M477 607l11 10M494 604l17 2 6 15M518 605l17-3 10 11M542 604l11-10 14 6 6 13M570 605l8-12M380 660l-1-2 3-10 12-5 11 6 3 9-1-1 4-11 13-5 11 9 0 7 1-9 11-9 14 6 3 10-1-4 7-12 13-2 9 8 0 6 0-8 10-9 14 4 5 11-2-4 7-14 15-1 8 10M561 627l12 5M395 609l-1 6M393 606l8-13 14-1 8 12-2 5 2-11 14-8 13 10 0 8-2-10 11-12 15 6 5 13-3-1 2-13 13-8 13 9 1 10-2-7 10-12 16 3 4 11-3-4 6-14 15-1 10 13-1 7-1-9 7-12 14-3M370 617l-2 1 0-9 11-8 14 6M398 618l-2 2 2-11M426 621l-2-5 9-14M454 614l-3-2 5-13M480 613l-1-8M509 611l-2 2 3-14M535 609l0-11M388 628l8 10-1 5-1-8 7-10M423 634l0 6-1-9 10-12M452 636l-3-2 8-11M480 635l-2 2 1-11 10-11M507 628l-2-2 5-12M536 626l-2 4 2-12M563 626l-2-6M579 605l11 10 1 7-2-5M376 626l14 0 8 10-1 8-1-7 7-12M426 632l-1 5 0-10 12-9M452 627l2 13-2-5 8-14M482 631l-2 2 1-10M510 630l-3-3 6-14M538 626l-2 4 2-13M362 626l0-9 8-9 15 4 8 12-1 7-3-9 8-15M421 620l-3 4 2-12 15-7M448 616l-1 9-1-10 11-12M476 619l-3-2 2-12M502 611l1 11-3-9 10-16M531 611l-3 0 5-13M559 607l-1 5-3-9M403 637l12 5 3 10M421 633l16-1 9 15M446 640l14-9 13 9 0 8M479 629l15 0 9 12M501 634l13-10 15 9 1 10M528 636l10-14 15 3 6 11-4-1 3-12 13-6 12 8M587 637l-3-2 2-13M404 589l12 7 2 9-1-6 8-12 16 4 6 14-3-1 5-15 14-6 10 9 0 8-1-4 8-10 14 1 7 10-3-1 3-14 14-5 12 12 0 8 0-10 10-12 14 4 5 11-2 1 1-10 11-10 12 3M388 664l-2-2 2-11 13-6 11 7 4 12-2 0 4-12 13-6 12 8 0 7 0-10 12-9 14 7 3 11-2-6 8-11 13-1 9 10 0 5-1-10 11-12 14 5 5 12-2-3 7-11 15 0M568 627l12 6M382 663l-1 7-2-6 7-13 12-3 10 9 2 10-3-4 8-13 15 0 8 13-2 2 3-13 15-6 12 11-1 7 0-10 11-12 14 4 5 11-2 1 2-12 14-6 13 10 1 10-2-9 11-13 15 4M393 631l2 8-1-4 6-11 13-3 9 9 0 5 2-10 12-8 13 8 1 9 0-7 9-10 14 2 6 10-1 2 2-10 11-7 13 6 3 9-1-6 8-12 14 1 6 10-1-1 5-11 13-3 10 9 1 7-1-6 6-10 13-3M389 636l-1 4-1-8 9-12M417 633l-1 7-1-8 11-11M445 637l-3-4 8-14M473 632l-2 3 2-13M501 629l-3-2 5-13M529 625l-2 5 1-12M556 624l-3-7M394 648l7 11-1 6 0-9 11-10 14 4 4 11-2-1 7-11 16 1 8 11-2 1 2-13 13-8 13 8 3 10-3-3 5-15 15-4 11 11-1 7 1-9 13-8 14 7 1 8-2-7 8-11 14 1 8 9-1 4-1-11 7-12M372 606l5-11 11-5 12 8M375 633l4 11-2-1 2-12 10-7 12 4 6 12-2 2 2-11 13-9 13 8 1 8-2-8 11-11 15 6 5 12-3-2 5-13 14-4 10 9 1 9-2-5 9-13 15 1 6 10-2-2 4-13 15-3 11 12-1 5 0-11 11-10 13 5 5 10-2 3 1-10 10-8M365 582l14 6 4 11-3 3 1-10 10-10 14 1M563 632l-1-7M368 634l5-12 11-5 11 6M397 631l-1-1 4-9M425 629l-1-8M453 632l-1-5 6-15M480 625l1-6M578 598l10 4 4 7M372 652l4 10-2 2 3-8 9-6 12 3 6 10-1 0 2-11 12-8 13 8 1 10 0-6 10-10 14 3 5 10-1-2 5-11 12-4 10 8 2 7-1-5 8-12 15 1 7 11-1 1 4-11 14-5 10 7M370 662l4-11 11-4 11 6 2 9-1 0 4-10 12-6 11 6 2 7 0-5 10-9 14 5 5 9-1-4 6-13 13-1 9 11 1 6 1-7 8-11 13 0 7 9-1 1 5-10 14-3 9 8M376 612l3-12 12-6 13 9M407 613l-3-1 3-12M433 611l-1-6M488 609l-1-10M396 624l8 8 0 5 0-9 11-10 14 7 4 13-1-3 7-12 15-2 7 9-2 1 3-10 12-6 11 7 4 10-2-2 6-12 14-3 9 10-1 3 2-12 13-8 12 8 2 8-1-5 7-10 12-1 9 9 1 5-2-7 6-12M395 612l14 1 7 13-2 5 0-10 13-10 15 8 2 12-3-8 9-15M466 610l6 13-3 2 3-12 12-6M498 615l2 11-4-6 7-16M528 616l-3 2 3-13M555 612l-1 7-2-11 9-13" stroke="#dcdcfa"/><path d="M367 629l4-15 12-5 13 10M398 630l-2 1 2-13M425 627l-2-5M481 626l-2-10M577 590l12 9 4 12M364 612l3-15 11-8 14 6 4 11M582 575l7 11-2 5M375 603l12 3 4 7-1 2 2-8 9-8M579 584l7 10-1 3 0-7M376 664l-4 1 1-10 12-9 13 4 6 13-3 4 0-12 13-11 15 8 2 12-3-6 8-15 17 1 7 14-4 0 4-14 15-6 12 11 0 10-3-5 8-14 16 0 9 14-3 3 2-15 15-9 13 10M551 627l15 4M371 620l5-11 11-4 12 7M580 583l11 6 4 9M387 657l8 11 0 6 0-4 6-8 12-2 9 8 1 5 0-8 10-10 14 5 5 10-2-3 7-14 14-2 9 12 0 6 1-7 10-9 13 2 5 8-1-2 4-12 14-3 11 10M401 652l3 11-1 2 3-11 13-7 12 7 1 8-1-8 11-11 14 5 5 11-2-2 6-11 14-2 9 10 1 4-2-9 9-12 15 2 6 13-1 3 4-13 15-5 10 8-1 4 1-10 11-8 13 6 4 10-1 0 2-12 11-7M368 663l13-9 12 5 4 14-3 2 1-11 11-10 15 3 4 11-3-2 4-15 17-2 10 15-2 8 1-12 14-10 14 7 1 10-2-4 5-13 15-4 11 12-1 6-1-13 12-13 15 7 3 14M535 656l8-13M368 650l2-10 10-6 12 6 5 10-1 2 1-9 10-10 14 4 4 12-1-1 6-13 15-3 8 10-1 3 3-10 13-4 12 8 1 7-1-6 6-12 14-1 9 11 0 5 1-12 12-9 13 7 2 10 0-6 9-10 14 1 5 8-1 0 1-9 10-7 13 5M374 597l15 9 3 11-4 0 1-13 12-11M444 614l2-13M474 611l-4-9M529 607l-3-10" stroke="#bfbffa"/><path d="M387 642l6 13-3 3-1-11 9-10 14 1 8 13-2 6-1-11 13-12 16 8 2 13-4-7 9-16 17 3 7 15-4 3 2-14 12-10 14 6 3 12-4-3 6-14 17-1 10 14-4 2 2-16 15-8M563 622l14-2M368 657l13 0 8 8 0 6 0-4 6-9 13-1 9 10 0 6 1-8 11-10 13 4 4 8-1-6 8-12 14 1 7 11 0 3 2-8 11-6 13 6 4 10-1-3 6-12 14-3 9 8-1 1 2-13 12-7M370 588l15 3 8 13M391 611l-1-8 7-14M577 573l9 11-1 6M376 586l15 2 8 11M380 644l4 9-1 0 3-10 10-5 11 4 4 9-1-2 5-12 13-5 10 8 1 6 1-7 12-6 13 8 3 10-1-5 7-11 13-2 8 7 0 3 1-9 10-9 14 5 4 9-1-3 7-11 14 0 7 9M553 625l11-6 11 6 5 8M372 623l11-9 12 3M402 630l-2 4 0-10M456 630l1-12M371 635l2-8 8-8 13 1M400 628l-1 3 0-7M428 634l-1-2 5-14M454 628l3-9M484 626l-2-4M511 628l1-11M394 636l12 7 2 7M410 637l13-7 11 9 2 9M445 633l15 5 5 11M468 632l14-5 9 8 1 6M491 635l9-10 14 3 7 11M519 639l5-13 14-5 10 10-1 4 1-9 10-8 13 4 5 10M575 634l1-9 7-10M556 632l0-9M359 636l9-11 13 1 8 12-1 7-2-6 8-13 14-2 9 11-2 4 1-11 14-7 13 10 1 11-1-8 10-14 15 3 5 10-3 0 4-11 12-5 13 10 2 10-2-6 8-16 15 0 7 12-3 0 5-12 15-3 11 12-1 6-1-10 8-13 14 0M382 630l12 8 2 9-3-2 4-10 12-6 12 6 2 9-2-6 8-14M445 626l7 14-3 3 5-12 15-5 10 10-1 5 0-9 8-11M508 635l-2 2 2-14M534 624l0 7 0-8 11-8M393 626l0 7-2-4M396 619l14-2 11 12 0 8-2-11 11-14 16 5 4 14-3-3 7-14 16-1 8 13-3 3 1-10 11-10 14 5 5 11-4-3 5-14 16-2 11 15-3 4 1-14 14-12 13 8 1 11-2-3 5-10 13-3M552 633l3 9-1-3 6-10M582 637l-1-4 3-9" stroke="#f5bfbf"/><path d="M581 627l14 5M386 616l0 6-1-6 7-12 13 0 9 10 1 9-2-6 9-13 15 2 6 12-2-1 5-12 15-3 10 12-2 4 1-12 9-11 13 3 6 11-2 2 4-10 14-4 12 11-1 5 0-12 12-11 13 5 3 10-2-3 5-11 12-4 12 9 1 7-2-4M377 667l-3-5 4-12 13-6 10 8M585 628l12 5M588 621l5 9-1 1M580 578l6 13-3 6M387 637l0 9-3-3 5-14 13-4 12 11 2 13-4-5 7-15 16-3 9 15-3 3 2-14 16-7 13 12-2 7-2-11 10-13 15 3 8 15-4 5 2-13 14-9 14 9 0 8-3-11 12-14 16 7 4 13-4-2 3-14 13-7 12 7 4 12-4-1" stroke="#f58484"/><path d="M546 621l13 11 0 11-3-7 7-14M587 639l-3-8M367 621l13-1 7 7 0 5-1-6 6-9 13-1 10 11 0 7 0-9 10-13 14 4 5 12-2-1 7-12 15-1 7 10-1 2 1-10 10-8 14 6 5 11-3-1 5-15 15-4 9 10 0 5 1-10 13-7 13 7 1 7-1-6 6-12 12-1 11 11 0 7-1-7M545 637l12 7 2 9 0-3 5-9 10-3 11 8 3 8-1-1M384 625l0 4-1-7 7-12 12-2 9 10 1 10 0-4 7-11 14-1 8 10-2 2 4-11 14-5 11 8-1 4 1-10 10-7 13 6 6 11-2 1 3-12 13-8 12 9 0 7 1-9 11-11 13 4 3 9-1-2 7-9 13-1 9 8 1 5-2-6 5-11 11-4M393 604l-2 7M397 589l15-1 9 14-2 8 0-11 14-11 14 6 1 9-3-7 10-12 16 5 5 11-3-1 1-13 13-7 14 11 2 13-3-6 8-17 16 0 7 14-4 1 5-14 15-6 11 8-1 6-3-7 7-10 16 1M399 599l-2 6-2-8 8-13 15 0 9 13-3 6 1-12 14-9 14 10 0 8-2-10 10-13 15 5 6 14-4 2 2-11 13-10 14 8 1 8-3-8 9-14 17 5 5 15-3-2 5-15 14-5 11 10 0 7-3-5 5-13 14-3M551 634l0 1 2-10M580 633l-1 2 1-8M386 621l0 8-1-7 8-12 11-2 9 8 1 7-1-6 9-10 15 3 6 11-2-2 4-14 15-4 10 12-1 7 1-7 9-9 13 1 6 9-2 0 3-13 13-5 12 10 1 8 0-9 10-12 14 3 4 10-2-1 4-9 10-5 13 7 4 8-3-2M395 617l7 13M400 624l10-13 14 2 6 11-3 0 4-13 16-2 11 14-2 7M457 618l13-10 13 5 2 9-3-3 4-13 15-5 11 12 0 9-1-10 12-11 15 6 3 10-3-6 6-14 15-2 9 11 0 7-2-6 6-12 13-3" stroke="#8484fa"/><path d="M401 626l12 8 3 12M415 642l7-13 14-3 8 10-1 3 4-8 13-4 11 7 1 4-1-8 8-10 13 3 8 12 0 4 1-12 12-10 12 5 3 9-1-4 10-9 14 3 5 7-2-3 3-11 12-4 11 7M593 642l1 9M372 655l2-8 9-6 13 5 5 9-1 2 1-10 10-10 14 4 4 11-1-1 7-11 14-1 8 10-1 1 3-11 13-4 11 8 3 8-2-6 7-13 13-3 9 11 0 5 2-9 13-6 12 7 1 5 0-9 8-10 14 2 7 10-1 4 0-10 9-9 12 0M397 618l-1 3 1-11 11-10 13 4 4 10-2-2 8-12 14 0 7 9-1 1 3-9 13-3 11 9 2 7-2-6 6-12 14-2 9 11-1 5 2-13 12-9 12 6 2 9 0-4 9-10 13 2 7 8-2 2 1-8 9-8 12 2M538 648l-2 3 2-12 13-7 14 10 1 11-2-4 4-12 14-7M592 636l1 7M400 622l12 9M417 627l15-4 10 10M442 626l14-8 13 11M476 619l14-1 8 10M497 623l12-10 14 7 3 11M532 611l15 1 8 13M554 615l12-8 12 4M484 619l13 4 6 12M505 624l14-8 10 8M543 617l13 5M557 621l5-11 11-1 12 11M546 635l5 10-2-2 6-12 13-2M577 637l1 6-1-7 7-11M583 642l0 8-3-6 6-13M369 624l12 9 3 11-2-1 2-10 10-8 13 3 4 10-1 0 4-12 14-5 11 10-1 5 1-9 13-6 13 9 2 10-1-7 7-13 13-4 8 9 0 6 0-7 11-9 14 5 4 10-2-4 8-12 15 2 8 11-2-1 2-13 11-9 12 5 4 10-2 2 3-9 12-6M395 597l11 9 1 9-2-3 5-12 14-4 11 12-1 7 0-10 13-11 14 7 2 10-3-7 9-13 15 1 7 11-2 5 0-10 12-9 15 7 2 11-2-6 8-15 16 1 6 12-3-1 4-14 13-5 12 9 2 10-3-3 4-11 13-5M546 650l12 9 1 9-2-8 8-11 14 1 8 11 0 6-1-9 7-13M394 620l6 8M399 624l10-7 14 5 5 12M432 618l14-5 9 10-1 5M457 619l12-7 12 7 3 7M482 622l5-11 14-1 10 12 0 6M512 617l12-11 13 4 2 8-1-6 9-9 14 3 6 10-1 1 1-10 8-8 13 2M396 613l12 5 3 11M411 617l15-4 13 13M437 623l12-14 15 6 3 13M464 623l7-15 15-1 9 10-2 7M492 616l11-10 16 7 4 13M519 620l6-18 17-2 9 13-3 5 1-13 13-9 13 6 4 11M575 613l3-11M546 644l0 10-1-7 9-11 14 0 7 8-3 1 0-10 10-10M429 624l16 2M486 621l14 2 8 12M508 623l14-8 12 9M545 615l14 6 5 11-3-1 2-12 12-10 12 5M402 603l10 7 1 6-1-7 9-12 15 4 5 12-2-1 7-11 14-1 8 10-1 2 1-10 10-10 12 3 6 11-2 1 5-11 14-3 10 10 0 4 0-12 12-10 13 6 3 9-2-3 5-9 11-3 12 8M538 643l4 10-1-3 6-12 14-2 8 8 1 5 0-7 6-10 13-1M597 640l1 6" stroke="#6767fa"/><path d="M577 587l12-2M378 635l-4 0 2-14 12-11 13 5 5 13-3 4 1-12 14-8 14 10 0 9-2-9 10-14M457 613l4 15-3-2 5-14 14-5M488 617l0 9-3-8 9-14M517 621l-4-1 5-15M545 613l-3 4 0-13M573 613l-3 3 0-11M577 629l8-9M374 593l15 4 6 12M394 615l-1-9M580 574l8 9 0 6M577 582l12 8 3 11M577 601l14 9M578 590l8 11-1 6M377 633l12 11 1 12-3-1 4-11 12-7M418 652l-3-5 6-14M446 647l-2 6 2-13M473 648l-2-7 8-12M503 641l-2 5 0-12M530 643l-2-7M583 625l4 12M390 633l2 11-1-1 5-10 11-5 10 4 3 6-1-3 7-9 14 2 8 11-1 0 4-14 13-5 11 11 0 7 1-8 8-9 13 0 7 9-1 3 2-10 13-7 12 7 1 6 0-7 10-8 14 4 5 9-2-4 4-11 10-6 11 6 5 11-1 1M361 608l4-11 11-6 12 6 3 9-2 0 2-10 13-7M578 574l5 9M372 637l15 4 5 13-2 6-1-8 10-11 14 1 8 12-4 2 2-14 15-7 13 12 0 9-2-10 11-15 16 6 5 15-4 1 3-13 14-8 14 8 0 10-3-9 10-14 17 5 6 14-4-4 5-17 16-2 10 14-1 7-2-8 8-12 15-1 8 10-2 5M366 638l0-5 6-9 13-1 8 8M580 604l9 7 1 5M381 641l8 13-1 5-2-9 7-11 13-3 10 10-1 9 0-7 10-11 15 4 5 11-3-4 6-14 16 0 9 13-2 5 1-11 11-11 13 4 5 11-2-1 4-12 16-3 10 11-1 4 0-14 14-9 13 10 2 11-2-5 6-13 13-4 9 6 2 8-3-4M376 628l3-14 11-8 14 6 3 11-3 1 2-11 13-6 14 10 1 10-3-9 10-16 16 3 5 14-3 0 6-13 15-1 10 10-1 6-3-10 9-15 16 1 7 15-4 3 5-13 16-4 10 11-2 3 0-14 11-11 15 7 4 14-3 2 2-11 12-9 13 4M367 655l12 8 2 9-3-1 3-11 12-6 13 7 3 11-3-3 5-16 16-4 10 14-2 8 2-11 14-9 13 8 1 9-2-8 8-12 14 0 9 12-1 6 0-12 12-12 15 8 3 13-2-5 8-15 16 0 6 11-3-1 2-12 13-6 13 8 4 12-4-2 3-14M583 611l1 9-2-2M374 668l-2 1 0-11 10-11 12 1M576 626l13 0M579 569l12 5 6 10M583 607l12 2M384 661l13 5 4 10-2 3 2-9 10-7 13 4 6 12-3 0 5-14 15-5 10 11-1 4 1-11 14-8 13 8 2 10-2-4 5-12 15-3 10 10 0 6 0-10 12-10 14 6 3 10-2-6 8-13 14 0 8 11-2 3 0-9 10-10 13 4 7 11M366 648l0-6 7-8 14 0 7 8 1 5-2-7 8-12 14 1 8 14-1 5 3-13 13-9 12 8 0 7 0-6 11-8 14 5 5 9-2-2 2-13 13-7 13 9 2 12-1-6 9-13 14 0 6 10-2-2 5-10 14-2 10 10 0 5M562 625l5-12 13-4 9 8 2 10M579 627l11 3M584 572l12 6M369 625l8 11-1 6 0-7 7-9 13-2M383 619l6 12-3 3 0-11 9-11M583 605l-1 8-2-8" stroke="#f56767"/><path d="M584 622l3 10-3 0M366 650l9-11 13-1 9 10M581 616l11 9M378 613l-2-5 6-10 13-3M586 576l11 6M367 662l11-9 13 4 6 13M584 632l9 10M372 633l-2 0 2-9 11-6 11 5 6 11-1 5 1-9 11-9 13 3 4 8-2-5 8-12 15 2 7 13-2 3 4-11 13-6 11 7 1 6-1-6 6-11 14-1 9 11 0 5 2-10 12-8 13 8 1 6-1-8 9-11 14 2 6 10-1 3 1-8 9-10 12 2 7 9M374 647l12-6 10 6 3 8-1-1 3-10 12-6M425 645l2 8-1-5 9-10M450 642l6 11-2-3 5-14M483 642l0 8 0-5 8-11M512 643l-2 1 4-12M579 617l12 5M583 587l7 9M582 630l10 6M584 625l12-1M586 631l13-3M374 645l-1-3 5-9 13-4 9 5 2 7-2-4 6-11 14-2 9 11 0 6 2-10 12-8 13 8 2 9-1-6 8-13 14-1 7 9-1 4 1-8 11-7 14 7 4 9-2-6 8-13 14 1 7 10-1 0 3-12 12-6 11 7 3 9-1 0 3-9 12-6M368 610l2-9 10-7 12 3M587 581l5 9M378 638l0 8-2-6 6-14 12-3M387 648l7 11-3 3 0-9 8-10M413 644l8 13-2 5 0-12 13-11M447 647l2 14-2-4 9-14 17 2 5 11-3-3 3-14M504 642l2 12-3-4 8-15M535 648l-4 1 4-13M582 624l7 10M376 646l8 9 0 4-1-7 6-10 12-2 10 10 1 8-1-6 9-11 15 1 6 11-2-1 5-11 15-2 9 10 0 4 1-10 9-9 13 3 7 11-2 2 4-12 14-6 11 8 0 5 0-10 12-7 14 7 3 10-2-6 6-12 12-5 9 7 2 9-1-3 4-9M588 601l7 10 0 5M376 649l12-6 10 4 5 10-1-1 1-10 11-9 13 5 4 12-1-2 6-11 15-1 8 10-1 1 3-11 14-5 11 8 1 6-1-5 7-11 13 0 9 11 0 4 2-11 12-9 12 7 2 7 0-7 9-9 14 3 5 10-1 0 1-9 11-9 12 4 5 9M384 634l-2-1 2-10 12-7M579 615l-2 1 1-12 10-10M583 627l11 8M587 614l4 10" stroke="#f54949"/><path d="M543 655l4 11-2-4 5-14 13-5 10 7 0 7-1-5 5-9 12-2M393 593l12 7 2 11-4-3 6-14 16-2 10 14-2 6 0-14 15-9 14 10 0 11-3-7 8-13 15 0 9 12-3 4-1-13 12-12 16 9 2 14-3-5 9-14 17 2 6 12-4-2 1-16 14-9 13 8 3 12-3 2 1-10 10-8M401 611l4 10-1 2 1-10 11-10 13 5 4 11-2-3 7-12 15 1 8 12-2 1 3-12 13-8 11 7 2 8-2-2 6-11 14-2 10 12-1 3 1-12 13-9 12 7 2 8-1-6 8-10 14 1 7 10 0 4-1-8 7-11M559 633l-3-2 3-12M549 640l-2 3 3-10 11-6M573 632l4 8-2-1 2-10M393 607l5 11M398 609l12-8 14 9 2 11M433 602l16 1 5 11M456 599l15-3 10 11-1 6M479 605l8-12 15 3 7 15M510 599l15-7 11 11-1 6M535 598l12-10 14 5 3 8-3-2 3-12 13-5M401 625l13-1 9 10M432 619l15 5 5 12M457 623l15 1 8 11M489 615l14 2 4 11M510 614l16-1 10 13M536 618l13-8 13 8 1 8M561 620l6-12 12-3M403 625l14-3 9 10M437 618l15 9M460 621l15-1 7 11M481 623l11-10 14 5 4 12M513 613l16 0 9 13M538 617l13-9 12 5 2 8-2-3 2-11 12-6M397 607l16-1 8 14M435 605l13 11M457 603l15 5 4 11M475 605l14-6 13 12M510 597l16 1 5 13M533 598l15-2 11 11M555 603l7-12 16-1M549 638l8 9-2 0 1-13 12-7M580 633l5 11-2 3 1-11M547 642l4 10-3-5 5-14 15-3 10 11 1 10-2-5 6-11 14-2M396 620l13 1 8 12M426 621l15 5 4 11M450 619l15 0 8 13M473 622l11-8 13 5 4 10M503 614l16-3 10 14M528 618l14-9 13 7 1 8M553 617l6-13 12-3 12 10M400 598l3 9-3-2 3-13 13-7 12 10 2 12-2-5 10-14 15 1 5 11-2-2 5-12 14-2 10 11 0 6-2-8 8-12 15 2 7 13-2 1 3-14 15-8 11 10-1 7 1-8 11-9 14 5 4 10-3-2 2-10 11-9M405 583l6 10-3 2 3-12 14-6 13 12-1 8-1-10 12-10 15 8 3 12-3-4 5-15 13-6 11 9 0 9-2-7 10-12 15 4 5 12-3-2 6-13 16-1 9 12-2 2-1-13 11-11 13 3 6 13-2 3 1-11M538 659l-3-3M543 643l16 1 8 11-2 3-2-12 9-12 15 1 7 12-1 6M395 623l2 8M400 621l12-5 12 7 1 6M424 621l11-8 14 7 4 12M458 612l14-3 8 11 0 5M481 619l9-10 14 3 5 9-2-2 6-11 15 0 9 10-2 0 2-13 12-8 12 8 4 11-2-1 3-9 12-8M544 644l0 4 0-9 10-8 13 3 6 11-1 3 1-10 9-10M539 645l0 3 2-10 10-8 12 5 5 10-1 0 2-11 10-7M404 603l3 10M407 600l13-8 12 8 1 11M432 605l10-12 16 4 4 10-3-5 6-13 16 1 8 12-1 7M487 599l9-15 15 2 6 14-3 1 6-13 16-3 8 10-2 1 2-12 13-6 13 9 3 11-3-2 3-15 11-9M450 608l16 2M484 607l14 8M503 604l17-2 8 14M528 605l16-4 11 11M561 595l14 0 8 10" stroke="#4949fa"/><path d="M396 619l2 11M398 618l13-10 13 8 1 11M423 622l10-11 16 2 5 11-3-3 5-14 16 0 10 13-1 6M479 616l8-15 16 2 7 15-3 3 4-14 15-7 11 9-2 6 0-10 13-7 14 7 3 8-3-4 2-12 13-7M396 606l-3 3 1-9 12-9 14 6 3 12-3-4 7-14 17 1 8 15-4 2 3-15 14-9 12 8 1 10-3-5 6-13 15-1 10 13-2 5 0-13 14-10 14 11 1 12-3-8 10-14 15 1 6 10-3 1 0-11 9-9 15 3M401 599l13 4 5 10-1 1 4-11 13-5 11 10 1 6 0-9 12-10 12 4 4 9-2-3 5-9 13-2 10 10 1 7 0-9 10-13 14 3 4 9-1-3 7-10 14 1 8 10-1 2 1-10 10-9 11 2M544 643l-1 7-2-11 10-12M566 631l6 12-2 4 0-11 11-9M399 612l2 7-2-2 3-11 14-5 11 9 1 9-1-8 11-12 14 5 4 11-2-3 7-12 15 0 8 10-1 3-1-10 10-10 14 4 5 12-2-1 6-12 15-3 9 11-2 1 2-12 13-7 12 8 3 9-2-2 3-11 12-7M537 656l0 5 1-10 11-9 13 6 3 10-1-2 4-10 11-5 11 4 3 6-2-2M401 593l15 5 3 12-4-2 5-15 18-1 10 16-4 6M446 601l15-9 13 10 0 9M470 602l7-15 16-2 9 13-3 7 0-12 15-9 15 11 0 12M526 597l10-15 16 1 6 12-4 0 0-12 10-10 16 5" stroke="#2c2cfa"/><path d="M577 620l11 12-1 7M580 627l9-8M379 650l4-10 11-4M408 650l-1-1 3-12M436 648l-1-6 10-9M465 649l-2-3 5-14M492 641l-1-6M521 639l-2 0M576 632l-1 2M382 634l7 10-1 5 1-7 7-10 12-1 8 8 0 6 1-6 10-9 14 4 4 8-1-5 7-10 15 3 7 11-1 0 3-13 10-7 12 6 4 11-1 0 6-12 14-4 8 7 0 3 3-9 13-3 11 8 1 4M556 623l7-11 13 1 8 11 0 7 0-7 6-11M577 607l7 9-1 7-1-6 6-11M370 623l14-5 9 8M391 629l5-10M576 602l12 8 1 7-4-7M377 642l8 10 0 6 0-5 7-8 12-1 9 8 0 4 0-9 11-10 13 5 5 12-1-2 7-12 15-1 7 10-1 2 3-10 10-7 13 5 4 9-1-2 5-10 14-2 10 9-1 2 2-12 12-8 12 8M560 629l12-3 8 5 2 6" stroke="#f52c2c"/></g>
<g transform="scale(0.5)" fill="none" stroke-width="0.80" stroke-opacity="0.75" stroke-linecap="round" stroke-linejoin="round"><path d="M566 571l6-1 7 1 7 4 3 6 0 6 1 5 1 5 2 6 1 7 0 7-2 6-2 6-1 4-3 3-5 4-7 4-5 1M563 573l6 1 6 3 4 1 5 1 5 2 5 2 3 5 2 7-1 7 0 6 0 5 1 5 1 6 1 7-3 7-4 5-7 1-7-1-5-1-4 1-5 2M574 572l6 0 7 3 4 2 5 4 3 2 3 4 4 5 3 6 1 7-2 6-2 6-3 6-1 5 0 5-1 6-6 4-5 2-6 0-7-2" stroke="#dcdcfa"/><path d="M563 584l6 2 7 3 5 0 4 1 5 1 4 3 3 5 2 7 1 7 0 6-3 7-4 4-4 1-4 2-4 3-5 3-7 3-7 0M565 575l6 1 6-3 5-2 6-2 8 3 4 6-1 7-2 6 0 6 2 5 4 5 3 7 0 7-3 7-6 5-4 3-2 1-4 4-3 3-5 4-7 2-5 0M567 587l5-1 7-2 6 0 8 3 3 6-1 6-1 6-1 6 2 5 2 7 1 7-3 7-7 2-7-1-5-1-6 0" stroke="#f5dcdc"/><path d="M569 567l6 1 6 3 5 3 5 3 4 1 5 2 4 4 3 6 1 7-3 7-2 6-2 6 0 5 1 6 1 6-2 6-5 5-7 1-6-1-6 0-6 0" stroke="#bfbffa"/><path d="M559 575l6-2 8-2 6 1 6 4 3 7 0 5 1 5 2 4 4 6 3 7 0 6-1 7-3 6-3 5-2 4-1 5-2 5-4 6-6 3-5 1-7-1M563 576l6-1 7 0 5 2 6 3 4 4 2 4 3 3 3 5 3 5 2 7 0 7-3 6-3 6-3 6-1 4 0 5-4 5-6 3-6 1-6-1-6-2" stroke="#f5bfbf"/><path d="M571 578l7-3 6-2 6 2 6 6-1 8-1 5 1 5 3 6 3 5 1 7-1 7-2 6-3 5-3 4-5 3-4 1-5 1-5 1M558 582l6-1 8 1 5 3 5 4 1 4 1 4 2 5 2 6 2 6 1 7-2 7-2 6-3 4-3 2-5 2-5 2-6 2-6 1M575 581l7 3 5 2 4 3 4 2 3 2 3 4 4 6 1 7-1 7-2 7-3 6-3 4-1 4-2 3-3 4-6 3-6 3M569 589l6 2 5 2 4 1 4 1 5 2 5 5 2 7-1 8-3 6-4 6-4 4-1 2-3 3-4 3-5 3-5 3M559 584l5 2 6 1 4 0 5 0 7-1 7 3 4 6 2 7-1 7-2 6-1 5 0 5 0 6 0 7-4 6-5 3-7 0-5-1-4 0-6 2-5 3" stroke="#6767fa"/><path d="M571 589l6 0 6-2 6-1 6 0 7 3 3 6-1 7-2 6 0 5 2 5 3 7 1 7-4 7-7 2-7-1-5-1-4 0-6 1M558 569l7 2 5 2 5 4 3 5 2 3 2 4 3 5 2 6 1 7-1 7-3 7-2 6-1 5 0 5-1 4-4 6-6 2-6 1-5-1M575 580l6 2 6 3 5 3 4 1 5 1 5 1 5 3 4 5 2 7-2 7-3 6-4 6-1 4 0 5 1 6-2 7-5 4-8 2-5-1-7-3-6-1M569 588l6 0 5-1 6-2 8 1 5 8-1 6-2 7-2 5 0 5 1 6 2 7 0 7-4 6-7 2-6-1-4 0-5 0M572 579l5 1 6 0 6-1 7 0 6 5 1 7-2 8-3 6-1 5 1 6 3 6 1 7-2 7-5 4-7 0-5-1-4 1-5 2" stroke="#f56767"/><path d="M570 583l5 4 6 4 4 1 6-1 5 0 6 3 4 7 0 8-2 6-3 6-2 5-2 4-2 4-5 4-5 2-6 1-7-1M571 570l5 0 6-1 7 2 5 4 3 7 1 6-1 6 0 6-1 5 1 6 2 5 1 7 0 7-2 6-4 5-5 2-4 2-3 3-6 4M562 579l5 1 5 0 5 0 8 0 6 3 3 8 0 6-1 6-1 6 1 5 2 6 2 6 0 8-2 6-4 5-6 2-4 1-6 3-5 3-6 3M559 584l5 1 5 0 5 0 7 1 6 2 4 5 2 6 0 6-1 6-1 5-1 5 1 7 0 7-2 6-5 3-7 0-6 0-5 0-5 3M568 572l5 2 6 1 4 0 7 0 6 2 4 5 2 6 0 7-1 6-1 6 1 5 1 6 0 7-2 7-4 5-5 2-5 0-5 1-4 1-5 3M573 573l6 1 6 3 5 1 4 2 4 3 3 4 1 6 1 7-1 7-1 6-1 6-1 5-1 5-1 5-4 4-6 4-6 1-6-1M558 580l6-1 8 2 5 2 6 4 3 3 3 4 2 5 1 5 0 7 0 6 0 7-1 6-3 5-3 4-3 1-5 3-5 2-7 4-6 2M558 574l6 0 7-1 5 1 6 5 1 7-1 5-1 6 2 5 4 6 3 7 0 7-2 7-4 6-3 4-2 3-5 3-4 3-6 1M564 578l7 1 5 2 5 2 5 2 2 4 2 4 1 6 0 7 1 6-1 7-3 6-3 2-5 1-5 1-4 2-5 2M565 588l6 0 6-1 6 0 7 2 4 4 3 5 1 5 1 5 2 6 1 6 0 6-3 7-4 5-5 1-5 1-4 1-4 2-6 3M559 575l6-1 8 0 5 1 6 5 2 5 0 5 1 5 2 5 4 6 2 6-1 7-4 7-5 3-4 1-5 1-3 2-5 4-5 4M572 568l5 0 6 1 8 2 6 3 4 4 2 3 2 4 2 4 3 6 2 7 0 6 0 6-2 6-1 6 0 5-1 6-3 5-5 4-7 2-6 0-6-1-6-1M564 578l6-1 7 0 6 2 5 5 2 4 1 4 2 5 3 5 2 6 0 7-2 7-3 5-3 5-3 2-5 3-4 1-5 2-6 0" stroke="#f54949"/><path d="M575 578l5-2 6-2 6 0 8 2 4 5 2 5 0 6 1 4 3 5 3 6 2 7-1 7-4 6-5 4-5 0-5 0-5 1-4 2-6 3" stroke="#4949fa"/><path d="M569 578l5 3 5 2 4 1 6 0 4 3 4 6 1 7-1 7-2 6-2 6 0 5 0 5-2 6-5 4-6 1-6 0-6-1M573 571l6 1 6 0 6 1 6 4 2 6 0 5 1 6 2 5 2 6 2 6 0 7-2 7-4 6-4 5-2 3-1 3-3 5-4 4-7 4M573 576l6-2 7-2 6 2 5 3 4 6 2 4 2 4 3 4 4 6 2 6-1 7-3 6-3 6-2 6 0 5 0 5-2 6-6 4-6 1-6-1-6-1-6 0M559 577l6-1 7 2 5 2 6 5 2 3 2 3 4 4 4 6 3 7 0 6-3 7-5 6-4 3-2 2-4 3-4 3-5 3-7 2M572 570l6 3 5 3 5 4 4 4 2 2 3 3 4 5 3 7 0 7-1 6-3 7-2 6-2 4-1 4-4 3-4 3-6 2-6 2M575 573l6 2 6 2 5 2 4 2 2 5 2 6 2 7 0 6-1 6-2 6-2 5 0 5-2 7-5 5-6 2-7-1M576 581l5 2 6 0 5-1 5 0 7 1 5 4 2 7-1 7-1 6-1 5 1 5 2 6 2 7-1 7-5 6-7 1-7-1-5 0-4 0-5 1" stroke="#f52c2c"/></g>
<g transform="scale(0.5)" fill="none" stroke-width="0.90" stroke-opacity="0.6" stroke-linecap="round" stroke-linejoin="round"><path d="M433 620l-3-2-4 9-10 2-8-9-4 3 1 10-6 6-13-2-1 3M425 625l-4-11-4 3-4 10-7 3-9-4-3 1 4 9-1 11M426 611l-9 1-7-4-1 5-3 10-12-1-6-2 2 10-3 11-12-3-7-4 0 10-5 8-8-2" stroke="#f5bfbf"/><path d="M433 618l-2 6-5 11-10-3-7-8-1 8-6 11-12-6-5-2 2 10-3 10-13-3-6-1 3 12-7 7-11-3-2 2 4 11M438 612l-12-1-8-3 4 8 1 13-13 0-8-2 5 10-1 10-14-1-6-2 5 11-1 11-11 0-7-3M437 594l5 12-8 6-13-3 0 3 6 14-9 6-10-2 4 7 3 11-10 4-11-2 0 2 8 13-6 8-11 0 1 3M430 629l-10-2-8-5 0 5-2 13-13-3-7-4 2 10-2 12-13-3-5-3 2 10-4 10-12-3-7-4M424 622l-8 2-6-12-2-6-5 9-9 5-8-12-3-4-3 8-9 9-7-6M428 616l-3-9-3 3-7 8-7 0-8-13-4-1-1 12-4 9-11-5-6-5M428 621l0-8-5 6-8 11-8-6-9-9 0 7-3 14-9-2-9-7 1 8 0 13M436 617l-12-1-9-6 1 8 1 11-8 3-12-5 0 4 3 14-8 3-13-5 0 4 4 12" stroke="#f5a1a1"/><path d="M433 612l1 11-12 3-6 1 8 7 2 13-13 1-7-3 5 12-3 8-15-3-6-3 4 10" stroke="#f58484"/><path d="M439 600l-8-7-2 1-1 12-9 4-10-8-2 1-3 12-9 2-8-8-3 2-3 10-7 4-9-9-3-2-4 9-7 5M438 606l-5 7-10-5-5-2-1 8-6 8-10-6-4-5-4 8M429 603l1 13-9 2-11-5 1 6 1 13-11 2-8-3 3 8-1 11-13 0-7-1 4 7M435 608l-5-5 0 10-7 9-10-6-6-7 1 10-5 12-11-4-4-8-2 4-8 10-9-5M431 595l6 8-1 8-11 3-6 1 9 10 1 9-14 3-6-1 5 8 0 11-10 2-7-1 5 8 0 11-10 1M431 626l-10-2-5 0 3 9-2 9-11-1-8-4 1 5-3 12-10-1-8-4M424 598l0 9-9 3-6 2 5 8-2 9-12 1-4 0 3 9-6 8-10-4-4 0-3 11-7 3-8-6M438 594l-3 12-9 0-9-7 0 8-2 10-12-2-7-9-1 6-8 12-9-7-3-10-5 9-10 5-6-8M428 593l-3 2 5 9-3 9-14-1-2 2 4 13-7 5-11-4 0 5 0 14-10 1-9-6M433 607l0 7-2 12-9 1-9-6 0 8-5 11-11-6-7-9-1 10-8 9-10-8-3-2-2 12" stroke="#f56767"/><path d="M421 633l-4-8 1-12-3 0-9 6-8-4-3-12-3 1-8 10-9-1M440 611l-9 4-6-7-3-8-6 7-10 5-6-9-4-6-5 8-7 4-8-7-4-4M434 605l0 10-5 6-11-4-5-1-1 12-8 5-8-7-4 0-4 8-9 2-6-9-4-3M426 605l-10 0-1 2 5 10-5 8-12 0 0 4 2 10-7 6-10-4-1 4-3 11-9 0-8-4M420 602l-7-1 2 6 2 11-10 3-10-2 2 8-1 10-11 1-6-1 2 7 0 12-12 0-6-1 2 8M416 601l0 3 2 12-8 6-9-3 0 5 3 11-9 6-10-2 0 4 5 10M423 631l-11-7-1 2 2 14-10 4-12-5 2 6 6 13-11 5-12-3 1 4 7 12-6 6M429 598l2 10-7 6-10-2-1 4 3 14-10 3-11-4 1 5-1 11-9 2-7-4-1 5-4 11-11-3-7-7-2 1" stroke="#f54949"/></g>
<g transform="scale(0.5)" fill="none" stroke-width="0.80" stroke-opacity="0.85" stroke-linecap="round" stroke-linejoin="round"><path d="M472 213l-3-4-2-5 1-6 2-5 1-4-1-4-4-4-5-4-3-5M450 120l-1-4-4-3-4-2-4-3-2-6 0-5 4-8 3-2M473 211l-5 0-5 0-5-3-4-4-3-4M457 159l-4-3-3-5-1-6 1-5 1-5-1-4-3-3-5-4-3-3M460 182l-4-4-4-3-5-4-2-5 1-5 1-5 2-4 0-4-2-5-3-4-2-5 0-5 2-6M450 189l-5 0-6-1-5-2-4-4M401 157l-2-5-2-5-3-3-5-1-6-1-4-4-3-4-2-5-2-5-2-2M426 187l-4-3-3-5-2-5-3-4-4-2-5 1-6 2-6 1-6-2-4-4-3-4-4-2M371 160l-4 2-11-2 7-9M432 186l-3-5-3-1-6 1-5 1-5 1-5-1-4-5-3-6-3-4-4-2-5 2-6 3-6 1-5-1-5-4-3-3-3-2-5 0-4 1-6 2-6-1 3-2M396 158l-1-4-3-3-4-2-6-1-4-3-3-5-1-6 0-6-1-4M459 169l-4-4-4-4-2-5 1-5 1-6 1-4-1-3-4-4-5-3-3-5-1-6M430 188l-3-5M405 158l-1-5 0-6-1-4-2-3-4-3-3-3-4-6 7-5 6 2M473 209l-4 2-5 3-6 1-5-2-5-3M438 189l-3-3-5 0-6 1-6 0-5-3-3-5-3-4-3-3-4-1-6 1-6 1-5-1-5-3-5-5-3-2-4 0-5 3-4 2-6 1-5-2-4-8 5-1 3 0 3-2 1-6M450 204l-2-5-3-6-3-4M432 191l-7 1-5-1-4-3M439 185l-1-6-2-4-4-1-6-1-6-1-4-4-1-5 0-7 1-6-1-3-4-3-7-2-6-3-3-4 0-6 0-5M450 195l-5-4-2-6M379 158l-3-7M450 188l1-7-1-5-4-2-5-1-6-1-5-4M431 154l2-5-1-4-5-3-6-2-4-4-2-5 1-3-2-7M469 213l-1-5 1-5 2-6 1-4-1-3-3-4-5-3-4-5M462 166l3-6M455 120l-2-4-5-3-5-4-2-5 1-5 3-6 2-5-1-4-9-5M469 214l-3-4 0-6 1-6 0-5-1-4-4-3-6-2M415 123l-5-5-2-6-1-5M451 191l-6-3M384 159l-6 0-6 0-5-3-3-3-3-5-2-3-4-3-4-1-5-1-6-9 5 4 3 4M449 201l-5-3-3-5-2-6M437 187l-4-1-6 0M400 160l-4-3-3-5-1-5 0-6-4 7M425 186l-2-5-1-3-4-2-5-1-6 0-6-1-4-5-2-5-2-5M457 155l-5-3-3-4-1-6 0-6 0-5-3-3-5-2-5-1-6-3M471 214l-4-4-2-4-4-3-3 0-5 1-6 0M451 196l-4-1-6 1-6 1-6-2-3-5-3-6M460 182l-2-5 0-6 1-5 0-4-3-4-3-3-3-5-3-5 0-5-1-6-2-4-3-3-5-2-4-2M474 211l-5-1-4-1-5-3-3-4-2-5-1-5-2-4M416 160l-6-2-3-4-2-6 0-7-1-5-3-3-6-1-6-1-5-3-2-5 0-5 0-7 0-4-3-2-4-1 6-3 6 2M453 187l-4-2-6-1-6-2-5-3-3-5-1-5-1-5-3-4-3-1-6-1-6-2-4-3-3-5-3-5-2-3-4-2-5-1-5-1-4-2-4-4-3-5-1-3M471 214l-4-3-3-4-1-5-1-5-1-4-2-4M436 159l-5-2-5-2-4-3-2-5 0-6 1-6 0-4-3-4-5-3-4-4-3-4 0-6 0-5 1-4-1-4-3-4-5-3-3-7 7-4M437 188l-6 0-5 1M430 188l-3-2-5 0-6 1-7 0-4-4-3-5-1-6-3-3-4-2-5 0-5-1-6-4-2-5M474 211l-6 0-5-1-4-3-3-7 0-5-1-5-3-3M379 123l-1-5-1-3-4-3-5-1-6-1-4-3M451 207l-5 2-6-1-4-4-4-6-4-4-3-1-5 2-6 3-6 1-4-2-4-3-3-6M443 189l-2-5-4-2-5-1-6 0M409 158l-4 0-7-1-5-1-4-5-2-6 0-6-2-4-4-2-6 0-6-1-4-3-2-6-1-6-1-5-9-6-2 8M457 189l0-5-2-4-6-1-6-2-5-4-2-5 1-7 0-5-1-3-3-3-5-2-5-3-3-4-1-6 1-6 0-6-1-3-5-3-5-2-4-4-3-4 0-6 1-6 0-5-5-4-6 0-1 7M451 196l-3-5-1-6M459 166l-4-3-4-3-3-4M477 211l-4-3-4-3-5-4-2-5 0-5 1-5 0-5-2-3-4-4M427 119l-2-3-5-2-4-2-4-2-3-5-1-6 0-2 1 4 5-1M457 145l-1-6 0-6 1-5-2-4-3-2-7-2-4-4-1-9 9-3 6 5M454 189l0-6-1-5-2-3-5-2-5-3-4-3-2-4-1-5-1-6-3-4-4-1-6-1-5-2-4-4-2-4-2-5-2-5-3-3M451 189l-6-1-6-1-4-4-3-5-2-6-1-4M407 158l-3-6-1-5-3-4-4-2-7 0-5-1-5-3-2-5-2-5-1-5M345 156l2-5 2 0 3-3" stroke="#dcdcfa"/><path d="M339 154l8-4 5 1 4-1M456 179l-5-4-2-5 0-6 2-5 1-4-1-4-2-3-4-4-3-5-1-6 3-6 4-4M343 152l6-1M458 183l-6-2-6-2-4-4-1-5 0-6 1-4 0-4-2-4-3-4-4-5-1-5 1-5 2-5 1-4M458 187l1-7 2-5M458 167l-5-3-4-3-2-5 0-6 2-6 1-5-1-4-4-3-6-3-5-4-2-5 1-6 2-5 2-5 0-2 1-5 5-3M428 184l-3-2-5 0-5-1-5-3-4-4-2-6-1-5-4-3-5-1M393 159l-2-3-4-2-6-1-5-2-4-4 5-5 5 5M459 187l2-6M460 168l-5-4-4-4-2-5 1-5 1-5 1-5-1-4-4-3-5-4-4-5 0-5 1-6 1-5-1-3-3-4-4-2-5-3-1 0-7 1M450 205l-4-1-4 1-6 2-6 2-5-2-5-3-4-4-3-2-4-1-5 2-6 2-6-2-4-4-3-6M458 183l-5-4-1-6 0-6 2-5-1-4-2-4-3-3-4-5-1-5 1-7 2-5 0-4-2-4-3-4-4-3-3-5-1-4 1-5-2-4-4-3M449 190l-2-5-3-2-6-2-5-1-5-3M421 159l-4-2-5-2-5-2-4-4-2-5-1-6-2-4-3-3-4-2-5-1-4-3-3-4M369 122l-2-3-5-2-1-4M457 185l-6-4-2-5 1-6 3-6 1-5-1-3-3-3-4-4-3-5-1-5 2-6 3-5 1-4M450 189l-5-1-5-3-3-5-1-6 0-5 0-4-3-2-6-2-6-3-4-4-1-6 1-5 1-6 0-4-3-3-4-2-5-2-4-2M473 212l-5 1-6 0-5-3-3-4-3-5M367 157l-1-11M477 208l-4-1-6 0-7-1-5-4-2-4 0-7 1-6M427 158l-3-3-4-1-5 0-5-3-4-4-3-5-1-6-3-3-5-1-6 0-6 0-4-3-3-4-2-5-3-5-3-3-4 0-7 1 0 1M457 163l-3-5 0-5 1-5 1-5-1-4-3-3-6-3-5-3-3-4-1-6 0-5 0-5-2-3-3-3-7-8 9-2M449 189l-6 0-7 1M430 189l-4-4-2-6-1-6-1-4-4-2-7 0-6-1-5-3-3-5M426 189l-5 0-5-1-4-3-4-4-2-3-3-3-5-1-5 0-6 1-6 0-4-4-3-5-2-5-3-3-4-2-5 0-6 1-6-1-1 1M473 212l-5-1-4-2-4-4-3-4-1-5-2-4-3-3M451 187l-1-5-4-3-5-1-6-1-5-2M425 159l-2-4-4-2-6 0-6 0-5-3-4-5-1-6-2-5-3-2-4-1-6 0-5-2-5-4 1-8M457 158l-2-5 1-5 2-6 2-4M459 134l-3-4-3-4-3-4M380 189l-3-5-4-2-5 1-5 1-5 0-6-3-3-4-3-4-8 4 6 1 5-2M429 168l-1-5-3-3-4 0M436 189l-4-1-5 1M461 162l-4-3M445 187l0-6-2-4-3-3-6-1-5-2-4-4-2-5-1-5M459 184l-5-3-5-3-3-5 0-6 1-6 0-4-1-4-4-2-5-3-4-5-2-5 2-6 2-5 2-5M460 188l-5-2-6-2-4-4-1-6 0-6 1-5-2-5-4-3-6-2-5-3-3-5 0-5 2-6 1-5-1-4-4-3M471 215l-5-2-4-3-2-5-2-5-3-3-4-1M399 158l-3-3-4-1-5-1-5-2-4-4-2-5 1-6 3-2 3-2 3-4M471 214l-5-1-3-4-3-5-1-6-2-4-3-2-5-2M406 159l-2-5-2-5-4-3-5-1-6 0-5-1-4-4-3-5-1-4-3-5-3-2-5-1-7-4 8-4 6 4M455 170l-5-4-2-5 1-6 2-5 0-4-1-4-4-3-5-3-4-4-1-6 1-6 2-5 0-5-3-3-5-3-4-2-4-5-1-5 4-10M457 189l-1-6 0-6 0-5-2-4-4-3-5-2-4-3-2-4-1-7 1-7 0-5-3-3-6-3-5-2-4-4-1-4-1-6 1-5 2-1M457 183l-6-2-5-3-4-4-1-5 0-6 0-4M395 160l-3-2-6 0-6 1-6-1-4-4-3-4-2-5-2-4-4-1-5 0-6 0-6-7 8-3 5 4M451 206l-5 1-5 2-5-2-5-3-4-5-4-3-4 0-6 2-5 2-5 0-5-2-3-4-4-4M467 214l-1-5 1-5 3-6 0-4-1-4-3-3-5-3-4-5M457 158l-3-3-4-4-3-3-3-4 0-5 0-6 0-5-2-3-4-3-5-3-4-4-1-6 0-5 1-6 0-4-2-3-5-2-5-3-6-7 1-7 3-4M360 156l-2-4-3-2-5 0-7 0-9-4 9-9M443 189l-1-6-3-3-5-1-6 1-6-1-5-4-1-6-1-5-1-5M473 212l-5 0-5-1-5-2-3-6-2-5-2-3M390 158l-4-2-5 0-6-1-5-1-4-4-2-6-2-5-2-3-4-2-6 0-6 0-7-4 0-7 8-3 5 0M432 188l-4 0-6 0-5-1-5-2-3-5-1-6-2-5-3-3-5-1-5-2-4-2-3-5-1-5 2-6 3 0 4-4M422 121l-1-11M456 170l-4-5-1-5 2-6 2-5 1-3 0-4-4-4-4-4-2-5 0-6M471 211l-3-4-3-3-4 0-5 2-5 3M347 156l5 3M450 188l-2-5 0-7 1-6-1-4-4-3-6-1-6-2-4-4-1-5 0-6 1-6-1-4-4-3-5-2-4-3-3-5 0-5 0-6 0-4-3-4-4-4-3-5M426 187l-3-6-2-3-4-1-4 0-7 1-6-2-4-4-4-5-4-3-4 0-5 2-5 3-5 1-6-2-4-4-5-7M448 188l0-6-2-4-4-3-5-1-6-2-4-3M425 157l-1-5-3-3-6-2-6 0-6-2-3-4-1-5 0-6-1-5-2-3" stroke="#f5dcdc"/><path d="M474 211l-1-4-3-4-4-2-4-3-2-5-1-6M445 158l1-6 1-5 1-5-1-4-4-3-3-4-3-5-1-5 0-6-4-5-5 0M458 164l-1-5 2-6 3-5M459 135l-5-4-2-5-1-4 1-6 1-5-1-6-7 4M449 211l-5-2-4-5-3-5-4-3-5 0-5 2-6 2-5 0-5-3-3-4-3-4M452 187l-3-4-1-6 1-6 0-5-2-4-4-2-4-3-4-4-2-5 1-6 3-5 2-5-1-4-4-4-4-4-3-5 0-5 2-5 3-5 2-3 0-4-1-4 3-4M472 211l-2-4-4-3-5 0-5 0-6 0M450 195l-4-4-2-6M439 186l-4-3-4-1-5-1-6-2-3-4-3-4-3-4-3-3-5-1-5-1-5-1-4-4-3-4-2-5-3-4-4-2-5 0-5 0-6-2-3-4M430 185l-6 0-6-1-4-4-2-5-1-5-2-4-3-2-5 0-7-2-4-4M472 211l-1-5-1-4-4-2-6-1-6-1-4-3M377 188l-4-4-3-1-5 0-5 2-4 1-6-1-4-3-5-8 0 1M459 182l1-6M460 161l-4-2-6-2-5-3-3-5-1-6 0-6 0-4-3-3-4-2-6-2-5-5M432 188l-3-4-3-5-3-2-5-1-5-1-5-2-3-3-3-5-3-5-3-3M459 187l-3-3-5-2-5-3-4-4-2-5 0-5-1-5-2-4-4-3-5-1-6-2-4-3-2-5-1-4-2-5-5-5-3-2M452 186l0-5-3-3-5-2-6-2-5-3-3-4-1-6 0-5M454 187l-1-6 1-6 1-6 0-5-3-3-5-3M339 159l0 0M459 188l-5-4-3-5 0-6 2-6 0-4-2-3-4-3-5-5-3-5 1-6 2-5 2-5 0-4-2-4-3-4-1-6 0-5 3-7 1-5-2-4M451 186l-2-5 1-6 1-5-1-4-2-3-4-3-4-4-3-5-1-5 1-6 0-5-1-3-3-3-5-3-4-3-2-4-1-5-1-5M451 187l-1-6 0-6-1-4-3-3-4-2-4-3-4-5 0-5 1-7 2-5 0-5-3-3-4-3-5-4-3-5M442 190l-2-7 0-6-1-5-4-2-5-1-6 0-5-2-3-5-2-5-1-6-2-4-4-1-7-1-5-1-4-4-2-6-1-5-2-5M456 189l-1-6 2-6 2-6 0-5-4-3-6-2-5-4-2-5 1-5 3-6 4-4 2-4-2-4-4-5M473 211l-5 0-5 0-5-2-4-3-3-4M457 188l1-6 0-6 0-4-4-3-5-3-4-3-3-4-1-4 0-7 0-5-2-3-5-2-6-2-5-3-2-4-1-6 1-6 0-5-4-5M426 188l-2-6-2-6-2-5-3-2-5 0-5 1-6 0-5-2-3-5-2-6M453 186l-4-2-5-2-6-2-3-5-2-6-1-5-1-4-3-2-6-1-7 0-6-3-3-5-2-6-1-5-2-4-4-1-6-1-5-3-3-5 2-7 6 1 4 0" stroke="#bfbffa"/><path d="M415 188l-3-4-3-2-4 1-5 2-6 2-6 0-5-4-4-4-3-4-4 0-5 1-5 3-5 1-6-2-4-3-3-4-4-4M444 188l0-6-1-5-3-3-6-1-5-1-5-3-3-4-2-4-2-5M432 188l-3-5M338 160l6-4 7 2M458 188l-1-5-4-2-5-2-6-3-3-4-2-5 0-6-1-4-3-3-4-2-6 0-6-1-5-3-2-6-2-6-2-4-3-2-5 0-6-1-5-2-4-4 0-6 7 3 3 1M475 211l-4-2-5-3-4-4 0-7 1-5 1-5 0-4-3-3-5-4M450 159l2-6 0-4-2-3-4-3-6-2-4-4-3-5 1-6 1-6 0-4-3-4-5-2-4-3-3-5-1-5 1-5 1-6-1-3-3-3-5-3 5-7 6 1M449 188l-1-5-1-5-2-3-4-2-5-2-5-3-3-5-1-6 1-6 0-5-2-4-4-2-4-3-4-3-2-6 4 0 1 6M444 188l-3-5-1-6-2-4-3-3-5-2-5-1M415 157l-3-4-3-3-4-1-6 0-5-1-5-3-4-4-3-6-3-3-3-2-5 1-6 1-6 1-5-3-3-7M468 215l-1-6 0-6-1-4-2-3-5-1-6-1-5-2M419 158l0-7 0-6-2-4-4-1-5-1-7-2-4-5 1-7 9 1M457 190l-2-5 2-7 2-6 0-5-3-3-5-3-6-3-3-5-1-5 2-4 1-6 0-5-3-4-5-3-3-5 0-6 1-5 1-5 1-4-3-4-4-3-3-7 1-6 8-3 6 1M420 189l-3-5-3-6-2-4-3-2-4 0-6 0-7 0-5-3-3-5-3-6M450 210l-6 1-5-3-5-4-4-3-4 0-5 2-5 2-5 0-5-2-3-4-3-6-3-4M452 186l0-6-1-5-1-4-4-3-5-3-4-3-3-4-1-5 0-5 0-5-1-4-3-3-4-3-4-4-3-5M439 186l-2-4-5-1-6 0M404 158l-6-1-5-3-3-4-2-5-1-5-1-4-4-3-5-1-5-2-2-1 2 3M433 186l-2-5-4-2-5 0-5 0-5-1-5-4-4-4-3-4-4-2-5 0-5 1-6-2-4-3-3-5-3-4-4-2-4 1-5 1-1 1 3 0M457 189l-6-1-6-2-3-4-2-6 0-5-2-4-4-2-4-1M416 157l-3-5-2-5-4-2-5 1-5 1-5 1-6-2-4-4-2-8-2-4M459 153l0-6 3-6M430 190l-1-7M396 158l-3-2-5-1-5-1-5-2-3-4-3-4-2-5-3-3-4-1-6 0-5 0-4-1M458 189l-5-2-5-2-4-4-2-6-1-6-1-5-3-3-4-1-5-1-6-1-5-2-3-5-2-6-2-5-3-3-5-1-5-1-5-2-3-2-4-5-2-3M471 160l-1-4-3-4-4-4-2-5-1-5 2-5 2-5 0-5-3-4-4-3M456 185l-4-4-1-5 0-6 2-6 0-4-3-4-5-2-5-3-4-5-1-6 1-6 1-5 0-3-3-3-7-5 8-3M459 189l-4-3-5-1-6-3-3-4-2-5-1-6-1-4-3-3-4-2-5-3-3-3-2-5 0-6 1-6-1-5-3-3-5-3-5-3M444 185l-2-4-4-1-5-1-5-2-4-3-2-5-1-6 0-6-3-3-5-2-6-1-4-3-3-4-1-6 1-6-1-5-8-4M415 189l-3-4-3-3-4-1-5 2-6 3-6 1-5-2-4-5-4-5-3-3-5 1-4 1-5 2-6 0-5-3-3-3-4-4M455 190l-3-4-4-1-7 0-6-2-4-3-2-5-2-5-2-4-3-2-5 0-6 1-6-1-5-4M345 156l4-4M457 185l-6-2-5-2-4-5 0-6 0-6 0-5-3-2-4-2-6-2-5-3-2-5 1-7 1-6 0-4-3-3-5-2M449 197l-2-5-3-4M421 188l-3-3-3-2-5 0-5 1-6-2-4-3-2-6-1-6-2-4-3-3-5-1-6-1-4-4-2-4-1-7 0-5-1-4-3-2 1-6M429 176l-4-2-5 0-6-1-4-2-4-4-1-6-1-6M456 121l-4-3-4-5-1-5 4-8 4 1 4 1" stroke="#f5bfbf"/><path d="M474 209l-5 1-5 1-6-1-4-2-3-4M471 211l0-5-1-4-3-3-5 0-6 0-6-2M417 156l-3-3-5-1-6 0-6 0-4-4-3-6-1-6-3-4-3-2-5 1-7 1-6-1-4-4 0-9 6-1 4 1 4-2M471 214l-4-3-3-4-3-5-3-2-4 0-5 1M476 210l-5-2-5-2-5-3-2-4-1-6 0-5M471 212l-1-5-2-4-3-2-4-2-5-2-4-3M469 215l-2-5-1-5-1-5-3-4-4-2-5-1-5-2M468 213l1-5 2-5 2-6 1-3-2-4-3-4-4-5-1-5 0-6 2-5 1-5M459 149l-3-4 0-5 2-6 2-6M459 119l-5-3-5-4-3-4 0-6 1-5 2-5-1-4-6-4-4 4-1 4M473 208l-4 1-5 2-6 2-4-1-5-3M474 208l-4-1-4 1-6 0-6-2-3-3M437 190l-6 1M381 158l-3-3-4 0-6 0-6 1-5-1-3-3-3-5-3-4-5-3-6 1 5 7M474 212l-5-2-5-2-4-4-1-7 1-5 0-5-1-4-4-3-6-2-5-3-3-5 0-6 0-6-1-4-3-3-5-1-5-1-5-3-3-4-1-7-1-5-2-4-5-1-7-1-5-1-5-3-2-5-1-5-2-6-3-2-4-1-7-6 9 2M471 212l-1-4-1-4-2-4-4-3-4-3-4-3-3-5M418 124l-1-6 1-5 0-4-2-4-2-3-4-4-3-4-2-5 0-4-2-5-7 3 0 5M470 213l-1-5-2-4-4-2-5 0-5 0-6-1M469 216l-3-5-1-5-2-6-3-2-4 0-6 1M468 216l-2-5-1-6 0-7 0-4-3-3-5-2M473 211l2-4 0-4-3-4-4-4-3-5-1-5 2-6 3-5 2-5-2-4-4-4M455 124l-3-4-2-5 1-6 2-5 0-8-7-3-4 3M470 216l-5-2-3-4-2-6-1-5-2-4-5-1-6 1M470 214l-4-3-2-4-1-6-1-5-1-4-3-3M383 123l-3-1 2-1 5-2M470 212l1-5 3-5 1-4-1-4-3-4-4-4-3-5 0-5 2-6 4-5 1-5M457 116l-5-4-3-5 0-5 1-5 1-5 0-4-2-4-4-3-6-3-3 3-5 2M469 214l-1-5 0-6 1-5 0-4-2-4-5-2-6-3M472 213l-4-2-4-4-2-5 0-5-1-5-2-3M407 121l-3-4-1-5 0-5 1-6-2-3-2-3-6-6 1-7 8-2M473 210l-2-4-3-3-6 0-5 0-5-2M391 123l-2 6M474 208l-4 0-5 1-6 1-5-1-4-3M475 210l-5 0-6-2-5-3-2-5-1-5-1-5M400 160l-3-5-2-6-3-2-4-1-5 1-6 2-5-1-3-3 0 1M474 210l-5 1-6-1-5-2-3-4-2-4-3-4M471 214l-5-2-3-4-1-6 1-6 0-5-2-4-4-2M416 123l-6-2-4-4-2-5 1-6 2-6-1-5-3-2M474 209l-2-3-4-1-6 0-6-1-4-2-3-5M444 188l-3-2-5-1-6-1-5-2-4-4-2-5-3-4-3-2-4 0-6 0-6 0-5-2-4-5-3-5-3-4-4-1-5 0-5 1-6 0-4-3-3-5-1-1 1 4 3 0M468 214l0-5 0-6 1-5-1-4-4-3-4-2-5-4-3-5 0-6 1-6 1-4-2-4-3-3-4-3-3-5-1-5 2-6 3-5 2-4-1-5-4-4-3-5-1-5 1-5 3-5 3-4 1-4-2-2 4 0 6 3M473 213l-6 1-5-1-4-4-3-4-3-5-3-2M470 215l-4-2-3-4-3-5-1-5-3-3-4-1-5 0M434 185l-2-6-3-3M404 155l-2-4-4-2-6-1-6-1-4-4-2-5-1-6 0-4-3-4-3-2-6-1-4-8 11-2 5 4" stroke="#8484fa"/><path d="M459 187l1-5 0-5-2-4-4-3-4-3-4-4-1-5M462 148l2-5-2-4-3-4M450 204l-5-3-3-4-3-4-4-2-5-1-5 0-6-1-4-3-2-5-1-6-2-5-3-3-5 0-6-1-6-1-4-3-3-5 0-5-2-5-1-3-5-2-3-4 4-6M448 199l-4-4-2-5-3-4M450 195l-3-5 0-7-1-5-3-4-4-1-6-1-5-3-3-4-2-6-1-6-2-4-6 0-6 0-6-1-5-3-2-5-1-6-1-6-2-3-6 3 1-1M450 208l-4-4-4-3-4 0-5 2-6 2-6 0-5-3-4-4-3-4-3-2-4 1-5 1-6 2-5 0-5-4-4-4M451 201l-3-2-4 0-6 2-6 0-5-3-4-4-4-4-4-2-4 0-4 3-5 2-6 0-5-3-5-5-4-5-4-1-5 3-4 4-6 3-5 1-5-4-5-4-2-4-1 1-2 0 1-5M469 214l-3-4 0-5 0-6 0-4-1-4-3-3-5-2-5-3-3-5 0-6 0-6 1-5-3-4-4-2-5-3-4-3-2-6 1-6 1-6-1-4-4-3-5-4-4-4-2-5 0-5 1-5 1-5-2-3-3-3-6-8 11 1 2 6M447 194l-6-1-5-1-4-4M450 207l-4-5-3-5-3-3-4-1-6 2-6 1-5-1-4-4-4-5-3-4-3-2-4 1-6 3-6 1-5-1-4-5-4-5-3-4-4-1-5 2-5 3-6 1-5-2-4-4-3-7-2-3M446 194l-4-4M451 194l-3-4-4 0M438 191l-7 0-5-3" stroke="#f58484"/><path d="M451 200l-3-3-4-1-6 1-6 1-5-1-4-4-3-5-2-4-3-3-5-1-6 1-6 1-5-2-4-4-3-4-3-4-3-2-4-1-6-1 2-6M461 163l-4-4M451 208l-5 3-6 1-5-3-4-5-4-5-4-2-5 2-5 4-6 3-5-1-4-3-4-6-2-6-4-2-4 0-6 3-7 1-5-1-4-4-2-5-3-5-3-2-5 1-8 5-3 2-1 1M430 182l-2-6-2-5-2-4-4-2-6 0-5-1-4-3-4-4M470 217l-4-3-3-5-4-4-4-1-4 2-6 2-6 0-5-2-4-5-3-5-4-3-3 0-5 1-7 1-5-1-4-5-3-5-2-4-4-2-5 0-6 0-6-2-3-4 0-9 5 0M451 201l-3-5-2-4-4-4M451 197l-6 0-5-2-5-4-3-5M450 195l-4-2-6 1-6 1-6-1-4-4-3-5-1-5-3-3-3-1-5-2-5-1-4-4-3-5-1-6M473 210l-1-4-3-2-6-2-5-2-4-4-2-6 0-6-1-5-4-3-6-1-6-1-5-2-3-5-1-6-1-6-2-3-4-2-6-2-4-2-3-4-2-6 1-6 0-5-3 6M451 192l-4-1-6 0-6-1-5-2M427 183l-1-5-1-4-2-4-3-2-6-2-5-3-4-5M448 210l-4-4-4-3-5 2-5 3-6 4-5 0-5-3-4-4-3-6-3-3-5 1-6 1-6-1-5-2-3-5-2-5-2-3-4-2-5 0-5 0-1 2M477 211l-5-3-6-3-5-4 0-6 1-6 3-5 0-5-4-3-5-4-5-4-2-5 1-5 3-6 2-4-1-4-4-4-5-4-3-5 0-6 2-6 3-4 0-4-2-3-5-7 10-1 3 6M452 205l-5-1-4-5-3-5-2-5M450 197l-6-1-3-5-2-6M451 203l-6 1-6 1-5-3-4-5-2-5-2-4-3-1-5 0-6-1-5-2-4-4-3-5-1-5-3-3-3-2-5-1-5-3-4-3M459 178l0-6 3-6M465 160l1-4-2-4-4-3-5-3-4-5-1-5 2-6 3-6 0-4M451 205l-5-1-4-4-2-6-2-6M456 184l-5-4-2-5-1-6 1-5-1-4-2-3-4-3-5-2-4-4-3-5-1-5 0-5-2-4-2-2-5-2-5-2M472 213l-5-2-3-5-1-6 0-6-2-3-4-2-6-1-7-2-4-5-1-6 1-6 2-4-1-4-3-3-4-4-4-4-1-6 3-7 3-5 1-5-2-3-4-3-5-5-3-3 0-4-4 2-3 3M449 197l-5-1-5 1-6-1-5-3-3-5-3-5-3-3-4-1-5 0-5 0-5-1-5-3-2-5-3-5-2-4-4-2M449 205l-4-3-4-5-2-6-2-4M427 186l-5-1-4-2-4-5-1-5-1-5-3-4-4-2-5-2M450 195l-5-1-6 1-6-1-5-3-3-5M463 161l-2-3-4-3M447 204l-5-1-4-3-4-6-3-5-4-2-4 1-6 2-6 0-5-2-3-3-4-6-3-4-5-1-5 3-6 3-6 0-5-2-4-5-4-3-4-2-4 1-5 2 2-2M452 188l-4-2-5 0-6-2-5-3-3-5-1-6-1-5-2-3-4-1-5-1M459 189l-4-2-5-2-5-3-3-5-1-6 0-5-2-4-3-3M450 204l-4-5-2-5-3-4-4-2M426 189l-5-1-5-3-3-3-4-4-4-1-5 1-5 2-6 1-5-2-5-3-4-4-4-3-3 0-5 1-5 3-1-3 2 0 5 5M473 212l-5-2-4-3-2-5-1-5 0-5-2-4-3-2-5-2-6-3-4-3-2-6-1-5-1-5-1-3-4-2-4-2-5-3-4-4-2-5-1-6-2-4-3-2-5-2-5-2-4-3-3-4-1-6-2-5-3-3-6 0-2 7M451 204l-6 1-6-2-3-5-3-6-3-4M451 202l-4-4-3-2-5 0-6 0-5-1-5-3-3-3-3-4-3-3-4-1-5-1-5-1-5-4-3-5-2-5-2-3-4-2-4-1-5-1-6-2-4-7 7-3M452 187l-5 0-7-1-6-2-3-4-1-7-1-6-2-4-4-1-6-1-5 0-5-2-3-5-1-6-1-5-2-4-5-2-5-2-5-2-4-5-2-5M448 199l-3-4-2-6M426 181l-6-1-3-4-2-6-1-6-2-4-3-2M471 163l1-4-1-4-4-3-5-3-5-4M429 168l-4-2-5-1-6-1-4-2-3-4M450 209l-4-3-4-4-4-4-4-2-5 1-6 2-5 1-5-2-4-5-3-4-3-4-3-1-5 0-6 1-6-1-4-3-3-5-2-5-3-3-5-1-5 0-5 0-5-2-4-3-2-6" stroke="#f56767"/><path d="M470 216l-3-4-3-5-4-4-3-1-4 1-6 2M473 213l-5-3-4-4-2-5 0-6 1-5 0-4-3-4-4-3M448 123l2-5-1-4-2-4-3-4-2-6 1-5 5-11-8-1M470 213l-2-5 1-5 2-5 2-4 0-4-3-4-5-3-5-4-2-5 0-6 3-6 2-5 0-4-3-4-4-4-3-4-1-5 1-6 2-6 0-4-2-4-5-3-5-4-2-5 0-5 2-6 1-4 0-5-3-3-4-3-5-3-4-2-1-3M470 213l0-6 2-5-1-5-2-3-5-2-6-2-4-4-2-6 1-6 0-5-1-4-4-3-5-3-3-3-2-5 0-5 2-6 2-6-1-4-4-3-6-3-4-4-2-5 0-5 1-5 0-4-2-4-4-2-8-3-1-1-1 0M471 214l-4-4-3-4-4-2-4 0-4 2M475 209l-4-1-5 0-6-2-4-4-2-5-1-6-1-4-3-3-6-1-6 0-6-2-3-5-1-6-1-6-2-3-3-2-5-1-6-1-4-3-3-5-1-6-1-6-3-3-4-1-7 0-6-2-3-4-2-5-1-5 0-5-2-3-4-2-6-4 3-8 6-1 6 3M474 208l-4-2-5 1-6 2-5 0-4-2-4-4-4-4-3-3-5 0-6 1-6 1-5-3-4-4-2-5-2-4-3-2-5 0-6 0-6-1-5-3-2-6-1-6-2-4-4-2-5 0-5 0-6-2-4-3-1-8 2-4 4-1M473 212l-5-2-4-3-2-4-1-6 1-6-1-4-3-4M436 124l0-5-2-3-6-5-3-1-3-1M475 210l-3-3-4-2-5-2-4-2-3-4-2-5 0-6-1-4-3-3-5-2-6-2-5-4-2-5-1-5-1-5-1-3-3-3-5-2-4-3-3-4-2-6 0-6-1-4-3-3-5-2-6-2-4-3-2-4 0-6 1-6 0-4-2-4-2-5 4-5M474 210l0-4-2-3-4-4-5-3-4-4-1-5M461 175l0-5-3-3M470 215l-3-5-3-5-3-4-3-2-5 1-6 1M430 187l-2-3M394 159l-5 0-6-1-5-3-2-5 0-5 1-2 2 1M472 214l-5 0-5-1-5-5-2-5-2-5-4-3M472 211l1-5 0-4-3-3-4-3-5-2-4-4M475 210l1-4-2-3-6-3-4-3-4-5-1-5M461 181l2-5-1-5-2-3M473 212l-5 1-5 0-5-2-4-3-4-3M385 189l-3-5-3-3-4 0-5 1-7 0-5-1-6-7M470 213l-2-4 0-6 1-6 0-4-2-4-4-3-5-3M474 209l-3-2-4-1-6-1-5-2-3-3-2-5M379 121l-2-6 1-5 0-3 1 1M471 211l-3-4-4-2-4 1-5 2-5 2M397 189l-4-1-6 1-7 1-5-2-3-4-3-6-1-5-2 0-1-1 5-4M467 214l-1-5 1-5 2-6-1-4-3-3-5-3-4-4-3-4-1-6 0-6-1-4-2-3-5-2-4-2-4-3-3-5-2-6-1-6-2-4-5-1-6 0-5 0-5-2-3-5-1-6 1-5 0 1 3-4M468 214l-2-4 0-6 2-6 1-5-2-3-4-3-6-2M448 124l0-4-3-5-2-5-1-5 1-5 3-5 3-4-6 0 5-2M471 214l-5-1-5-4-2-4-1-6-1-5-2-3-5-2M471 216l-5-1-4-4-3-7-2-4-3-3-5 1M475 211l-1-4-3-3-5-4-3-4-1-5 2-6 2-6 1-4-2-4-4-4-4-4M472 211l-3-4-3-3-4-1-5 1-6 1M473 210l-2-3-3-2-5-2-5-2-4-3-2-6-1-5M373 117l6 2 4 2M474 210l-5 1-6 0-6-3-3-4-2-5M472 213l-5-3-4-3-2-6 1-6 1-5-1-5-3-3-5-3-5-3-3-4-1-5-1-5-2-4-3-3-4-1-6-1-6 0-4-4-4-4-2-5-2-4-4-1-5 0 1 3M473 211l-5 3-5 2-6-2-4-3-4-5M475 210l-5-1-5-1-5-3-3-4-1-5-1-5-2-3-4-2-6-1-6-2-4-3-3-6-1-6M421 160l-6 0-6-1-4-3-3-6-2-6-2-4-4-1-6 1-7 0-5-2-3-4-2-5-2-6-2-3-3-1-11-4 8-5M471 212l-2-4-3-2-5 0-5 0-5 0M469 212l2-5 2-5 0-5-2-3-5-2-5-4-4-4 0-6 2-6 2-6 0-4M457 159l-6-4-4-4-1-5 1-5 3-5 2-5 0-4-3-4-4-4-3-6 0-5 2-5 3-5 1-4-2-4-3-4-5-3-2-3-2-2-3 0M474 212l-5-3-4-3-2-6 1-5 3-5 3-6-1-4-3-3-6-3-6-4-2-6 2-6 3-5 2-5 0-4-3-3-5-3-4-4-1-6 2-6 3-5 1-5-1-3-4-4-4-4-3-5 1-5 2-5 4-7 0-5-6-3M471 212l0-6-1-3-4-3-4-1-6-1-5-2M422 157l-2-4-3-3-4-2-6 0-6-3-4-4-2-6-1-5-3-3-4-2-5 0-6-1-4-3-3-5 0-6 2-1 0 4 6-2M472 213l-5-2-4-4-1-5 0-6 1-5-1-4-3-3M437 122l-2-4-3-4-4-5-2-5 1-5 3-5 2-5 0-4-3-6-4-2 1 9M470 214l-3-3-2-5-1-5 0-5-1-5-3-3M423 122l-7-4-3-5 1-6M477 210l-3-2-5-3-5-4-3-4 0-5 1-6 2-5 0-4-4-4-5-3M475 209l-3-2-4-2-6-1-5-3-3-4-2-6 0-5-2-5-3-2-6-1-6-1-5-3-2-4-2-7-1-5-3-4-4-1-6 0-6-1-4-3-3-4-2-5-3-4-3-2-7-1-5-2M470 212l1-5-1-4-2-4-3-3-5-3-3-4M472 213l-5-2-4-4-1-7 1-5 0-6-1-4-5-2M441 159l-3-4-4-1-6-1-6-2-4-4-2-5-2-5-1-4-4-2-4-2-9-6M471 214l-4-1-4-4-3-5-1-4-3-4-4-1-5 1M471 217l-4-3-4-4-4-4-3-1-5 1M391 190l-3-4-4 0-6 0-6-1-5-3-3-5-1-6-2-4-3-2-5-1-5 0-7-7 6 3 5 5M474 208l-4 0-5 1-6 1-5-1-4-4-3-4-3-5-3-3-5 0-6 1-6 0-5-2-3-5-3-5-2-3-4-2-4-1-6 0-5-1-5-3-3-5-2-5-3-4-4-1-5-1-5-2-4-3-3-3-2-6-2-3-2-2-3-3 1-5 4-3 5-1M471 212l1-5 0-5-2-3-3-3-4-4-4-4-2-6 2-6 2-6 0-5-2-3-4-3-6-4-4-5 0-6 1-6 1-5-2-4-3-2-5-3 0-2-1 1M472 215l-5 1-5-1-4-5-3-5-3-4-3-2M471 212l-2-5-2-3-4-1-5 0-5 0-5-3M414 159l-3-2-6-1-6 0-7-1-3-5-1-6 0-7-1-5-3-2-5-1-5-1-6-3-2-4-1-6 1-7-1 4M471 213l-3-4-3-4-3-1-5 0-5 1M476 211l-3-3-4-3-5-4-2-4 0-5 2-6 1-5 0-4-4-3-5-4M446 123l3-6 3-4 2-5-2-4-4-4-3-4-2-5 1-5 2-5 3-10-7-1M476 209l-2-3-4-2-6-2-5-2-3-4-1-5 0-6 1-5-1-5-4-2-6-3-5-3-3-5 0-5 1-6 0-4-2-3-3-3-5-3-4-5-2-5 1-6 1-5 0-5-3-3-4-3-3-4-2-4-1-5 1-5-2-6-5-4 2 9M467 215l0-6 1-6 0-6-2-2-5-2-6-2-5-3M473 212l-5 0-5-2-4-4-3-5-2-4-3-2M473 210l-2-4-3-2-5-2-5-1-5-2-3-4M396 122l-6-3-5-2" stroke="#6767fa"/><path d="M447 205l-5 0-6-2-4-4-3-6-3-3-5 0-5 2-6 2-6-1-4-3-3-5-2-5-3-4-5 0-6 1-6 2-6-2-4-3-3-5-2-4-3-2-5 0-4 0-6-1-3-8M458 172l0-6 2-6 3-5 1-4-1-4-4-3-5-3-4-5-2-5 1-6 1-5M452 206l-6 1-5 0-5-3-4-5-3-4-4-2-5 1-6 2-6 0-4-2-4-3-3-5-2-5-4-1-6 1-6 1-6 0-4-3-3-5-3-5-2-3-4-2-5 0-6 0-6-4 3-8M447 201l-6 0-5-3-3-5-3-6M449 195l-4 0-6 1-6 0-5-3-4-5-2-5-2-3-3-2-5 0-7 0-5-2-4-5-1-7-2-5M451 195l-2-5M428 177l-3-5-1-5-1-4-2-4M475 209l-5 0-5-1-6-1-3-3-3-4-1-6-2-4-3-3-5-1-6-1-5-2-4-4-3-5-2-5-3-3-4-1-4-1-6-2-4-3-3-6-2-5-3-4-4-2-5-1-6-1-4-3-3-4-1-7-1-4M451 201l-3-3-4 0-6 1-6 0-5-1-4-5-3-4-3-4-4-1-4 0-6 0-5-1-5-4-2-6-2-6-2-4-4-1-5 0-6-1-4-2-4-4-3-4-4-7-6 0-2 5M450 195l0-7M430 168l-1-7 2-7M449 198l-6 1-7 0-5-3-3-5-2-6-3-3-3-1-6 1-6 1-5-1-4-5-2-6-2-6-2-4-4-1-6 1-6 1-6-2-4-3M454 185l-2-4-4-2-6-1-6-2-5-3-2-5-1-6-1-4M436 190l-6-1M451 205l-5-1-5-2-3-5-3-4-4-3-5-1M451 189l-4-2-6-1-5-2-4-4-3-5-2-4-3-3-3-2-5-1-5-1-5-2-4-3-3-5-4-3-3-3-5-1-5-1-5-1-4-3-3-4-4-4-3-2-4-1-5-2 4 2 4 2M430 175l-3-5-1-5-1-6M452 199l-2-5-4-2-5 0-6 1-6-1-4-3-4-4-3-3-4-3-4 1-5 2-5 3-6 1-6-2-4-4-4-2-4 0-4 2-5 2-8 0 0-10 6-2 5-2M461 162l-4-4M460 138l-1-4M449 206l-3-3-4-1-5 3-6 3-6 1-6-3-4-6-2-4-3-3-4 0-5 2-7 3-6 0-5-4-3-5M451 206l-5-2-4-5-3-6-3-4M427 189l-6 2-6 1-5-2-4-5-3-4-4-3-5 1-5 2-6 2-5-2-5-4-3-4-4-4-3 0-4 2-6-1 0-8 3-4M451 196l-4-3-2-6M474 209l-3-2-5-1-5 0-5-1-5-2-3-4-3-5-3-3-4-2-5-1-5-2-4-3-2-4-1-6-1-5-3-3-5-2-5-2-5-3-2-5-1-5 1-7 0-4-1 0-1-2 6-3M473 212l-5 3-5 1-6-2-3-4-4-4-4-3-4-1-4 2-6 2-6 1-5-3-5-3-3-4-4-1-4 1-5 2-5 1-6-1-4-4-4-5-3-4-4-2-5 1-5 1-6-1-4-2-4-4-2-5 0 1-1-1M451 196l-5 0-6-1-5-3-4-5-2-5-2-5-3-2-4-1-6-1-5-1-5-4-3-5-2-5M449 190l-6-1-4-2-4-5-1-6-2-5-3-4-4-1-5-1-5 0-5-2-4-4M447 196l-6 1-6-1-4-4-3-6-2-6-3-3-4-1-6 0-5 0-4-2-4-4-2-5-3-5M457 179l-1-5 1-6 1-6-1-4M451 207l-5 2-6 2-5-2-5-5-4-5-4-2-4 0-4 2-6 2-5 1-5-2-4-5-3-5-4-2-5 1-6 2-6 1-5-2-3-4-3-5-3-4-2 4 2-2 6-3M449 199l-5 1-5 2-6 0-6-2-4-5-3-5-3-2-4 0-6 1-5 2-6-1-4-4-2-6-2-6-3-4-4-1-6 1-6-1-5-3-3-4-1-6M448 200l-3-5-2-6M451 195l-4-2-5 0-6 0-6-2-4-4-3-5-2-5-3-3-4-1-5 0-6 0-5-2-3-4-3-5-2-4M452 205l-6-1-4-4-4-5-3-5-3-2M471 212l0-5 0-5-4-3-4-2-5-3-3-5-1-6 1-6-1-4-2-3-5-2-5-3-5-3-1-6 1-6 2-6 1-5-3-3-5-3-5-2-4-5-1-5M474 210l-5 0-5 0-5-2-4-3-3-5-3-3-4-2-5 0-6 1-6 0-5-2-3-5-3-5-3-3-4-2-5 0-6 1-6-1-5-3-4-4-3-3-4 0-5 1-6 2-7-1-1-10 8-4 5 1M451 209l-6 1-5-2-4-5-3-5-4-4-4 0-5 2-6 2-6-1-4-3-3-5-2-5-3-3-5 0-6 2-6 0-6-3-3-4-3-6-2-3-4-1-5 1-6 1-6-2-5-6 8-4M457 174l-4-3-3-5-1-5 1-6 0-5-1-4-3-3-5-2-6-2-4-4-2-5-1-6-1-5M451 195l-5 0-6 1-6-1-5-3-3-5M450 195l-2-7M427 169l-1-5-1-7" stroke="#f54949"/><path d="M469 214l-3-4-1-5 0-6 1-5-1-4-3-3-5-3-4-4-3-5-1-5 0-5-1-4-3-3-5-2-5-2-4-4-2-6 0-6 0-5-1-4-4-2-5-1-5-2-4-2-2-3-2 1-3 3M471 212l0-5 0-4-1-4-4-3-3-4-3-5 0-6 2-6 2-5 0-4-3-3M439 121l-1-5-2 2M471 216l-4-4-4-5-4-3-3 1-5 3M475 211l-5-3-5-2-4-4-2-4 1-6 0-6 0-4M444 123l2-4 1-4-1-3 1-5M474 211l-5 0-5-1-5-4-2-5-2-5-2-4-3-3M370 122l-5-1-5-1-6-1-5-4-2-3M474 209l-4-1-5-1-6 0-4-2-4-4M442 188l-4 0-6 0-6-1M376 160l-5 0M363 151l7 2M469 217l-4-3-3-5-1-6-2-4-3-2-5 0M469 214l-1-5-1-5 0-6-2-3-3-3-5-2-5-3M469 214l-3-4 0-5 1-6 1-5-1-4-4-2-5-2-6-3-3-5-1-6 1-6 0-5-2-3-5-3-5-2-4-3-2-5-1-5 1-6-2-5-3-2-6-2-6-2-4-4-1-5-1-6 0-4-3-3-5-2-5-1-5-2-4-6-2-1M473 213l-6 0-5 0-4-4-3-5-2-5-3-4M475 210l0-3-3-3-5-4-4-3-2-4-1-5 1-6 2-5-1-4-3-4M438 120l2-6 2-5 1-5-2-4-4-3-5-4-3-5 1-5 2-6 3-2 0 2 5 2M473 212l-5 0-5-2-5-4-2-5-2-5-3-4M472 210l-2-4-3-2-5 0-5 1-5 0M473 212l-4-2-4-4-2-5 0-6 1-5 0-5-2-3-6-2-6-3-4-4-1-6 1-6 2-5-1-5-2-3-5-2-6-3-4-4-1-6 0-5-1-5-2-4-4-2-4-3-4-4-1-5 3-11M474 212l-5-2-5-4-2-3-2-5 0-6 0-5-2-4-5-2-5-3-4-4-2-5 0-5 0-5 0-4-2-4-5-4-4-4-2-5 1-6 1-5 1-5-1-4-6-4-4 3-2 4-3 4M474 208l-4-1-4 1-7 0-5-1-4-3M442 189l-4 0-6 2M416 188l-3-4-3-4-3-2-5 0-5 2-6 2-6-2-5-4-4-6-4-2-4 0-3 3-6 4-6 2 0-6 4 4 4 4M469 214l-1-5-1-5-2-5-3-2-5 0-7 0M395 124l0-4-2-4-4-2-4-2 0-3-1 4M469 214l-1-6-1-5-2-4-4-2-5-1-6-1M443 185l-1-5-2-5-3-2-4-1-7 0-5-3-4-5-2-6-2-5-3-2-5 1-5 1-7 0-5-2-4-8-2-5M470 215l-4-3-3-4-3-5-4-1-5 1M474 209l-1-4-4-2-4-1-6 0-6-2-3-5M472 210l-1-5-3-3-5 0-6 2-6 1M438 188l-3-2-5-1M390 158l-2-6 0-6 1-6-2-4-4-1-6-1-7-2-3-3-2-5-2-9-6 4M475 210l-3-2-4-2-5-3-5-4-2-4-1-5-1-5-1-4-4-3-5-2-5-3-3-5-1-6 0-5-1-5-2-3-4-1-5-2-5-4-3-5 0-6 1-6-1-4-3-4-4-2-5-3-3-4-1-5 0-6 2-5 0-2-2-4M469 215l-3-3-2-5-1-6-1-5-2-2-4-2-5-1M445 188l-3-4-2-6-1-6-2-3-4-2-6 0-6-1-4-3-3-5 0-6-1-6-1-4-4-2-6-1-6-1-4-4-2-5-1-6 0-4-3-4-5-1-5-1-8 0-2-1-2 1M473 212l-5 0-5-1-4-3-4-5-3-4-3-2M470 214l-2-5-2-4-3-3-4 0-5 0-5-1M439 187l-2-5-3-2-6-1-6 0-5-1-4-4-2-5-1-5-2-4-3-2-5-1-6-2-5-3-2-6-1-6-1-5-2-3-5-2-5-1-5-2-4-4-2-5 0-5 0-2-1 3 7-1M474 211l-6 1-6 0-5-4-2-6-1-6-1-5-4-2M397 158l-2-6-2-3-3-2-5-1-5-1 1-3-2 0M475 211l1-4-2-4-5-4-4-4-3-5 1-6 3-5 2-5 0-5-3-3-4-4M450 122l-2-5 0-4 0-7-3-4M472 210l-2-4-4-1-6 0-5 1-6-1M472 213l-5 0-5-2-4-4-3-5-2-5-3-2M393 159l-2-3-4-2-5-1-5-1-5-6 5-7 5 0M472 211l0-5-1-3-4-3-5-2-4-2-4-4-2-5 0-6 0-5-3-4-4-2-5-3-5-3-2-5-1-5 0-5-1-4-3-3-4-3-6-2-4-4-2-5 0-6 0-5-2-4-3-2-4-2-5-3-4-3-2-5-1-5-3-5-5 0M468 212l2-5 2-5 1-4-1-4-3-3-4-4-4-5-1-5 2-6 1-5 0-5M429 122l-2-3-2-6-5-1M472 214l-5 0-5-2-4-4-2-5-2-5-3-2M423 184l-3-4-3-2-5 1-4 1-6 1-5-2-4-4-4-4-4-2-5 0-5 3-5 2-6 1-4-2-4-4-4-5-3-3-8 2-3 1 7 3M467 213l1-5 3-5 1-6-1-3-3-4-5-4-3-4M432 123l-3-4-2-5-1-6 0-7-3-3M474 211l-5-1-4-2-5-3-3-3-1-6-1-5-2-4M371 122l-3-4-4-2-4-2M476 211l-2-3-4-4-4-4-2-5 0-5 1-5 1-5-1-4-3-4-4-4-2-6 0-5 1-5 1-4 0-5-2-3-4-4-4-5-1-5 1-6 2-5 2-4-1-4-2-3-4-5-2-4-1-7 3-5 6 0M473 209l-3-2-4-1-7 1-5-1-4-2M470 214l-2-5-3-5-4-3-4 1-6 2M376 157l-1-7 0-3 0-2M471 215l-4-4-3-4-4-2-4 1-5 1M397 188l-3-5-4-1-5 1-7 0-5-1-4-3-2-5-3-6-2-4-3 0-5-1-2-7 3-6M472 211l-1-5-3-3-4-1-6 0-6 0-4-3M476 210l-5-2-5-1-6-3-2-4-1-5 0-6M471 217l-5-3-3-4-4-4-4-1-4 2M472 211l0-6-1-3-5-2-5-1-5-1-5-2M447 185l-1-5-3-3-5-2-6-1-5-3-3-4-1-5-1-6-1-4-3-2-5-2-5-1-5-4-2-5-1-7 0-5-3-3-4-1-6 0-5-2-5-4-1-5 0-6 1-4 1-2 0-2M473 211l0-4-1-4-4-4-4-4-2-4-1-6 2-6 1-5-1-5-4-3M448 156l-1-6 1-5-1-5-2-4-4-3-5-3-3-3-2-4-1-6 0-6-6-5-5 6 0 5M467 212l2-5 4-5 3-5 0-4-4-4-4-4-4-5 0-6 3-6 4-5M476 209l-2-3-4-2-7-2-5-3-3-4-1-6M402 123l-8 0 4 7M473 212l-5 0-5-2-3-4-2-7-2-4-2-4-3-2M374 122l-4-3-5 0-5 0-8-2-2-2M472 209l-3-1-4 0-5 2-5 0-5-1" stroke="#4949fa"/><path d="M475 212l-2-4-4-4-2-4-1-5 1-5 2-6 2-5-2-4-4-4-4-3-3-4M472 209l-3-2-4 0-6 2-5 2-5 0M401 189l-4-2-5 0-5 2-6 0-5-2-4-4-3-4-3-3-4-1-5 1-6 0-5-2 4-8M469 214l0-6 0-6-2-4-4-1-6 0-7-1-5-3-2-6 0-7 0-5-3-3-5-1-6-1-5-3-3-5 1-6 2-6 1-5-1-4-5-2-6-4-5-4-1-5 2-5 3-7 0-4-2-3-6-4M476 211l-4-3-5-3-4-4-1-4 1-6 2-5 1-5-1-4-5-3-5-4-3-5-1-6 2-5 1-5 0-4-3-3-4-3-4-5-1-6 1-6 3-6 1-4-2-4-4-4-4-4-1-5 0-5 3-5 3-5 0-4-1-3-4-4-5-3M471 213l-4-3-3-4 0-7 1-5 0-5-2-3-5-3-6-3-4-4-1-6 1-6 0-5-1-3-3-3-5-2-6-4-3-5 0-5 2-6 0-5 0-3-4-3-4-3-3-5 2-8 7-2 6 0M468 215l-1-5-1-6-2-4-3-2-5-1-6-2M444 185l-2-5-2-4-4-2-5 0-6-1-5-2-4-4-1-6-1-7-1-4-4-2-5-1-6-2-4-3-3-5-1-4-2-3 1 1 5-1M472 211l-3-4-2-3-4-1-5-1-5-1-5-2M473 209l-4 2-5 2-6 0-4-1-4-4M473 213l-6 1-5-1-5-3-3-5-3-4M471 212l0-5 0-5-1-3-2-4-4-3-3-5-2-5M460 176l2-6 0-5-2-4M423 121l-1-5M470 216l-4-2-3-4-3-5-1-6-3-4-3-1-6 0M396 157l-5-1-6 0-6-1-4-3-4-5-2-5-3-3-4-1-4 0-6 0-6-1-4-3 0-8 5 3M474 212l-6-2-5-3-2-4-1-5-1-6 0-5M475 209l-3-3-4-1-6-2-4-2-4-3-1-6-1-6M429 156l-1-4-3-3-4-2-6-3-4-4-2-5-1-5-1-5-2-3-4-3-4-2-4-4-2-5-1-6 1-4 1-2 1-1 3-4M469 213l1-5 0-6 0-4-2-3-5-2-5-3-4-3M447 158l-5-3-3-4 0-6 3-5 3-6 1-4-3-4-5-4-5-4-2-5 1-6 3-5 2-4 1-4-3-4-4-4-4-5-2-6 6-6M474 208l-4-1-4 1-7 1-5 0-4-2M467 214l-1-5 1-6 1-6 0-3-4-3-5-3M468 214l1-6 1-6 0-5-3-3-4-2-7-2-5-4M471 212l-1-5-1-5-1-3-4-2-5-2-5-3-3-5M422 121l2-7 7 0 4 3M469 214l-1-5-1-6-1-5-3-2-4-1-7 0-6-1M386 124l-3-2-5-1-8-6 9-3 6 5M471 212l1-5 0-5-3-4-4-2-5-3-4-4M446 124l-3-5-1-6 2-5 3-4 3-4 1-4-2-4-6-4-3-1-1 1M472 211l1-4-2-4-4-3-4-3-4-4-2-5M474 210l-5 1-5 0-6-2-4-5-1-5-2-5M444 190l-6 1M391 157l-2-5-4-1-6 0-7 1-5-1-4-4-2-5-2-5-3-4-4-1-5 1-3-5 4 4M474 211l-5-1-6-1-5-3-2-4-1-6 0-6-2-4" stroke="#2c2cfa"/><path d="M451 204l-3-5-3-4-4 0-6 1-6 2-6-1-4-4-4-5M450 197l-4-3-2-6M449 201l-6 0-5-2-4-5-2-6M429 183l-4-2-5 0-5 1-5 1-5-2-4-3-4-4-4-3-4 0-6 3-5 1-6 0-5-3-3-5-3-4-3-2-5-1-4 2-5 1-6-3M475 210l-4-2-4-3-5-2-3-4-3-4-1-6-1-4-3-3-4-3-4-4-3-4-1-5 0-5 0-5-1-4-3-3-4-4-2-5-1-5 0-5 2-5 1-4-1-4-2-3M456 174l-4-4-2-5 0-6M452 194l-3-6M448 191l-4-3M425 167l-5-2-3-4-2-4M467 160l-1-4-4-3-3-4M460 128l1-5-2-4M448 192l-4-5-1-6 0-6-2-4-3-2-6-1-6-1-5-3-2-6M449 209l-3-5-4-3-4 0-5 2-6 3-6 1-5-3-4-5-4-5-3-2-3 0-6 3-7 3-6 0-5-3-4-5-4-4-4-1-4 2-5 2-6 1-4-1-4-6 5 5 4 1M451 203l-3-5-3-5-3-3-5 0M431 191l-6 0-5-2M447 201l-4-4-2-6-2-5M426 181l-6-1-4-2-3-4-2-5-1-5-2-4-4-2M450 199l-6 0-6-3-3-4-2-6M430 164l-5-1-5-2-4-4M465 161l-4-4-2-4M462 141l2-6 0-4-4-3-5-4M446 195l-6 1-6-2-4-4M429 183l-2-5-3-3-4 0-6 0-5 0-5-3-3-4-2-6-3-4M452 201l-4-4-2-6-2-6M468 213l0-5 2-5 3-6 0-3-3-4-4-3-5-5-1-5 1-6 4-6 2-5 0-4-4-3-5-4-4-3-2-5 0-5 1-6 0-5-2-3-5-3-6-2-4-4-2-5 0-5 1-6-1-4-3-3-6-5 3-8 6-2M450 206l-3-4-3-4-4-3-5 1-6 1-5 0-5-3-4-5M450 196l-4-1-5 0-6-1-5-2-4-4-3-6-2-4-4-1-5 0-5 2-5 1-5-1-4-4-5-5-4-3-4-1-5 3-5 3-6 1-4-1-4-3-5-5-2-3-3 1-3-1 2-5M470 213l-2-5-2-4-3-3-4 0-6 1-6 0-5-3-3-4-3-5-3-3-5-1-6 2-5 1-5 0-4-2-4-4-4-3-4-2-5 1-5 3-6 1-5-2-5-3-4-4-4-1-4 1-5 3-4 3-2 0-4-5 2 3M449 198l-5 0-5 2-7 1-5-3-4-4-2-6M469 214l0-6 1-6-2-4-4-2-6-1-6-1-5-3-2-5 0-6-1-6-2-4-4-2-5-2-5-2-3-4-2-5-1-5-2-4-3-2-5-1-6-1-5-3-3-5-1-6-1-6-2-3-4-1-5 0-8 0-5-2-3-4-1-9 2-5 2 0M447 195l-6-2-4-3-3-5M469 212l2-5 2-5 1-4-1-4-2-4-3-5-1-5 1-6 2-5 3-5 1-5-2-3-3-4-4-4-4-4-1-5 0-6 0-5-1-4-3-3" stroke="#f52c2c"/></g>
<g transform="scale(0.5)" fill="none" stroke-width="0.80" stroke-opacity="0.85" stroke-linecap="round" stroke-linejoin="round"><path d="M453 187l-3-12 1-1-3 10-12 12M435 187l-5-11M454 177l2-5-2 6-12 10-14 0M425 186l-9-6 0 1 2 14M449 183l-2-8 1 6-5 11M430 185l2-1 1 13M454 187l-6-14 3 0 0 16-8 12M457 220l0-2-4 9-12 9M461 254l2 13-3 5 4-10 13-9 11 3 5 13M427 160l-8 12-4 16-13 10M458 173l4-6M459 173l-9 9-13 3-17-5M462 205l-5 8-11 4M456 266l13 3 7 10M477 274l8-9M456 220l-8-10M465 258l10 10 1 8M475 271l6-11 11-4M444 187l-5-14-2-3-7 8-7 12M449 192l-5-11M426 198l-14-3-11-11M402 194l-2 15-10 13-11 8-6 5 7 0 15 5 5 12-6 15-10 9 2-1 14-2 14 3 11 8 9 9 1 7-4-6 6-12 11-3 11 11" stroke="#f5dcdc"/><path d="M484 276l-2 1M448 199l-2-17M433 198l-11 8-16-5-9-8 1 2 4 11 2 15-9 11-16 5-5 0 9 1 15 7 7 13-6 14-7 8 3 1 13-4 12-3 12 6 4 13-3 1 3-10 13-8 14 6M439 184l0-9 0 11-7 15M459 204l-2-10 1 3-6 13-13 6M455 273l7 14M450 239l-13 4-10-12-2-10 5 2 3 15-6 12-10-2-5-10 1-10 8-5 9 3 0 10-8 8-5 2 4-8 16-6 14 9 0 17-8 9-4-1 4-11 9-9 7 3M425 190l-11-9-2-10 2 1-4 13-12 14M457 187l-7-14 1-6 0 10-8 15M444 207l-12-1-8-6-5-5 2 3 2 14-7 11-14 0-9-4-2 1 7 7 8 7 2 13-9 8-4 1 8 0 10 4 5 5 3 9 2 8 0-2 5-12 14-3 9 12 0 11-1-1 6-8M451 187l0-6 1 5-7 12M461 191l-4-8M452 188l0 5M472 203l-6 11-12 3-14-10M460 258l10 14 1 12M473 273l12-8M457 177l-17 11-16 4M460 188l-10 9M429 185l-6-14-8 0-4 13 0 17M457 186l-10-8-5-10-1 0-3 9-7 14M404 190l-10-7-6 6 0 13M460 204l-11-2M463 275l6 10M485 275l12 4M444 190l-8-11-5-10-9-2M463 218l-4 13-11 12M458 260l-2 12-4 0M456 258l11-6 15 9 4 16M464 224l-15-3M464 249l10 15-1 11-1-7 7-13 13-5" stroke="#dcdcfa"/><path d="M448 194l-7-14M419 196l-16 0-12-5 0 2 6 11 3 13-3 13-11 11-8 4 5-2 13 3 7 13-5 14-4 9 3 2 12-5 13-1 12 9 4 13 0 7 1-6 8-12 15-2M460 187l-14 0-9-11-3-8-1 7-8 13-12 7M395 188l3 7M453 180l2-8 2 5-9 14M454 292l3 13-2-2 3-10 13-10 13 6 6 13M449 182l2-5-1 12-9 15" stroke="#bfbffa"/><path d="M456 180l-15-2-10-15-1-6-1 9-6 15-14 14M432 185l-2-6 1 7-1 16M469 286l-1 16-4 2 4-9 12-7M453 184l-2-11 1 1-4 9-9 8M414 184l-9-2-2 8M456 189l2 0-1 12M426 186l0 12M465 194l-7 9-12-1M385 186l-1 6" stroke="#f5bfbf"/><path d="M413 195l-13-3-5-4M398 195l2 13-9 13-14 10-9 10 0 2 14 3 11 10-1 14-7 9 1 2 12 2 14 2 16 7 7 12-2 6-1-6 7-12 14-5M442 201l-4-9 3 6-3 14-14 5-12-9-4-9 0 4 1 9 2 10-6 9-14 7-6 0 10 0 13 6 5 12-5 11-6 6 2-2 10-4 10-1 9 8 4 12-1 6 1-7 8-9 14 0M469 288l0 9 0-7 6-12M446 225l-10-11-1-8 2 1 1 9 1 8-5 1-10-5-8-6 4 1 7 11-1 14-11 5-9-3 1-4 5-8 7-1 6 9-3 15-3 4 9-5 16 0 8 8M449 270l-7 7-2-2 3-9 11-6M470 279l-1 0 2-10M451 188l1-14 3-5-2 9-11 11-17 3-16-7-14-4-3 1 7 12 1 17-12 8-16-5-6 0 3 13 15 12 10 14-4 16-10 9 3-3 15-3 13 7 9 16 16 13-6 1-2-15 13-12 14 6 4 17-3 6-1-6 10-13 14 0 10 13M449 225l-9 5-8-4-3-11 2-6 6 2 7 12-5 13-15 4-12-5 3-1 8 8 5 2-4-1-9 4-6 0 6-7 11-3 10 5 1 12-5 11-3-1 7-9 13-5 8 7M441 204l-14 1-13-9-4-8 6 8 4 19-10 12-15-2-9-4 0 2 9 4 14 8 0 15-8 12-4 1 9-7 15-2 10 9 2 15-2 10-1-6 9-14 14-4M465 279l0 15-3 4 2-13 13-12M446 233l-5-16 2-4 2 10-2 12-7 4-10-6-3-7 5 3 4 11-8 13-11-3-7-7 0-4 10-3 13 1 4 9-8 10-8 4-1-4 8-11 13-5 10 11 0 14-3 2 4-8 13-7M444 227l-2-7 3 5 1 12-9 8-11-5-6-11 3-5 9 1 9 6-1 10-13 4-10-1 1-4 11-2 10 2 0 8-5 6-5 0 2-7 9-8 12 3 5 15M447 232l-10-5-7-11 0-9 3 3 3 13-1 9-9 1-11-4-1-3 8 4 8 11-5 10-10 4-8 0 6-4 10-3 4 0 0 7 0 9-1 0 5-12 17-4 10 10" stroke="#f58484"/><path d="M464 169l-8 11M453 313l2 12-1-4 5-13 10-9 12 2 9 13 0 6-3-8M466 196l-11 10-14-4M456 276l13 10M457 201l-12 12M468 271l13 4 7 12M459 178l1 3-2 12-11 10M463 277l12 8 1 15-3 6M456 217l-8-11M454 216l-9 14M465 265l5 11M466 273l6-15 15-5M472 223l-12 14-14-3M453 252l12 4 7 16-2 6-2-9 8-15 12-4M458 204l1 1-3 11-10 10M452 260l2 13-2 4M454 268l12-11 11 3 7 15-1 9" stroke="#8484fa"/><path d="M465 219l-13 0M460 268l4 16M474 265l12 1M461 193l-8-9M453 291l8 12 1 9-1-3 7-12 13-5 10 9 3 12M465 196l-12-9M463 208l-10 13-14 1M455 255l12 9 4 15-4 0 3-15 12-9 14 6M455 229l-9-9M459 250l10 11-1 11 0-3 7-10 13-3 10 10M453 210l-1-7 4 6-1 19-10 9M462 267l1 12M461 263l12-12 15 3M465 173l1 7-6 12-15 4M452 192l-2-13 2 1-3 15-9 9-13 0-11-9-2-7 5 10 0 18-11 9-14-2-11-2 1 5 13 5 9 12-6 15-15 3-1 1 12 3 14-3 14 4 5 13-1 10-2-4 10-13 15 1 8 14-2 15-2-3 10-14 15-4 10 10 1 12M468 224l-12-2-9-11M462 255l5 10 0 6-1-4 5-12 12-6 10 6M453 223l-10 8M462 246l10 11 2 11-1 3 4-9 11-8M466 233l-14 1M452 253l16 1 7 12-2 12-2-5 8-12 12-5M462 182l1 4-9 8-15 0M454 297l2 11 0-1 3-9 11-9 12 2 6 11M456 193l-7-10M465 176l-1 17-10 11-16-5M469 275l10 8M463 188l-13 3M439 179l-4-11 1-1-4 13-8 15M466 299l7 12 0 9-2-5 5-14 12-7M461 244l12 9 1 13-3 8 1-4 11-10 14 0M469 214l-12 13-14-4M454 266l15 4 6 17-3 6 0-10 9-12 14-1M464 234l-12-3-6-10M456 246l11 3 5 13-2 7 2-6 11-9 12 1 7 11M469 172l-1 10-14 7-18-6-16-10-9 1 3 8 3 17-12 12-19-2-9-6 4 2 8 12 2 19-3 18-5 19-3 6 9-7 19-5 12 9 2 16-3 13-1-1 9-11 16-6 12 8 1 15-4 4 1-6 12-10 14 2 7 13M471 175l-2 8-14 3-13-11-7-14-8-1M460 293l13-1 9 13-1 11-2-2M447 189l0 7M453 261l14 5 6 13-1 9 0-6 8-14M462 167l-3 6M455 266l4 15-2 4-1-8 5-12 14-5 11 7M467 202l-6 17-14 5M459 274l-1 14M460 272l14-11 13 6 4 15M465 227l-13 4M460 257l10 7 3 13M465 189l-11 5-10-7M444 181l-1-8-1 5-5 11-11 9M401 184l-1-2 2 12M459 290l-1 17-2 3 4-9 13-8 11 3" stroke="#6767fa"/><path d="M439 230l-6-10 0-9 5 3 3 10-3 9-12-1-10-7 3-3 10 4 8 7-2 3-12 5-11 2 3-4 16-2 13 6-4 11-11 8-6 1 0-10 11-10 16 3 5 14M452 262l7-9M471 219l-7 15-14 4-11-12-2-11 3 0-1 14-7 12-15-3-6-13 2-7 7 0 10 0 4 7-9 10-11 4 2-3 14 3 9 14-6 12-10 2-5-4-3-10 4-9 10-1 11 14 2 11-2 0 3-13 13-11 12 5 6 16-2 6 0-7M447 198l-8-14M432 201l-14 5-14-9-5-7 3 7 1 14-3 15-11 10-13 4-1 1 10 3 12 9 5 15-3 15-2 5 7-8 13-6 14 5 5 16-3 13 0-3 8-13 16-5M439 216l-12-9-4-11 1 1-3 13-10 9-11 1-9 1 0 2 10 2 9 6 1 14-8 11-5 5 4-2 13-4 12 7 2 12-3 12-1 1 7-8 11-8 12 2M462 287l-2 10 0-3 9-11 14-2 8 9 2 10M449 199l2-6 0 7-3 12-9 9-11-4-9-9-1-4 5 9 0 12-9 9-13 0-6-2 6 0 11 2 8 7-3 13-10 11-2 0 10-6 12-1 7 7 2 11-1 9-1-3 5-12 12-9 13 8M398 199l-16 18-13 12-9 5 7 0 18 5 7 14-9 14-9 9 4 3 16 0 16 2 12 9 6 16-2 11 1-6 8-13 16-7 13 10M445 218l-2-11 1 4-2 13-9 7-12-5-6-10 1-1 3 9 3 7-4 2-8 0-1-3 9-1 8 3 3 10-6 11-5 2 4-6 8-4 9 3 4 13-2 11-1-1 6-11 10-8M445 227l-10-1-7-8-1-3 4 5 3 10-5 6-12 0-8-3 4 0 9 9 0 8-7 2-8 2-1-3 9-8 12-1 5 8-2 9-2 4 0-4 8-9 12-1 10 10M440 234l-10-14 0-5 1 9-9 17-11 3-4-8 0-12 5-5 12 4 6 12-9 12-12 2-2-4 11-5 12 0 3 9-6 14-6 4-1-6 8-12 13-4 10 13-1 14-3 2 3-13 14-11M443 192l-16 1-11-10-2-8 2 7-4 16-12 8-15-3-16-1-1 6 10 12 10 15-3 17-8 12-2 3 10-4 16 1 8 13-2 14-3 4 5-6 13-5 13 4 7 14 1 13 1 0 6-14 14-10 14 9 4 16-2 4M451 201l1-3M448 207l-10 8-11-3-7-7-3-4 3 6 0 13-6 7-10 2-9 0 1 0 11 4 8 9-1 9-6 8-4 4 5-4 11-3 9 3 6 10 0 10 0-1 7-11 11-4M445 198l-14 2-13-9-8-6-1 3 3 14-2 15-11 6-10 0-6-1 3 6 7 10 4 13-3 13-5 8 2-2 14-5 13 3 5 12-3 14-1 8 4-2 9-7 12-3 11 6 4 10-1 1 2-8 9-9 12 2M455 214l1-8 0 5-9 11-14 0-8-11-1-7 3 5-1 16-9 7-11-4-5-7 0-2 10-2 13 6 1 15-9 9-5 2 6-4 12 0 8 8-1 12-5 8 0-1 7-9 11-5 8 5 4 14-2 6 1-7 9-12 12-2M450 212l-2-11 2 1-1 10-4 9-9 3-11-7-3-6 4 4 2 13-4 7-8 0-9-3 1-2 12 1 8 8-2 10-9 9-5 1 5-6 9-6 5-2 5 7 2 13-1 3 4-8 10-7 13 3M457 183l-1-6-2 4-7 7-13 5-14-2-10-5-2 0 3 11-4 13-13 4-11-3-6-1-2 13 10 11 8 10-3 12-8 7-2 3 10 2 12 7 11 11 7 10 3 6 2-5 6-10 13-2 8 10 1 8 0-3 7-13 13-4 10 10 1 11 0 3M451 195l1-7M452 193l-6 12-10 8-9-2-12-8-5-5 6 6 4 16-8 10-14 2-6-3 6 2 10 7 5 8-4 12-10 12-3 3 9-6 15-4 10 4 5 12-2 8 0-6 9-9 13 0M464 287l-1 14-1-5 9-14 13-5M440 207l-3-9 2 0 0 15-6 12-15 0-9-10-2-4 4 4 6 12-4 12-14 4-8-1 3-1 13 1 10 7-2 14-9 10-3 2 5-6 9-7 12-1 9 11 1 8-1-7 7-13 15-2M471 284l-2 0 4-11M424 192l-14-2-9-6 3 2 6 15-5 15-13 4-11-5 4 11 8 14-3 15-14 13-8 3 8 0 18 2 18 7 12 9 7 14-3 3-1-16 10-11 13 3 4 16-5 9 0-5 11-10 15 1 7 15M450 197l-12-1-9-11M411 201l-8 12-15 2-11-4 2 2 9 12 3 15-6 14-8 10-1 2 13-1 15 4 8 11 3 13 2 10 1-1 5-9 13-7 12 6 5 11M451 305l3-9M431 191l-13 5-14-6M388 202l-1 15-11 12-12 4-2 5 9 13 14 11 9 14 1 16-1 7 7-3 13-6 13-3 11 7 3 14-2 4 3-7 12-8M439 220l-11-10-3-7 2 5 0 13-9 9-10 0-6-4 1-1 9 2 8 8-2 13-11 8-4 1 7-2 9-2 5 3 3 13 0 9-1-3 7-13 14-6 10 8M459 278l-1 3 4-11M449 196l2-2 2 13M448 219l-13 4-11-7-5-9 5 6 0 17-8 9-12-2-9-7-2-1 11-1 11 4 3 12-6 15-7 4 6-6 14-6 12 4 4 13-3 11-2-3 8-12 13-5M448 191l-16 3-14-9-9-6-1 2 5 13 0 16-13 8-14-2-5-5 6 5 6 13 0 14-4 14-5 11-1 1 11-7 17 1 7 13-4 15-5 5 6-4 12-7 17-1 10 8M447 207l-8-12 2-5 2 14-8 15-15-1-11-13-3-8 0 5 4 12 0 14-13 9-15 0 1-1 11 3 10 6 6 9-1 16-6 7 0-4 9-9 15-4 11 10 0 16-3 7 2-9 11-11 15 1M471 285l1 12-3-1 4-16 11-10M449 202l-7-7 0-1 0 7-5 12-13 2-11-8-4-6 1 6 2 9 0 9-9 7-14 4-3 2 9 1 12 5 6 9-3 12-5 7 2-2 9-3 10-2 10 5 4 10-1 5 1-5 9-8 14 3M469 285l1 8 4-11 11-7M448 221l-12-16-2-13 3 1-2 15-9 13-16-4-10-14-1-4 5 8 10 9 2 9-11 12-13 3 3-3 15 2 11 11-4 14-8 8-2 1 5-7 13-8 14 4 6 14-4 8 0-7 11-11 16 4M449 194l-6-9M446 193l-6 14-13 3-13-11-3-7 0 6 1 13 0 11-9 10-12 4-3 0 9 3 12 7 3 13-4 13-4 6 3-2 10-6 13 0 9 12 2 12 0 5 2-8 9-13M442 229l-12-7-4-10 2 1 0 12-6 8-8-1-7-4-4-3 10 0 13 7 1 13-12 10-10 2 6-4 10-5 5-3 1 9 0 13-2 4 2-10 14-11 13 6M446 216l-12 3-10-9 0-11 2-2 3 9-4 12-12 4-11-3-1-3 9 1 11 6 1 13-13 12-10 2 5-3 16 4 7 3-3 7-4 11-3 4 2-9 12-12 15 4 5 17-3 8 1-8 13-13M422 167l-4 11-3 16-12 9-14-1-9-3-1 7 5 12 5 14-3 13-9 6-2-1 10 1 12 9 2 14-2 15 1 9 5 1 10-7 13-3 12 10 3 13 1 2 4-11 11-13 14 3 7 14 0 7-1-3M442 217l-7-12 1-3 5 8 1 14-10 8-15-6-7-7 4 2 8 11 0 8-7 3-8 2-1-3 9-5 13 0 5 13-4 13-5 5 1-5 8-10 17-3 7 11M487 280l-2 7M448 243l-13-5-5-15 3-7 6 8 0 14-11 7-13-7-5-7 7-1 13 8 6 7-8 4-12 3-6-3 9-7 13 0 4 9-4 13-6 7-1-7 10-14 15-3 8 13M452 272l4-14M486 277l-2 5M449 221l-9-13 0-6 5 6 4 15-6 13-15-1-11-9 1-4 5 8-1 14-10 7-6-4-7-3 3-4 15-2 13 8-5 14-11 9-4-1 3-10 7-9 12 1 8 13 0 9-1-8 9-14 16-1M446 217l-12-12-3-9 3 1 1 12-2 11-12 2-14-6-3-4 8 5 9 10 0 11-12 7-11 1 0-2 8-3 11-1 9 8-1 16-6 6 2-4 12-6 12 3 4 12-1 11-2 0 1-11 7-10M480 286l-2-1" stroke="#f56767"/><path d="M452 219l-9-11 0-13 1 3-2 12-10 11-8-1-9-10-4-7 6 4 6 12-2 11-9 3-11 2-3-2 11-1 13 10-2 16-13 8-7 0 5-3 9-8 9-2 8 9 2 15-3 3 4-12 13-8 13 8M464 284l-2 4 1-11 11-12M436 196l-13-1-12-7-8-3-1 6 3 13-3 13-12 8-15 2-2 2 10 7 10 11 6 14-3 13-3 6 6-3 13-4 12 3 8 10 2 13-1 6 2-6 9-8 14-2 10 11 1 10 0-6 7-12 13-5M446 220l-2-11 2 2-3 10-9 9-6-3-4-8-2-6 8 2 7 14-8 17-16 1-8-7 3-2 9-1 8 7-2 11-9 7-3-3 3-8 5-7 9 3 6 12 0 10 1-5 10-12 14-2M445 237l-16-7-7-14 2-3 2 13-4 13-5 0-8-7-7-4 7-4 17 5 6 12-8 12-10 4 1-5 11-5 10 1 3 10-4 14-5 6 0-9 9-14 13-1 10 13M463 279l-3 0 1-16M445 196l-10-9M430 176l-1-2-3 12-8 15-15 2-12-7-5-2-4 13 5 18 7 15-5 11-11 4 0-2 12 1 15 6 7 15-3 16-4 6 5-4 14-5 14 4 7 12 3 9 2-3 7-13 11-5 14 9 5 14-1 4M447 211l0-7 2 6-1 15-9 7-12-5-6-9 4 2 3 10-1 6-7-3-10-1 0-2 14 2 11 10-2 9-9 5-6-1 6-6 10-3 8 6 0 13-4 8-1-3 3-10 10-9 12 4M428 188l-10-7-7-4-2 5-3 12-8 12-13 7-8 5 1 2 11 5 8 11-3 13-9 10-6 4 7 1 14 2 10 9 4 14 3 10 5 1 6-9 11-5 12 7 5 10-1 1 3-8 7-9 14-1 7 11 2 9M443 231l-13 1-5-12 3-12 4-2 4 6 1 11-6 7-10-3-3-5 3 1 6 3 1 6-7 7-7 3 3-1 11 5 6 10-4 7-8 2-6-3 0-8 6-7 10 2 8 11 1 9 1-6 8-13 12-4M452 234l-10-12-1-13 4 1 2 10-2 13-12 5-13-9-2-8 6 6 4 12-4 7-11-3-11-4 0-4 13-3 14 3 4 13-8 12-6-1 6-8 9-6 6 11 2 15-3 4 2-9 11-13M439 194l-14-8M418 195l-4 15-12 5-14 0-7 2 5 4 10 11 2 14-6 10-5 7 4 0 12-1 12 5 3 13-4 12-2 6 7-4 14-8 12 1 9 10M443 192l-9 7-13-3-10-8-5-2 0 9 1 13-6 12-12 3-8-1 4 3 7 11 1 12-3 13-4 12 1 3 11-4 14 0 9 7 6 11 1 7 1-8 8-12 14 0 7 13-1 11 0-1 4-9 14-7 10 6 4 12M469 195l-3 12-12 7-16-10-6-12 2-2 2 15-7 16-16-1-12-13-2-6 3 7 4 12 1 12-12 10-13 5 1-2 14-1 15 4 4 13-7 15-5 6 3-4 11-9 14-2 10 9 1 13-3 0 4-10 14-7 14 10 3 15-3 0 2-10M455 191l-5-13 1-7 0 9-7 12-15 6-13-5-7-8 2 2 3 16-6 13-15 4-13 4-3 7 9 1 15 5 4 12-6 13-7 8 3-1 14-4 13 0 9 10 0 15-4 7 3-6 12-9 14 1 9 13 1 13-1-2 5-15 13-7 12 7M438 199l-8-14M433 197l-8 14-17 0-11-9-2-2 5 11 7 12 2 12-11 13-11 3 2-3 15 2 11 12-2 15-2 11 4 4 4-10 10-13 16 1 7 14-3 12-2-3 9-14 13-4M479 283l3 16-3 4 1-9M445 230l-4-14 2-7-1 8-9 11-7 1-1-7-2-8 5 0 6 10-1 8-6 1-9-3-2-3 8-2 9 7 0 11-8 8-5 1 2-6 8-9 6-2 5 9 1 14-1 1 7-10 13-5M443 223l-8-16 2-7 2 11-4 13-13 5-13-9-5-9 5 3 6 14-2 11-9 4-10 1-1-2 10-4 14 1 5 13-5 13-7 8-1-3 10-10 16-5 10 11-1 15-4 4 2-9 12-10M443 201l-16-2-10-12 1-6 3 11-7 15-14 3-14-4-11 0 1 6 9 9 7 15-5 16-7 11-3 1 9-5 17 0 9 12-4 18-4 9 3-2 11-11 14-5 12 7 4 19-2 9 1-9 11-16 17-1 8 15-2 11M441 236l-9-3-5-12 3-5 7 2 6 8-2 8-12 4-10-2-2-1 6 5 7-1-1-2-7 6-6 3 3-5 11-5 7 3 1 10-3 10-2 0 6-9 12-5 10 9M446 221l1-7 0 4-5 8-10 4-6-5 2-7 5-5 8 3 4 9-8 9-12 1-4-3 8-2 11 7 3 14-9 7-10-2-4-7 4-9 9-4 8 6 2 13-2 5 4-7 11-7M402 198l-19-2-11-5 2 3 5 15 6 22 3 16-11 9-6-1 6-1 13 8 6 17 2 17 6 10 7-3 9-11 14-6 12 13 2 16-2 3 4-14 10-11M420 180l-13-5-4-2 1 10-2 15-11 8-13 1-11 1 0 8 8 13 9 15-3 16-7 9 0 1 12-2 14 5 7 11 0 15 2 8 5-1 11-9 14-1 10 9 4 13-1 0 4-9 12-9 12 4 6 11M451 224l-4-15 3-7 0 5-7 10-10 4-9-7-2-9 0-4 9 4 10 14-6 14-15 4-11-4 3 2 8 2 4-6-2 7-8 13-6 3 9-8 18-1 9 14-5 14-7 3 2-6 6-10 6-3 9 9M447 224l-13-13-3-14 3 5 1 14-7 14-13-1-11-8-3-5 7 5 8 12-1 9-8 8-7 4-1-3 12-6 14 2 6 12-2 12-4 5 2-8 11-11 13 2 8 15M458 288l-2-4 4-12M452 231l-11-9-1-14 3-2-3 11-8 8-13-2-8-11 2-3 6 9 4 8-2 5-13 3-11 0 3-3 13-1 11 4 1 12-7 12-6 2 4-6 11-6 11 1 6 12-2 13-3-1 6-10 15-6M473 277l-3 9 1-8 10-11M446 217l-9-6-5-9-1-4 2 8-1 15-10 8-11-5-5-5 1-2 6 4 4 7-5 11-8 6-2 0 9-1 12 6 1 10-6 9-4 4 0-3 5-8 10-6 11 5 4 13 0 5 2-5 10-8M476 279l-1 3 2-8M448 210l-2-5 2 6-2 12-11 10-11-3-8-9 2-3 6 2 5 4-3 8-12 5-8-1 5-2 13 1 8 8-4 12-7 7-1-2 5-7 9-5 8 4 4 12-2 10 1-5 7-9 13-2M476 276l-1-5M423 190l-11 8-14-2-7-4 2 4 2 11-4 12-11 11-10 7-1 4 8 2 12 7 5 12-1 16-3 10 4-3 10-6 14 0 8 11 1 14-1 5 5-7 13-9 14 2 7 13-1 8 2-5 7-9" stroke="#f54949"/><path d="M466 207l-1 12-11 13-15-2M455 260l-3 8 0-6M459 253l13-2 12 12 0 13M458 209l-10-10M446 182l-2-7-6 7-5 16M463 282l4 11-2 7 0-6 9-10 12 0 10 10M460 202l-13-4M457 287l12 12 1 16-3 0 4-13M455 211l-6-12M464 269l4 13-1 8-1-3 7-13 13-5 11 8M454 225l-1-9 2 7-5 16M459 249l5 13-2 9-1-4 4-10 14-6 12 9 4 11M466 193l-15-7-6-15 2-7 0 8-6 13-16 5M464 301l2 13-3 3 2-10 12-9M469 224l-14 4-10-10M456 252l10 4 4 14-1 7 2-9 8-11 13-2M454 205l1-1-1 11-9 12M458 259l2 11-1 0 4-9 9-9 14 2 6 12 0 8-1-1M464 217l-5-11 3 1 2 17-8 11-16-1M464 250l14 7 3 15-2 5M461 208l-5-13 1-5-3 8-10 9M456 279l12-5 12 6 2 12-2 7M453 210l-2-9M452 198l-4 9M453 263l11 7 3 13-1 4 4-9 11-6 11 4M464 256l7 13-1 6 0-7 10-10 11-1M455 208l-4-13M455 272l9 15M457 190l3-16 4-6-7 9M460 180l0 8M453 303l-2 2M454 296l13-6 13 8 4 13-1 4M454 297l11 2 6 9 1 7 0-5 7-11M457 198l-1-5 2 9-6 15-13 3M457 264l2 14M462 270l13-8 11 4 5 11M453 207l-5 12M457 259l11 9 2 16-2 4 1-9 11-11 13 2M460 211l-13-4M463 274l8 11M469 201l-7 16-14 4M468 270l6 13-1 12-2-4 6-13M457 212l-1-8 2 6-6 14-10 5M454 256l5 13-2 6 1-7 10-12 14 0 8 10M454 208l4-12-1 6-11 14M462 263l16 3 5 16-4 11-1-2M466 181l-8 9-14 0M466 201l-7 12-13 4M454 265l12-1 10 9 4 13" stroke="#4949fa"/><path d="M470 190l-9 8-13-4M441 180l0-7-2 4-9 10-11 9M462 287l9 9 2 11-1 2 2-11 11-10M453 287l9 7 4 10-1 5 1-6 8-8 12-1M467 203l-13 5-12-7M459 276l10 12M454 213l-10-10-2-15 1-4-1 8-7 15-7 7-13-3-11-9 0-2 5 10 0 16-12 7-13 2-5 1 7 1 13 4 9 11-2 13-5 6 1-2 8-6 10-3 11 7 5 15-1 6 0-7 8-10 14-1 10 15 0 11-2-1 5-15 12-10 11 3M468 213l-9 10-13 2M452 260l-3 10M454 260l12 7 4 12M461 198l-12-4M443 185l1-1 2 9M452 278l15 0 9 13-1 8 0-5 6-10M454 207l0 4-5 14M457 257l1 12-3 6 0-9 6-10 14-1 10 11 1 9M454 199l-5-17M453 264l12 15M477 273l15 2M471 233l-13 7-12-7M461 252l11 5 4 11-1 7 0-7 8-12M468 201l-2 10-10 9-14-3M457 261l0 12-2 0 4-9 11-6 14 7 3 15M474 223l-7 10-13 3-10-9M457 257l-2 10-1-4 6-10 10-6 13 8 3 15-2 5M462 214l-3 11-12 7M458 258l2 15-2 2 4-9 14-11 12 4 4 13" stroke="#2c2cfa"/><path d="M409 195l-17 4-14-1-1-1 9 9 4 17-4 18-11 15-6 6 6-1 16 1 12 10 1 16-8 9-1 2 12-2 19-3 15 5 12 14M441 202l-9-17M430 202l-12 12-16-6-9-10 0 1 3 13 2 15-4 14-12 9-4-2 9-2 16 6 4 14-7 16-3 11 8 1 8-12 13-10 15 8 4 15-6 2 2-14 15-7M439 191l-14 0-11-7M403 190l4 13-2 13-13 6-12 0 9 8 7 13 1 13-5 14-5 9 4-1 13-4 14 3 7 10 2 13 0 4 3-7 10-7 13 1M439 222l-10-14 0-10 4 2 2 12-7 11-14-1-11-9 3-2 10 7 9 10-5 10-15 4-10-2 6-3 12 0 9 8-2 14-8 9-2-3 8-10 11-6 9 6 3 14-3 11-2-4 7-15 12-6M445 213l-12-2-9-11 0-4 4 9 1 16-9 7-13-2-9-3-1-1 11 3 9 11-4 14-13 7-5-1 11-1 13 3 7 6-1 12-3 8-1-2 8-11 14-3 9 10 3 14-1 3 2-14 12-10M447 203l-14-6-7-11M426 198l-6 13-13 3-10-5-6-3 0 5 7 9 4 13-7 12-9 5-1 0 9 1 10 5 8 12 3 11 0 6 1-4 8-11 13-3 10 11 0 13-2 1 7-10 11-5M448 206l2-3 4 13M445 230l-16-1-11-12 0-5 6 7 6 12-3 10-14 3-11-5 5-2 11 1 7 1 0 8-7 12-7 5 5-9 14-6 12 6 2 15-5 12-3-1 6-13 10-8 13 5M470 276l-1 7-3-10M446 202l-11-13-2-8-1 4-3 13-8 12-13 1-10-6-1 0 2 8 0 14 1 13-6 10-5-7 10 1 7 11 3 13 2 12-1 6 2-4 10-9 14 0 8 13 0 12 7-12 10-7 11 2 7 12-1 7 1-3 6-8M450 191l-11-12M424 195l-15 4-15-7-9-6M384 192l5 14-2 18-14 10-14 5 0 6 11 9 16 7 11 13-1 18-5 5 4-8 15-9 13 5 8 12 3 17 1 3 3-9 12-12 16 3M446 234l-7-14 2-7 0 10-7 11-13 1-9-9-3-11 5 2 9 8 6 1-9 6-13 4 0-4 15 0 12 7 1 11-10 8-9 2 2-6 10-6 12 1 5 13-2 13-3-1 4-13 9-9M452 211l-6-15 1-7M447 196l-4 13-9 9-9-2-10-8-1-3 4 7 3 12-3 9-11 5-7 0 6-1 9 6 3 16-6 7-4 6 1-1 4-8 11-7 13 5 5 14-1 4 2-8 10-10M446 226l-10-5-4-11 0-5 4 6 2 15-8 9-12-3-5-5 3-2 9 6 3 9-8 8-11 3-4-2 7-4 12-3 9 3-1 12-6 9-2-2 5-8 13-4 10 8M452 277l2-9M483 284l-1-4" stroke="#f52c2c"/></g>
<g transform="scale(0.5)" fill="none" stroke-width="0.80" stroke-opacity="0.85" stroke-linecap="round" stroke-linejoin="round"><path d="M461 179l12-2 12 6 0 4-6-6 1-16 13-6M504 167l0 6-5-8 4-14M523 165l-8 11-6-5 11-11M543 170l-6 15-13 9 0-3 16-4 16 7 0 14-11 8-7-1 4-3 13 4 5 11-10 10-11-1 1-3 10 4 5 13-11 11-17-2-4-6 9 1 7 15-8 12M509 263l2-5 3 10-8 16M486 273l2-14 2 0M461 150l2 3-3-5 3-15 13-8 17 5 8 11 1 2 5-7 11-5 9 4 5 11-1 7 3-4 12-7 16 6 6 16M451 176l13-4M524 281l-11-5-4-6M511 286l-10 8-12-6-1-14M484 278l-11 3M479 171l-4 1-4-12M499 168l0-6M526 172l-1-2 9-6 13 5 3 13-7 10-4 0 8-3 13 6 2 13-10 10-12 2 3-3 12 6 7 13-8 11-14 3-7-2 6 1 10 11-2 14-13 4M524 272l0-4 3 8-5 12M443 161l15-2M469 158l8 6-5-1-2-17 13-12 16 5 6 15-3 4 3-10 12-8 13 4 6 16-3 8M535 162l17-3 13 13M440 160l7-8 14 1M551 280l-2 14-13 8-15-6-4-8 2 4-2 12-12 9-17-8-3-13 1 1-5 11M454 174l16 1M451 172l-3-11 5-14 15-3M561 282l-13 8-14-4-4-5 2 7-6 15-15 4-10-10-3-9 2 3-1 11-12 11-12-4M466 154l1 2-4-6 0-17 13-10 19 5 7 10 2-3 13-10 17 2 8 13-2 14-3 2 9-5 15 3 6 14M453 169l0 5-6-6-3-17 10-9 16 1M580 172l-9 13-5 2 9-1 12 7 3 13-11 12-11 3 3 0 13 7 7 14-7 11-15 3-6-2 7 6 6 16-9 15M454 162l10 0M457 179l3-14 10-4M452 185l-5-15 6-13 17-2M481 166l5 6-2-1 1-10M513 165l-1 3 1-7M539 171l-5 8 2-4 11-3 10 9-3 12-13 7-5 1 8 1 12 5 5 11-8 12-11 5 3-2 12 3 8 12-8 12-14 0-4-4 6 5 2 13-9 10M521 272l1-2-2 9M457 169l11 0M424 148l10-6 14 4 8 8-4-5 2-18 17-10M486 162l13-1 10 10M511 160l12-3 8 9M448 153l12 4M458 150l8-17M460 180l11-8M441 178l-8-11 4-14 17-5 11 5M459 143l7-19" stroke="#f5dcdc"/><path d="M460 181l-3-10 4-12M545 279l-9 9-13-1-5-4 3 5-2 12-13 7-13-8-2-13 1 0-7 8-12 3M474 161l11-1 8 7M488 162l9-9 12 4 5 15M470 157l11 1 9 9M496 153l13 0 8 11M521 161l14 1 5 12M457 165l9-10M487 163l12-4 8 12M569 175l-10 10-2 0 12 0 13 9 1 14-10 9-8 1 4 1 9 9 0 14-11 9-10 1 1 0 9 9 1 15M451 174l-1-1-4-10 5-13 17-2M455 183l-3-12 4-13 14-3M473 202l-4-13 4-15 16-1 11 12-6 6-6-11 6-13 13 1 7 14-1 9-2-6 7-15 15-2 5 16-13 10-11-12 11-9 17 7 0 15-16 10-10 2 7-1 16 5 7 14-9 13-12 0 3-5 13 1 8 11-10 11-16-2-3-8 10 3 6 14-6 10-13-4-4-13 6-2 1 13-10 11M494 275l-9-15 2-6 2 13-8 16M437 165l3-16M453 176l12-4M441 163l14-3 11 5M457 152l8-17M562 282l-16 0-7-5 2 3-2 14-12 11-16-6-6-12 1-4-2 13-10 10-16-1-7-12M459 178l7-15M462 188l14-3 11 7 2 4-4-6 1-14 10-5 8 8-3 11-7-4 3-12 13-6 12 5 4 12-3 6-1-9 9-8 6 7-5 10-10 5-1-3 13-2 11 9-3 12-9 4-3-4 9-2 9 8-3 11-14 5-11-2-1-2 9 7 3 13-9 8-11-3 0-6 9 3 3 14-9 7-12-7-3-11 3-2 0 10-11 7-11-8-2-13 0-1M454 185l3-17 13-6M457 178l-1 3-8-7-1-17 12-8 16 3M441 165l-3-10 5-11 15-2 9 4M460 152l14-6 14 8 2 9-2-3 5-13 13-6 11 9 2 12-1 2M521 155l13-7 13 8-3 17M450 170l-6-6-1-16M443 141l15 6 6 9M458 179l-1-13 12-9M459 179l-1-12 10-10M437 140l14 6 6 7-1-1-1-15 10-10M453 169l-2-2-2-13 7-13 12-1M450 160l2 5-6-5-4-16 7-11 14-2M451 163l-1-19" stroke="#dcdcfa"/><path d="M474 164l13 8M483 161l11-12 14 6 4 12M507 157l12-8 12 7 0 17M458 174l-4-4-4-13 8-13 17 2M449 158l7-15 13-2M575 180l-10 10-2 0 11 2 9 12-3 14-13 8-9-1 6 0 12 10 2 14-9 8-14 1-1-2 9 7 3 15M488 158l15 6M512 158l13 5-5 14M454 191l-2-14M461 166l16 2 6 7-7-5-3-16M500 164l1-14M524 167l-5 3 6-7M548 174l-5 15-11 6 2-4 15-3 14 8 0 13-11 9-9 1 6-2 13 5 3 15-13 8-11-3 3-3 10 9 3 16-14 8-16-7-4-8 6 5 1 16M501 273l3 0 1 13M475 270l2-3M458 176l-2 0-5-11 6-15 15-2M454 186l3-11 9-9M443 163l-6-3-4-13 11-13 21 1M457 165l6 5M459 167l-4-15 5-10" stroke="#bfbffa"/><path d="M442 155l7-9 13 0M457 180l-6-7-3-17 11-12 13 3M445 147l12 3 8 7M457 144l9-17M436 171l10-10 15 3M459 175l3 7M455 176l-6-19 8-11 14-1M454 184l-1-14 8-11M517 283l-16-4-9-13M492 279l-12 11-12-4M437 170l-2-13 11-8 16 2M458 137l9-15M572 280l-15 9-14-3-3-3 3 8-3 15-14 7-14-8-5-9 1 2-3 15-12 9-17-5-6-12 2-4M466 163l6 7M465 144l18-8 14 10 1 12-2-4 8-15 15-4 10 10 2 15-3 0 7-12 24 3 5 19M446 183l7-14 12-3M434 150l11-8 12 3 7 8M449 150l11 6M457 157l-4-15 14-16" stroke="#f5bfbf"/><path d="M475 146l10 11-1 0 1-13 11-12 15 2 7 12-1 5 1-5 9-10 16 1 9 16-4 13M559 162l14 7M556 280l-9 13-15 0-11-9 1-2 1 12-9 13-15 0-11-13 0-7 0 4-10 10-13 1M519 163l4 11M512 162l11 8M452 177l9-11M473 154l10-11 16 6 7 14-6 1M501 150l16-6 10 9-3 14M525 163l15-1 8 12M530 278l-11 10-13-5-5-10M505 286l-14 10-14-11-2-15M472 148l11 9-2 2-2-10 10-12 15 2 6 13-2 5 1-7 11-9 14 4 4 15-8 13M551 281l-14 2-12-9M521 285l-12 8-11-6-6-11 2-1M494 284l-8 13-13 2-9-9" stroke="#f58484"/><path d="M480 207l-4-14 4-16 11-1 8 10-1 8-5-6 2-16 13-6 10 11-4 12-11-2 0-13 12-4 6 11-8 14-6-1 6-8 16-3 10 11-9 15-13 5 0-6 14-3 12 9-5 13-17 4-7-5 11-2 14 9 2 15-14 6-13-6 2-4 11 7 2 13-9 3-10-12 4-10 7 7-4 15-14 4-8-10 5-11 5 7-9 11-13 0M569 165l-2 13-7 6 10 2 8 10-3 14-8 7-2 0 11 0 13 10-3 15-13 9-12 0 4 2 6 13-4 16M536 167l-3-1 14-6M562 164l5 14-9 13-6 1 8-4 15 5 5 13-11 16-12 2 2-3 13 7 7 13-8 13-17 2-8-5 8 3 8 16-7 14M569 169l-8 14-8 4 5-3 14 3 10 13-5 14-14 7-5-2 12 1 12 12-3 15-13 7-9-1 8-1 13 11-1 21-20 12-17-8 0-4 2 11-7 16-17 1-11-12 0-6 1 9-10 14-16 4-13-14 0-15M472 175l-2 1-5-16M558 166l-11 14-5 0 10-3 15 8 2 15-12 10-8 1 4-2 14 5 6 14-9 12-12 3-4-2 10 1 13 11-4 16-18 5-10-6 5 0 3 13M462 182l-7-6M535 170l-1-3 13-6M561 164l5 15-7 14-8 2 8-5 18 5 5 15-11 13-16 3 1-4 15 6 8 15-7 13-16 2-8-4 8 2 8 14-7 16M532 276l3 11M439 152l14-5 12 8M469 165l-4-6M561 174l-8 10-4 0 10-3 15 7 4 16-10 12-9 2 5-2 14 8 3 14-11 11-14 2-3-3 11 4 9 16-9 17-20 1-9-10 3 3 1 16-11 13-16-4-6-11 2-1 0 10-10 12-17-2-8-12M487 172l-4 3-5-14M508 165l-4 6-2-9M527 168l-9 11-3-3 12-8 16 2 6 13-9 14-10 2 4-5 14 2 7 12-10 12-14 1-3-4 11 3 12 11 0 15-14 9-10-1 7-4 13 9-3 14-16-2-6-12 3-4 2 14-10 14M492 266l-1-7 3 7-2 13M448 166l-5-7 0-14 13-9 12 3 8 5-1-6 5-13 15-7 14 8 4 8 2-4 11-11 19-1 12 15-3 18-5 6 7-3 13 4 10 12-4 14-9 6-1 0 11 1 11 8-1 13-10 10-6 1 8 0 12 9 0 16-13 12-14 1-1 0 8 11 0 17-13 11-15-2-6-6 0 4-5 13-13 6-13-7-6-10 0-2-2 7-11 12-12 0M571 175l-8 5 6-2 14 5 6 13-6 15-11 5 1 0 12 5 7 14-5 13-15 5-9-2 3 0 8 11-2 18M466 183l10-8 13 1 4 4-5-1-8-12 6-9M495 168l-1 10-4-2 5-12M519 167l1 13-4 3 4-8 12-6 8 8-5 12-14-1 1-7 13 0 9 11-5 13-12 5-2 0 10 1 11 9-2 13-13 8-10-1 3-1 11 7 4 13-10 9-10-5 3-8 11 3 2 14-11 7-12-8-3-11 3 3-3 13-13 5-10-11-1-11 0 2M465 166l12 8 1 5-4-8 3-15M508 169l-3-3 1-14M530 167l-7 3 5-7M543 165l6 10-7 14-9 4 5-4 17 2 10 11-6 13-14 5-4-3 8 1 9 11-3 12-12 8-9 0 3-1 12 6 4 14-12 9M528 272l-1-8 6 6-1 17M562 170l-3 2 9-3 14 5 5 15-8 15-10 6 1 0 12 6 6 14-7 13-11 3-4-2 6 2 9 10-3 15-14 10-14-1-2 1 1 10-5 14-16 4-12-9-3-6 1 6-8 14-18 4-11-12 0-9 1 3M452 165l-6-5-2-18 11-13 19 0M552 167l0-3M583 164l5 17-12 16-11 3 4-3 17 3 10 15-8 16-16 5-2-2 10 8 5 18-9 15-17 1-9-7 3 0 5 14-6 13-16 3-11-8 2 0 4 14-8 15-18 2-18-12-2-11-2 5-16 11-14-4M551 173l-4-1 13-3 17 8 1 17-13 11-8-1 10-2 14 12-2 17-15 8-12-1 4-3 13 6 7 15-10 13-17 2-4-4 9 5 5 19" stroke="#8484fa"/><path d="M455 201l3-16 11-7 12 6 4 6-1 1 0-11 8-9 16-1 10 7-5 5-10-7 3-10 10 0 3 12-5 10-2-5 11-8 12 1 4 12-8 13-9 3 4-4 13 0 7 8-5 10-10 2-2-3 9 1 8 10-3 11-11 4-7-4 5 0 7 9-5 11-14 1-8-8 4-3 9 9-2 15-12 4-10-11 0-9 3 3-2 13-13 5-9-12 1-11 1 0M433 157l4-10 12-3 12 6M568 164l-5 13-2 1 11-1 13 7 2 15-11 11-8 4 4 0 12 7 6 15-10 12-13 1-5-1 6 5 7 14-6 13-13 3-7-2 0 2 1 12-10 13-15 1-9-6-1 0-4 9-13 7-14-8-5-10 0-5-2 8M464 172l10 5 3 3-4-5 2-14M497 170l-2-1 3-9M524 174l-2 7 2-7 12-8 11 2 0 12-10 2 0-3 9 4 5 12-5 12-8 9-4 3 8-2 13 4 4 11-9 9-8-1 2-2 9 7 2 13-11 8-12-4-1-4 4 5 0 12-11 6M509 270l3 4-1 12M488 274l2-3-6 7M476 203l-6-15 3-14 16-2 10 8-1 7-9-9 0-12 10-1 5 12-4 9-2-5 7-11 11-3 4 10-8 8-6-2 6-4 13 3 4 11-6 12-7 3 4-5 14-1 7 9-5 12-12 5-3-5 11-2 12 8-2 10-14 4-12-5 2-3 10 9 3 14-10 5-12-5-3-6 7 4 3 13-8 8-9-7 2-11 6-1-3 11-10 4-11-9-3-12 0-3M458 159l11 7 0 4-5-13M496 164l0-9M525 165l-3-1 9-8M553 174l-10 11-8 2 5-2 15 4 7 13-6 11-9 5 1-2 13 0 9 11-5 15-11 5-1-4 10 5 2 16-12 9-17-8-7-10 3 3 5 15-3 15-14 3-11-8 1-5 1 8-12 11-12-2-7-10 0-9 1 3M468 182l3 3-4-5-1-14 9-7M492 174l-7-3 1-13M508 176l-3 2 3-8 13-8M532 168l-1 15-7 6 0-4 11-6 12 6 0 13-11 8-6-1 9-2 12 6 3 13-10 9-11 0 2-2 10 5 6 13-7 11-11 2-3-4 9 1 5 11-7 7-13-4-6-9 4 2 1 14-10 11-13-6-7-12 4-7 2 10-11 14-12-1M456 176l-2 0-6-12 6-15 18-1M533 171l0-5 14-7M561 167l-1 16-15 10-9-2 9-1 14 9 4 12-7 10-9 7 0-3 13-4 15 12-3 15-13 6-11-4 3-1 9 11-4 16-15 3-10-6 0-4 6 10-5 16-15 4-11-9-1-6 3 6-7 15-17-1-8-17 3-11 1 4M449 184l-4-12 6-12 18-2M533 168l2-6M565 172l-5 15-13 6-1-2 13 2 10 10-4 13-14 9-6-1 8-1 13 9 3 14-11 10-13 0 2-2 11 10 0 17-16 8-15-8-2-7 4 9-7 16-14 4-12-10-1-12 1 6-10 12-13 1M452 188l11-8 12 3 6 7-3-2-2-9 7-12 12 1 7 11-1 5-1-8 7-10 11 0 5 11-6 6-1-6 10-6 10 7-1 12-9 9-5-1 8-4 16 4 4 12-8 9-12 3-1-2 11 4 7 12-5 10-9 3-2-1 8 0 7 7-5 8-13-3-6-8 1-3 4 12-6 15-13 0-9-11 0-7 3 4-3 11-10 6-11-7-4-10M467 194l11 4 2 3-4-6 1-15 12-4 10 9-2 9-5-4 3-12 12-5 9 9 0 10-2 1 3-11 10-9 7 6-10 10-12-2 2-7 12 1 7 11-7 11-8 2 3-2 10 1 7 9-7 8-13 1-7-1 5 4 9 9 6 13-8 11-12 2 0-5 11 0 8 7-7 3-7-10 0-10 4 5-5 13-13 5-10-7-2-8 3 1 0 8-10 8-12-5-7-11M561 165l-7 12-4 2 8-2 13 6 4 13-11 12-11 3 0-1 13 1 13 10-1 14-13 8-10-1 3 0 10 9 2 15-11 10-12-1-1-2 5 7M538 167l-2-1 10-6M569 172l-4 14-7 6 3-2 13 4 8 11-5 14-13 6-8-1 8 1 10 12-1 14-13 7-11-2 4 0 9 10-1 16M448 165l-4-7 0-13 11-10 14 4M577 172l-5 14-11 7-1 0 11 1 10 9 0 12-9 8-3 1 9 1 11 11-1 16-14 12-14 0-3-2 4 8-1 16-12 8-11-3-5-4 3 5-1 15-12 9-15-5-9-10-2-3-5 7-11 7-15-3-5-11M435 163l3-13 14-3 14 7M567 168l-7 15-8 5 5-2 15 1 10 11-3 14-11 8-2 0 10 3 10 15-3 15-13 6-11-1 3 1 6 12-6 16-17 6-13-7-2-4 2 12-7 15-15 3-11-10-3-9 0 3-7 10-15 6-11-7M460 164l10 8-2 1-6-15M557 166l-6 13-8 3 3-3 13 3 7 13-7 13-10 6-1-2 11-1 12 9-3 16-14 8-7-1 9-1 15 11 0 17-16 7M542 272l2-2 6 11M443 170l7-12 15 0 12 10-1 2-6-11 5-15 14-3 12 14-2 11-3-3 8-13 13-6 12 6 2 14-4 5 3-8 16-3 9 11-4 15-12 7-1-2 14-2 13 10-2 14-13 9-8-1 9-2 15 7 5 14-11 11-13 0-2-3 9 6 3 15-12 9-14-3-2-6 8 5-1 16-13 9-14-8-5-14 2-1 0 14-12 13-15-6-6-15 1-5M540 169l-2-1 13-6M568 168l4 16-11 14-10 1 7-2 14 6 5 15-10 12-14 3 0-3 12 3 11 11-3 15-16 8-12-3 4 1 6 13-4 16-17 4-13-9 2-3 3 14-8 15-18 2-14-18 3-11-3 9-14 8-12-3M446 163l-3-4 0-12 10-10 12 1M585 170l-5 14-8 6 4 0 12 5 8 15-9 18-14 5-4-1 8 5 8 10 0 8-11 6-9 1 1 4 2 16-11 17-17 4-11-6-3-4 1 8-7 12-11 2-8-7-4-8 1 1 0 11-7 9M478 199l-4-6-2-12 11-10 13 2 6 7-8-2-5-13 9-9M510 166l1 16-3 3 3-10 11-13M534 165l-4 15-11 4-3-3 10-2 13 7 1 13-10 8-4-3 7-1 11 7-2 14-13 8-7-1 5-1 14 6 5 14-13 11-14-3 1-10 13 2 3 17-11 6-11-10-2-12 1 3-5 13-11 8-14-4-4-9 2 3-2 11-10 7M473 168l1 3-2-7 6-12M504 166l-1-6M527 168l5-5M547 164l7 11-5 11-9 4 1 0 11 3 8 9-1 11-9 8-5 2 7-1 11 7 1 13-8 8-7 0 3 0 7 9-3 13-14 4-11-5-2-5 3 7-4 15-13 4-11-8-4-8 2 3-5 13-13 5-10-8-4-11M464 191l-6-15 4-16M487 166l-5 8-7-11M506 165l-3 9-2-7 9-13M530 170l-6 13-5-1 9-9 17-3 9 12-8 17-13 5 3-8 16 1 9 12-7 13-14 2-2-5 11 4 7 14-7 11-17 5-7-5 8-2 12 11-1 15-16 4-14-9-2-7 8 10-2 18-14 5-12-9 1-13 8 2-3 12-17 7-10-11M464 191l-2-2-5-10M481 165l4 7-5-3 3-12M504 169l-1-2 6-9M532 178l-4 4 3-6 10-4 10 6-2 12-8 4 1-1 10 3 8 8-2 13-11 9-6-1 7-1 11 8 0 12-10 5-9-2 2 0 5 9-3 11-12 4-12-4-2-5 5 7-1 13M453 159l13 4M472 170l-7-5 0-21M564 170l-10 12-11 2 6-3 16 6 4 15-10 11-10 3 4-4 16 0 11 12-4 16-15 8-7-3 7 1 8 15-7 15-18 1-10-8 4 1 3 14-9 15-16-1-10-13 0-7 3 6-3 15-14 7-15-10-3-11 4 4M480 167l-7-9M500 165l-4 1 8-11M533 171l-5 6 2-9 14-6M558 171l-3 16-13 6-3-3 10 0 14 8 1 13-13 12-13 2 4-3 16 5 7 14-9 12-15 2-2-4 12 4 7 15-9 13M528 272l5 0 0 15M499 274l1-4 2 9M462 186l8-14 15 0 11 10-4 2-7-13 6-13M509 174l-5 5-2-10 9-11M524 176l-10 9-3-6 12-8 12 4 1 13-11 10-7-1 9-3 15 5 4 12-10 13-12 3 0-4 11-1 11 9-4 12-13 5-8-3 7-2 12 11-1 13-14 2-8-11 4-8 7 8-4 14-14 3-11-12-1-8 3 5-2 14-9 9-15-5-6-14 1-5M468 169l9 4-3-1-4-10M526 165l-1-2M553 169l-6 10-5 1 8-2 14 5 3 13-10 11-8 3 2-1 13 3 6 11-6 11-12 4-3-2 7 3 8 11-3 13-14 5-9-4 2 0 5 9-4 13M519 272l0 9M488 273l-2 7M565 169l-7 4 2-4 16-4 15 8 1 18-10 13-5 3 7 4 11 13-2 17-13 8-10-1 4-2 12 7 5 14-10 15-19 3-10-4 3 3 4 15-9 15-18 0-10-9 1 1-2 14-19 15-21-8-4-14 2-7-1 6M455 184l8-11 12 0 9 7 0 1-3-9 5-10M509 171l0 7-3-6 5-12M531 166l-3 13-5 2 5-6 11-1 6 9-4 9-7 3 2-1 10 3 5 10-5 12-10 6-3 0 10 0 11 7 0 12-12 6-11-2 1-2 8 7 1 13-10 6-11-3-2-4 4 5 0 13-11 5-10-8 2-10 3 1-6 10-15 3-8-10 1-10 0-3M441 164l0-14 9-10 15 1M569 170l-4 14-9 6 1-2 12 1 9 12-4 13-12 8-3 0 14-1 15 10 1 17-14 12-14 0-1 0 5 10-5 16-14 5-11-6-2-3 5 8-1 15-14 9-15-6-7-9 1 3-8 14-16 5-11-12-1-14M467 164l-5-2M567 167l-10 14-6 0 11-1 17 8 3 14-13 10-12 1 0-3 14 2 11 13-5 16-13 7-6 0 8 5 5 17-10 14M533 273l2-3 9 13M459 195l1-15M471 172l18 6 4 10-10-1-5-16 9-7 11 10 0 15-5-2 6-15 14-6 12 12-3 16-10-3 3-13 16-4 9 9-5 15-13 7 0-5 14-3 11 10-6 13-14 5-3-5 14-2 14 10-3 13-15 3-11-6 7-3 11 11-3 14-14 0-8-13 5-7 7 10-6 16-15 1-11-14 0-10 3 7-2 15-10 9-13-3-7-15 2-7M471 200l-2-4-2-12 7-11 11 2 8 11-3 3-1-9 6-13 12 0 5 11-4 8-6-4 5-9 10 1 4 11-4 10 1 1 8-5 13 1 5 11-7 11-8-1 4-8 12 1 6 10-8 9-13 0-2-4 7 4 5 10-5 10-12 1-4-4 6 2 4 11-6 9-13-1-7-8 2-1 4 11-4 11-10 2-7-12 3-8 3 0-5 10-12 5M568 166l-9 13-6 1 9-4 16 6 4 16-8 13-9 3 4-1 12 10 2 16-12 10-14 0-3-4 11 4 9 14-8 15M537 275l2 2" stroke="#6767fa"/><path d="M461 159l13-4 10 6-1 0-1-10 8-11 14 0 8 11-1 8 1-3 9-6 13 2 5 13M466 155l16 2 8 12M482 153l11-13 15 6 4 16-8 3M508 152l15-4 11 11-4 15M440 164l0-11 7-10 16 2 9 8 1 4-2-8 4-14 12-7 13 6 5 10 5-9 13-5 14 7 4 13-2 5 7-6 15 0 10 10-2 16M568 276l-13 9-15-3-6-5 2 5-2 16-12 10-13-4-6-9 0-1-4 10-14 5-12-7-4-10M475 155l13 7 2 7M492 157l11-7 12 6 5 10M522 160l12-8 12 8 0 14M468 148l11 9 0 2 1-9 10-11 14 1 7 11 1 4 1-6 8-10 19 0 8 19-7 11M558 285l-16 9-11-5-3-5 1 8-6 12-12 3-13-10-3-12 0 3-7 10-11 3M470 155l12 8 0 4M480 156l7-12 14 0 8 13-1 7M508 159l8-9 14-1 7 11-3 11M540 281l-12-9M531 278l-9 12-14-1-8-10 0-5M501 282l-7 10-13 3-10-10M461 160l10-14 17 4 8 13-4 4M490 155l12-14 16 5 2 16-4 4M519 159l15-6 12 9-2 18M510 278l-16-3M481 283l-13 2M476 201l-5-8-2-15 13-10 15 7-1 9-8-6 2-17 14-4 11 12-2 13-6-1 4-14 15-6 8 12-7 12-10 1 5-6 17 0 7 14-11 15-10 2 3-5 18 0 10 12-9 12-16 2-7-4 10 1 12 12-1 15-15 5-7-7 8-2 8 10-5 10-15-2-7-13 3-3 3 15-8 14-14-1-8-13 0-14 5-2-3 15-11 11M455 172l-3-1-3-13M469 141l10 7 2 5-2-6 4-15 14-6 14 11 3 10-1-2 7-11 19-4 13 13-2 15-5 4 6-5 13-2 12 9-1 16M566 278l-10 11-16 1-8-6 2 2 0 15-11 12-16-3-7-10 0-4-2 10-13 10-14-6-5-13 2-7M469 153l3 7-4-3-2-16 10-11 13 0 12 11 1 4 3-10 14-12 16 2 7 15-4 15-1-2 13-8 17 5 6 18M463 188l8-11 15 1 8 11-6 2-8-8 6-14 14 3 9 15-3 8-4-12 7-15 12-3 3 14-10 11-6-2 9-8 16 1 8 12-7 15-12 3 1-9 15-3 8 9-6 10-13 2-1-5 11 2 8 13-8 11-15 0-8-6 7 0 9 12-4 13-14 3-14-6 2-3 13 9 3 16-11 4-7-14 4-13 6 2-5 11-12 7-13-8-2-16 2-8M493 163l11 9M506 160l11-4 8 9M523 279l-12 5-11-8-2-11M494 279l-12 5-11-6M465 135l18-2 11 10 1 5 1-12 12-12 17 4 7 14-2 11 3-3 15-3 13 10-2 15M466 163l13-1 11 9M491 160l13-7 13 8 2 11M516 156l15-8 10 11-5 16M531 277l-15-4M520 284l-11 11-14-7-2-15M491 282l-14 6-11-11M470 162l16 9M484 154l14-7 15 12 1 10M508 162l8-17 18 6-3 17M470 163l11-6 11 9M499 161l13-3 9 10M535 162l8 9M475 152l8 10-6-3-2-17 14-14 16 7 4 16-3 2 4-11 14-7 14 9 1 18-8 9M548 158l15 6M547 282l-16-1-10-7M533 289l-6 17-17 2-12-12 1-8 0 8-15 11-15-9-1-17 3-8M467 146l1 1-3-10 8-15 19-5 14 12 3 10 2-4 13-9 19 3 9 14-5 14-5 3 6-1 12 2 7 11M573 284l-8 14-16 2-13-9-3-6 1 7-6 15-11 6-10-5-4-8 0 3-6 11-12 4-10-7M492 159l11-1 8 8M516 160l13-3 8 11M465 135l9 6 1-6 6-15 15-9 15 10 4 17-2 5 5-10 15-9 16 5 4 16-4 11 1-1 14-3 16 8 5 17M570 288l-10 13-15 1-12-9 0-3 2 12-7 15-15 2-13-11-2-9 1 9-8 15-13 4-11-11M473 143l8 13-3-3 3-14 14-11 15 7 5 16-3 3 3-8 16-9 17 8 2 18-8 10M551 163l16 0 8 14M464 156l-3-2 1-17 15-10 16 6 5 11-2-2 4-14 15-9 16 7 6 17-2 6 8-7 23 0 12 16-5 16M571 284l-17 3-12-8 0-3 5 11-3 15-16 7-15-6-5-9 1 5-7 15-17 6-10-10-3-15 2 0M469 157l11 4 4 8M483 152l11-7 14 8 3 14M511 160l12-10 13 7-1 13M540 283l-12-2-5-6M527 278l-1 14-11 8-13-6-5-13 2-4-1 9-9 10-15 0-6-11M468 157l16 5 1 9M485 155l13-5 11 10 2 12M514 162l13-9 13 7-1 15M502 164l11 8M465 127l14 3 8 8 0 1 2-11 15-13 20 2 8 11 1 10 1 0 12-5 16 7 6 17-3 12M468 140l11 9 1 4 1-9 10-11 14 0 9 9 1 7 0-2 9-7 13 2 8 13-1 11M554 163l15 4M550 283l-11 7-13-3-4-3 3 6-4 14-15 6-14-8-3-11 0 3-7 11-11 3M463 131l14 7 3 2 5-12 20-11 17 6 3 16-5 7-2-5 8-14 18-4 15 15 1 18 0 3 9-2 16 6 5 16M576 283l-7 16-18 6-16-7-1-2 0 12-9 15-13 1-11-11-2-9 1 8-7 14-12 2M463 175l0 2-5-9 1-16 14-6 13 8 2 5-2-7 4-15 14-5 12 10 0 11-2-1 7-6 14 0 9 11-3 12-2 2 7-5 12 1 7 13-7 14-10 5 0-1 13 1 11 9-1 14-13 7-5 0 8 1 10 10-3 16-15 5-6-5 3 2 1 14-11 10-13-3-6-7 2 2 0 14-9 9-14-4-9-13 0-3 0 13-8 12-11 2M463 135l21 11 2 11-4-3 5-16 15-9 14 9 2 14-4 2 4-10 17-7 13 12-2 18M460 142l17-2 11 8 1 4 1-10 10-12 14 1 9 10 0 7 2-3 11-7 17 4 4 17-7 12M550 278l-3 13-14 5-13-5-2-4 1 10-8 13-17 2-10-13 0-7 0 1-7 10-13 4" stroke="#f56767"/><path d="M493 159l11 8M503 151l12-2 8 16M520 160l16-1 7 11M531 281l-15-4-7-14M506 284l-12 0-8-11M475 161l10-7 10 6 2 10M498 160l11-5 11 6 4 13M455 163l13 1 11 7M471 160l7-14 13 0 9 12-1 10M499 162l10-11 13-1 7 12-3 10M534 278l-10-6M522 288l-12 4-10-6-1-7 1 6-5 10-14 1-10-9M464 157l8-15 15 1 10 13-1 8M496 155l9-13 13-1 9 12-2 12M531 156l18 3 4 15M475 159l15 5 2 10M486 158l12-7 10 10 0 15M521 162l11 6M450 161l-5-9 1-16 14-9 16 8 4 8-3-4 2-13 15-8 16 8 6 13 1 0 7-9 18-6 15 10 0 16-5 7 6-3 15 1 13 16-5 18-15 8-4-2 10 0 12 6 3 12-9 11-9 3 4-1 14 8 5 18-11 13-17 1-4-3 8 7 4 17-11 12-17 2-10-6 1 3-2 16-12 11-13-5-9-13 0-5 0 8-11 13-13-1M472 148l9 10-3 2-1-12 11-10 15 4 6 14-2 4 1-11 12-10 15 4 4 17-6 11M547 159l14 8M463 205l-1-15 9-10 17 3 8 8-2 3-8-13 2-15 10-3 8 13-10 9-7-7 7-10 15 0 5 14-6 13-4-2 11-11 14-1 3 11-13 8-10-7 5-4 16 8 6 12-7 13-14 4-2-4 12 0 10 10-6 11-15 3-5-5 11 1 11 13-6 12-13-3-5-15 9-5 6 11-9 12-15-4-6-13 4-3 0 13-12 12-14-6-5-13M461 153l11 8-2 1-4-13 7-16 16-2 9 9 0 5 1-7 11-9 15 3 7 14-3 10 1-3 13-8 15 5 3 15M471 151l15-1 7 10-4 5M487 156l11-9 13 4 4 16M519 163l15 0 6 13M531 280l-14 4-12-9M509 278l-4 14-15 3-10-14 2-10M482 277l-8 11M468 144l9 6 0 3-2-11 6-14 15-3 14 11 1 12 0-3 12-8 14 3 6 15-5 12M546 160l15 0 8 12M469 139l5 5 0-6 5-14 16-6 14 9 4 13 1 0 6-8 15-4 13 10 1 14-1 5 8-2 14 4 7 13M462 158l7-16 16 1 11 12 1 7-3-10 7-16 17-3 10 14-4 14-3 0 10-9 18 1 8 13M555 277l-13-5M550 281l-5 17-16 4-12-12 0-10 1 7-7 12-14 4-11-9-1-11 3-1-4 8M438 165l8-10 14 1 8 6-5-4 0-16 13-10 15 6 6 11-2-1 7-13 14-4 12 10 0 16-4 5 7-6 16-2 10 10-2 14-8 7 1-2 11 0 11 11-3 14-10 8-5 0 9 0 13 8 2 15-13 10-12-1 0-1 8 9 1 15-11 9-12-2-4-3 5 6-1 16-14 7-15-7-5-12 2 2-8 13-13 4-12-8-1-13M470 143l11 10-3 0-2-16 14-15 18 5 7 15-3 6 3-7 14-8 16 7 2 17-7 12M551 162l17 6M465 138l8 7 2 2-1-8 6-13 14-4 13 5 5 6 6-4 11-6 15 2 10 14-2 15-1 3 11-4 15 3 8 14M498 156l12 10M522 162l12 3M443 160l-2-11 7-12 15 0 10 9 3-12 11-12 15 1 9 11 0 7 2-4 9-8 15 2 8 12 0 10 3-3 14-3 15 8 3 17M567 291l-17 3-10-6-3 12-10 11-14-2-7-9 0-4-2 9-8 8-15-1-8-9 0-5M464 162l9 6M478 152l12-1 11 8 3 7M503 160l4-14 12-6 12 9 0 15-4 4M532 163l15 1M462 160l14-2 11 8M475 163l8-14 15 1 8 15M510 154l15 1 5 15M470 161l11 4M483 157l11-4 9 7 1 9M509 158l12-4 10 9 1 15M522 282l-10 8-11-5-3-9 2 1-5 11-13 4-10-8-4-10M463 151l-2-3-2-15M470 120l16 0 14 11 3 3 9-7 14-3 8 7 1 13-2 8 3-4 14-5 18 7 5 16M470 155l10 7 0 5M473 158l2-16 16-6 13 14-4 15M504 155l13-7 13 7 3 16M544 162l14 9M549 283l-16-2-5-9M533 287l-12 11-16-8-6-16M502 279l-5 14-15 7-11-10-3-12M491 158l13 3 5 13M511 158l12 3 1 15M458 188l-2-6 3-12 12-7 10 3M485 161l10-8 12 3 6 9M513 161l9-8 13 4 4 14M538 284l-12-3-5-9M520 279l-9 8-13 0-8-8 0-2 0 9-8 9-11 0M470 162l6-14 14 0 8 9 0 5 0-9 9-11 13 1 7 12-1 10M525 163l9-8 14 1 5 13M541 286l-14 1-8-10 0-5M519 281l-9 11-10 3-10-7-3-11 1-4M453 167l-1 1-4-10 4-15 11-4 16 9 4 9-1-4 7-13 14-5 11 8 2 12-2 3 3-8 12-7 14 6 4 14-3 6 4-3 14 0 11 11-4 15-12 7-2 0 10-1 12 5 3 13-10 12-10 3 3-1 10 9 2 15-10 10-13-1-3-3 4 6 1 12-10 8-15-1-7-6 2 2 3 14-9 14-17-1-9-14 0-8 0 2-8 12-12 3-9-5M471 121l16 6 5 8-1-6 8-15 17-5 15 12 5 16 0 7 9-4 18 2 9 12-7 15M472 184l9 7-1 3-7-12 4-14 14-3 12 12 3 10-4-7 4-17 13-5 7 10-6 12-11-5 5-13 17 3 1 14-13 9-6-1 8-2 13 6 2 15-9 11-6 3 3-1 15-1 11 8-3 13-15 3-7-7 7-3 12 10 0 14-16 4-11-8 5-4 10 10-2 16-13 3-12-12 1-9 4 8-4 13-13 3-4-11 9-10 2 6-11 7M460 157l7 7M462 162l-4-12M466 133l18 0 12 13 0 5-2-12 11-16 21-1 10 15-2 13-1-3 14-7 17 7 3 20M561 284l-17-2-11-9M544 283l-2 19-19 9-17-10-2-8 1 6-8 11-14 2-10-8-3-16 3-3M476 164l10 6M496 163l13 6M465 153l1 2-7-12M466 124l19-4 14 14 1 12-1-7 12-15 15-1 10 16-2 14 1-2 17-4 13 6 3 13M566 278l-19 3-10-6M539 277l1 16-12 15-17-5-7-14 1-5 0 13-13 14-14-2-7-12" stroke="#f54949"/><path d="M539 165l-3 11-2 0 8-5 14 4 4 13-7 10-8 3 1-1 9 3 9 9-2 12-11 8-7 0 5 1 9 7 1 12-9 9-12-1 0-1 5 7 2 13M470 185l4 2-4-6-2-11 6-9M493 167l-3 3-2-8M514 172l-2 9 1-3 8-10 14-2 8 9-2 10-5 0 8-5 10 5 0 12-10 8-6 0 5 0 10 6 3 12-8 9-9 1 0-1 7 6 2 11-9 9-13 1-3-3 7 4 6 12-6 11-14-1-7-9 2-1 0 10-8 9-13-4-5-9 1-6-1 6-7 10M464 183l-2-2-1-12 9-12M490 167l1 5-2-7 7-12M517 164l-4 9-2-4 10-8M540 174l-4 12-4 2 6-4 13 0 7 11-7 13-10 2 1-3 11 4 7 13-7 11-12 3-2-2 7 2 7 13-6 11-13 1-9-6 1 0 5 9-1 14-13 5-12-5-1-5 5 5-3 13-15 2-7-14 2-10 0 3M473 192l-10-10-6-17M490 169l-5-1-3-15M504 165l4-13M530 174l-6 2 6-7 15-2 10 12-7 15-13 5-2-3 14 0 11 8-1 14-15 11-10-1 9-3 17 6 6 14-12 12-17-2 0-5 12 8 3 16-13 9-14-8-3-12 4 3-2 15-12 10-14-6-4-12 3 0-1 14-11 11-12-3M479 198l-5-9-2-15 10-9 15 6 0 9-11-4 1-13M507 171l-2 11-2-3 7-9 13-2 8 11-5 11-8-1 5-10 12-1 7 10-9 12-12 4-1-1 13 3 12 9 2 14-10 11-8 0 7-4 12 2 4 9-9 7-11-4 0-6 8 5 1 13-10 7-13-5-4-8 5 3 1 15-9 10-13-6-4-12 9-5 1 13-15 7-10-7M465 182l-2-4 0-13 12-10M490 169l-2-2 4-10M520 166l0 3 2-9M546 174l-8 2 5-4 14 3 7 14-11 11-13 3 11 3 11 10-2 12-10 6-8 0 3 0 10 7 3 13-9 10-11 0 0-3 7 6-2 12-11 6-13-6-3-8 2 4-4 11-12 6-13-9-4-10 1 4-3 13-9 9M472 215l-2-13 5-14 15-2 8 7-3 5-7-10 5-14 13 0 7 15-6 11-8-6 5-13 13-5 8 11-6 12-6-1 5-10 13-2 5 10-9 13-12 3 1-5 14-1 12 8-2 14-13 6-5-4 10-2 11 8-2 10-15 1-9-9 6-6 10 10 0 15-11 6-13-7-1-9 6 6 1 14-11 5-9-10 4-14 7 5-4 12-15 7-10-9-3-14M481 184l13-5 7 4-3 1-8-5-2-10 5 4-1 13-5 3 1-10 12-8 11 6 2 13-4 7-2-8 6-9 9 1 1 11-8 7-3-3 8-3 11 4 1 13-10 10-7 2 6-2 15 2 7 11-8 8-10-1 2-12 11 0 2 8-11 3-11-7-2-2 3 9 1 14-10 8-13-5-4-9 4 0 3 9-7 9-11-7-2-9 0 1M541 169l0-1 10-2 12 7 2 14-8 10-1 0 11 1 12 10 0 14-11 8-8 0 5 1 8 8 0 12-12 9-11 1 1 0 7 8 0 16M482 167l-2-11M508 164l0-5M534 171l-2-1 10-6 12 3 5 12-6 12-7 3 5-3 12 4 4 13-9 10-13 2-2-2 9 4 8 12-3 11-12 7-9 0 6 0 11 9 0 14-13 6M528 272l2-4 1 10M500 274l1 8M468 172l6 5-6-1-7-16M492 167l-2-12M516 166l3-7M544 180l-9 9-1-4 15-6 15 7 0 15-12 10-7-1 7-3 14 6 4 14-11 11-14 0 0-3 11 5 6 16-13 11-18-3-4-8 7 3 4 18-11 12-14-5-5-11 2 0 0 13-12 10-16-9-5-15 2-2 0 11M440 149l13-5 16 9M573 168l-9 15-8 3 7-2 15 7 6 14-10 11-13 3-1-2 12 3 10 13-7 15-15 5-7-2 9 1 12 15-5 19-19 6-14-6-1-4 1 11-8 14-16 1-10-13-2-9 2 7-8 16-16 3-9-10M470 175l8 6-6-2-6-12 5-16M489 165l-2-9M515 167l-4 10-2-4 10-10M540 176l-6 11-5 0 6-7 15 2 6 13-11 13-12 2 0-3 11 3 9 12-6 13-13 4-4-2 9 1 11 11-2 13-14 5-10-7 3-3 7 9-3 14M505 275l0-6 4 9M482 271l0 6M463 182l9 5-1 0-5-12 3-11 10-5 15 7 3 7-4-4 2-15 11-6 11 7 1 11-5 1 2-8 11-6 11 8-1 13-6 5 3-6 13-3 9 9-4 13-14 5-6 0 6 1 10 9 2 13-7 11-6 2 6-2 13 3 7 11-8 11-14 1-5-4 6 1 5 12-8 10-11-2-6-7 3 1 3 12-8 12-14-2-7-11 2-6 0 9-8 9-14-1-7-12 1-8M465 172l11 6 3 6-3-7 5-12 12-2M504 172l1 7-3-6 4-13M525 165l-2 11-4 2 5-6 12 0 5 10-6 12-9 4 2-2 13 1 10 9-2 12-10 6-4-1 8 1 9 8-3 12-10 6-11-1 4-1 10 7 1 12-10 5-9-5-2-5 3 5-2 12M498 265l1 2-5 12M466 165l-2 1-7-14M559 172l-8 9-3-1 11-2 15 6 3 16-10 11-9 2 4-1 14 5 5 15-10 13-13 3-1-2 10 7 5 16-10 13M429 155l3-12 11-4 15 6 5 6M459 133l11-13M573 166l-6 13-5 3 7-1 13 6 4 14-7 11-9 4 2 0 13 4 8 14-7 15-14 6-7 0 5 5 5 15-8 14-15 3-8-5 1 2 2 12-8 14-17 1-13-10-3-5-3 8-14 11-14-1-7-9-1-12 1 2M443 158l14-3 13 8 3 8-4-7 3-16 12-6 14 8 5 8-5-5 1-17 15-10 16 9 2 18-6 8 4-8 18-7 15 11-3 15-10 7-2-2 11 0 11 11-2 14-11 8-6 0 9-3 14 6 4 15-10 12-10 1 3-2 9 8 1 15-15 8-16-4-1-4 9 10 3 16-11 11-18-5-7-12 2-3 0 13-10 13-15-1-8-15 1-7 1 8-8 13-13 4M465 191l-2-1-4-12M490 171l2 10-4-5 3-16M519 172l-5-2 2-14M536 175l-8 4 3-4 13-3 11 9-4 16-13 7-2-5 13-1 13 9-2 15-13 7-8-3 8 0 12 9 1 14-15 8-15-5 0-5 9 8 2 14-10 8M516 273l-4-9 7 3 1 17M493 273l4-3-6 12M486 171l2 9-6-9 2-17M514 169l-6-7M531 168l-13 8 0-3 16-3 14 7 1 15-11 12-6-1 10-5 15 4 4 15-12 11-12-1 4-3 13 6 5 15-11 11-16 0-1-5 13 6 5 16-11 10-17-6-3-11 6 4-1 18-14 9-13-11-2-16 4 0-6 16-14 7-12-7M474 184l1 0-6-8 1-13M492 166l2 9-1-3 6-11M521 168l1 10-4-1 4-11 13-4M543 171l-4 11-8 5 1-3 11 1 8 11-6 13-9 7-2-1 10-1 13 7 2 12-10 8-8-2 2-1 8 6 1 12-11 7-13-4-2-5 6 4 2 14-8 10-13-3-5-9 3 2-1 10-10 7-12-9 0-14 2-1-5 8M531 171l2-6 15-7M563 164l2 17-11 12-5-2 12-3 15 9 0 17-15 9-12-1 6-2 14 10 3 15-11 10-16-1-4-5 9 4 6 15-9 14M521 274l4-1 8 16M567 172l-1 12-5 6 3-1 12 2 8 9-2 14-11 9-2 0 10 2 11 10-1 14-13 12-9 2 3 6 3 15M461 170l3 3-4-6 0-15M518 164l3-9M544 173l-10 6 2-3 14 0 13 8-1 14-11 7-5 0 6 0 11 9 0 14-9 8-5 0 7 0 9 7 0 14-13 7-12-4-1-3 4 7-1 13-10 7-13-3-5-6 3 3 1 14-9 9-13-3-9-16 2-5-2 11-10 12-12 1M585 177l-8 13-7 3 6-1 12 5 5 13-8 13-11 4 2-1 12 5 7 15-9 15-16 6-7-1 5 5 2 17M443 148l14-10 16 5M542 173l-1-2 10-8M575 177l-6 17-10 6 4-3 15 3 10 13-6 16-14 4-1-2 12 3 10 13-7 15-18 5-10-4 6 2 7 15-8 18-22 1-8-11 2-2-1 13-11 12-15-4-7-13 0-9 2 7-8 16-15 4-10-10M573 174l-13 7 0-2 14 2 9 12-5 14-11 6-3-3 12-3 15 9 1 23-17 14-13-3 5 2 9 15-5 17M474 190l12 6-1 2-8-11 3-14 14 1 6 14-4 5-4-11 6-16 13-2 7 14-3 10-5-4 5-12 12-3 3 10-10 9-9-4 6-9 13 0 7 11-8 11-11 2 3-2 10 4 7 11-5 16-11 7-2-3 9-6 13 4 0 11-11 5-12-4 3-3 10 7 1 13-12 4-12-9 0-9 8 6 2 16-9 9-11-8 1-14 8-2-3 12-14 7-10-10-2-15M462 186l-4-7M484 169l-4-4 3-13M511 167l-2 2 2-9M535 170l-7 6 2-1 10-2 11 6 1 14-9 10-4-1 10-2 12 6 3 13-11 10-10 2 4-2 12 6 5 13-9 10-14 1-3-4 7 5 3 13-8 10M523 275l4 3M485 171l-4-4 4-12M511 172l-2 1 5-11M539 175l-8 5 4-5 13 2 7 11-6 13-10 5 1-1 11 0 11 10-3 14-10 8-3-3 11-1 11 11-4 14-15 2-11-7 2-1 4 12-5 12-14 2-10-8 0-5 2 7-4 13-12 5-13-9-2-7 2 5-2 11M468 199l-3-8 1-13 11-8 13 7 1 9-4-4 3-13 12-5M513 172l2 12-2 0 3-9 12-10 11 3-2 12-12 1 0-9 9 1 8 10-5 11-9 4 1 0 9 3 6 10-2 12-9 10-5 1 7-4 12 3 3 11-10 7-14-1-2-4 9 6 4 14-8 8-12-4-4-8 4 1 2 12-8 10-12-3-5-11 3-5-1 10-8 9-14-1-6-10M565 169l-1 2 10-1 14 7 3 15-9 12-9 4 3 3 10 10 3 15-9 10-12 0-4-3 7 1 9 9 0 17-13 13-13 2-1 5-1 11-10 10-16-1-10-9 1 1 0 11-9 13-16 2-11-9-4-10 0 2M544 166l0 1 10-4M569 167l4 14-10 14-9 4 4-1 13 2 10 11-4 13-13 7-5-1 6 3 8 12-4 15-12 6-10-3 1-1 4 9-2 12M590 179l-11 14-9 3 6-2 13 3 9 15-7 15-12 6-3-1 10 5 9 14-4 14-17 5-10-3 4 2 8 14M469 194l-2-7-2-14 11-9M486 170l1 12-4 0 2-11 11-8M509 169l3 13-2 3 2-9 12-11 12 5 1 14-11 5-4-9 10-5 12 6 0 13-12 8-5 0 9 0 11 8 2 13-10 11-9 0 5-4 13 3 5 12-9 10-14-2-2-5 10 3 3 14-8 6-11-6-5-10 4 1-1 14-10 9-13-3-7-10 1-5 2 6-6 14-12 3-11-9M460 168l0 3-9-8M450 144l13-9M546 167l-8 6 3-5 16-2 14 10-2 15-14 10-7-2 9-2 15 4 5 15-11 14-11 1 6-3 15 8 4 17-14 12-16-3-2-6 8 8 2 18-11 9-16-4-9-12 4 1 2 16-9 15-15 0-10-14 2-7-1 11-13 10-13-5" stroke="#4949fa"/><path d="M462 146l9 8 0 2-1-10 7-11 13-1 12 8 2 5 0-8 11-12 17 0 9 14-3 15-3 3 8-5 17 0 9 11M567 282l-14 5-10-6-3-4 3 7-3 13-14 6-13-7-2-5 2 6-8 17-17 3-12-11-1-14 2-1M472 147l9 8-2 4-2-12 9-14 17 1 9 13-2 3 2-11 14-9 17 6 2 18-9 13M547 160l15 4M555 284l-16 2-9-7 3 0 1 16-12 12-16-6-7-14 2-4-3 13-12 10-14-3-6-15 4-12M465 157l-4-1-4-12M466 127l20 0 13 13-1 7 4-10 14-11 14 4 6 15-3 12 0-3 14-7 18 6 4 16M461 164l11 11M465 160l6-16 14-2 11 10 0 5-2-8 7-13 17-1 9 12-1 13-2-2 10-11 19 2 5 17M547 281l-7 16-16 1-10-13 2-4 0 10-9 10-14-1-10-14 1-10 2 4-8 12M471 145l12 11-1 3-3-12 10-16 17 2 8 13-3 6 2-9 14-8 15 7 2 17-9 11M547 161l14 3M557 286l-16 2-10-8 1-4M535 287l-9 15-16-1-10-13 1-8 0 11-8 11-17 0-8-13 0-12M465 155l4 10M465 159l3-15 11-7 12 7 7 9-3-1 0-16 18-13 21 10 2 18-7 9 2-4 16-4 13 8 1 14M461 159l18 4 8 9M478 161l9-14 15 4 6 14M502 162l10-11 13 2 2 15M462 151l5 4-4-3-5-15M467 122l22-4 16 13 1 6 4-6 11-8 10 3 7 12 0 11 2-3 14-6 18 6 6 15-7 14M486 158l9 10M495 164l14-6 10 9M477 156l13-6 14 8 4 11M506 152l15-9 11 10-2 14M528 163l15 2M541 277l-13-5M532 287l-14 9-12-9-3-10 2 2-2 10-10 6-14-5-6-12M464 153l-2-2-1-10 9-13 13 1 10 9 0 3 0-11 9-13 17-1 18 16 0 12 3 1 13-2 11 5 3 12-5 10M465 141l6 7-2-7 4-13 13-7 15 10 5 14-1-1 5-14 21-6 16 14-2 17-5 4 7-3 15 2 7 12M474 129l10 11-1 1 1-11 13-12 17 6 7 15-1 5 3-8 18-7 16 9 2 19-7 10M552 164l15-6 16 6M460 156l3 6-6-5M467 126l19 5 7 12-3 1 3-14 14-10 16 9 4 17-4 9 1-8 16-10 18 6 2 19-9 11M559 291l-12 16-19-3-9-13 2-4 1 11-9 14-18-1-9-16 2-6 1 11-9 12" stroke="#f52c2c"/><path d="M462 196l-6-13 3-15 15-4M487 172l3 7-5-4-2-14M512 167l-5 1 0-11M531 173l-8 7 2-8 15-5 12 9-5 14-14 7-6-2 11 0 14 9 3 13-9 12-8 3 7-5 14 4 5 13-13 10-11-6 4-4 9 10-1 15-14 6-13-8-3-8 6 5 0 16-12 10-14-7-4-12 5 0-3 16-15 7-12-10-3-12M548 166l0-2 11-2M573 169l2 15-12 12-8 1 8-1 12 8 3 15-11 10-10 1 3-1 10 8 3 13-9 10-15 2-4-2 6 4 5 16M457 161l2 2-5-7-1-13 12-12 18 3 7 9 0 3 4-9 12-7 13 6 5 12-2 8 5-5 14-5 14 7 2 14-6 10-3 2 7-1 12 6 3 13-6 10-8 4 2-1 12 3 8 11-4 13-9 7-3 1 8 4 6 14-7 13-16 3-11-5 0-1 1 10-6 13-13 4-11-8-2-6 1 4-4 13-13 7-13-8-3-9 0 1M459 198l4-15 12-4 14 8 1 7-8-9 1-15 11-4 10 9 0 8-3-7 6-12 12-1M523 174l-12 6-8-10 9-8M523 170l0 16-7 7-2-1 7-5 13 2 4 12-11 14-9 3 3-3 15 0 11 11-7 13-14 4-3-6 15-3 10 11-8 8-14-7-5-10 5 2 4 14-6 11-11-3-7-11 1-4 0 10-7 12-13 2-10-11 0-6 1 8-6 10M456 199l0-15 8-11 16 3 9 10-6-2-3-15 8-11M503 164l4 16-5 2 0-13 10-11M520 177l-11 3 0-5 14-2 12 7 2 13-8 11-4-2 10-7 14 5 0 13-13 10-10-1 6-4 17 6 6 13-11 10-14-2-3-7 10 3 6 14-9 10-13-3-5-8 6 1 4 12-8 12-15-4-7-12 5-4 3 13-7 12-16-1-8-15 0-10M447 165l-4-12 6-13 18-1 12 9-1-1 4-14 15-11 17 7 5 15-2 5 3-9 15-8 20 8 3 21-7 10-1-1 11-3 16 6 3 16-11 13-6 2 8-1 14 8 3 17-13 11-11 1 2-1 11 7 5 18-12 14-17 0-6-4 4 8-1 15-12 11-17-5-6-11 2 4-3 14-17 10-17-7-5-18 2-4-1 7M530 173l-4 1 9-5 15 1 8 11-6 14-9 5 3-3 13 0 10 11-4 14-12 6-3-1 9 1 10 9-2 14-13 7-10-3 4-1 8 12-5 15M525 274l-3-10 3 6-4 15M494 275l0 9M466 166l13 3 5 8 1 2-1-9 8-11M511 166l-1 8 0-3 6-11M537 168l-5 11-5-3 5-4 11 3 4 12-8 10-7 3 5 0 12 3 9 9-3 13-10 6-3-1 7-1 7 8-5 10-12 2-8-5 4 3 4 12-4 11-12 4-11-5 0-3 4 7-3 11-11 3-9-9 0-8 0 6-9 9-11 1M463 170l-4-3M550 171l-5 2 7-2 14 4 6 14-7 12-5 2 6-1 13 5 5 17-12 12-13 1-3-2 7 5 5 13-6 12-13 3-8-3 3 2 6 11" stroke="#2c2cfa"/></g>
<g transform="scale(0.5)" fill="none" stroke-width="0.80" stroke-opacity="0.85" stroke-linecap="round" stroke-linejoin="round"><path d="M481 220l8 5 1-2-2-12 6-8 14 5 7 3-3-10 0-13 10-3 12 7 2-3-2-13 7-7 12 5" stroke="#f5dcdc"/><path d="M478 231l5-10 9-5 9 10 3 9 2-1 6-13 10-5 8 10 2 11 4-7 8-9 9 2M476 223l7-12 9 3 8 14 2 3 4-15 8-6 9 6 3 14 2-1 7-13 12-3 5 12 1 11 3-3 9-13 10-1 4 12M479 230l3-14 9-3 11 12 4 6 1-11 3-14 8-1 13 8 3-1-6-14 3-9M483 235l1-5 4-14 9-5 10 11 3 7 2-7 6-13 9 1 11 11 3 0-2-16 7-10 11 5 7 8" stroke="#dcdcfa"/><path d="M476 224l4-14 11 2 11 12 1-1 0-13 8-10 11 8 5 11 2-8 7-14 11 3 6 12" stroke="#bfbffa"/><path d="M478 217l13 8 3 1-3-13 2-10 14 2 10 9-1-4 0-13 5-10 13 6 6 11 2-3M484 225l5 1-2-8 3-11 8-1 11 2 2-3-7-10-1-9 7-4 12-2 0-3-7-8" stroke="#f5bfbf"/><path d="M475 229l4 1 11-1 7 7-4 13 2 5 9-6 10-4 6 10 2 11 4-4 8-7M480 218l11 0 3 12-2 11 7-6 13-7 6 8-2 14-1 6 8-7 13-6M477 216l9 0 9 11 3 4 3-10 8-11 10 6 6 8 2-5 3-10 9-4 9 6 6 5 1-9 3-11 8-1 10 8M476 232l6-4 10-6 9 4 1 14 1 4 7-6 9-5 8 7 4 11 3-1 6-11 9-4 7 10M479 215l10 3 4 12 2 8 4-8 10-11 10 6 4 12 3-2 5-14 10-3 8 9 4 10 3-9 6-12 10 1M478 217l10-3 6 11 3 13 3-4 6-10 9-3 8 12 2 9 4-8 8-14 11 3 5 14 2 1 4-10 9-8M484 217l8 7-4 13-4 7 11-4 12 0 2 11-2 12 4 0 11-11 10 2 3 11M488 219l-2 11-6 9 0 3 12-1 8 7-4 11-3 5 9 0 13 4 1 8-9 10-2 3 8 2 7 5M488 218l4 8-9 12-7 7 7-1 16 1 4 8-7 12 2 3 12-4 9 4M476 234l5-5 11-9 11 3-1 17-2 8 10-8 13-1 1 13-7 12 8-3 16-4 6 8-7 14M472 223l4-10 14-1 8 1-6-6-8-14 9-7 15 4 1-1-7-15 5-10 12 3M471 230l3 0 14-1 9 7-7 14-5 6 10-2 12-3 5 10-5 13M487 230l-4-8-1-11 9-5 10 2 4-1-6-10-1-11 10-4 10 0-2-5-4-10M485 233l-2-8-1-14 10-4 12 8 5 6-2-9 3-15 12 1 8 12 2-2 2-14 7-8M480 216l8 8 4 5 3-6 7-11 8 2 7 9 4 5 2-8 5-13 11 1 8 9 2-2 2-10 7-6M477 225l8-11 9 5 6 11 2-2 4-11 6-7 11 7 7 11 2-4 2-15 7-4 12 8 5 5 0-8 1-12M481 220l9 7 2-2 0-13 8-7 11 8 4 5 2-9 8-10 10 4 5 9 2-1M484 225l6 9 0-6 2-17 10-4 9 10 4 7 1-7 6-14 11 2 6 16 2 2 6-15 11-6 7 11 3 11M488 227l-1-5-8-9 2-10 10-3 8 1-2-4-4-12 7-7 12 5 5 0-1-10 4-8M481 217l10 1 2 10-1 11 4-1 12-6 8 7-1 12 2 2 10-7 12 1 0 15-3 10 6-4 12-4 8 6" stroke="#4949fa"/><path d="M477 224l4-10 9 1 11 8 2-2-2-15 7-8 12 5 6 3-2-9-1-13 12-2 13 6 0-3-3-11 3-10M477 220l10-7 8 9 5 12 1-4 4-12 7-7 11 7 6 8 0-10 4-13 11 1 9 11M477 217l11 4 5 3-2-10 3-10 10 0 9 9 2-1 3-15 8-6 9 7M478 217l12 7 6 4-2-8 0-16 11-3 11 8 3 0-2-11 4-10 15 2 7 3-4-9-4-13M477 224l12-2 5 6-3 12 0 5 10-3 10 2 1 11-2 9 5-1 10-4 7 3 1 13 0 8 4-2M474 232l5-4 13-5 8 7-2 12-2 8 6-4 10-9 9 3 5 15 2 4 6-12 10-7M484 225l6 3-3-8-1-15 13-1 13 10 0-1-1-15 8-10 12 9 5 7 1-11 4-11 9 1M473 222l4-8 12-1 7 0-7-8-4-13 12-4 12 3 0-3-5-14 7-8 13 4 4 1-4-9M483 218l6 7-1 10 1 4 10-5 10 0 4 10 2 9 4-3 9-11 9 3 6 12 2 5 4-6M480 232l3-9 6-9 9 3 7 14 3 1 3-11 9-10 10 7 6 9 2-4 3-13 7-3 9 5 8 5-1-8 0-13 7-5M478 216l9 2 8 10 3 1 2-9 5-10 9 1 8 10 3 2 2-7 7-10 9 3 7 8M477 225l8-7 8 2 6 11 4 2 2-8 5-9 10 0 8 7 3 2 1-9 3-10M476 216l10-1 9 10 5 4 0-12 5-12 11 3 10 8 1-5-3-11 4-10 13 2 7 5M483 230l-4-12 5-9 13 2 7 3-2-5-7-13 3-8 16-1 9 0-10-8-8-12 9-7 13 0M474 228l8-1 10 1 3 9-7 12-1 4 9-2 13 1 2 9-5 11 1 3 8-1 11 3 0 11-3 7 4 1M475 223l3-9 10-1 11 3-2-6-4-10 4-9 11 0 8 2-2-6-2-12 9-5 11 3M477 227l9-8 8 1 5 11 2 5 5-7 10-7 8 7 3 12 3 1 8-11 10-1 6 11 3 5 3-6M487 221l-5 13-2 5 9-4 14 0 2 9-6 13 2 2 11-5 13 2-2 14-3 9 8-4 11-3 6 8M480 215l9 7 4 10 3-3 7-12 9 0 7 8 6 3 0-10 5-10 11 2 8 6M478 229l5-13 9-2 9 11 3 4 2-12 6-10 11 4 9 7 0-4-2-11 4-10 12 3 10 6M484 219l3 9 1 8 5-3 12-4 6 9-4 12-1 4 12-2 11 4-2 11-6 7M488 216l3 10-7 13-1 3 15-5 10 5-3 14-6 8 6-2 16-3 6 8-6 12M482 217l6 12 3 4 5-11 6-7 8 2 7 13 3 3 4-10 7-7 10 4 5 7 2-2M476 223l11 3 4 8-7 9-8 7 8 2 12 4 0 9-9 10 0 4 13 0 9 7-4 10-4 6M479 228l-2 6 7-2 13-1 4 10-5 11 3 1 12-1 7 8-7 12-4 5 10 1 10 4 0 8M480 213l8 5 5 14 2 5 4-10 8-10 10 5 3 12 1 4 5-10 13-8 7 6M486 230l1 0-1-11 3-12 12 2 10 8 0-6-1-14 8-5 15 6 4 1-6-10-3-13 9-5 14 5 4 1-4-9M483 215l6 14 1 7 5-11 8-9 8 3 6 14 2 5 4-11 8-9 10 6 6 12 2-1M484 224l-3 10 3 0 13-3 6 5-1 10-6 10 4 0 15 0 4 9-8 12-1 3 8 0" stroke="#2c2cfa"/><path d="M476 230l-2 4 12-4 12 0 2 10-9 13-2 2 12-1 12 7-4 9M486 231l-6-11 0-11 13-2 13 6-2-5-8-15 4-8 17 1 8 2-9-10-4-12 9-6M476 220l13 0 5-1-5-7-4-11 4-6 11-1 6 0-3-6-2-11 9-5 13 2 1-3-5-9-1-10" stroke="#f52c2c"/></g>
<ellipse cx="236" cy="111" rx="25" ry="14" transform="rotate(30 236 111)" fill="#5d60e6" fill-opacity="0.75"/>
<g fill="#2a2b45" fill-opacity="0.75"><circle cx="246.3" cy="124.7" r="1.1"/><circle cx="247.3" cy="114.6" r="0.9"/><circle cx="239.5" cy="100.9" r="1.0"/><circle cx="234.5" cy="101.5" r="1.2"/><circle cx="241.1" cy="118.8" r="1.3"/><circle cx="226.8" cy="111.6" r="1.2"/><circle cx="232.4" cy="104.6" r="1.1"/><circle cx="233.9" cy="104.6" r="1.1"/><circle cx="242.0" cy="120.6" r="0.8"/><circle cx="235.7" cy="125.0" r="1.0"/><circle cx="250.0" cy="118.5" r="1.1"/><circle cx="251.8" cy="111.2" r="0.9"/><circle cx="224.7" cy="98.2" r="0.9"/><circle cx="248.7" cy="126.2" r="1.1"/><circle cx="236.7" cy="120.9" r="0.9"/><circle cx="244.7" cy="105.9" r="0.9"/><circle cx="240.3" cy="109.4" r="0.9"/><circle cx="252.6" cy="122.9" r="0.9"/><circle cx="230.1" cy="106.8" r="1.0"/><circle cx="234.3" cy="100.0" r="1.0"/><circle cx="221.9" cy="103.8" r="1.1"/><circle cx="245.3" cy="122.2" r="0.9"/><circle cx="254.0" cy="110.5" r="0.8"/><circle cx="242.6" cy="124.7" r="1.1"/><circle cx="252.7" cy="122.1" r="1.3"/><circle cx="223.4" cy="107.8" r="1.1"/><circle cx="247.1" cy="114.5" r="1.0"/><circle cx="237.4" cy="122.8" r="1.0"/><circle cx="231.5" cy="117.7" r="0.8"/><circle cx="222.2" cy="116.8" r="1.1"/><circle cx="225.8" cy="119.3" r="1.0"/><circle cx="234.7" cy="113.1" r="0.9"/><circle cx="236.2" cy="117.9" r="1.2"/><circle cx="231.8" cy="116.0" r="1.1"/><circle cx="247.5" cy="113.6" r="1.2"/><circle cx="221.9" cy="111.1" r="1.1"/><circle cx="254.9" cy="117.3" r="1.1"/><circle cx="246.1" cy="109.2" r="1.0"/><circle cx="252.1" cy="117.5" r="1.2"/><circle cx="222.5" cy="116.4" r="1.1"/><circle cx="230.1" cy="122.1" r="1.0"/><circle cx="227.5" cy="112.6" r="0.9"/><circle cx="236.1" cy="123.0" r="0.9"/><circle cx="230.9" cy="118.1" r="1.1"/><circle cx="218.6" cy="110.0" r="0.9"/><circle cx="223.7" cy="111.1" r="0.9"/><circle cx="234.9" cy="116.0" r="1.2"/><circle cx="242.1" cy="124.3" r="0.9"/><circle cx="230.0" cy="97.9" r="1.0"/><circle cx="253.5" cy="116.1" r="1.1"/><circle cx="247.5" cy="120.4" r="0.9"/><circle cx="215.1" cy="101.7" r="1.2"/><circle cx="249.8" cy="123.7" r="1.3"/><circle cx="230.3" cy="106.5" r="1.2"/><circle cx="214.7" cy="105.4" r="1.2"/><circle cx="251.0" cy="106.9" r="0.8"/><circle cx="242.5" cy="106.8" r="0.9"/><circle cx="221.0" cy="110.3" r="0.8"/><circle cx="216.7" cy="104.0" r="1.0"/><circle cx="225.5" cy="103.5" r="1.3"/><circle cx="230.8" cy="120.4" r="1.1"/><circle cx="256.7" cy="123.0" r="0.9"/><circle cx="256.4" cy="121.7" r="1.3"/><circle cx="247.3" cy="110.0" r="1.0"/><circle cx="219.4" cy="113.4" r="0.8"/><circle cx="244.5" cy="127.0" r="1.2"/><circle cx="236.5" cy="97.1" r="1.1"/><circle cx="246.8" cy="108.6" r="1.3"/><circle cx="246.6" cy="121.4" r="1.1"/><circle cx="243.7" cy="106.1" r="1.1"/><circle cx="250.0" cy="117.1" r="0.9"/><circle cx="253.8" cy="123.9" r="1.0"/><circle cx="221.6" cy="109.7" r="0.9"/><circle cx="234.7" cy="117.4" r="0.9"/><circle cx="245.0" cy="110.4" r="0.8"/><circle cx="250.0" cy="110.7" r="0.8"/><circle cx="233.0" cy="98.2" r="1.1"/><circle cx="242.2" cy="104.9" r="0.9"/><circle cx="240.5" cy="101.7" r="1.2"/><circle cx="237.5" cy="120.3" r="1.1"/><circle cx="220.6" cy="109.8" r="1.0"/><circle cx="240.2" cy="104.5" r="1.0"/><circle cx="244.7" cy="108.6" r="0.9"/><circle cx="232.8" cy="105.0" r="1.2"/><circle cx="226.8" cy="119.8" r="1.1"/><circle cx="240.6" cy="122.6" r="1.1"/><circle cx="219.0" cy="102.3" r="1.0"/><circle cx="245.1" cy="114.6" r="1.2"/><circle cx="250.0" cy="120.6" r="0.8"/><circle cx="243.1" cy="123.6" r="1.3"/><circle cx="227.4" cy="114.9" r="1.0"/><circle cx="228.6" cy="101.3" r="1.0"/><circle cx="249.2" cy="109.7" r="1.0"/><circle cx="250.5" cy="105.7" r="1.0"/><circle cx="247.1" cy="118.2" r="1.2"/><circle cx="237.8" cy="117.9" r="1.2"/><circle cx="246.5" cy="126.2" r="0.9"/><circle cx="220.6" cy="109.6" r="0.9"/><circle cx="242.4" cy="104.9" r="1.2"/><circle cx="238.3" cy="108.2" r="1.2"/><circle cx="243.3" cy="108.5" r="1.1"/><circle cx="235.6" cy="121.4" r="1.2"/><circle cx="221.8" cy="110.5" r="0.9"/><circle cx="250.6" cy="110.4" r="1.2"/><circle cx="249.0" cy="124.8" r="0.8"/><circle cx="227.7" cy="103.7" r="1.3"/><circle cx="244.5" cy="122.3" r="1.0"/><circle cx="230.9" cy="110.6" r="1.1"/><circle cx="249.0" cy="116.9" r="1.2"/><circle cx="227.4" cy="112.7" r="1.0"/><circle cx="255.1" cy="119.7" r="1.1"/><circle cx="248.5" cy="120.7" r="0.8"/><circle cx="246.3" cy="120.4" r="0.9"/><circle cx="245.0" cy="122.7" r="1.2"/><circle cx="256.6" cy="116.4" r="1.0"/><circle cx="239.1" cy="126.1" r="1.0"/><circle cx="220.7" cy="113.5" r="1.1"/><circle cx="254.2" cy="117.8" r="1.3"/><circle cx="242.4" cy="126.6" r="1.1"/><circle cx="235.6" cy="103.0" r="0.9"/><circle cx="231.0" cy="114.0" r="1.3"/><circle cx="241.3" cy="119.1" r="1.1"/><circle cx="235.8" cy="117.6" r="0.9"/><circle cx="235.6" cy="112.3" r="1.2"/><circle cx="232.8" cy="102.1" r="1.2"/><circle cx="228.0" cy="103.8" r="1.3"/><circle cx="232.6" cy="122.4" r="1.2"/><circle cx="255.0" cy="122.2" r="1.0"/><circle cx="215.9" cy="99.2" r="1.0"/><circle cx="234.8" cy="113.6" r="1.2"/></g>
</svg>
</body></html>
